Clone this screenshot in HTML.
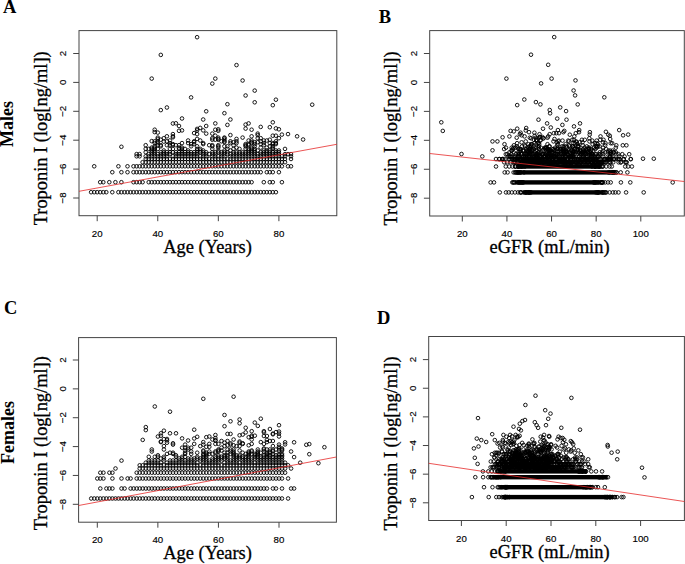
<!DOCTYPE html>
<html><head><meta charset="utf-8"><style>
html,body{margin:0;padding:0;background:#fff;}
svg{display:block;}
.t{font-family:"Liberation Sans",sans-serif;font-size:9.7px;text-anchor:middle;fill:#000;stroke:#000;stroke-width:0.15px;}
.lab{font-family:"Liberation Serif",serif;font-size:18.4px;text-anchor:middle;fill:#000;stroke:#000;stroke-width:0.3px;}
.let{font-family:"Liberation Serif",serif;font-size:18.5px;font-weight:bold;fill:#000;}
.grp{font-family:"Liberation Serif",serif;font-size:18px;font-weight:bold;text-anchor:middle;fill:#000;}
</style></head><body>
<svg width="685" height="564" viewBox="0 0 685 564">
<rect x="79" y="30.6" width="257.80" height="185.10" fill="none" stroke="#444" stroke-width="1"/><line x1="97.20" y1="215.7" x2="97.20" y2="221.20" stroke="#444" stroke-width="1"/><text class="t" x="97.20" y="236.9">20</text><line x1="157.77" y1="215.7" x2="157.77" y2="221.20" stroke="#444" stroke-width="1"/><text class="t" x="157.77" y="236.9">40</text><line x1="218.33" y1="215.7" x2="218.33" y2="221.20" stroke="#444" stroke-width="1"/><text class="t" x="218.33" y="236.9">60</text><line x1="278.90" y1="215.7" x2="278.90" y2="221.20" stroke="#444" stroke-width="1"/><text class="t" x="278.90" y="236.9">80</text><line x1="73.20" y1="198.00" x2="79" y2="198.00" stroke="#444" stroke-width="1"/><text class="t" transform="translate(66.4,198.00) rotate(-90)">−8</text><line x1="73.20" y1="169.10" x2="79" y2="169.10" stroke="#444" stroke-width="1"/><text class="t" transform="translate(66.4,169.10) rotate(-90)">−6</text><line x1="73.20" y1="140.20" x2="79" y2="140.20" stroke="#444" stroke-width="1"/><text class="t" transform="translate(66.4,140.20) rotate(-90)">−4</text><line x1="73.20" y1="111.30" x2="79" y2="111.30" stroke="#444" stroke-width="1"/><text class="t" transform="translate(66.4,111.30) rotate(-90)">−2</text><line x1="73.20" y1="82.40" x2="79" y2="82.40" stroke="#444" stroke-width="1"/><text class="t" transform="translate(66.4,82.40) rotate(-90)">0</text><line x1="73.20" y1="53.50" x2="79" y2="53.50" stroke="#444" stroke-width="1"/><text class="t" transform="translate(66.4,53.50) rotate(-90)">2</text><text class="lab" x="207.6" y="252.7">Age (Years)</text><text class="lab" transform="translate(47.0,138.3) rotate(-90)">Troponin I (log[ng/ml])</text><text class="let" x="3.0" y="12.6">A</text><rect x="429.7" y="30.6" width="254.60" height="185.40" fill="none" stroke="#444" stroke-width="1"/><line x1="462.30" y1="216.0" x2="462.30" y2="221.50" stroke="#444" stroke-width="1"/><text class="t" x="462.30" y="237.2">20</text><line x1="506.93" y1="216.0" x2="506.93" y2="221.50" stroke="#444" stroke-width="1"/><text class="t" x="506.93" y="237.2">40</text><line x1="551.55" y1="216.0" x2="551.55" y2="221.50" stroke="#444" stroke-width="1"/><text class="t" x="551.55" y="237.2">60</text><line x1="596.17" y1="216.0" x2="596.17" y2="221.50" stroke="#444" stroke-width="1"/><text class="t" x="596.17" y="237.2">80</text><line x1="640.80" y1="216.0" x2="640.80" y2="221.50" stroke="#444" stroke-width="1"/><text class="t" x="640.80" y="237.2">100</text><line x1="423.90" y1="198.20" x2="429.7" y2="198.20" stroke="#444" stroke-width="1"/><text class="t" transform="translate(416.6,198.20) rotate(-90)">−8</text><line x1="423.90" y1="169.26" x2="429.7" y2="169.26" stroke="#444" stroke-width="1"/><text class="t" transform="translate(416.6,169.26) rotate(-90)">−6</text><line x1="423.90" y1="140.32" x2="429.7" y2="140.32" stroke="#444" stroke-width="1"/><text class="t" transform="translate(416.6,140.32) rotate(-90)">−4</text><line x1="423.90" y1="111.38" x2="429.7" y2="111.38" stroke="#444" stroke-width="1"/><text class="t" transform="translate(416.6,111.38) rotate(-90)">−2</text><line x1="423.90" y1="82.44" x2="429.7" y2="82.44" stroke="#444" stroke-width="1"/><text class="t" transform="translate(416.6,82.44) rotate(-90)">0</text><line x1="423.90" y1="53.50" x2="429.7" y2="53.50" stroke="#444" stroke-width="1"/><text class="t" transform="translate(416.6,53.50) rotate(-90)">2</text><text class="lab" x="549.5" y="252.7">eGFR (mL/min)</text><text class="lab" transform="translate(397.0,138.5) rotate(-90)">Troponin I (log[ng/ml])</text><text class="let" x="378.8" y="22.8">B</text><rect x="78.6" y="337.6" width="257.80" height="184.60" fill="none" stroke="#444" stroke-width="1"/><line x1="97.30" y1="522.2" x2="97.30" y2="527.70" stroke="#444" stroke-width="1"/><text class="t" x="97.30" y="543.4">20</text><line x1="157.87" y1="522.2" x2="157.87" y2="527.70" stroke="#444" stroke-width="1"/><text class="t" x="157.87" y="543.4">40</text><line x1="218.43" y1="522.2" x2="218.43" y2="527.70" stroke="#444" stroke-width="1"/><text class="t" x="218.43" y="543.4">60</text><line x1="279.00" y1="522.2" x2="279.00" y2="527.70" stroke="#444" stroke-width="1"/><text class="t" x="279.00" y="543.4">80</text><line x1="72.80" y1="504.30" x2="78.6" y2="504.30" stroke="#444" stroke-width="1"/><text class="t" transform="translate(66.2,504.30) rotate(-90)">−8</text><line x1="72.80" y1="475.44" x2="78.6" y2="475.44" stroke="#444" stroke-width="1"/><text class="t" transform="translate(66.2,475.44) rotate(-90)">−6</text><line x1="72.80" y1="446.58" x2="78.6" y2="446.58" stroke="#444" stroke-width="1"/><text class="t" transform="translate(66.2,446.58) rotate(-90)">−4</text><line x1="72.80" y1="417.72" x2="78.6" y2="417.72" stroke="#444" stroke-width="1"/><text class="t" transform="translate(66.2,417.72) rotate(-90)">−2</text><line x1="72.80" y1="388.86" x2="78.6" y2="388.86" stroke="#444" stroke-width="1"/><text class="t" transform="translate(66.2,388.86) rotate(-90)">0</text><line x1="72.80" y1="360.00" x2="78.6" y2="360.00" stroke="#444" stroke-width="1"/><text class="t" transform="translate(66.2,360.00) rotate(-90)">2</text><text class="lab" x="207.6" y="559.2">Age (Years)</text><text class="lab" transform="translate(47.0,443.2) rotate(-90)">Troponin I (log[ng/ml])</text><text class="let" x="3.9" y="313.6">C</text><rect x="428.7" y="336.5" width="255.70" height="184.00" fill="none" stroke="#444" stroke-width="1"/><line x1="461.40" y1="520.5" x2="461.40" y2="526.00" stroke="#444" stroke-width="1"/><text class="t" x="461.40" y="541.9">20</text><line x1="506.20" y1="520.5" x2="506.20" y2="526.00" stroke="#444" stroke-width="1"/><text class="t" x="506.20" y="541.9">40</text><line x1="551.00" y1="520.5" x2="551.00" y2="526.00" stroke="#444" stroke-width="1"/><text class="t" x="551.00" y="541.9">60</text><line x1="595.80" y1="520.5" x2="595.80" y2="526.00" stroke="#444" stroke-width="1"/><text class="t" x="595.80" y="541.9">80</text><line x1="640.60" y1="520.5" x2="640.60" y2="526.00" stroke="#444" stroke-width="1"/><text class="t" x="640.60" y="541.9">100</text><line x1="422.90" y1="502.80" x2="428.7" y2="502.80" stroke="#444" stroke-width="1"/><text class="t" transform="translate(416.2,502.80) rotate(-90)">−8</text><line x1="422.90" y1="474.16" x2="428.7" y2="474.16" stroke="#444" stroke-width="1"/><text class="t" transform="translate(416.2,474.16) rotate(-90)">−6</text><line x1="422.90" y1="445.52" x2="428.7" y2="445.52" stroke="#444" stroke-width="1"/><text class="t" transform="translate(416.2,445.52) rotate(-90)">−4</text><line x1="422.90" y1="416.88" x2="428.7" y2="416.88" stroke="#444" stroke-width="1"/><text class="t" transform="translate(416.2,416.88) rotate(-90)">−2</text><line x1="422.90" y1="388.24" x2="428.7" y2="388.24" stroke="#444" stroke-width="1"/><text class="t" transform="translate(416.2,388.24) rotate(-90)">0</text><line x1="422.90" y1="359.60" x2="428.7" y2="359.60" stroke="#444" stroke-width="1"/><text class="t" transform="translate(416.2,359.60) rotate(-90)">2</text><text class="lab" x="549.5" y="557.7">eGFR (mL/min)</text><text class="lab" transform="translate(397.0,443.5) rotate(-90)">Troponin I (log[ng/ml])</text><text class="let" x="377.1" y="323.6">D</text><text class="grp" transform="translate(13.0,124.0) rotate(-90)">Males</text><text class="grp" transform="translate(13.8,432.5) rotate(-90)">Females</text>
<path d="M89.3 192.2a1.8 1.8 0 1 0 3.6 0a1.8 1.8 0 1 0-3.6 0M92.4 166.3a1.8 1.8 0 1 0 3.6 0a1.8 1.8 0 1 0-3.6 0M92.4 192.2a1.8 1.8 0 1 0 3.6 0a1.8 1.8 0 1 0-3.6 0M95.4 192.2a1.8 1.8 0 1 0 3.6 0a1.8 1.8 0 1 0-3.6 0M98.4 182.2a1.8 1.8 0 1 0 3.6 0a1.8 1.8 0 1 0-3.6 0M98.4 192.2a1.8 1.8 0 1 0 3.6 0a1.8 1.8 0 1 0-3.6 0M101.5 182.2a1.8 1.8 0 1 0 3.6 0a1.8 1.8 0 1 0-3.6 0M101.5 192.2a1.8 1.8 0 1 0 3.6 0a1.8 1.8 0 1 0-3.6 0M104.5 192.2a1.8 1.8 0 1 0 3.6 0a1.8 1.8 0 1 0-3.6 0M107.5 182.2a1.8 1.8 0 1 0 3.6 0a1.8 1.8 0 1 0-3.6 0M110.5 172.2a1.8 1.8 0 1 0 3.6 0a1.8 1.8 0 1 0-3.6 0M110.5 192.2a1.8 1.8 0 1 0 3.6 0a1.8 1.8 0 1 0-3.6 0M113.6 182.2a1.8 1.8 0 1 0 3.6 0a1.8 1.8 0 1 0-3.6 0M116.6 166.3a1.8 1.8 0 1 0 3.6 0a1.8 1.8 0 1 0-3.6 0M116.6 192.2a1.8 1.8 0 1 0 3.6 0a1.8 1.8 0 1 0-3.6 0M119.6 146.8a1.8 1.8 0 1 0 3.6 0a1.8 1.8 0 1 0-3.6 0M119.6 172.2a1.8 1.8 0 1 0 3.6 0a1.8 1.8 0 1 0-3.6 0M119.6 182.2a1.8 1.8 0 1 0 3.6 0a1.8 1.8 0 1 0-3.6 0M119.6 192.2a1.8 1.8 0 1 0 3.6 0a1.8 1.8 0 1 0-3.6 0M122.7 192.2a1.8 1.8 0 1 0 3.6 0a1.8 1.8 0 1 0-3.6 0M125.7 166.3a1.8 1.8 0 1 0 3.6 0a1.8 1.8 0 1 0-3.6 0M125.7 172.2a1.8 1.8 0 1 0 3.6 0a1.8 1.8 0 1 0-3.6 0M125.7 192.2a1.8 1.8 0 1 0 3.6 0a1.8 1.8 0 1 0-3.6 0M128.7 192.2a1.8 1.8 0 1 0 3.6 0a1.8 1.8 0 1 0-3.6 0M131.7 166.3a1.8 1.8 0 1 0 3.6 0a1.8 1.8 0 1 0-3.6 0M131.7 172.2a1.8 1.8 0 1 0 3.6 0a1.8 1.8 0 1 0-3.6 0M131.7 182.2a1.8 1.8 0 1 0 3.6 0a1.8 1.8 0 1 0-3.6 0M131.7 192.2a1.8 1.8 0 1 0 3.6 0a1.8 1.8 0 1 0-3.6 0M134.8 154.1a1.8 1.8 0 1 0 3.6 0a1.8 1.8 0 1 0-3.6 0M134.8 156.3a1.8 1.8 0 1 0 3.6 0a1.8 1.8 0 1 0-3.6 0M134.8 166.3a1.8 1.8 0 1 0 3.6 0a1.8 1.8 0 1 0-3.6 0M134.8 172.2a1.8 1.8 0 1 0 3.6 0a1.8 1.8 0 1 0-3.6 0M134.8 182.2a1.8 1.8 0 1 0 3.6 0a1.8 1.8 0 1 0-3.6 0M134.8 192.2a1.8 1.8 0 1 0 3.6 0a1.8 1.8 0 1 0-3.6 0M137.8 154.1a1.8 1.8 0 1 0 3.6 0a1.8 1.8 0 1 0-3.6 0M137.8 156.3a1.8 1.8 0 1 0 3.6 0a1.8 1.8 0 1 0-3.6 0M137.8 166.3a1.8 1.8 0 1 0 3.6 0a1.8 1.8 0 1 0-3.6 0M137.8 172.2a1.8 1.8 0 1 0 3.6 0a1.8 1.8 0 1 0-3.6 0M137.8 182.2a1.8 1.8 0 1 0 3.6 0a1.8 1.8 0 1 0-3.6 0M137.8 192.2a1.8 1.8 0 1 0 3.6 0a1.8 1.8 0 1 0-3.6 0M140.8 162.2a1.8 1.8 0 1 0 3.6 0a1.8 1.8 0 1 0-3.6 0M140.8 166.3a1.8 1.8 0 1 0 3.6 0a1.8 1.8 0 1 0-3.6 0M140.8 172.2a1.8 1.8 0 1 0 3.6 0a1.8 1.8 0 1 0-3.6 0M140.8 182.2a1.8 1.8 0 1 0 3.6 0a1.8 1.8 0 1 0-3.6 0M140.8 192.2a1.8 1.8 0 1 0 3.6 0a1.8 1.8 0 1 0-3.6 0M143.9 145.2a1.8 1.8 0 1 0 3.6 0a1.8 1.8 0 1 0-3.6 0M143.9 148.9a1.8 1.8 0 1 0 3.6 0a1.8 1.8 0 1 0-3.6 0M143.9 152.2a1.8 1.8 0 1 0 3.6 0a1.8 1.8 0 1 0-3.6 0M143.9 156.3a1.8 1.8 0 1 0 3.6 0a1.8 1.8 0 1 0-3.6 0M143.9 159.0a1.8 1.8 0 1 0 3.6 0a1.8 1.8 0 1 0-3.6 0M143.9 162.2a1.8 1.8 0 1 0 3.6 0a1.8 1.8 0 1 0-3.6 0M143.9 166.3a1.8 1.8 0 1 0 3.6 0a1.8 1.8 0 1 0-3.6 0M143.9 172.2a1.8 1.8 0 1 0 3.6 0a1.8 1.8 0 1 0-3.6 0M143.9 192.2a1.8 1.8 0 1 0 3.6 0a1.8 1.8 0 1 0-3.6 0M146.9 148.9a1.8 1.8 0 1 0 3.6 0a1.8 1.8 0 1 0-3.6 0M146.9 154.1a1.8 1.8 0 1 0 3.6 0a1.8 1.8 0 1 0-3.6 0M146.9 156.3a1.8 1.8 0 1 0 3.6 0a1.8 1.8 0 1 0-3.6 0M146.9 159.0a1.8 1.8 0 1 0 3.6 0a1.8 1.8 0 1 0-3.6 0M146.9 162.2a1.8 1.8 0 1 0 3.6 0a1.8 1.8 0 1 0-3.6 0M146.9 166.3a1.8 1.8 0 1 0 3.6 0a1.8 1.8 0 1 0-3.6 0M146.9 172.2a1.8 1.8 0 1 0 3.6 0a1.8 1.8 0 1 0-3.6 0M146.9 182.2a1.8 1.8 0 1 0 3.6 0a1.8 1.8 0 1 0-3.6 0M146.9 192.2a1.8 1.8 0 1 0 3.6 0a1.8 1.8 0 1 0-3.6 0M149.9 78.6a1.8 1.8 0 1 0 3.6 0a1.8 1.8 0 1 0-3.6 0M149.9 141.1a1.8 1.8 0 1 0 3.6 0a1.8 1.8 0 1 0-3.6 0M149.9 147.6a1.8 1.8 0 1 0 3.6 0a1.8 1.8 0 1 0-3.6 0M149.9 148.9a1.8 1.8 0 1 0 3.6 0a1.8 1.8 0 1 0-3.6 0M149.9 150.5a1.8 1.8 0 1 0 3.6 0a1.8 1.8 0 1 0-3.6 0M149.9 152.2a1.8 1.8 0 1 0 3.6 0a1.8 1.8 0 1 0-3.6 0M149.9 154.1a1.8 1.8 0 1 0 3.6 0a1.8 1.8 0 1 0-3.6 0M149.9 156.3a1.8 1.8 0 1 0 3.6 0a1.8 1.8 0 1 0-3.6 0M149.9 159.0a1.8 1.8 0 1 0 3.6 0a1.8 1.8 0 1 0-3.6 0M149.9 162.2a1.8 1.8 0 1 0 3.6 0a1.8 1.8 0 1 0-3.6 0M149.9 166.3a1.8 1.8 0 1 0 3.6 0a1.8 1.8 0 1 0-3.6 0M149.9 172.2a1.8 1.8 0 1 0 3.6 0a1.8 1.8 0 1 0-3.6 0M149.9 182.2a1.8 1.8 0 1 0 3.6 0a1.8 1.8 0 1 0-3.6 0M149.9 192.2a1.8 1.8 0 1 0 3.6 0a1.8 1.8 0 1 0-3.6 0M152.9 129.7a1.8 1.8 0 1 0 3.6 0a1.8 1.8 0 1 0-3.6 0M152.9 132.1a1.8 1.8 0 1 0 3.6 0a1.8 1.8 0 1 0-3.6 0M152.9 141.3a1.8 1.8 0 1 0 3.6 0a1.8 1.8 0 1 0-3.6 0M152.9 143.1a1.8 1.8 0 1 0 3.6 0a1.8 1.8 0 1 0-3.6 0M152.9 146.3a1.8 1.8 0 1 0 3.6 0a1.8 1.8 0 1 0-3.6 0M152.9 147.6a1.8 1.8 0 1 0 3.6 0a1.8 1.8 0 1 0-3.6 0M152.9 148.9a1.8 1.8 0 1 0 3.6 0a1.8 1.8 0 1 0-3.6 0M152.9 150.5a1.8 1.8 0 1 0 3.6 0a1.8 1.8 0 1 0-3.6 0M152.9 152.2a1.8 1.8 0 1 0 3.6 0a1.8 1.8 0 1 0-3.6 0M152.9 154.1a1.8 1.8 0 1 0 3.6 0a1.8 1.8 0 1 0-3.6 0M152.9 156.3a1.8 1.8 0 1 0 3.6 0a1.8 1.8 0 1 0-3.6 0M152.9 159.0a1.8 1.8 0 1 0 3.6 0a1.8 1.8 0 1 0-3.6 0M152.9 162.2a1.8 1.8 0 1 0 3.6 0a1.8 1.8 0 1 0-3.6 0M152.9 166.3a1.8 1.8 0 1 0 3.6 0a1.8 1.8 0 1 0-3.6 0M152.9 172.2a1.8 1.8 0 1 0 3.6 0a1.8 1.8 0 1 0-3.6 0M152.9 182.2a1.8 1.8 0 1 0 3.6 0a1.8 1.8 0 1 0-3.6 0M152.9 192.2a1.8 1.8 0 1 0 3.6 0a1.8 1.8 0 1 0-3.6 0M156.0 132.6a1.8 1.8 0 1 0 3.6 0a1.8 1.8 0 1 0-3.6 0M156.0 137.6a1.8 1.8 0 1 0 3.6 0a1.8 1.8 0 1 0-3.6 0M156.0 138.9a1.8 1.8 0 1 0 3.6 0a1.8 1.8 0 1 0-3.6 0M156.0 141.3a1.8 1.8 0 1 0 3.6 0a1.8 1.8 0 1 0-3.6 0M156.0 143.1a1.8 1.8 0 1 0 3.6 0a1.8 1.8 0 1 0-3.6 0M156.0 145.2a1.8 1.8 0 1 0 3.6 0a1.8 1.8 0 1 0-3.6 0M156.0 148.9a1.8 1.8 0 1 0 3.6 0a1.8 1.8 0 1 0-3.6 0M156.0 154.1a1.8 1.8 0 1 0 3.6 0a1.8 1.8 0 1 0-3.6 0M156.0 156.3a1.8 1.8 0 1 0 3.6 0a1.8 1.8 0 1 0-3.6 0M156.0 159.0a1.8 1.8 0 1 0 3.6 0a1.8 1.8 0 1 0-3.6 0M156.0 162.2a1.8 1.8 0 1 0 3.6 0a1.8 1.8 0 1 0-3.6 0M156.0 166.3a1.8 1.8 0 1 0 3.6 0a1.8 1.8 0 1 0-3.6 0M156.0 172.2a1.8 1.8 0 1 0 3.6 0a1.8 1.8 0 1 0-3.6 0M156.0 182.2a1.8 1.8 0 1 0 3.6 0a1.8 1.8 0 1 0-3.6 0M156.0 192.2a1.8 1.8 0 1 0 3.6 0a1.8 1.8 0 1 0-3.6 0M159.0 54.9a1.8 1.8 0 1 0 3.6 0a1.8 1.8 0 1 0-3.6 0M159.0 110.1a1.8 1.8 0 1 0 3.6 0a1.8 1.8 0 1 0-3.6 0M159.0 139.7a1.8 1.8 0 1 0 3.6 0a1.8 1.8 0 1 0-3.6 0M159.0 145.2a1.8 1.8 0 1 0 3.6 0a1.8 1.8 0 1 0-3.6 0M159.0 146.3a1.8 1.8 0 1 0 3.6 0a1.8 1.8 0 1 0-3.6 0M159.0 152.2a1.8 1.8 0 1 0 3.6 0a1.8 1.8 0 1 0-3.6 0M159.0 154.1a1.8 1.8 0 1 0 3.6 0a1.8 1.8 0 1 0-3.6 0M159.0 156.3a1.8 1.8 0 1 0 3.6 0a1.8 1.8 0 1 0-3.6 0M159.0 159.0a1.8 1.8 0 1 0 3.6 0a1.8 1.8 0 1 0-3.6 0M159.0 162.2a1.8 1.8 0 1 0 3.6 0a1.8 1.8 0 1 0-3.6 0M159.0 166.3a1.8 1.8 0 1 0 3.6 0a1.8 1.8 0 1 0-3.6 0M159.0 172.2a1.8 1.8 0 1 0 3.6 0a1.8 1.8 0 1 0-3.6 0M159.0 182.2a1.8 1.8 0 1 0 3.6 0a1.8 1.8 0 1 0-3.6 0M159.0 192.2a1.8 1.8 0 1 0 3.6 0a1.8 1.8 0 1 0-3.6 0M162.0 138.2a1.8 1.8 0 1 0 3.6 0a1.8 1.8 0 1 0-3.6 0M162.0 141.6a1.8 1.8 0 1 0 3.6 0a1.8 1.8 0 1 0-3.6 0M162.0 150.5a1.8 1.8 0 1 0 3.6 0a1.8 1.8 0 1 0-3.6 0M162.0 152.2a1.8 1.8 0 1 0 3.6 0a1.8 1.8 0 1 0-3.6 0M162.0 154.1a1.8 1.8 0 1 0 3.6 0a1.8 1.8 0 1 0-3.6 0M162.0 156.3a1.8 1.8 0 1 0 3.6 0a1.8 1.8 0 1 0-3.6 0M162.0 159.0a1.8 1.8 0 1 0 3.6 0a1.8 1.8 0 1 0-3.6 0M162.0 162.2a1.8 1.8 0 1 0 3.6 0a1.8 1.8 0 1 0-3.6 0M162.0 166.3a1.8 1.8 0 1 0 3.6 0a1.8 1.8 0 1 0-3.6 0M162.0 172.2a1.8 1.8 0 1 0 3.6 0a1.8 1.8 0 1 0-3.6 0M162.0 182.2a1.8 1.8 0 1 0 3.6 0a1.8 1.8 0 1 0-3.6 0M162.0 192.2a1.8 1.8 0 1 0 3.6 0a1.8 1.8 0 1 0-3.6 0M165.1 107.5a1.8 1.8 0 1 0 3.6 0a1.8 1.8 0 1 0-3.6 0M165.1 136.3a1.8 1.8 0 1 0 3.6 0a1.8 1.8 0 1 0-3.6 0M165.1 141.3a1.8 1.8 0 1 0 3.6 0a1.8 1.8 0 1 0-3.6 0M165.1 145.2a1.8 1.8 0 1 0 3.6 0a1.8 1.8 0 1 0-3.6 0M165.1 152.2a1.8 1.8 0 1 0 3.6 0a1.8 1.8 0 1 0-3.6 0M165.1 154.1a1.8 1.8 0 1 0 3.6 0a1.8 1.8 0 1 0-3.6 0M165.1 156.3a1.8 1.8 0 1 0 3.6 0a1.8 1.8 0 1 0-3.6 0M165.1 159.0a1.8 1.8 0 1 0 3.6 0a1.8 1.8 0 1 0-3.6 0M165.1 162.2a1.8 1.8 0 1 0 3.6 0a1.8 1.8 0 1 0-3.6 0M165.1 166.3a1.8 1.8 0 1 0 3.6 0a1.8 1.8 0 1 0-3.6 0M165.1 172.2a1.8 1.8 0 1 0 3.6 0a1.8 1.8 0 1 0-3.6 0M165.1 182.2a1.8 1.8 0 1 0 3.6 0a1.8 1.8 0 1 0-3.6 0M165.1 192.2a1.8 1.8 0 1 0 3.6 0a1.8 1.8 0 1 0-3.6 0M168.1 140.5a1.8 1.8 0 1 0 3.6 0a1.8 1.8 0 1 0-3.6 0M168.1 143.1a1.8 1.8 0 1 0 3.6 0a1.8 1.8 0 1 0-3.6 0M168.1 145.2a1.8 1.8 0 1 0 3.6 0a1.8 1.8 0 1 0-3.6 0M168.1 148.9a1.8 1.8 0 1 0 3.6 0a1.8 1.8 0 1 0-3.6 0M168.1 152.2a1.8 1.8 0 1 0 3.6 0a1.8 1.8 0 1 0-3.6 0M168.1 154.1a1.8 1.8 0 1 0 3.6 0a1.8 1.8 0 1 0-3.6 0M168.1 159.0a1.8 1.8 0 1 0 3.6 0a1.8 1.8 0 1 0-3.6 0M168.1 162.2a1.8 1.8 0 1 0 3.6 0a1.8 1.8 0 1 0-3.6 0M168.1 166.3a1.8 1.8 0 1 0 3.6 0a1.8 1.8 0 1 0-3.6 0M168.1 172.2a1.8 1.8 0 1 0 3.6 0a1.8 1.8 0 1 0-3.6 0M168.1 182.2a1.8 1.8 0 1 0 3.6 0a1.8 1.8 0 1 0-3.6 0M168.1 192.2a1.8 1.8 0 1 0 3.6 0a1.8 1.8 0 1 0-3.6 0M171.1 123.5a1.8 1.8 0 1 0 3.6 0a1.8 1.8 0 1 0-3.6 0M171.1 134.1a1.8 1.8 0 1 0 3.6 0a1.8 1.8 0 1 0-3.6 0M171.1 136.3a1.8 1.8 0 1 0 3.6 0a1.8 1.8 0 1 0-3.6 0M171.1 137.3a1.8 1.8 0 1 0 3.6 0a1.8 1.8 0 1 0-3.6 0M171.1 144.1a1.8 1.8 0 1 0 3.6 0a1.8 1.8 0 1 0-3.6 0M171.1 145.2a1.8 1.8 0 1 0 3.6 0a1.8 1.8 0 1 0-3.6 0M171.1 148.9a1.8 1.8 0 1 0 3.6 0a1.8 1.8 0 1 0-3.6 0M171.1 152.2a1.8 1.8 0 1 0 3.6 0a1.8 1.8 0 1 0-3.6 0M171.1 156.3a1.8 1.8 0 1 0 3.6 0a1.8 1.8 0 1 0-3.6 0M171.1 159.0a1.8 1.8 0 1 0 3.6 0a1.8 1.8 0 1 0-3.6 0M171.1 162.2a1.8 1.8 0 1 0 3.6 0a1.8 1.8 0 1 0-3.6 0M171.1 166.3a1.8 1.8 0 1 0 3.6 0a1.8 1.8 0 1 0-3.6 0M171.1 172.2a1.8 1.8 0 1 0 3.6 0a1.8 1.8 0 1 0-3.6 0M171.1 182.2a1.8 1.8 0 1 0 3.6 0a1.8 1.8 0 1 0-3.6 0M171.1 192.2a1.8 1.8 0 1 0 3.6 0a1.8 1.8 0 1 0-3.6 0M174.1 123.3a1.8 1.8 0 1 0 3.6 0a1.8 1.8 0 1 0-3.6 0M174.1 145.2a1.8 1.8 0 1 0 3.6 0a1.8 1.8 0 1 0-3.6 0M174.1 152.2a1.8 1.8 0 1 0 3.6 0a1.8 1.8 0 1 0-3.6 0M174.1 154.1a1.8 1.8 0 1 0 3.6 0a1.8 1.8 0 1 0-3.6 0M174.1 156.3a1.8 1.8 0 1 0 3.6 0a1.8 1.8 0 1 0-3.6 0M174.1 159.0a1.8 1.8 0 1 0 3.6 0a1.8 1.8 0 1 0-3.6 0M174.1 162.2a1.8 1.8 0 1 0 3.6 0a1.8 1.8 0 1 0-3.6 0M174.1 166.3a1.8 1.8 0 1 0 3.6 0a1.8 1.8 0 1 0-3.6 0M174.1 172.2a1.8 1.8 0 1 0 3.6 0a1.8 1.8 0 1 0-3.6 0M174.1 182.2a1.8 1.8 0 1 0 3.6 0a1.8 1.8 0 1 0-3.6 0M174.1 192.2a1.8 1.8 0 1 0 3.6 0a1.8 1.8 0 1 0-3.6 0M177.2 126.0a1.8 1.8 0 1 0 3.6 0a1.8 1.8 0 1 0-3.6 0M177.2 130.8a1.8 1.8 0 1 0 3.6 0a1.8 1.8 0 1 0-3.6 0M177.2 145.2a1.8 1.8 0 1 0 3.6 0a1.8 1.8 0 1 0-3.6 0M177.2 147.6a1.8 1.8 0 1 0 3.6 0a1.8 1.8 0 1 0-3.6 0M177.2 148.9a1.8 1.8 0 1 0 3.6 0a1.8 1.8 0 1 0-3.6 0M177.2 152.2a1.8 1.8 0 1 0 3.6 0a1.8 1.8 0 1 0-3.6 0M177.2 154.1a1.8 1.8 0 1 0 3.6 0a1.8 1.8 0 1 0-3.6 0M177.2 156.3a1.8 1.8 0 1 0 3.6 0a1.8 1.8 0 1 0-3.6 0M177.2 159.0a1.8 1.8 0 1 0 3.6 0a1.8 1.8 0 1 0-3.6 0M177.2 162.2a1.8 1.8 0 1 0 3.6 0a1.8 1.8 0 1 0-3.6 0M177.2 166.3a1.8 1.8 0 1 0 3.6 0a1.8 1.8 0 1 0-3.6 0M177.2 172.2a1.8 1.8 0 1 0 3.6 0a1.8 1.8 0 1 0-3.6 0M177.2 182.2a1.8 1.8 0 1 0 3.6 0a1.8 1.8 0 1 0-3.6 0M177.2 192.2a1.8 1.8 0 1 0 3.6 0a1.8 1.8 0 1 0-3.6 0M180.2 118.5a1.8 1.8 0 1 0 3.6 0a1.8 1.8 0 1 0-3.6 0M180.2 130.4a1.8 1.8 0 1 0 3.6 0a1.8 1.8 0 1 0-3.6 0M180.2 143.1a1.8 1.8 0 1 0 3.6 0a1.8 1.8 0 1 0-3.6 0M180.2 147.6a1.8 1.8 0 1 0 3.6 0a1.8 1.8 0 1 0-3.6 0M180.2 148.9a1.8 1.8 0 1 0 3.6 0a1.8 1.8 0 1 0-3.6 0M180.2 150.5a1.8 1.8 0 1 0 3.6 0a1.8 1.8 0 1 0-3.6 0M180.2 152.2a1.8 1.8 0 1 0 3.6 0a1.8 1.8 0 1 0-3.6 0M180.2 154.1a1.8 1.8 0 1 0 3.6 0a1.8 1.8 0 1 0-3.6 0M180.2 156.3a1.8 1.8 0 1 0 3.6 0a1.8 1.8 0 1 0-3.6 0M180.2 159.0a1.8 1.8 0 1 0 3.6 0a1.8 1.8 0 1 0-3.6 0M180.2 162.2a1.8 1.8 0 1 0 3.6 0a1.8 1.8 0 1 0-3.6 0M180.2 166.3a1.8 1.8 0 1 0 3.6 0a1.8 1.8 0 1 0-3.6 0M180.2 172.2a1.8 1.8 0 1 0 3.6 0a1.8 1.8 0 1 0-3.6 0M180.2 182.2a1.8 1.8 0 1 0 3.6 0a1.8 1.8 0 1 0-3.6 0M180.2 192.2a1.8 1.8 0 1 0 3.6 0a1.8 1.8 0 1 0-3.6 0M183.2 148.9a1.8 1.8 0 1 0 3.6 0a1.8 1.8 0 1 0-3.6 0M183.2 152.2a1.8 1.8 0 1 0 3.6 0a1.8 1.8 0 1 0-3.6 0M183.2 154.1a1.8 1.8 0 1 0 3.6 0a1.8 1.8 0 1 0-3.6 0M183.2 156.3a1.8 1.8 0 1 0 3.6 0a1.8 1.8 0 1 0-3.6 0M183.2 159.0a1.8 1.8 0 1 0 3.6 0a1.8 1.8 0 1 0-3.6 0M183.2 162.2a1.8 1.8 0 1 0 3.6 0a1.8 1.8 0 1 0-3.6 0M183.2 166.3a1.8 1.8 0 1 0 3.6 0a1.8 1.8 0 1 0-3.6 0M183.2 172.2a1.8 1.8 0 1 0 3.6 0a1.8 1.8 0 1 0-3.6 0M183.2 182.2a1.8 1.8 0 1 0 3.6 0a1.8 1.8 0 1 0-3.6 0M183.2 192.2a1.8 1.8 0 1 0 3.6 0a1.8 1.8 0 1 0-3.6 0M186.3 140.5a1.8 1.8 0 1 0 3.6 0a1.8 1.8 0 1 0-3.6 0M186.3 143.1a1.8 1.8 0 1 0 3.6 0a1.8 1.8 0 1 0-3.6 0M186.3 150.5a1.8 1.8 0 1 0 3.6 0a1.8 1.8 0 1 0-3.6 0M186.3 152.2a1.8 1.8 0 1 0 3.6 0a1.8 1.8 0 1 0-3.6 0M186.3 154.1a1.8 1.8 0 1 0 3.6 0a1.8 1.8 0 1 0-3.6 0M186.3 156.3a1.8 1.8 0 1 0 3.6 0a1.8 1.8 0 1 0-3.6 0M186.3 159.0a1.8 1.8 0 1 0 3.6 0a1.8 1.8 0 1 0-3.6 0M186.3 162.2a1.8 1.8 0 1 0 3.6 0a1.8 1.8 0 1 0-3.6 0M186.3 166.3a1.8 1.8 0 1 0 3.6 0a1.8 1.8 0 1 0-3.6 0M186.3 172.2a1.8 1.8 0 1 0 3.6 0a1.8 1.8 0 1 0-3.6 0M186.3 182.2a1.8 1.8 0 1 0 3.6 0a1.8 1.8 0 1 0-3.6 0M186.3 192.2a1.8 1.8 0 1 0 3.6 0a1.8 1.8 0 1 0-3.6 0M189.3 97.4a1.8 1.8 0 1 0 3.6 0a1.8 1.8 0 1 0-3.6 0M189.3 144.1a1.8 1.8 0 1 0 3.6 0a1.8 1.8 0 1 0-3.6 0M189.3 146.3a1.8 1.8 0 1 0 3.6 0a1.8 1.8 0 1 0-3.6 0M189.3 152.2a1.8 1.8 0 1 0 3.6 0a1.8 1.8 0 1 0-3.6 0M189.3 154.1a1.8 1.8 0 1 0 3.6 0a1.8 1.8 0 1 0-3.6 0M189.3 156.3a1.8 1.8 0 1 0 3.6 0a1.8 1.8 0 1 0-3.6 0M189.3 159.0a1.8 1.8 0 1 0 3.6 0a1.8 1.8 0 1 0-3.6 0M189.3 162.2a1.8 1.8 0 1 0 3.6 0a1.8 1.8 0 1 0-3.6 0M189.3 166.3a1.8 1.8 0 1 0 3.6 0a1.8 1.8 0 1 0-3.6 0M189.3 172.2a1.8 1.8 0 1 0 3.6 0a1.8 1.8 0 1 0-3.6 0M189.3 182.2a1.8 1.8 0 1 0 3.6 0a1.8 1.8 0 1 0-3.6 0M189.3 192.2a1.8 1.8 0 1 0 3.6 0a1.8 1.8 0 1 0-3.6 0M192.3 133.1a1.8 1.8 0 1 0 3.6 0a1.8 1.8 0 1 0-3.6 0M192.3 141.3a1.8 1.8 0 1 0 3.6 0a1.8 1.8 0 1 0-3.6 0M192.3 142.2a1.8 1.8 0 1 0 3.6 0a1.8 1.8 0 1 0-3.6 0M192.3 144.1a1.8 1.8 0 1 0 3.6 0a1.8 1.8 0 1 0-3.6 0M192.3 152.2a1.8 1.8 0 1 0 3.6 0a1.8 1.8 0 1 0-3.6 0M192.3 154.1a1.8 1.8 0 1 0 3.6 0a1.8 1.8 0 1 0-3.6 0M192.3 156.3a1.8 1.8 0 1 0 3.6 0a1.8 1.8 0 1 0-3.6 0M192.3 159.0a1.8 1.8 0 1 0 3.6 0a1.8 1.8 0 1 0-3.6 0M192.3 162.2a1.8 1.8 0 1 0 3.6 0a1.8 1.8 0 1 0-3.6 0M192.3 166.3a1.8 1.8 0 1 0 3.6 0a1.8 1.8 0 1 0-3.6 0M192.3 172.2a1.8 1.8 0 1 0 3.6 0a1.8 1.8 0 1 0-3.6 0M192.3 182.2a1.8 1.8 0 1 0 3.6 0a1.8 1.8 0 1 0-3.6 0M192.3 192.2a1.8 1.8 0 1 0 3.6 0a1.8 1.8 0 1 0-3.6 0M195.3 37.2a1.8 1.8 0 1 0 3.6 0a1.8 1.8 0 1 0-3.6 0M195.3 128.9a1.8 1.8 0 1 0 3.6 0a1.8 1.8 0 1 0-3.6 0M195.3 130.4a1.8 1.8 0 1 0 3.6 0a1.8 1.8 0 1 0-3.6 0M195.3 134.1a1.8 1.8 0 1 0 3.6 0a1.8 1.8 0 1 0-3.6 0M195.3 138.9a1.8 1.8 0 1 0 3.6 0a1.8 1.8 0 1 0-3.6 0M195.3 146.3a1.8 1.8 0 1 0 3.6 0a1.8 1.8 0 1 0-3.6 0M195.3 148.9a1.8 1.8 0 1 0 3.6 0a1.8 1.8 0 1 0-3.6 0M195.3 150.5a1.8 1.8 0 1 0 3.6 0a1.8 1.8 0 1 0-3.6 0M195.3 152.2a1.8 1.8 0 1 0 3.6 0a1.8 1.8 0 1 0-3.6 0M195.3 154.1a1.8 1.8 0 1 0 3.6 0a1.8 1.8 0 1 0-3.6 0M195.3 156.3a1.8 1.8 0 1 0 3.6 0a1.8 1.8 0 1 0-3.6 0M195.3 159.0a1.8 1.8 0 1 0 3.6 0a1.8 1.8 0 1 0-3.6 0M195.3 162.2a1.8 1.8 0 1 0 3.6 0a1.8 1.8 0 1 0-3.6 0M195.3 166.3a1.8 1.8 0 1 0 3.6 0a1.8 1.8 0 1 0-3.6 0M195.3 172.2a1.8 1.8 0 1 0 3.6 0a1.8 1.8 0 1 0-3.6 0M195.3 182.2a1.8 1.8 0 1 0 3.6 0a1.8 1.8 0 1 0-3.6 0M195.3 192.2a1.8 1.8 0 1 0 3.6 0a1.8 1.8 0 1 0-3.6 0M198.4 127.9a1.8 1.8 0 1 0 3.6 0a1.8 1.8 0 1 0-3.6 0M198.4 140.5a1.8 1.8 0 1 0 3.6 0a1.8 1.8 0 1 0-3.6 0M198.4 148.9a1.8 1.8 0 1 0 3.6 0a1.8 1.8 0 1 0-3.6 0M198.4 150.5a1.8 1.8 0 1 0 3.6 0a1.8 1.8 0 1 0-3.6 0M198.4 152.2a1.8 1.8 0 1 0 3.6 0a1.8 1.8 0 1 0-3.6 0M198.4 156.3a1.8 1.8 0 1 0 3.6 0a1.8 1.8 0 1 0-3.6 0M198.4 159.0a1.8 1.8 0 1 0 3.6 0a1.8 1.8 0 1 0-3.6 0M198.4 162.2a1.8 1.8 0 1 0 3.6 0a1.8 1.8 0 1 0-3.6 0M198.4 166.3a1.8 1.8 0 1 0 3.6 0a1.8 1.8 0 1 0-3.6 0M198.4 172.2a1.8 1.8 0 1 0 3.6 0a1.8 1.8 0 1 0-3.6 0M198.4 182.2a1.8 1.8 0 1 0 3.6 0a1.8 1.8 0 1 0-3.6 0M198.4 192.2a1.8 1.8 0 1 0 3.6 0a1.8 1.8 0 1 0-3.6 0M201.4 119.5a1.8 1.8 0 1 0 3.6 0a1.8 1.8 0 1 0-3.6 0M201.4 130.4a1.8 1.8 0 1 0 3.6 0a1.8 1.8 0 1 0-3.6 0M201.4 143.1a1.8 1.8 0 1 0 3.6 0a1.8 1.8 0 1 0-3.6 0M201.4 144.1a1.8 1.8 0 1 0 3.6 0a1.8 1.8 0 1 0-3.6 0M201.4 150.5a1.8 1.8 0 1 0 3.6 0a1.8 1.8 0 1 0-3.6 0M201.4 152.2a1.8 1.8 0 1 0 3.6 0a1.8 1.8 0 1 0-3.6 0M201.4 154.1a1.8 1.8 0 1 0 3.6 0a1.8 1.8 0 1 0-3.6 0M201.4 156.3a1.8 1.8 0 1 0 3.6 0a1.8 1.8 0 1 0-3.6 0M201.4 159.0a1.8 1.8 0 1 0 3.6 0a1.8 1.8 0 1 0-3.6 0M201.4 162.2a1.8 1.8 0 1 0 3.6 0a1.8 1.8 0 1 0-3.6 0M201.4 166.3a1.8 1.8 0 1 0 3.6 0a1.8 1.8 0 1 0-3.6 0M201.4 172.2a1.8 1.8 0 1 0 3.6 0a1.8 1.8 0 1 0-3.6 0M201.4 182.2a1.8 1.8 0 1 0 3.6 0a1.8 1.8 0 1 0-3.6 0M201.4 192.2a1.8 1.8 0 1 0 3.6 0a1.8 1.8 0 1 0-3.6 0M204.4 111.3a1.8 1.8 0 1 0 3.6 0a1.8 1.8 0 1 0-3.6 0M204.4 126.0a1.8 1.8 0 1 0 3.6 0a1.8 1.8 0 1 0-3.6 0M204.4 133.6a1.8 1.8 0 1 0 3.6 0a1.8 1.8 0 1 0-3.6 0M204.4 152.2a1.8 1.8 0 1 0 3.6 0a1.8 1.8 0 1 0-3.6 0M204.4 154.1a1.8 1.8 0 1 0 3.6 0a1.8 1.8 0 1 0-3.6 0M204.4 156.3a1.8 1.8 0 1 0 3.6 0a1.8 1.8 0 1 0-3.6 0M204.4 159.0a1.8 1.8 0 1 0 3.6 0a1.8 1.8 0 1 0-3.6 0M204.4 162.2a1.8 1.8 0 1 0 3.6 0a1.8 1.8 0 1 0-3.6 0M204.4 166.3a1.8 1.8 0 1 0 3.6 0a1.8 1.8 0 1 0-3.6 0M204.4 172.2a1.8 1.8 0 1 0 3.6 0a1.8 1.8 0 1 0-3.6 0M204.4 182.2a1.8 1.8 0 1 0 3.6 0a1.8 1.8 0 1 0-3.6 0M204.4 192.2a1.8 1.8 0 1 0 3.6 0a1.8 1.8 0 1 0-3.6 0M207.4 145.2a1.8 1.8 0 1 0 3.6 0a1.8 1.8 0 1 0-3.6 0M207.4 154.1a1.8 1.8 0 1 0 3.6 0a1.8 1.8 0 1 0-3.6 0M207.4 159.0a1.8 1.8 0 1 0 3.6 0a1.8 1.8 0 1 0-3.6 0M207.4 162.2a1.8 1.8 0 1 0 3.6 0a1.8 1.8 0 1 0-3.6 0M207.4 166.3a1.8 1.8 0 1 0 3.6 0a1.8 1.8 0 1 0-3.6 0M207.4 172.2a1.8 1.8 0 1 0 3.6 0a1.8 1.8 0 1 0-3.6 0M207.4 182.2a1.8 1.8 0 1 0 3.6 0a1.8 1.8 0 1 0-3.6 0M207.4 192.2a1.8 1.8 0 1 0 3.6 0a1.8 1.8 0 1 0-3.6 0M210.5 83.6a1.8 1.8 0 1 0 3.6 0a1.8 1.8 0 1 0-3.6 0M210.5 133.6a1.8 1.8 0 1 0 3.6 0a1.8 1.8 0 1 0-3.6 0M210.5 138.2a1.8 1.8 0 1 0 3.6 0a1.8 1.8 0 1 0-3.6 0M210.5 139.7a1.8 1.8 0 1 0 3.6 0a1.8 1.8 0 1 0-3.6 0M210.5 145.2a1.8 1.8 0 1 0 3.6 0a1.8 1.8 0 1 0-3.6 0M210.5 146.3a1.8 1.8 0 1 0 3.6 0a1.8 1.8 0 1 0-3.6 0M210.5 148.9a1.8 1.8 0 1 0 3.6 0a1.8 1.8 0 1 0-3.6 0M210.5 152.2a1.8 1.8 0 1 0 3.6 0a1.8 1.8 0 1 0-3.6 0M210.5 154.1a1.8 1.8 0 1 0 3.6 0a1.8 1.8 0 1 0-3.6 0M210.5 156.3a1.8 1.8 0 1 0 3.6 0a1.8 1.8 0 1 0-3.6 0M210.5 159.0a1.8 1.8 0 1 0 3.6 0a1.8 1.8 0 1 0-3.6 0M210.5 162.2a1.8 1.8 0 1 0 3.6 0a1.8 1.8 0 1 0-3.6 0M210.5 166.3a1.8 1.8 0 1 0 3.6 0a1.8 1.8 0 1 0-3.6 0M210.5 172.2a1.8 1.8 0 1 0 3.6 0a1.8 1.8 0 1 0-3.6 0M210.5 182.2a1.8 1.8 0 1 0 3.6 0a1.8 1.8 0 1 0-3.6 0M210.5 192.2a1.8 1.8 0 1 0 3.6 0a1.8 1.8 0 1 0-3.6 0M213.5 78.6a1.8 1.8 0 1 0 3.6 0a1.8 1.8 0 1 0-3.6 0M213.5 123.4a1.8 1.8 0 1 0 3.6 0a1.8 1.8 0 1 0-3.6 0M213.5 129.7a1.8 1.8 0 1 0 3.6 0a1.8 1.8 0 1 0-3.6 0M213.5 135.7a1.8 1.8 0 1 0 3.6 0a1.8 1.8 0 1 0-3.6 0M213.5 139.7a1.8 1.8 0 1 0 3.6 0a1.8 1.8 0 1 0-3.6 0M213.5 152.2a1.8 1.8 0 1 0 3.6 0a1.8 1.8 0 1 0-3.6 0M213.5 154.1a1.8 1.8 0 1 0 3.6 0a1.8 1.8 0 1 0-3.6 0M213.5 156.3a1.8 1.8 0 1 0 3.6 0a1.8 1.8 0 1 0-3.6 0M213.5 159.0a1.8 1.8 0 1 0 3.6 0a1.8 1.8 0 1 0-3.6 0M213.5 162.2a1.8 1.8 0 1 0 3.6 0a1.8 1.8 0 1 0-3.6 0M213.5 166.3a1.8 1.8 0 1 0 3.6 0a1.8 1.8 0 1 0-3.6 0M213.5 172.2a1.8 1.8 0 1 0 3.6 0a1.8 1.8 0 1 0-3.6 0M213.5 182.2a1.8 1.8 0 1 0 3.6 0a1.8 1.8 0 1 0-3.6 0M213.5 192.2a1.8 1.8 0 1 0 3.6 0a1.8 1.8 0 1 0-3.6 0M216.5 129.3a1.8 1.8 0 1 0 3.6 0a1.8 1.8 0 1 0-3.6 0M216.5 130.8a1.8 1.8 0 1 0 3.6 0a1.8 1.8 0 1 0-3.6 0M216.5 137.6a1.8 1.8 0 1 0 3.6 0a1.8 1.8 0 1 0-3.6 0M216.5 138.9a1.8 1.8 0 1 0 3.6 0a1.8 1.8 0 1 0-3.6 0M216.5 139.7a1.8 1.8 0 1 0 3.6 0a1.8 1.8 0 1 0-3.6 0M216.5 145.2a1.8 1.8 0 1 0 3.6 0a1.8 1.8 0 1 0-3.6 0M216.5 146.3a1.8 1.8 0 1 0 3.6 0a1.8 1.8 0 1 0-3.6 0M216.5 147.6a1.8 1.8 0 1 0 3.6 0a1.8 1.8 0 1 0-3.6 0M216.5 150.5a1.8 1.8 0 1 0 3.6 0a1.8 1.8 0 1 0-3.6 0M216.5 152.2a1.8 1.8 0 1 0 3.6 0a1.8 1.8 0 1 0-3.6 0M216.5 156.3a1.8 1.8 0 1 0 3.6 0a1.8 1.8 0 1 0-3.6 0M216.5 159.0a1.8 1.8 0 1 0 3.6 0a1.8 1.8 0 1 0-3.6 0M216.5 162.2a1.8 1.8 0 1 0 3.6 0a1.8 1.8 0 1 0-3.6 0M216.5 166.3a1.8 1.8 0 1 0 3.6 0a1.8 1.8 0 1 0-3.6 0M216.5 172.2a1.8 1.8 0 1 0 3.6 0a1.8 1.8 0 1 0-3.6 0M216.5 182.2a1.8 1.8 0 1 0 3.6 0a1.8 1.8 0 1 0-3.6 0M216.5 192.2a1.8 1.8 0 1 0 3.6 0a1.8 1.8 0 1 0-3.6 0M219.6 141.3a1.8 1.8 0 1 0 3.6 0a1.8 1.8 0 1 0-3.6 0M219.6 152.2a1.8 1.8 0 1 0 3.6 0a1.8 1.8 0 1 0-3.6 0M219.6 154.1a1.8 1.8 0 1 0 3.6 0a1.8 1.8 0 1 0-3.6 0M219.6 156.3a1.8 1.8 0 1 0 3.6 0a1.8 1.8 0 1 0-3.6 0M219.6 159.0a1.8 1.8 0 1 0 3.6 0a1.8 1.8 0 1 0-3.6 0M219.6 162.2a1.8 1.8 0 1 0 3.6 0a1.8 1.8 0 1 0-3.6 0M219.6 166.3a1.8 1.8 0 1 0 3.6 0a1.8 1.8 0 1 0-3.6 0M219.6 172.2a1.8 1.8 0 1 0 3.6 0a1.8 1.8 0 1 0-3.6 0M219.6 182.2a1.8 1.8 0 1 0 3.6 0a1.8 1.8 0 1 0-3.6 0M219.6 192.2a1.8 1.8 0 1 0 3.6 0a1.8 1.8 0 1 0-3.6 0M222.6 113.2a1.8 1.8 0 1 0 3.6 0a1.8 1.8 0 1 0-3.6 0M222.6 137.6a1.8 1.8 0 1 0 3.6 0a1.8 1.8 0 1 0-3.6 0M222.6 138.2a1.8 1.8 0 1 0 3.6 0a1.8 1.8 0 1 0-3.6 0M222.6 139.7a1.8 1.8 0 1 0 3.6 0a1.8 1.8 0 1 0-3.6 0M222.6 141.3a1.8 1.8 0 1 0 3.6 0a1.8 1.8 0 1 0-3.6 0M222.6 142.2a1.8 1.8 0 1 0 3.6 0a1.8 1.8 0 1 0-3.6 0M222.6 146.3a1.8 1.8 0 1 0 3.6 0a1.8 1.8 0 1 0-3.6 0M222.6 150.5a1.8 1.8 0 1 0 3.6 0a1.8 1.8 0 1 0-3.6 0M222.6 152.2a1.8 1.8 0 1 0 3.6 0a1.8 1.8 0 1 0-3.6 0M222.6 154.1a1.8 1.8 0 1 0 3.6 0a1.8 1.8 0 1 0-3.6 0M222.6 156.3a1.8 1.8 0 1 0 3.6 0a1.8 1.8 0 1 0-3.6 0M222.6 159.0a1.8 1.8 0 1 0 3.6 0a1.8 1.8 0 1 0-3.6 0M222.6 162.2a1.8 1.8 0 1 0 3.6 0a1.8 1.8 0 1 0-3.6 0M222.6 166.3a1.8 1.8 0 1 0 3.6 0a1.8 1.8 0 1 0-3.6 0M222.6 172.2a1.8 1.8 0 1 0 3.6 0a1.8 1.8 0 1 0-3.6 0M222.6 182.2a1.8 1.8 0 1 0 3.6 0a1.8 1.8 0 1 0-3.6 0M222.6 192.2a1.8 1.8 0 1 0 3.6 0a1.8 1.8 0 1 0-3.6 0M225.6 104.2a1.8 1.8 0 1 0 3.6 0a1.8 1.8 0 1 0-3.6 0M225.6 124.9a1.8 1.8 0 1 0 3.6 0a1.8 1.8 0 1 0-3.6 0M225.6 146.3a1.8 1.8 0 1 0 3.6 0a1.8 1.8 0 1 0-3.6 0M225.6 148.9a1.8 1.8 0 1 0 3.6 0a1.8 1.8 0 1 0-3.6 0M225.6 152.2a1.8 1.8 0 1 0 3.6 0a1.8 1.8 0 1 0-3.6 0M225.6 154.1a1.8 1.8 0 1 0 3.6 0a1.8 1.8 0 1 0-3.6 0M225.6 159.0a1.8 1.8 0 1 0 3.6 0a1.8 1.8 0 1 0-3.6 0M225.6 162.2a1.8 1.8 0 1 0 3.6 0a1.8 1.8 0 1 0-3.6 0M225.6 166.3a1.8 1.8 0 1 0 3.6 0a1.8 1.8 0 1 0-3.6 0M225.6 172.2a1.8 1.8 0 1 0 3.6 0a1.8 1.8 0 1 0-3.6 0M225.6 182.2a1.8 1.8 0 1 0 3.6 0a1.8 1.8 0 1 0-3.6 0M225.6 192.2a1.8 1.8 0 1 0 3.6 0a1.8 1.8 0 1 0-3.6 0M228.6 119.5a1.8 1.8 0 1 0 3.6 0a1.8 1.8 0 1 0-3.6 0M228.6 135.1a1.8 1.8 0 1 0 3.6 0a1.8 1.8 0 1 0-3.6 0M228.6 141.3a1.8 1.8 0 1 0 3.6 0a1.8 1.8 0 1 0-3.6 0M228.6 143.1a1.8 1.8 0 1 0 3.6 0a1.8 1.8 0 1 0-3.6 0M228.6 150.5a1.8 1.8 0 1 0 3.6 0a1.8 1.8 0 1 0-3.6 0M228.6 154.1a1.8 1.8 0 1 0 3.6 0a1.8 1.8 0 1 0-3.6 0M228.6 156.3a1.8 1.8 0 1 0 3.6 0a1.8 1.8 0 1 0-3.6 0M228.6 159.0a1.8 1.8 0 1 0 3.6 0a1.8 1.8 0 1 0-3.6 0M228.6 162.2a1.8 1.8 0 1 0 3.6 0a1.8 1.8 0 1 0-3.6 0M228.6 166.3a1.8 1.8 0 1 0 3.6 0a1.8 1.8 0 1 0-3.6 0M228.6 172.2a1.8 1.8 0 1 0 3.6 0a1.8 1.8 0 1 0-3.6 0M228.6 182.2a1.8 1.8 0 1 0 3.6 0a1.8 1.8 0 1 0-3.6 0M228.6 192.2a1.8 1.8 0 1 0 3.6 0a1.8 1.8 0 1 0-3.6 0M231.7 142.2a1.8 1.8 0 1 0 3.6 0a1.8 1.8 0 1 0-3.6 0M231.7 145.2a1.8 1.8 0 1 0 3.6 0a1.8 1.8 0 1 0-3.6 0M231.7 148.9a1.8 1.8 0 1 0 3.6 0a1.8 1.8 0 1 0-3.6 0M231.7 152.2a1.8 1.8 0 1 0 3.6 0a1.8 1.8 0 1 0-3.6 0M231.7 154.1a1.8 1.8 0 1 0 3.6 0a1.8 1.8 0 1 0-3.6 0M231.7 156.3a1.8 1.8 0 1 0 3.6 0a1.8 1.8 0 1 0-3.6 0M231.7 159.0a1.8 1.8 0 1 0 3.6 0a1.8 1.8 0 1 0-3.6 0M231.7 162.2a1.8 1.8 0 1 0 3.6 0a1.8 1.8 0 1 0-3.6 0M231.7 166.3a1.8 1.8 0 1 0 3.6 0a1.8 1.8 0 1 0-3.6 0M231.7 172.2a1.8 1.8 0 1 0 3.6 0a1.8 1.8 0 1 0-3.6 0M231.7 182.2a1.8 1.8 0 1 0 3.6 0a1.8 1.8 0 1 0-3.6 0M231.7 192.2a1.8 1.8 0 1 0 3.6 0a1.8 1.8 0 1 0-3.6 0M234.7 65.1a1.8 1.8 0 1 0 3.6 0a1.8 1.8 0 1 0-3.6 0M234.7 138.9a1.8 1.8 0 1 0 3.6 0a1.8 1.8 0 1 0-3.6 0M234.7 141.3a1.8 1.8 0 1 0 3.6 0a1.8 1.8 0 1 0-3.6 0M234.7 143.1a1.8 1.8 0 1 0 3.6 0a1.8 1.8 0 1 0-3.6 0M234.7 147.6a1.8 1.8 0 1 0 3.6 0a1.8 1.8 0 1 0-3.6 0M234.7 152.2a1.8 1.8 0 1 0 3.6 0a1.8 1.8 0 1 0-3.6 0M234.7 154.1a1.8 1.8 0 1 0 3.6 0a1.8 1.8 0 1 0-3.6 0M234.7 156.3a1.8 1.8 0 1 0 3.6 0a1.8 1.8 0 1 0-3.6 0M234.7 159.0a1.8 1.8 0 1 0 3.6 0a1.8 1.8 0 1 0-3.6 0M234.7 162.2a1.8 1.8 0 1 0 3.6 0a1.8 1.8 0 1 0-3.6 0M234.7 166.3a1.8 1.8 0 1 0 3.6 0a1.8 1.8 0 1 0-3.6 0M234.7 172.2a1.8 1.8 0 1 0 3.6 0a1.8 1.8 0 1 0-3.6 0M234.7 182.2a1.8 1.8 0 1 0 3.6 0a1.8 1.8 0 1 0-3.6 0M234.7 192.2a1.8 1.8 0 1 0 3.6 0a1.8 1.8 0 1 0-3.6 0M237.7 148.9a1.8 1.8 0 1 0 3.6 0a1.8 1.8 0 1 0-3.6 0M237.7 152.2a1.8 1.8 0 1 0 3.6 0a1.8 1.8 0 1 0-3.6 0M237.7 154.1a1.8 1.8 0 1 0 3.6 0a1.8 1.8 0 1 0-3.6 0M237.7 156.3a1.8 1.8 0 1 0 3.6 0a1.8 1.8 0 1 0-3.6 0M237.7 159.0a1.8 1.8 0 1 0 3.6 0a1.8 1.8 0 1 0-3.6 0M237.7 162.2a1.8 1.8 0 1 0 3.6 0a1.8 1.8 0 1 0-3.6 0M237.7 166.3a1.8 1.8 0 1 0 3.6 0a1.8 1.8 0 1 0-3.6 0M237.7 172.2a1.8 1.8 0 1 0 3.6 0a1.8 1.8 0 1 0-3.6 0M237.7 182.2a1.8 1.8 0 1 0 3.6 0a1.8 1.8 0 1 0-3.6 0M237.7 192.2a1.8 1.8 0 1 0 3.6 0a1.8 1.8 0 1 0-3.6 0M240.8 80.5a1.8 1.8 0 1 0 3.6 0a1.8 1.8 0 1 0-3.6 0M240.8 137.6a1.8 1.8 0 1 0 3.6 0a1.8 1.8 0 1 0-3.6 0M240.8 152.2a1.8 1.8 0 1 0 3.6 0a1.8 1.8 0 1 0-3.6 0M240.8 154.1a1.8 1.8 0 1 0 3.6 0a1.8 1.8 0 1 0-3.6 0M240.8 156.3a1.8 1.8 0 1 0 3.6 0a1.8 1.8 0 1 0-3.6 0M240.8 159.0a1.8 1.8 0 1 0 3.6 0a1.8 1.8 0 1 0-3.6 0M240.8 162.2a1.8 1.8 0 1 0 3.6 0a1.8 1.8 0 1 0-3.6 0M240.8 166.3a1.8 1.8 0 1 0 3.6 0a1.8 1.8 0 1 0-3.6 0M240.8 172.2a1.8 1.8 0 1 0 3.6 0a1.8 1.8 0 1 0-3.6 0M240.8 182.2a1.8 1.8 0 1 0 3.6 0a1.8 1.8 0 1 0-3.6 0M240.8 192.2a1.8 1.8 0 1 0 3.6 0a1.8 1.8 0 1 0-3.6 0M243.8 95.5a1.8 1.8 0 1 0 3.6 0a1.8 1.8 0 1 0-3.6 0M243.8 124.6a1.8 1.8 0 1 0 3.6 0a1.8 1.8 0 1 0-3.6 0M243.8 128.6a1.8 1.8 0 1 0 3.6 0a1.8 1.8 0 1 0-3.6 0M243.8 144.1a1.8 1.8 0 1 0 3.6 0a1.8 1.8 0 1 0-3.6 0M243.8 145.2a1.8 1.8 0 1 0 3.6 0a1.8 1.8 0 1 0-3.6 0M243.8 146.3a1.8 1.8 0 1 0 3.6 0a1.8 1.8 0 1 0-3.6 0M243.8 148.9a1.8 1.8 0 1 0 3.6 0a1.8 1.8 0 1 0-3.6 0M243.8 152.2a1.8 1.8 0 1 0 3.6 0a1.8 1.8 0 1 0-3.6 0M243.8 154.1a1.8 1.8 0 1 0 3.6 0a1.8 1.8 0 1 0-3.6 0M243.8 156.3a1.8 1.8 0 1 0 3.6 0a1.8 1.8 0 1 0-3.6 0M243.8 159.0a1.8 1.8 0 1 0 3.6 0a1.8 1.8 0 1 0-3.6 0M243.8 162.2a1.8 1.8 0 1 0 3.6 0a1.8 1.8 0 1 0-3.6 0M243.8 166.3a1.8 1.8 0 1 0 3.6 0a1.8 1.8 0 1 0-3.6 0M243.8 172.2a1.8 1.8 0 1 0 3.6 0a1.8 1.8 0 1 0-3.6 0M243.8 182.2a1.8 1.8 0 1 0 3.6 0a1.8 1.8 0 1 0-3.6 0M243.8 192.2a1.8 1.8 0 1 0 3.6 0a1.8 1.8 0 1 0-3.6 0M246.8 123.4a1.8 1.8 0 1 0 3.6 0a1.8 1.8 0 1 0-3.6 0M246.8 140.5a1.8 1.8 0 1 0 3.6 0a1.8 1.8 0 1 0-3.6 0M246.8 144.1a1.8 1.8 0 1 0 3.6 0a1.8 1.8 0 1 0-3.6 0M246.8 145.2a1.8 1.8 0 1 0 3.6 0a1.8 1.8 0 1 0-3.6 0M246.8 148.9a1.8 1.8 0 1 0 3.6 0a1.8 1.8 0 1 0-3.6 0M246.8 150.5a1.8 1.8 0 1 0 3.6 0a1.8 1.8 0 1 0-3.6 0M246.8 152.2a1.8 1.8 0 1 0 3.6 0a1.8 1.8 0 1 0-3.6 0M246.8 154.1a1.8 1.8 0 1 0 3.6 0a1.8 1.8 0 1 0-3.6 0M246.8 156.3a1.8 1.8 0 1 0 3.6 0a1.8 1.8 0 1 0-3.6 0M246.8 159.0a1.8 1.8 0 1 0 3.6 0a1.8 1.8 0 1 0-3.6 0M246.8 162.2a1.8 1.8 0 1 0 3.6 0a1.8 1.8 0 1 0-3.6 0M246.8 166.3a1.8 1.8 0 1 0 3.6 0a1.8 1.8 0 1 0-3.6 0M246.8 172.2a1.8 1.8 0 1 0 3.6 0a1.8 1.8 0 1 0-3.6 0M246.8 182.2a1.8 1.8 0 1 0 3.6 0a1.8 1.8 0 1 0-3.6 0M246.8 192.2a1.8 1.8 0 1 0 3.6 0a1.8 1.8 0 1 0-3.6 0M249.8 129.7a1.8 1.8 0 1 0 3.6 0a1.8 1.8 0 1 0-3.6 0M249.8 136.3a1.8 1.8 0 1 0 3.6 0a1.8 1.8 0 1 0-3.6 0M249.8 140.5a1.8 1.8 0 1 0 3.6 0a1.8 1.8 0 1 0-3.6 0M249.8 142.2a1.8 1.8 0 1 0 3.6 0a1.8 1.8 0 1 0-3.6 0M249.8 143.1a1.8 1.8 0 1 0 3.6 0a1.8 1.8 0 1 0-3.6 0M249.8 147.6a1.8 1.8 0 1 0 3.6 0a1.8 1.8 0 1 0-3.6 0M249.8 148.9a1.8 1.8 0 1 0 3.6 0a1.8 1.8 0 1 0-3.6 0M249.8 150.5a1.8 1.8 0 1 0 3.6 0a1.8 1.8 0 1 0-3.6 0M249.8 152.2a1.8 1.8 0 1 0 3.6 0a1.8 1.8 0 1 0-3.6 0M249.8 154.1a1.8 1.8 0 1 0 3.6 0a1.8 1.8 0 1 0-3.6 0M249.8 156.3a1.8 1.8 0 1 0 3.6 0a1.8 1.8 0 1 0-3.6 0M249.8 159.0a1.8 1.8 0 1 0 3.6 0a1.8 1.8 0 1 0-3.6 0M249.8 162.2a1.8 1.8 0 1 0 3.6 0a1.8 1.8 0 1 0-3.6 0M249.8 166.3a1.8 1.8 0 1 0 3.6 0a1.8 1.8 0 1 0-3.6 0M249.8 172.2a1.8 1.8 0 1 0 3.6 0a1.8 1.8 0 1 0-3.6 0M249.8 182.2a1.8 1.8 0 1 0 3.6 0a1.8 1.8 0 1 0-3.6 0M249.8 192.2a1.8 1.8 0 1 0 3.6 0a1.8 1.8 0 1 0-3.6 0M252.9 90.6a1.8 1.8 0 1 0 3.6 0a1.8 1.8 0 1 0-3.6 0M252.9 102.3a1.8 1.8 0 1 0 3.6 0a1.8 1.8 0 1 0-3.6 0M252.9 142.2a1.8 1.8 0 1 0 3.6 0a1.8 1.8 0 1 0-3.6 0M252.9 144.1a1.8 1.8 0 1 0 3.6 0a1.8 1.8 0 1 0-3.6 0M252.9 146.3a1.8 1.8 0 1 0 3.6 0a1.8 1.8 0 1 0-3.6 0M252.9 148.9a1.8 1.8 0 1 0 3.6 0a1.8 1.8 0 1 0-3.6 0M252.9 150.5a1.8 1.8 0 1 0 3.6 0a1.8 1.8 0 1 0-3.6 0M252.9 152.2a1.8 1.8 0 1 0 3.6 0a1.8 1.8 0 1 0-3.6 0M252.9 154.1a1.8 1.8 0 1 0 3.6 0a1.8 1.8 0 1 0-3.6 0M252.9 156.3a1.8 1.8 0 1 0 3.6 0a1.8 1.8 0 1 0-3.6 0M252.9 159.0a1.8 1.8 0 1 0 3.6 0a1.8 1.8 0 1 0-3.6 0M252.9 162.2a1.8 1.8 0 1 0 3.6 0a1.8 1.8 0 1 0-3.6 0M252.9 166.3a1.8 1.8 0 1 0 3.6 0a1.8 1.8 0 1 0-3.6 0M252.9 172.2a1.8 1.8 0 1 0 3.6 0a1.8 1.8 0 1 0-3.6 0M252.9 192.2a1.8 1.8 0 1 0 3.6 0a1.8 1.8 0 1 0-3.6 0M255.9 133.6a1.8 1.8 0 1 0 3.6 0a1.8 1.8 0 1 0-3.6 0M255.9 135.1a1.8 1.8 0 1 0 3.6 0a1.8 1.8 0 1 0-3.6 0M255.9 138.2a1.8 1.8 0 1 0 3.6 0a1.8 1.8 0 1 0-3.6 0M255.9 142.2a1.8 1.8 0 1 0 3.6 0a1.8 1.8 0 1 0-3.6 0M255.9 150.5a1.8 1.8 0 1 0 3.6 0a1.8 1.8 0 1 0-3.6 0M255.9 154.1a1.8 1.8 0 1 0 3.6 0a1.8 1.8 0 1 0-3.6 0M255.9 156.3a1.8 1.8 0 1 0 3.6 0a1.8 1.8 0 1 0-3.6 0M255.9 159.0a1.8 1.8 0 1 0 3.6 0a1.8 1.8 0 1 0-3.6 0M255.9 162.2a1.8 1.8 0 1 0 3.6 0a1.8 1.8 0 1 0-3.6 0M255.9 166.3a1.8 1.8 0 1 0 3.6 0a1.8 1.8 0 1 0-3.6 0M255.9 172.2a1.8 1.8 0 1 0 3.6 0a1.8 1.8 0 1 0-3.6 0M255.9 192.2a1.8 1.8 0 1 0 3.6 0a1.8 1.8 0 1 0-3.6 0M258.9 126.9a1.8 1.8 0 1 0 3.6 0a1.8 1.8 0 1 0-3.6 0M258.9 138.2a1.8 1.8 0 1 0 3.6 0a1.8 1.8 0 1 0-3.6 0M258.9 141.3a1.8 1.8 0 1 0 3.6 0a1.8 1.8 0 1 0-3.6 0M258.9 144.1a1.8 1.8 0 1 0 3.6 0a1.8 1.8 0 1 0-3.6 0M258.9 147.6a1.8 1.8 0 1 0 3.6 0a1.8 1.8 0 1 0-3.6 0M258.9 152.2a1.8 1.8 0 1 0 3.6 0a1.8 1.8 0 1 0-3.6 0M258.9 154.1a1.8 1.8 0 1 0 3.6 0a1.8 1.8 0 1 0-3.6 0M258.9 156.3a1.8 1.8 0 1 0 3.6 0a1.8 1.8 0 1 0-3.6 0M258.9 159.0a1.8 1.8 0 1 0 3.6 0a1.8 1.8 0 1 0-3.6 0M258.9 162.2a1.8 1.8 0 1 0 3.6 0a1.8 1.8 0 1 0-3.6 0M258.9 166.3a1.8 1.8 0 1 0 3.6 0a1.8 1.8 0 1 0-3.6 0M258.9 172.2a1.8 1.8 0 1 0 3.6 0a1.8 1.8 0 1 0-3.6 0M258.9 192.2a1.8 1.8 0 1 0 3.6 0a1.8 1.8 0 1 0-3.6 0M262.0 140.5a1.8 1.8 0 1 0 3.6 0a1.8 1.8 0 1 0-3.6 0M262.0 143.1a1.8 1.8 0 1 0 3.6 0a1.8 1.8 0 1 0-3.6 0M262.0 145.2a1.8 1.8 0 1 0 3.6 0a1.8 1.8 0 1 0-3.6 0M262.0 150.5a1.8 1.8 0 1 0 3.6 0a1.8 1.8 0 1 0-3.6 0M262.0 152.2a1.8 1.8 0 1 0 3.6 0a1.8 1.8 0 1 0-3.6 0M262.0 154.1a1.8 1.8 0 1 0 3.6 0a1.8 1.8 0 1 0-3.6 0M262.0 156.3a1.8 1.8 0 1 0 3.6 0a1.8 1.8 0 1 0-3.6 0M262.0 159.0a1.8 1.8 0 1 0 3.6 0a1.8 1.8 0 1 0-3.6 0M262.0 162.2a1.8 1.8 0 1 0 3.6 0a1.8 1.8 0 1 0-3.6 0M262.0 166.3a1.8 1.8 0 1 0 3.6 0a1.8 1.8 0 1 0-3.6 0M262.0 182.2a1.8 1.8 0 1 0 3.6 0a1.8 1.8 0 1 0-3.6 0M262.0 192.2a1.8 1.8 0 1 0 3.6 0a1.8 1.8 0 1 0-3.6 0M265.0 140.5a1.8 1.8 0 1 0 3.6 0a1.8 1.8 0 1 0-3.6 0M265.0 147.6a1.8 1.8 0 1 0 3.6 0a1.8 1.8 0 1 0-3.6 0M265.0 150.5a1.8 1.8 0 1 0 3.6 0a1.8 1.8 0 1 0-3.6 0M265.0 152.2a1.8 1.8 0 1 0 3.6 0a1.8 1.8 0 1 0-3.6 0M265.0 154.1a1.8 1.8 0 1 0 3.6 0a1.8 1.8 0 1 0-3.6 0M265.0 156.3a1.8 1.8 0 1 0 3.6 0a1.8 1.8 0 1 0-3.6 0M265.0 159.0a1.8 1.8 0 1 0 3.6 0a1.8 1.8 0 1 0-3.6 0M265.0 162.2a1.8 1.8 0 1 0 3.6 0a1.8 1.8 0 1 0-3.6 0M265.0 166.3a1.8 1.8 0 1 0 3.6 0a1.8 1.8 0 1 0-3.6 0M265.0 172.2a1.8 1.8 0 1 0 3.6 0a1.8 1.8 0 1 0-3.6 0M265.0 192.2a1.8 1.8 0 1 0 3.6 0a1.8 1.8 0 1 0-3.6 0M268.0 127.2a1.8 1.8 0 1 0 3.6 0a1.8 1.8 0 1 0-3.6 0M268.0 139.7a1.8 1.8 0 1 0 3.6 0a1.8 1.8 0 1 0-3.6 0M268.0 143.1a1.8 1.8 0 1 0 3.6 0a1.8 1.8 0 1 0-3.6 0M268.0 146.3a1.8 1.8 0 1 0 3.6 0a1.8 1.8 0 1 0-3.6 0M268.0 150.5a1.8 1.8 0 1 0 3.6 0a1.8 1.8 0 1 0-3.6 0M268.0 152.2a1.8 1.8 0 1 0 3.6 0a1.8 1.8 0 1 0-3.6 0M268.0 154.1a1.8 1.8 0 1 0 3.6 0a1.8 1.8 0 1 0-3.6 0M268.0 156.3a1.8 1.8 0 1 0 3.6 0a1.8 1.8 0 1 0-3.6 0M268.0 159.0a1.8 1.8 0 1 0 3.6 0a1.8 1.8 0 1 0-3.6 0M268.0 162.2a1.8 1.8 0 1 0 3.6 0a1.8 1.8 0 1 0-3.6 0M268.0 166.3a1.8 1.8 0 1 0 3.6 0a1.8 1.8 0 1 0-3.6 0M268.0 172.2a1.8 1.8 0 1 0 3.6 0a1.8 1.8 0 1 0-3.6 0M268.0 182.2a1.8 1.8 0 1 0 3.6 0a1.8 1.8 0 1 0-3.6 0M268.0 192.2a1.8 1.8 0 1 0 3.6 0a1.8 1.8 0 1 0-3.6 0M271.0 105.2a1.8 1.8 0 1 0 3.6 0a1.8 1.8 0 1 0-3.6 0M271.0 122.3a1.8 1.8 0 1 0 3.6 0a1.8 1.8 0 1 0-3.6 0M271.0 135.7a1.8 1.8 0 1 0 3.6 0a1.8 1.8 0 1 0-3.6 0M271.0 143.1a1.8 1.8 0 1 0 3.6 0a1.8 1.8 0 1 0-3.6 0M271.0 144.1a1.8 1.8 0 1 0 3.6 0a1.8 1.8 0 1 0-3.6 0M271.0 146.3a1.8 1.8 0 1 0 3.6 0a1.8 1.8 0 1 0-3.6 0M271.0 147.6a1.8 1.8 0 1 0 3.6 0a1.8 1.8 0 1 0-3.6 0M271.0 148.9a1.8 1.8 0 1 0 3.6 0a1.8 1.8 0 1 0-3.6 0M271.0 152.2a1.8 1.8 0 1 0 3.6 0a1.8 1.8 0 1 0-3.6 0M271.0 154.1a1.8 1.8 0 1 0 3.6 0a1.8 1.8 0 1 0-3.6 0M271.0 156.3a1.8 1.8 0 1 0 3.6 0a1.8 1.8 0 1 0-3.6 0M271.0 159.0a1.8 1.8 0 1 0 3.6 0a1.8 1.8 0 1 0-3.6 0M271.0 162.2a1.8 1.8 0 1 0 3.6 0a1.8 1.8 0 1 0-3.6 0M271.0 166.3a1.8 1.8 0 1 0 3.6 0a1.8 1.8 0 1 0-3.6 0M271.0 172.2a1.8 1.8 0 1 0 3.6 0a1.8 1.8 0 1 0-3.6 0M271.0 182.2a1.8 1.8 0 1 0 3.6 0a1.8 1.8 0 1 0-3.6 0M271.0 192.2a1.8 1.8 0 1 0 3.6 0a1.8 1.8 0 1 0-3.6 0M274.1 99.7a1.8 1.8 0 1 0 3.6 0a1.8 1.8 0 1 0-3.6 0M274.1 128.4a1.8 1.8 0 1 0 3.6 0a1.8 1.8 0 1 0-3.6 0M274.1 135.7a1.8 1.8 0 1 0 3.6 0a1.8 1.8 0 1 0-3.6 0M274.1 141.3a1.8 1.8 0 1 0 3.6 0a1.8 1.8 0 1 0-3.6 0M274.1 143.1a1.8 1.8 0 1 0 3.6 0a1.8 1.8 0 1 0-3.6 0M274.1 144.1a1.8 1.8 0 1 0 3.6 0a1.8 1.8 0 1 0-3.6 0M274.1 150.5a1.8 1.8 0 1 0 3.6 0a1.8 1.8 0 1 0-3.6 0M274.1 152.2a1.8 1.8 0 1 0 3.6 0a1.8 1.8 0 1 0-3.6 0M274.1 154.1a1.8 1.8 0 1 0 3.6 0a1.8 1.8 0 1 0-3.6 0M274.1 156.3a1.8 1.8 0 1 0 3.6 0a1.8 1.8 0 1 0-3.6 0M274.1 159.0a1.8 1.8 0 1 0 3.6 0a1.8 1.8 0 1 0-3.6 0M274.1 162.2a1.8 1.8 0 1 0 3.6 0a1.8 1.8 0 1 0-3.6 0M274.1 166.3a1.8 1.8 0 1 0 3.6 0a1.8 1.8 0 1 0-3.6 0M274.1 192.2a1.8 1.8 0 1 0 3.6 0a1.8 1.8 0 1 0-3.6 0M277.1 129.3a1.8 1.8 0 1 0 3.6 0a1.8 1.8 0 1 0-3.6 0M277.1 138.2a1.8 1.8 0 1 0 3.6 0a1.8 1.8 0 1 0-3.6 0M277.1 150.5a1.8 1.8 0 1 0 3.6 0a1.8 1.8 0 1 0-3.6 0M277.1 152.2a1.8 1.8 0 1 0 3.6 0a1.8 1.8 0 1 0-3.6 0M277.1 154.1a1.8 1.8 0 1 0 3.6 0a1.8 1.8 0 1 0-3.6 0M277.1 156.3a1.8 1.8 0 1 0 3.6 0a1.8 1.8 0 1 0-3.6 0M277.1 159.0a1.8 1.8 0 1 0 3.6 0a1.8 1.8 0 1 0-3.6 0M277.1 162.2a1.8 1.8 0 1 0 3.6 0a1.8 1.8 0 1 0-3.6 0M277.1 166.3a1.8 1.8 0 1 0 3.6 0a1.8 1.8 0 1 0-3.6 0M277.1 172.2a1.8 1.8 0 1 0 3.6 0a1.8 1.8 0 1 0-3.6 0M280.1 134.6a1.8 1.8 0 1 0 3.6 0a1.8 1.8 0 1 0-3.6 0M280.1 156.3a1.8 1.8 0 1 0 3.6 0a1.8 1.8 0 1 0-3.6 0M280.1 159.0a1.8 1.8 0 1 0 3.6 0a1.8 1.8 0 1 0-3.6 0M280.1 162.2a1.8 1.8 0 1 0 3.6 0a1.8 1.8 0 1 0-3.6 0M280.1 166.3a1.8 1.8 0 1 0 3.6 0a1.8 1.8 0 1 0-3.6 0M280.1 182.2a1.8 1.8 0 1 0 3.6 0a1.8 1.8 0 1 0-3.6 0M283.2 148.9a1.8 1.8 0 1 0 3.6 0a1.8 1.8 0 1 0-3.6 0M283.2 154.1a1.8 1.8 0 1 0 3.6 0a1.8 1.8 0 1 0-3.6 0M283.2 156.3a1.8 1.8 0 1 0 3.6 0a1.8 1.8 0 1 0-3.6 0M283.2 159.0a1.8 1.8 0 1 0 3.6 0a1.8 1.8 0 1 0-3.6 0M283.2 162.2a1.8 1.8 0 1 0 3.6 0a1.8 1.8 0 1 0-3.6 0M286.2 134.1a1.8 1.8 0 1 0 3.6 0a1.8 1.8 0 1 0-3.6 0M286.2 154.1a1.8 1.8 0 1 0 3.6 0a1.8 1.8 0 1 0-3.6 0M286.2 166.3a1.8 1.8 0 1 0 3.6 0a1.8 1.8 0 1 0-3.6 0M289.2 154.1a1.8 1.8 0 1 0 3.6 0a1.8 1.8 0 1 0-3.6 0M289.2 156.3a1.8 1.8 0 1 0 3.6 0a1.8 1.8 0 1 0-3.6 0M289.2 159.0a1.8 1.8 0 1 0 3.6 0a1.8 1.8 0 1 0-3.6 0M289.2 166.3a1.8 1.8 0 1 0 3.6 0a1.8 1.8 0 1 0-3.6 0M295.3 136.3a1.8 1.8 0 1 0 3.6 0a1.8 1.8 0 1 0-3.6 0M301.3 139.5a1.8 1.8 0 1 0 3.6 0a1.8 1.8 0 1 0-3.6 0M310.4 104.7a1.8 1.8 0 1 0 3.6 0a1.8 1.8 0 1 0-3.6 0" fill="none" stroke="#000" stroke-width="0.9"/><path d="M439.5 122.3a1.8 1.8 0 1 0 3.6 0a1.8 1.8 0 1 0-3.6 0M441.0 130.9a1.8 1.8 0 1 0 3.6 0a1.8 1.8 0 1 0-3.6 0M459.7 154.0a1.8 1.8 0 1 0 3.6 0a1.8 1.8 0 1 0-3.6 0M480.5 156.4a1.8 1.8 0 1 0 3.6 0a1.8 1.8 0 1 0-3.6 0M488.8 182.4a1.8 1.8 0 1 0 3.6 0a1.8 1.8 0 1 0-3.6 0M490.7 141.4a1.8 1.8 0 1 0 3.6 0a1.8 1.8 0 1 0-3.6 0M490.7 150.3a1.8 1.8 0 1 0 3.6 0a1.8 1.8 0 1 0-3.6 0M492.2 182.4a1.8 1.8 0 1 0 3.6 0a1.8 1.8 0 1 0-3.6 0M494.2 159.0a1.8 1.8 0 1 0 3.6 0a1.8 1.8 0 1 0-3.6 0M494.2 166.5a1.8 1.8 0 1 0 3.6 0a1.8 1.8 0 1 0-3.6 0M495.6 141.4a1.8 1.8 0 1 0 3.6 0a1.8 1.8 0 1 0-3.6 0M497.2 159.1a1.8 1.8 0 1 0 3.6 0a1.8 1.8 0 1 0-3.6 0M497.7 159.0a1.8 1.8 0 1 0 3.6 0a1.8 1.8 0 1 0-3.6 0M498.0 192.4a1.8 1.8 0 1 0 3.6 0a1.8 1.8 0 1 0-3.6 0M500.3 159.1a1.8 1.8 0 1 0 3.6 0a1.8 1.8 0 1 0-3.6 0M500.4 159.1a1.8 1.8 0 1 0 3.6 0a1.8 1.8 0 1 0-3.6 0M500.8 137.3a1.8 1.8 0 1 0 3.6 0a1.8 1.8 0 1 0-3.6 0M501.2 159.0a1.8 1.8 0 1 0 3.6 0a1.8 1.8 0 1 0-3.6 0M502.3 149.1a1.8 1.8 0 1 0 3.6 0a1.8 1.8 0 1 0-3.6 0M502.4 162.3a1.8 1.8 0 1 0 3.6 0a1.8 1.8 0 1 0-3.6 0M502.7 144.2a1.8 1.8 0 1 0 3.6 0a1.8 1.8 0 1 0-3.6 0M502.7 159.1a1.8 1.8 0 1 0 3.6 0a1.8 1.8 0 1 0-3.6 0M502.9 172.4a1.8 1.8 0 1 0 3.6 0a1.8 1.8 0 1 0-3.6 0M504.0 154.2a1.8 1.8 0 1 0 3.6 0a1.8 1.8 0 1 0-3.6 0M504.0 166.5a1.8 1.8 0 1 0 3.6 0a1.8 1.8 0 1 0-3.6 0M504.2 147.7a1.8 1.8 0 1 0 3.6 0a1.8 1.8 0 1 0-3.6 0M504.2 192.4a1.8 1.8 0 1 0 3.6 0a1.8 1.8 0 1 0-3.6 0M504.6 78.6a1.8 1.8 0 1 0 3.6 0a1.8 1.8 0 1 0-3.6 0M505.4 162.3a1.8 1.8 0 1 0 3.6 0a1.8 1.8 0 1 0-3.6 0M505.5 154.2a1.8 1.8 0 1 0 3.6 0a1.8 1.8 0 1 0-3.6 0M505.8 172.4a1.8 1.8 0 1 0 3.6 0a1.8 1.8 0 1 0-3.6 0M506.0 156.5a1.8 1.8 0 1 0 3.6 0a1.8 1.8 0 1 0-3.6 0M506.9 192.4a1.8 1.8 0 1 0 3.6 0a1.8 1.8 0 1 0-3.6 0M507.3 156.5a1.8 1.8 0 1 0 3.6 0a1.8 1.8 0 1 0-3.6 0M507.4 159.1a1.8 1.8 0 1 0 3.6 0a1.8 1.8 0 1 0-3.6 0M507.4 166.5a1.8 1.8 0 1 0 3.6 0a1.8 1.8 0 1 0-3.6 0M507.6 136.4a1.8 1.8 0 1 0 3.6 0a1.8 1.8 0 1 0-3.6 0M507.7 152.3a1.8 1.8 0 1 0 3.6 0a1.8 1.8 0 1 0-3.6 0M508.5 156.5a1.8 1.8 0 1 0 3.6 0a1.8 1.8 0 1 0-3.6 0M508.6 156.5a1.8 1.8 0 1 0 3.6 0a1.8 1.8 0 1 0-3.6 0M508.8 130.9a1.8 1.8 0 1 0 3.6 0a1.8 1.8 0 1 0-3.6 0M508.9 159.1a1.8 1.8 0 1 0 3.6 0a1.8 1.8 0 1 0-3.6 0M508.9 162.3a1.8 1.8 0 1 0 3.6 0a1.8 1.8 0 1 0-3.6 0M509.4 154.2a1.8 1.8 0 1 0 3.6 0a1.8 1.8 0 1 0-3.6 0M509.6 150.6a1.8 1.8 0 1 0 3.6 0a1.8 1.8 0 1 0-3.6 0M509.9 147.7a1.8 1.8 0 1 0 3.6 0a1.8 1.8 0 1 0-3.6 0M510.0 192.4a1.8 1.8 0 1 0 3.6 0a1.8 1.8 0 1 0-3.6 0M510.1 150.6a1.8 1.8 0 1 0 3.6 0a1.8 1.8 0 1 0-3.6 0M510.1 156.5a1.8 1.8 0 1 0 3.6 0a1.8 1.8 0 1 0-3.6 0M510.4 159.1a1.8 1.8 0 1 0 3.6 0a1.8 1.8 0 1 0-3.6 0M510.5 182.4a1.8 1.8 0 1 0 3.6 0a1.8 1.8 0 1 0-3.6 0M510.7 166.5a1.8 1.8 0 1 0 3.6 0a1.8 1.8 0 1 0-3.6 0M511.0 149.1a1.8 1.8 0 1 0 3.6 0a1.8 1.8 0 1 0-3.6 0M511.4 182.4a1.8 1.8 0 1 0 3.6 0a1.8 1.8 0 1 0-3.6 0M511.5 159.1a1.8 1.8 0 1 0 3.6 0a1.8 1.8 0 1 0-3.6 0M511.7 147.7a1.8 1.8 0 1 0 3.6 0a1.8 1.8 0 1 0-3.6 0M511.8 162.3a1.8 1.8 0 1 0 3.6 0a1.8 1.8 0 1 0-3.6 0M511.8 172.4a1.8 1.8 0 1 0 3.6 0a1.8 1.8 0 1 0-3.6 0M511.9 152.3a1.8 1.8 0 1 0 3.6 0a1.8 1.8 0 1 0-3.6 0M512.0 131.4a1.8 1.8 0 1 0 3.6 0a1.8 1.8 0 1 0-3.6 0M512.0 159.1a1.8 1.8 0 1 0 3.6 0a1.8 1.8 0 1 0-3.6 0M512.1 145.3a1.8 1.8 0 1 0 3.6 0a1.8 1.8 0 1 0-3.6 0M512.1 182.4a1.8 1.8 0 1 0 3.6 0a1.8 1.8 0 1 0-3.6 0M512.7 162.3a1.8 1.8 0 1 0 3.6 0a1.8 1.8 0 1 0-3.6 0M512.7 182.4a1.8 1.8 0 1 0 3.6 0a1.8 1.8 0 1 0-3.6 0M513.0 156.5a1.8 1.8 0 1 0 3.6 0a1.8 1.8 0 1 0-3.6 0M513.1 159.1a1.8 1.8 0 1 0 3.6 0a1.8 1.8 0 1 0-3.6 0M513.2 159.1a1.8 1.8 0 1 0 3.6 0a1.8 1.8 0 1 0-3.6 0M513.2 192.4a1.8 1.8 0 1 0 3.6 0a1.8 1.8 0 1 0-3.6 0M513.3 159.1a1.8 1.8 0 1 0 3.6 0a1.8 1.8 0 1 0-3.6 0M513.3 166.5a1.8 1.8 0 1 0 3.6 0a1.8 1.8 0 1 0-3.6 0M513.3 172.4a1.8 1.8 0 1 0 3.6 0a1.8 1.8 0 1 0-3.6 0M513.4 162.3a1.8 1.8 0 1 0 3.6 0a1.8 1.8 0 1 0-3.6 0M513.6 166.5a1.8 1.8 0 1 0 3.6 0a1.8 1.8 0 1 0-3.6 0M513.7 147.7a1.8 1.8 0 1 0 3.6 0a1.8 1.8 0 1 0-3.6 0M513.7 162.3a1.8 1.8 0 1 0 3.6 0a1.8 1.8 0 1 0-3.6 0M513.8 159.1a1.8 1.8 0 1 0 3.6 0a1.8 1.8 0 1 0-3.6 0M513.9 154.2a1.8 1.8 0 1 0 3.6 0a1.8 1.8 0 1 0-3.6 0M514.0 156.5a1.8 1.8 0 1 0 3.6 0a1.8 1.8 0 1 0-3.6 0M514.0 166.5a1.8 1.8 0 1 0 3.6 0a1.8 1.8 0 1 0-3.6 0M514.1 172.4a1.8 1.8 0 1 0 3.6 0a1.8 1.8 0 1 0-3.6 0M514.8 172.4a1.8 1.8 0 1 0 3.6 0a1.8 1.8 0 1 0-3.6 0M514.9 137.7a1.8 1.8 0 1 0 3.6 0a1.8 1.8 0 1 0-3.6 0M514.9 159.1a1.8 1.8 0 1 0 3.6 0a1.8 1.8 0 1 0-3.6 0M515.0 146.4a1.8 1.8 0 1 0 3.6 0a1.8 1.8 0 1 0-3.6 0M515.0 159.1a1.8 1.8 0 1 0 3.6 0a1.8 1.8 0 1 0-3.6 0M515.3 143.2a1.8 1.8 0 1 0 3.6 0a1.8 1.8 0 1 0-3.6 0M515.4 105.1a1.8 1.8 0 1 0 3.6 0a1.8 1.8 0 1 0-3.6 0M515.4 128.7a1.8 1.8 0 1 0 3.6 0a1.8 1.8 0 1 0-3.6 0M515.4 162.3a1.8 1.8 0 1 0 3.6 0a1.8 1.8 0 1 0-3.6 0M515.7 156.5a1.8 1.8 0 1 0 3.6 0a1.8 1.8 0 1 0-3.6 0M515.7 172.4a1.8 1.8 0 1 0 3.6 0a1.8 1.8 0 1 0-3.6 0M515.9 162.3a1.8 1.8 0 1 0 3.6 0a1.8 1.8 0 1 0-3.6 0M516.1 147.7a1.8 1.8 0 1 0 3.6 0a1.8 1.8 0 1 0-3.6 0M516.2 166.5a1.8 1.8 0 1 0 3.6 0a1.8 1.8 0 1 0-3.6 0M516.3 192.4a1.8 1.8 0 1 0 3.6 0a1.8 1.8 0 1 0-3.6 0M516.4 159.1a1.8 1.8 0 1 0 3.6 0a1.8 1.8 0 1 0-3.6 0M516.4 182.4a1.8 1.8 0 1 0 3.6 0a1.8 1.8 0 1 0-3.6 0M516.5 152.3a1.8 1.8 0 1 0 3.6 0a1.8 1.8 0 1 0-3.6 0M516.6 156.5a1.8 1.8 0 1 0 3.6 0a1.8 1.8 0 1 0-3.6 0M516.6 172.4a1.8 1.8 0 1 0 3.6 0a1.8 1.8 0 1 0-3.6 0M516.7 149.1a1.8 1.8 0 1 0 3.6 0a1.8 1.8 0 1 0-3.6 0M516.8 154.2a1.8 1.8 0 1 0 3.6 0a1.8 1.8 0 1 0-3.6 0M516.8 166.5a1.8 1.8 0 1 0 3.6 0a1.8 1.8 0 1 0-3.6 0M516.8 172.4a1.8 1.8 0 1 0 3.6 0a1.8 1.8 0 1 0-3.6 0M516.9 162.3a1.8 1.8 0 1 0 3.6 0a1.8 1.8 0 1 0-3.6 0M517.0 156.5a1.8 1.8 0 1 0 3.6 0a1.8 1.8 0 1 0-3.6 0M517.0 166.5a1.8 1.8 0 1 0 3.6 0a1.8 1.8 0 1 0-3.6 0M517.1 182.4a1.8 1.8 0 1 0 3.6 0a1.8 1.8 0 1 0-3.6 0M517.2 154.2a1.8 1.8 0 1 0 3.6 0a1.8 1.8 0 1 0-3.6 0M517.2 159.1a1.8 1.8 0 1 0 3.6 0a1.8 1.8 0 1 0-3.6 0M517.7 152.3a1.8 1.8 0 1 0 3.6 0a1.8 1.8 0 1 0-3.6 0M517.8 159.1a1.8 1.8 0 1 0 3.6 0a1.8 1.8 0 1 0-3.6 0M517.9 149.1a1.8 1.8 0 1 0 3.6 0a1.8 1.8 0 1 0-3.6 0M518.0 156.5a1.8 1.8 0 1 0 3.6 0a1.8 1.8 0 1 0-3.6 0M518.1 134.2a1.8 1.8 0 1 0 3.6 0a1.8 1.8 0 1 0-3.6 0M518.2 159.1a1.8 1.8 0 1 0 3.6 0a1.8 1.8 0 1 0-3.6 0M518.2 182.4a1.8 1.8 0 1 0 3.6 0a1.8 1.8 0 1 0-3.6 0M518.3 159.1a1.8 1.8 0 1 0 3.6 0a1.8 1.8 0 1 0-3.6 0M518.5 172.4a1.8 1.8 0 1 0 3.6 0a1.8 1.8 0 1 0-3.6 0M518.5 192.4a1.8 1.8 0 1 0 3.6 0a1.8 1.8 0 1 0-3.6 0M518.6 162.3a1.8 1.8 0 1 0 3.6 0a1.8 1.8 0 1 0-3.6 0M518.8 132.7a1.8 1.8 0 1 0 3.6 0a1.8 1.8 0 1 0-3.6 0M518.8 150.6a1.8 1.8 0 1 0 3.6 0a1.8 1.8 0 1 0-3.6 0M518.8 172.4a1.8 1.8 0 1 0 3.6 0a1.8 1.8 0 1 0-3.6 0M518.9 149.1a1.8 1.8 0 1 0 3.6 0a1.8 1.8 0 1 0-3.6 0M518.9 182.4a1.8 1.8 0 1 0 3.6 0a1.8 1.8 0 1 0-3.6 0M519.0 159.1a1.8 1.8 0 1 0 3.6 0a1.8 1.8 0 1 0-3.6 0M519.0 192.4a1.8 1.8 0 1 0 3.6 0a1.8 1.8 0 1 0-3.6 0M519.1 162.3a1.8 1.8 0 1 0 3.6 0a1.8 1.8 0 1 0-3.6 0M519.3 154.2a1.8 1.8 0 1 0 3.6 0a1.8 1.8 0 1 0-3.6 0M519.4 159.1a1.8 1.8 0 1 0 3.6 0a1.8 1.8 0 1 0-3.6 0M519.4 162.3a1.8 1.8 0 1 0 3.6 0a1.8 1.8 0 1 0-3.6 0M519.4 166.5a1.8 1.8 0 1 0 3.6 0a1.8 1.8 0 1 0-3.6 0M519.4 192.4a1.8 1.8 0 1 0 3.6 0a1.8 1.8 0 1 0-3.6 0M519.5 159.1a1.8 1.8 0 1 0 3.6 0a1.8 1.8 0 1 0-3.6 0M519.5 166.5a1.8 1.8 0 1 0 3.6 0a1.8 1.8 0 1 0-3.6 0M519.8 135.3a1.8 1.8 0 1 0 3.6 0a1.8 1.8 0 1 0-3.6 0M519.8 142.3a1.8 1.8 0 1 0 3.6 0a1.8 1.8 0 1 0-3.6 0M519.8 162.3a1.8 1.8 0 1 0 3.6 0a1.8 1.8 0 1 0-3.6 0M519.9 154.2a1.8 1.8 0 1 0 3.6 0a1.8 1.8 0 1 0-3.6 0M519.9 159.1a1.8 1.8 0 1 0 3.6 0a1.8 1.8 0 1 0-3.6 0M519.9 162.3a1.8 1.8 0 1 0 3.6 0a1.8 1.8 0 1 0-3.6 0M520.1 156.5a1.8 1.8 0 1 0 3.6 0a1.8 1.8 0 1 0-3.6 0M520.1 182.4a1.8 1.8 0 1 0 3.6 0a1.8 1.8 0 1 0-3.6 0M520.2 146.4a1.8 1.8 0 1 0 3.6 0a1.8 1.8 0 1 0-3.6 0M520.3 162.3a1.8 1.8 0 1 0 3.6 0a1.8 1.8 0 1 0-3.6 0M520.8 182.4a1.8 1.8 0 1 0 3.6 0a1.8 1.8 0 1 0-3.6 0M520.9 150.6a1.8 1.8 0 1 0 3.6 0a1.8 1.8 0 1 0-3.6 0M520.9 162.3a1.8 1.8 0 1 0 3.6 0a1.8 1.8 0 1 0-3.6 0M521.2 162.3a1.8 1.8 0 1 0 3.6 0a1.8 1.8 0 1 0-3.6 0M521.2 166.5a1.8 1.8 0 1 0 3.6 0a1.8 1.8 0 1 0-3.6 0M521.4 162.3a1.8 1.8 0 1 0 3.6 0a1.8 1.8 0 1 0-3.6 0M521.5 150.6a1.8 1.8 0 1 0 3.6 0a1.8 1.8 0 1 0-3.6 0M521.7 159.1a1.8 1.8 0 1 0 3.6 0a1.8 1.8 0 1 0-3.6 0M521.7 182.4a1.8 1.8 0 1 0 3.6 0a1.8 1.8 0 1 0-3.6 0M522.0 150.6a1.8 1.8 0 1 0 3.6 0a1.8 1.8 0 1 0-3.6 0M522.0 156.5a1.8 1.8 0 1 0 3.6 0a1.8 1.8 0 1 0-3.6 0M522.1 156.5a1.8 1.8 0 1 0 3.6 0a1.8 1.8 0 1 0-3.6 0M522.2 162.3a1.8 1.8 0 1 0 3.6 0a1.8 1.8 0 1 0-3.6 0M522.3 162.3a1.8 1.8 0 1 0 3.6 0a1.8 1.8 0 1 0-3.6 0M522.3 172.4a1.8 1.8 0 1 0 3.6 0a1.8 1.8 0 1 0-3.6 0M522.5 99.5a1.8 1.8 0 1 0 3.6 0a1.8 1.8 0 1 0-3.6 0M522.6 154.2a1.8 1.8 0 1 0 3.6 0a1.8 1.8 0 1 0-3.6 0M522.6 162.3a1.8 1.8 0 1 0 3.6 0a1.8 1.8 0 1 0-3.6 0M522.7 162.3a1.8 1.8 0 1 0 3.6 0a1.8 1.8 0 1 0-3.6 0M522.8 136.4a1.8 1.8 0 1 0 3.6 0a1.8 1.8 0 1 0-3.6 0M522.8 159.1a1.8 1.8 0 1 0 3.6 0a1.8 1.8 0 1 0-3.6 0M522.9 145.3a1.8 1.8 0 1 0 3.6 0a1.8 1.8 0 1 0-3.6 0M523.0 162.3a1.8 1.8 0 1 0 3.6 0a1.8 1.8 0 1 0-3.6 0M523.2 159.1a1.8 1.8 0 1 0 3.6 0a1.8 1.8 0 1 0-3.6 0M523.2 166.5a1.8 1.8 0 1 0 3.6 0a1.8 1.8 0 1 0-3.6 0M523.2 192.4a1.8 1.8 0 1 0 3.6 0a1.8 1.8 0 1 0-3.6 0M523.4 146.4a1.8 1.8 0 1 0 3.6 0a1.8 1.8 0 1 0-3.6 0M523.5 156.5a1.8 1.8 0 1 0 3.6 0a1.8 1.8 0 1 0-3.6 0M523.6 154.2a1.8 1.8 0 1 0 3.6 0a1.8 1.8 0 1 0-3.6 0M523.6 159.1a1.8 1.8 0 1 0 3.6 0a1.8 1.8 0 1 0-3.6 0M523.7 162.3a1.8 1.8 0 1 0 3.6 0a1.8 1.8 0 1 0-3.6 0M523.8 156.5a1.8 1.8 0 1 0 3.6 0a1.8 1.8 0 1 0-3.6 0M523.9 141.4a1.8 1.8 0 1 0 3.6 0a1.8 1.8 0 1 0-3.6 0M523.9 159.1a1.8 1.8 0 1 0 3.6 0a1.8 1.8 0 1 0-3.6 0M524.0 130.5a1.8 1.8 0 1 0 3.6 0a1.8 1.8 0 1 0-3.6 0M524.1 159.1a1.8 1.8 0 1 0 3.6 0a1.8 1.8 0 1 0-3.6 0M524.2 154.2a1.8 1.8 0 1 0 3.6 0a1.8 1.8 0 1 0-3.6 0M524.2 159.1a1.8 1.8 0 1 0 3.6 0a1.8 1.8 0 1 0-3.6 0M524.3 192.4a1.8 1.8 0 1 0 3.6 0a1.8 1.8 0 1 0-3.6 0M524.4 128.0a1.8 1.8 0 1 0 3.6 0a1.8 1.8 0 1 0-3.6 0M524.4 149.1a1.8 1.8 0 1 0 3.6 0a1.8 1.8 0 1 0-3.6 0M524.4 162.3a1.8 1.8 0 1 0 3.6 0a1.8 1.8 0 1 0-3.6 0M524.5 192.4a1.8 1.8 0 1 0 3.6 0a1.8 1.8 0 1 0-3.6 0M524.6 156.5a1.8 1.8 0 1 0 3.6 0a1.8 1.8 0 1 0-3.6 0M524.8 162.3a1.8 1.8 0 1 0 3.6 0a1.8 1.8 0 1 0-3.6 0M524.9 159.1a1.8 1.8 0 1 0 3.6 0a1.8 1.8 0 1 0-3.6 0M525.0 159.1a1.8 1.8 0 1 0 3.6 0a1.8 1.8 0 1 0-3.6 0M525.0 162.3a1.8 1.8 0 1 0 3.6 0a1.8 1.8 0 1 0-3.6 0M525.1 150.6a1.8 1.8 0 1 0 3.6 0a1.8 1.8 0 1 0-3.6 0M525.1 162.3a1.8 1.8 0 1 0 3.6 0a1.8 1.8 0 1 0-3.6 0M525.2 154.2a1.8 1.8 0 1 0 3.6 0a1.8 1.8 0 1 0-3.6 0M525.2 162.3a1.8 1.8 0 1 0 3.6 0a1.8 1.8 0 1 0-3.6 0M525.4 162.3a1.8 1.8 0 1 0 3.6 0a1.8 1.8 0 1 0-3.6 0M525.5 159.1a1.8 1.8 0 1 0 3.6 0a1.8 1.8 0 1 0-3.6 0M525.6 156.5a1.8 1.8 0 1 0 3.6 0a1.8 1.8 0 1 0-3.6 0M525.6 162.3a1.8 1.8 0 1 0 3.6 0a1.8 1.8 0 1 0-3.6 0M525.7 162.3a1.8 1.8 0 1 0 3.6 0a1.8 1.8 0 1 0-3.6 0M526.0 152.3a1.8 1.8 0 1 0 3.6 0a1.8 1.8 0 1 0-3.6 0M526.0 192.4a1.8 1.8 0 1 0 3.6 0a1.8 1.8 0 1 0-3.6 0M526.1 150.6a1.8 1.8 0 1 0 3.6 0a1.8 1.8 0 1 0-3.6 0M526.1 159.1a1.8 1.8 0 1 0 3.6 0a1.8 1.8 0 1 0-3.6 0M526.2 159.1a1.8 1.8 0 1 0 3.6 0a1.8 1.8 0 1 0-3.6 0M526.5 147.7a1.8 1.8 0 1 0 3.6 0a1.8 1.8 0 1 0-3.6 0M526.5 159.1a1.8 1.8 0 1 0 3.6 0a1.8 1.8 0 1 0-3.6 0M526.6 150.6a1.8 1.8 0 1 0 3.6 0a1.8 1.8 0 1 0-3.6 0M526.7 144.2a1.8 1.8 0 1 0 3.6 0a1.8 1.8 0 1 0-3.6 0M526.7 152.3a1.8 1.8 0 1 0 3.6 0a1.8 1.8 0 1 0-3.6 0M527.0 156.5a1.8 1.8 0 1 0 3.6 0a1.8 1.8 0 1 0-3.6 0M527.0 192.4a1.8 1.8 0 1 0 3.6 0a1.8 1.8 0 1 0-3.6 0M527.2 132.2a1.8 1.8 0 1 0 3.6 0a1.8 1.8 0 1 0-3.6 0M527.2 156.5a1.8 1.8 0 1 0 3.6 0a1.8 1.8 0 1 0-3.6 0M527.2 159.1a1.8 1.8 0 1 0 3.6 0a1.8 1.8 0 1 0-3.6 0M527.2 192.4a1.8 1.8 0 1 0 3.6 0a1.8 1.8 0 1 0-3.6 0M527.3 149.1a1.8 1.8 0 1 0 3.6 0a1.8 1.8 0 1 0-3.6 0M527.5 162.3a1.8 1.8 0 1 0 3.6 0a1.8 1.8 0 1 0-3.6 0M527.6 162.3a1.8 1.8 0 1 0 3.6 0a1.8 1.8 0 1 0-3.6 0M527.7 146.4a1.8 1.8 0 1 0 3.6 0a1.8 1.8 0 1 0-3.6 0M527.7 152.3a1.8 1.8 0 1 0 3.6 0a1.8 1.8 0 1 0-3.6 0M527.7 156.5a1.8 1.8 0 1 0 3.6 0a1.8 1.8 0 1 0-3.6 0M527.8 159.1a1.8 1.8 0 1 0 3.6 0a1.8 1.8 0 1 0-3.6 0M527.9 162.3a1.8 1.8 0 1 0 3.6 0a1.8 1.8 0 1 0-3.6 0M528.0 137.7a1.8 1.8 0 1 0 3.6 0a1.8 1.8 0 1 0-3.6 0M528.0 159.1a1.8 1.8 0 1 0 3.6 0a1.8 1.8 0 1 0-3.6 0M528.1 154.2a1.8 1.8 0 1 0 3.6 0a1.8 1.8 0 1 0-3.6 0M528.1 192.4a1.8 1.8 0 1 0 3.6 0a1.8 1.8 0 1 0-3.6 0M528.2 154.2a1.8 1.8 0 1 0 3.6 0a1.8 1.8 0 1 0-3.6 0M528.3 149.1a1.8 1.8 0 1 0 3.6 0a1.8 1.8 0 1 0-3.6 0M528.3 152.3a1.8 1.8 0 1 0 3.6 0a1.8 1.8 0 1 0-3.6 0M528.3 159.1a1.8 1.8 0 1 0 3.6 0a1.8 1.8 0 1 0-3.6 0M528.4 159.1a1.8 1.8 0 1 0 3.6 0a1.8 1.8 0 1 0-3.6 0M528.5 147.7a1.8 1.8 0 1 0 3.6 0a1.8 1.8 0 1 0-3.6 0M528.6 156.5a1.8 1.8 0 1 0 3.6 0a1.8 1.8 0 1 0-3.6 0M529.0 145.3a1.8 1.8 0 1 0 3.6 0a1.8 1.8 0 1 0-3.6 0M529.0 162.3a1.8 1.8 0 1 0 3.6 0a1.8 1.8 0 1 0-3.6 0M529.1 159.1a1.8 1.8 0 1 0 3.6 0a1.8 1.8 0 1 0-3.6 0M529.2 54.7a1.8 1.8 0 1 0 3.6 0a1.8 1.8 0 1 0-3.6 0M529.2 146.4a1.8 1.8 0 1 0 3.6 0a1.8 1.8 0 1 0-3.6 0M529.2 152.3a1.8 1.8 0 1 0 3.6 0a1.8 1.8 0 1 0-3.6 0M529.2 159.1a1.8 1.8 0 1 0 3.6 0a1.8 1.8 0 1 0-3.6 0M529.3 138.3a1.8 1.8 0 1 0 3.6 0a1.8 1.8 0 1 0-3.6 0M529.3 192.4a1.8 1.8 0 1 0 3.6 0a1.8 1.8 0 1 0-3.6 0M529.4 162.3a1.8 1.8 0 1 0 3.6 0a1.8 1.8 0 1 0-3.6 0M529.5 144.2a1.8 1.8 0 1 0 3.6 0a1.8 1.8 0 1 0-3.6 0M529.8 162.3a1.8 1.8 0 1 0 3.6 0a1.8 1.8 0 1 0-3.6 0M529.9 159.1a1.8 1.8 0 1 0 3.6 0a1.8 1.8 0 1 0-3.6 0M530.0 159.1a1.8 1.8 0 1 0 3.6 0a1.8 1.8 0 1 0-3.6 0M530.1 144.2a1.8 1.8 0 1 0 3.6 0a1.8 1.8 0 1 0-3.6 0M530.1 150.6a1.8 1.8 0 1 0 3.6 0a1.8 1.8 0 1 0-3.6 0M530.1 162.3a1.8 1.8 0 1 0 3.6 0a1.8 1.8 0 1 0-3.6 0M530.2 162.3a1.8 1.8 0 1 0 3.6 0a1.8 1.8 0 1 0-3.6 0M530.3 162.3a1.8 1.8 0 1 0 3.6 0a1.8 1.8 0 1 0-3.6 0M530.4 149.1a1.8 1.8 0 1 0 3.6 0a1.8 1.8 0 1 0-3.6 0M530.6 154.2a1.8 1.8 0 1 0 3.6 0a1.8 1.8 0 1 0-3.6 0M530.6 159.1a1.8 1.8 0 1 0 3.6 0a1.8 1.8 0 1 0-3.6 0M530.7 150.6a1.8 1.8 0 1 0 3.6 0a1.8 1.8 0 1 0-3.6 0M530.7 162.3a1.8 1.8 0 1 0 3.6 0a1.8 1.8 0 1 0-3.6 0M530.8 156.5a1.8 1.8 0 1 0 3.6 0a1.8 1.8 0 1 0-3.6 0M530.9 159.1a1.8 1.8 0 1 0 3.6 0a1.8 1.8 0 1 0-3.6 0M530.9 162.3a1.8 1.8 0 1 0 3.6 0a1.8 1.8 0 1 0-3.6 0M531.0 159.1a1.8 1.8 0 1 0 3.6 0a1.8 1.8 0 1 0-3.6 0M531.0 162.3a1.8 1.8 0 1 0 3.6 0a1.8 1.8 0 1 0-3.6 0M531.6 162.3a1.8 1.8 0 1 0 3.6 0a1.8 1.8 0 1 0-3.6 0M531.9 156.5a1.8 1.8 0 1 0 3.6 0a1.8 1.8 0 1 0-3.6 0M531.9 162.3a1.8 1.8 0 1 0 3.6 0a1.8 1.8 0 1 0-3.6 0M532.1 139.8a1.8 1.8 0 1 0 3.6 0a1.8 1.8 0 1 0-3.6 0M532.1 149.1a1.8 1.8 0 1 0 3.6 0a1.8 1.8 0 1 0-3.6 0M532.4 154.2a1.8 1.8 0 1 0 3.6 0a1.8 1.8 0 1 0-3.6 0M532.4 156.5a1.8 1.8 0 1 0 3.6 0a1.8 1.8 0 1 0-3.6 0M532.4 159.1a1.8 1.8 0 1 0 3.6 0a1.8 1.8 0 1 0-3.6 0M532.6 132.7a1.8 1.8 0 1 0 3.6 0a1.8 1.8 0 1 0-3.6 0M532.6 143.2a1.8 1.8 0 1 0 3.6 0a1.8 1.8 0 1 0-3.6 0M532.6 147.7a1.8 1.8 0 1 0 3.6 0a1.8 1.8 0 1 0-3.6 0M532.9 135.8a1.8 1.8 0 1 0 3.6 0a1.8 1.8 0 1 0-3.6 0M532.9 159.1a1.8 1.8 0 1 0 3.6 0a1.8 1.8 0 1 0-3.6 0M532.9 162.3a1.8 1.8 0 1 0 3.6 0a1.8 1.8 0 1 0-3.6 0M533.0 162.3a1.8 1.8 0 1 0 3.6 0a1.8 1.8 0 1 0-3.6 0M533.1 162.3a1.8 1.8 0 1 0 3.6 0a1.8 1.8 0 1 0-3.6 0M533.2 152.3a1.8 1.8 0 1 0 3.6 0a1.8 1.8 0 1 0-3.6 0M533.2 156.5a1.8 1.8 0 1 0 3.6 0a1.8 1.8 0 1 0-3.6 0M533.2 162.3a1.8 1.8 0 1 0 3.6 0a1.8 1.8 0 1 0-3.6 0M533.3 162.3a1.8 1.8 0 1 0 3.6 0a1.8 1.8 0 1 0-3.6 0M533.4 156.5a1.8 1.8 0 1 0 3.6 0a1.8 1.8 0 1 0-3.6 0M533.6 159.1a1.8 1.8 0 1 0 3.6 0a1.8 1.8 0 1 0-3.6 0M533.8 154.2a1.8 1.8 0 1 0 3.6 0a1.8 1.8 0 1 0-3.6 0M533.8 162.3a1.8 1.8 0 1 0 3.6 0a1.8 1.8 0 1 0-3.6 0M533.9 137.7a1.8 1.8 0 1 0 3.6 0a1.8 1.8 0 1 0-3.6 0M533.9 162.3a1.8 1.8 0 1 0 3.6 0a1.8 1.8 0 1 0-3.6 0M534.0 159.1a1.8 1.8 0 1 0 3.6 0a1.8 1.8 0 1 0-3.6 0M534.1 102.1a1.8 1.8 0 1 0 3.6 0a1.8 1.8 0 1 0-3.6 0M534.1 156.5a1.8 1.8 0 1 0 3.6 0a1.8 1.8 0 1 0-3.6 0M534.1 162.3a1.8 1.8 0 1 0 3.6 0a1.8 1.8 0 1 0-3.6 0M534.3 139.8a1.8 1.8 0 1 0 3.6 0a1.8 1.8 0 1 0-3.6 0M534.3 147.7a1.8 1.8 0 1 0 3.6 0a1.8 1.8 0 1 0-3.6 0M534.5 144.2a1.8 1.8 0 1 0 3.6 0a1.8 1.8 0 1 0-3.6 0M534.5 154.2a1.8 1.8 0 1 0 3.6 0a1.8 1.8 0 1 0-3.6 0M534.5 156.5a1.8 1.8 0 1 0 3.6 0a1.8 1.8 0 1 0-3.6 0M534.6 162.3a1.8 1.8 0 1 0 3.6 0a1.8 1.8 0 1 0-3.6 0M534.7 162.3a1.8 1.8 0 1 0 3.6 0a1.8 1.8 0 1 0-3.6 0M534.8 139.8a1.8 1.8 0 1 0 3.6 0a1.8 1.8 0 1 0-3.6 0M534.8 150.6a1.8 1.8 0 1 0 3.6 0a1.8 1.8 0 1 0-3.6 0M534.9 162.3a1.8 1.8 0 1 0 3.6 0a1.8 1.8 0 1 0-3.6 0M535.0 156.5a1.8 1.8 0 1 0 3.6 0a1.8 1.8 0 1 0-3.6 0M535.0 159.1a1.8 1.8 0 1 0 3.6 0a1.8 1.8 0 1 0-3.6 0M535.0 162.3a1.8 1.8 0 1 0 3.6 0a1.8 1.8 0 1 0-3.6 0M535.2 159.1a1.8 1.8 0 1 0 3.6 0a1.8 1.8 0 1 0-3.6 0M535.4 162.3a1.8 1.8 0 1 0 3.6 0a1.8 1.8 0 1 0-3.6 0M535.5 154.2a1.8 1.8 0 1 0 3.6 0a1.8 1.8 0 1 0-3.6 0M535.5 156.5a1.8 1.8 0 1 0 3.6 0a1.8 1.8 0 1 0-3.6 0M535.5 159.1a1.8 1.8 0 1 0 3.6 0a1.8 1.8 0 1 0-3.6 0M535.6 159.1a1.8 1.8 0 1 0 3.6 0a1.8 1.8 0 1 0-3.6 0M535.6 162.3a1.8 1.8 0 1 0 3.6 0a1.8 1.8 0 1 0-3.6 0M535.7 154.2a1.8 1.8 0 1 0 3.6 0a1.8 1.8 0 1 0-3.6 0M535.9 143.2a1.8 1.8 0 1 0 3.6 0a1.8 1.8 0 1 0-3.6 0M535.9 156.5a1.8 1.8 0 1 0 3.6 0a1.8 1.8 0 1 0-3.6 0M536.0 162.3a1.8 1.8 0 1 0 3.6 0a1.8 1.8 0 1 0-3.6 0M536.2 159.1a1.8 1.8 0 1 0 3.6 0a1.8 1.8 0 1 0-3.6 0M536.3 152.3a1.8 1.8 0 1 0 3.6 0a1.8 1.8 0 1 0-3.6 0M536.4 162.3a1.8 1.8 0 1 0 3.6 0a1.8 1.8 0 1 0-3.6 0M536.7 119.7a1.8 1.8 0 1 0 3.6 0a1.8 1.8 0 1 0-3.6 0M536.7 138.3a1.8 1.8 0 1 0 3.6 0a1.8 1.8 0 1 0-3.6 0M536.7 147.7a1.8 1.8 0 1 0 3.6 0a1.8 1.8 0 1 0-3.6 0M536.8 159.1a1.8 1.8 0 1 0 3.6 0a1.8 1.8 0 1 0-3.6 0M536.8 162.3a1.8 1.8 0 1 0 3.6 0a1.8 1.8 0 1 0-3.6 0M536.9 143.2a1.8 1.8 0 1 0 3.6 0a1.8 1.8 0 1 0-3.6 0M537.0 159.1a1.8 1.8 0 1 0 3.6 0a1.8 1.8 0 1 0-3.6 0M537.0 162.3a1.8 1.8 0 1 0 3.6 0a1.8 1.8 0 1 0-3.6 0M537.1 146.4a1.8 1.8 0 1 0 3.6 0a1.8 1.8 0 1 0-3.6 0M537.1 162.3a1.8 1.8 0 1 0 3.6 0a1.8 1.8 0 1 0-3.6 0M537.2 156.5a1.8 1.8 0 1 0 3.6 0a1.8 1.8 0 1 0-3.6 0M537.2 162.3a1.8 1.8 0 1 0 3.6 0a1.8 1.8 0 1 0-3.6 0M537.3 152.3a1.8 1.8 0 1 0 3.6 0a1.8 1.8 0 1 0-3.6 0M537.3 159.1a1.8 1.8 0 1 0 3.6 0a1.8 1.8 0 1 0-3.6 0M537.4 144.2a1.8 1.8 0 1 0 3.6 0a1.8 1.8 0 1 0-3.6 0M537.4 149.1a1.8 1.8 0 1 0 3.6 0a1.8 1.8 0 1 0-3.6 0M537.6 154.2a1.8 1.8 0 1 0 3.6 0a1.8 1.8 0 1 0-3.6 0M537.7 134.2a1.8 1.8 0 1 0 3.6 0a1.8 1.8 0 1 0-3.6 0M537.7 162.3a1.8 1.8 0 1 0 3.6 0a1.8 1.8 0 1 0-3.6 0M538.0 137.0a1.8 1.8 0 1 0 3.6 0a1.8 1.8 0 1 0-3.6 0M538.0 159.1a1.8 1.8 0 1 0 3.6 0a1.8 1.8 0 1 0-3.6 0M538.1 137.0a1.8 1.8 0 1 0 3.6 0a1.8 1.8 0 1 0-3.6 0M538.1 156.5a1.8 1.8 0 1 0 3.6 0a1.8 1.8 0 1 0-3.6 0M538.2 156.5a1.8 1.8 0 1 0 3.6 0a1.8 1.8 0 1 0-3.6 0M538.2 159.1a1.8 1.8 0 1 0 3.6 0a1.8 1.8 0 1 0-3.6 0M538.5 162.3a1.8 1.8 0 1 0 3.6 0a1.8 1.8 0 1 0-3.6 0M538.6 104.4a1.8 1.8 0 1 0 3.6 0a1.8 1.8 0 1 0-3.6 0M538.6 140.6a1.8 1.8 0 1 0 3.6 0a1.8 1.8 0 1 0-3.6 0M538.6 162.3a1.8 1.8 0 1 0 3.6 0a1.8 1.8 0 1 0-3.6 0M538.9 139.8a1.8 1.8 0 1 0 3.6 0a1.8 1.8 0 1 0-3.6 0M538.9 162.3a1.8 1.8 0 1 0 3.6 0a1.8 1.8 0 1 0-3.6 0M539.0 159.1a1.8 1.8 0 1 0 3.6 0a1.8 1.8 0 1 0-3.6 0M539.2 147.7a1.8 1.8 0 1 0 3.6 0a1.8 1.8 0 1 0-3.6 0M539.3 83.4a1.8 1.8 0 1 0 3.6 0a1.8 1.8 0 1 0-3.6 0M539.3 152.3a1.8 1.8 0 1 0 3.6 0a1.8 1.8 0 1 0-3.6 0M539.3 162.3a1.8 1.8 0 1 0 3.6 0a1.8 1.8 0 1 0-3.6 0M539.7 159.1a1.8 1.8 0 1 0 3.6 0a1.8 1.8 0 1 0-3.6 0M539.9 156.5a1.8 1.8 0 1 0 3.6 0a1.8 1.8 0 1 0-3.6 0M540.2 162.3a1.8 1.8 0 1 0 3.6 0a1.8 1.8 0 1 0-3.6 0M540.4 154.2a1.8 1.8 0 1 0 3.6 0a1.8 1.8 0 1 0-3.6 0M540.5 137.0a1.8 1.8 0 1 0 3.6 0a1.8 1.8 0 1 0-3.6 0M540.6 162.3a1.8 1.8 0 1 0 3.6 0a1.8 1.8 0 1 0-3.6 0M540.8 162.3a1.8 1.8 0 1 0 3.6 0a1.8 1.8 0 1 0-3.6 0M540.9 150.6a1.8 1.8 0 1 0 3.6 0a1.8 1.8 0 1 0-3.6 0M541.0 159.1a1.8 1.8 0 1 0 3.6 0a1.8 1.8 0 1 0-3.6 0M541.1 154.2a1.8 1.8 0 1 0 3.6 0a1.8 1.8 0 1 0-3.6 0M541.1 162.3a1.8 1.8 0 1 0 3.6 0a1.8 1.8 0 1 0-3.6 0M541.2 128.7a1.8 1.8 0 1 0 3.6 0a1.8 1.8 0 1 0-3.6 0M541.4 162.3a1.8 1.8 0 1 0 3.6 0a1.8 1.8 0 1 0-3.6 0M541.5 138.3a1.8 1.8 0 1 0 3.6 0a1.8 1.8 0 1 0-3.6 0M541.5 162.3a1.8 1.8 0 1 0 3.6 0a1.8 1.8 0 1 0-3.6 0M541.6 154.2a1.8 1.8 0 1 0 3.6 0a1.8 1.8 0 1 0-3.6 0M541.7 138.3a1.8 1.8 0 1 0 3.6 0a1.8 1.8 0 1 0-3.6 0M541.8 162.3a1.8 1.8 0 1 0 3.6 0a1.8 1.8 0 1 0-3.6 0M541.9 162.3a1.8 1.8 0 1 0 3.6 0a1.8 1.8 0 1 0-3.6 0M542.0 149.1a1.8 1.8 0 1 0 3.6 0a1.8 1.8 0 1 0-3.6 0M542.0 156.5a1.8 1.8 0 1 0 3.6 0a1.8 1.8 0 1 0-3.6 0M542.1 156.5a1.8 1.8 0 1 0 3.6 0a1.8 1.8 0 1 0-3.6 0M542.3 156.5a1.8 1.8 0 1 0 3.6 0a1.8 1.8 0 1 0-3.6 0M542.3 162.3a1.8 1.8 0 1 0 3.6 0a1.8 1.8 0 1 0-3.6 0M542.6 162.3a1.8 1.8 0 1 0 3.6 0a1.8 1.8 0 1 0-3.6 0M542.7 159.1a1.8 1.8 0 1 0 3.6 0a1.8 1.8 0 1 0-3.6 0M543.1 147.7a1.8 1.8 0 1 0 3.6 0a1.8 1.8 0 1 0-3.6 0M543.1 159.1a1.8 1.8 0 1 0 3.6 0a1.8 1.8 0 1 0-3.6 0M543.2 159.1a1.8 1.8 0 1 0 3.6 0a1.8 1.8 0 1 0-3.6 0M543.3 156.5a1.8 1.8 0 1 0 3.6 0a1.8 1.8 0 1 0-3.6 0M543.4 162.3a1.8 1.8 0 1 0 3.6 0a1.8 1.8 0 1 0-3.6 0M543.5 147.7a1.8 1.8 0 1 0 3.6 0a1.8 1.8 0 1 0-3.6 0M543.5 154.2a1.8 1.8 0 1 0 3.6 0a1.8 1.8 0 1 0-3.6 0M543.6 156.5a1.8 1.8 0 1 0 3.6 0a1.8 1.8 0 1 0-3.6 0M543.6 159.1a1.8 1.8 0 1 0 3.6 0a1.8 1.8 0 1 0-3.6 0M543.7 149.1a1.8 1.8 0 1 0 3.6 0a1.8 1.8 0 1 0-3.6 0M543.9 162.3a1.8 1.8 0 1 0 3.6 0a1.8 1.8 0 1 0-3.6 0M544.1 162.3a1.8 1.8 0 1 0 3.6 0a1.8 1.8 0 1 0-3.6 0M544.2 147.7a1.8 1.8 0 1 0 3.6 0a1.8 1.8 0 1 0-3.6 0M544.3 159.1a1.8 1.8 0 1 0 3.6 0a1.8 1.8 0 1 0-3.6 0M544.5 162.3a1.8 1.8 0 1 0 3.6 0a1.8 1.8 0 1 0-3.6 0M544.7 154.2a1.8 1.8 0 1 0 3.6 0a1.8 1.8 0 1 0-3.6 0M544.8 152.3a1.8 1.8 0 1 0 3.6 0a1.8 1.8 0 1 0-3.6 0M544.9 147.7a1.8 1.8 0 1 0 3.6 0a1.8 1.8 0 1 0-3.6 0M545.2 162.3a1.8 1.8 0 1 0 3.6 0a1.8 1.8 0 1 0-3.6 0M545.3 123.4a1.8 1.8 0 1 0 3.6 0a1.8 1.8 0 1 0-3.6 0M545.3 159.1a1.8 1.8 0 1 0 3.6 0a1.8 1.8 0 1 0-3.6 0M545.4 156.5a1.8 1.8 0 1 0 3.6 0a1.8 1.8 0 1 0-3.6 0M545.5 152.3a1.8 1.8 0 1 0 3.6 0a1.8 1.8 0 1 0-3.6 0M545.5 159.1a1.8 1.8 0 1 0 3.6 0a1.8 1.8 0 1 0-3.6 0M545.6 149.1a1.8 1.8 0 1 0 3.6 0a1.8 1.8 0 1 0-3.6 0M545.7 137.7a1.8 1.8 0 1 0 3.6 0a1.8 1.8 0 1 0-3.6 0M545.7 144.2a1.8 1.8 0 1 0 3.6 0a1.8 1.8 0 1 0-3.6 0M545.7 162.3a1.8 1.8 0 1 0 3.6 0a1.8 1.8 0 1 0-3.6 0M545.8 162.3a1.8 1.8 0 1 0 3.6 0a1.8 1.8 0 1 0-3.6 0M546.0 156.5a1.8 1.8 0 1 0 3.6 0a1.8 1.8 0 1 0-3.6 0M546.0 162.3a1.8 1.8 0 1 0 3.6 0a1.8 1.8 0 1 0-3.6 0M546.3 154.2a1.8 1.8 0 1 0 3.6 0a1.8 1.8 0 1 0-3.6 0M546.4 64.8a1.8 1.8 0 1 0 3.6 0a1.8 1.8 0 1 0-3.6 0M546.4 136.4a1.8 1.8 0 1 0 3.6 0a1.8 1.8 0 1 0-3.6 0M546.5 150.6a1.8 1.8 0 1 0 3.6 0a1.8 1.8 0 1 0-3.6 0M546.5 162.3a1.8 1.8 0 1 0 3.6 0a1.8 1.8 0 1 0-3.6 0M546.6 150.6a1.8 1.8 0 1 0 3.6 0a1.8 1.8 0 1 0-3.6 0M546.6 156.5a1.8 1.8 0 1 0 3.6 0a1.8 1.8 0 1 0-3.6 0M546.8 149.1a1.8 1.8 0 1 0 3.6 0a1.8 1.8 0 1 0-3.6 0M546.8 159.1a1.8 1.8 0 1 0 3.6 0a1.8 1.8 0 1 0-3.6 0M547.0 156.5a1.8 1.8 0 1 0 3.6 0a1.8 1.8 0 1 0-3.6 0M547.0 159.1a1.8 1.8 0 1 0 3.6 0a1.8 1.8 0 1 0-3.6 0M547.2 162.3a1.8 1.8 0 1 0 3.6 0a1.8 1.8 0 1 0-3.6 0M547.3 146.4a1.8 1.8 0 1 0 3.6 0a1.8 1.8 0 1 0-3.6 0M547.3 162.3a1.8 1.8 0 1 0 3.6 0a1.8 1.8 0 1 0-3.6 0M547.4 156.5a1.8 1.8 0 1 0 3.6 0a1.8 1.8 0 1 0-3.6 0M547.4 159.1a1.8 1.8 0 1 0 3.6 0a1.8 1.8 0 1 0-3.6 0M547.5 156.5a1.8 1.8 0 1 0 3.6 0a1.8 1.8 0 1 0-3.6 0M547.5 159.1a1.8 1.8 0 1 0 3.6 0a1.8 1.8 0 1 0-3.6 0M547.7 154.2a1.8 1.8 0 1 0 3.6 0a1.8 1.8 0 1 0-3.6 0M547.7 162.3a1.8 1.8 0 1 0 3.6 0a1.8 1.8 0 1 0-3.6 0M547.8 150.6a1.8 1.8 0 1 0 3.6 0a1.8 1.8 0 1 0-3.6 0M547.9 110.0a1.8 1.8 0 1 0 3.6 0a1.8 1.8 0 1 0-3.6 0M547.9 134.2a1.8 1.8 0 1 0 3.6 0a1.8 1.8 0 1 0-3.6 0M547.9 146.4a1.8 1.8 0 1 0 3.6 0a1.8 1.8 0 1 0-3.6 0M548.0 152.3a1.8 1.8 0 1 0 3.6 0a1.8 1.8 0 1 0-3.6 0M548.0 156.5a1.8 1.8 0 1 0 3.6 0a1.8 1.8 0 1 0-3.6 0M548.1 150.6a1.8 1.8 0 1 0 3.6 0a1.8 1.8 0 1 0-3.6 0M548.2 162.3a1.8 1.8 0 1 0 3.6 0a1.8 1.8 0 1 0-3.6 0M548.3 113.3a1.8 1.8 0 1 0 3.6 0a1.8 1.8 0 1 0-3.6 0M548.3 162.3a1.8 1.8 0 1 0 3.6 0a1.8 1.8 0 1 0-3.6 0M548.4 150.6a1.8 1.8 0 1 0 3.6 0a1.8 1.8 0 1 0-3.6 0M548.4 162.3a1.8 1.8 0 1 0 3.6 0a1.8 1.8 0 1 0-3.6 0M548.5 159.1a1.8 1.8 0 1 0 3.6 0a1.8 1.8 0 1 0-3.6 0M548.5 162.3a1.8 1.8 0 1 0 3.6 0a1.8 1.8 0 1 0-3.6 0M548.7 159.1a1.8 1.8 0 1 0 3.6 0a1.8 1.8 0 1 0-3.6 0M548.7 162.3a1.8 1.8 0 1 0 3.6 0a1.8 1.8 0 1 0-3.6 0M548.9 156.5a1.8 1.8 0 1 0 3.6 0a1.8 1.8 0 1 0-3.6 0M548.9 162.3a1.8 1.8 0 1 0 3.6 0a1.8 1.8 0 1 0-3.6 0M549.0 127.5a1.8 1.8 0 1 0 3.6 0a1.8 1.8 0 1 0-3.6 0M549.1 156.5a1.8 1.8 0 1 0 3.6 0a1.8 1.8 0 1 0-3.6 0M549.1 162.3a1.8 1.8 0 1 0 3.6 0a1.8 1.8 0 1 0-3.6 0M549.4 152.3a1.8 1.8 0 1 0 3.6 0a1.8 1.8 0 1 0-3.6 0M549.4 162.3a1.8 1.8 0 1 0 3.6 0a1.8 1.8 0 1 0-3.6 0M549.6 154.2a1.8 1.8 0 1 0 3.6 0a1.8 1.8 0 1 0-3.6 0M549.6 156.5a1.8 1.8 0 1 0 3.6 0a1.8 1.8 0 1 0-3.6 0M549.7 159.1a1.8 1.8 0 1 0 3.6 0a1.8 1.8 0 1 0-3.6 0M549.7 162.3a1.8 1.8 0 1 0 3.6 0a1.8 1.8 0 1 0-3.6 0M549.8 78.6a1.8 1.8 0 1 0 3.6 0a1.8 1.8 0 1 0-3.6 0M549.8 156.5a1.8 1.8 0 1 0 3.6 0a1.8 1.8 0 1 0-3.6 0M549.9 159.1a1.8 1.8 0 1 0 3.6 0a1.8 1.8 0 1 0-3.6 0M549.9 162.3a1.8 1.8 0 1 0 3.6 0a1.8 1.8 0 1 0-3.6 0M550.0 162.3a1.8 1.8 0 1 0 3.6 0a1.8 1.8 0 1 0-3.6 0M550.2 152.3a1.8 1.8 0 1 0 3.6 0a1.8 1.8 0 1 0-3.6 0M550.3 159.1a1.8 1.8 0 1 0 3.6 0a1.8 1.8 0 1 0-3.6 0M550.3 162.3a1.8 1.8 0 1 0 3.6 0a1.8 1.8 0 1 0-3.6 0M550.4 159.1a1.8 1.8 0 1 0 3.6 0a1.8 1.8 0 1 0-3.6 0M550.4 162.3a1.8 1.8 0 1 0 3.6 0a1.8 1.8 0 1 0-3.6 0M550.6 159.1a1.8 1.8 0 1 0 3.6 0a1.8 1.8 0 1 0-3.6 0M550.6 162.3a1.8 1.8 0 1 0 3.6 0a1.8 1.8 0 1 0-3.6 0M550.7 159.1a1.8 1.8 0 1 0 3.6 0a1.8 1.8 0 1 0-3.6 0M550.9 159.1a1.8 1.8 0 1 0 3.6 0a1.8 1.8 0 1 0-3.6 0M551.0 152.3a1.8 1.8 0 1 0 3.6 0a1.8 1.8 0 1 0-3.6 0M551.0 156.5a1.8 1.8 0 1 0 3.6 0a1.8 1.8 0 1 0-3.6 0M551.0 162.3a1.8 1.8 0 1 0 3.6 0a1.8 1.8 0 1 0-3.6 0M551.1 149.1a1.8 1.8 0 1 0 3.6 0a1.8 1.8 0 1 0-3.6 0M551.1 156.5a1.8 1.8 0 1 0 3.6 0a1.8 1.8 0 1 0-3.6 0M551.1 159.1a1.8 1.8 0 1 0 3.6 0a1.8 1.8 0 1 0-3.6 0M551.2 162.3a1.8 1.8 0 1 0 3.6 0a1.8 1.8 0 1 0-3.6 0M551.5 162.3a1.8 1.8 0 1 0 3.6 0a1.8 1.8 0 1 0-3.6 0M551.6 156.5a1.8 1.8 0 1 0 3.6 0a1.8 1.8 0 1 0-3.6 0M551.7 141.4a1.8 1.8 0 1 0 3.6 0a1.8 1.8 0 1 0-3.6 0M551.7 149.1a1.8 1.8 0 1 0 3.6 0a1.8 1.8 0 1 0-3.6 0M551.7 156.5a1.8 1.8 0 1 0 3.6 0a1.8 1.8 0 1 0-3.6 0M551.8 162.3a1.8 1.8 0 1 0 3.6 0a1.8 1.8 0 1 0-3.6 0M551.9 156.5a1.8 1.8 0 1 0 3.6 0a1.8 1.8 0 1 0-3.6 0M552.0 133.2a1.8 1.8 0 1 0 3.6 0a1.8 1.8 0 1 0-3.6 0M552.0 162.3a1.8 1.8 0 1 0 3.6 0a1.8 1.8 0 1 0-3.6 0M552.1 150.6a1.8 1.8 0 1 0 3.6 0a1.8 1.8 0 1 0-3.6 0M552.3 150.6a1.8 1.8 0 1 0 3.6 0a1.8 1.8 0 1 0-3.6 0M552.4 37.1a1.8 1.8 0 1 0 3.6 0a1.8 1.8 0 1 0-3.6 0M552.4 162.3a1.8 1.8 0 1 0 3.6 0a1.8 1.8 0 1 0-3.6 0M552.5 162.3a1.8 1.8 0 1 0 3.6 0a1.8 1.8 0 1 0-3.6 0M552.7 139.0a1.8 1.8 0 1 0 3.6 0a1.8 1.8 0 1 0-3.6 0M552.7 156.5a1.8 1.8 0 1 0 3.6 0a1.8 1.8 0 1 0-3.6 0M553.0 162.3a1.8 1.8 0 1 0 3.6 0a1.8 1.8 0 1 0-3.6 0M553.1 156.5a1.8 1.8 0 1 0 3.6 0a1.8 1.8 0 1 0-3.6 0M553.2 156.5a1.8 1.8 0 1 0 3.6 0a1.8 1.8 0 1 0-3.6 0M553.4 147.7a1.8 1.8 0 1 0 3.6 0a1.8 1.8 0 1 0-3.6 0M553.4 162.3a1.8 1.8 0 1 0 3.6 0a1.8 1.8 0 1 0-3.6 0M553.5 154.2a1.8 1.8 0 1 0 3.6 0a1.8 1.8 0 1 0-3.6 0M553.6 150.6a1.8 1.8 0 1 0 3.6 0a1.8 1.8 0 1 0-3.6 0M553.6 159.1a1.8 1.8 0 1 0 3.6 0a1.8 1.8 0 1 0-3.6 0M553.6 162.3a1.8 1.8 0 1 0 3.6 0a1.8 1.8 0 1 0-3.6 0M553.8 156.5a1.8 1.8 0 1 0 3.6 0a1.8 1.8 0 1 0-3.6 0M554.0 154.2a1.8 1.8 0 1 0 3.6 0a1.8 1.8 0 1 0-3.6 0M554.3 162.3a1.8 1.8 0 1 0 3.6 0a1.8 1.8 0 1 0-3.6 0M554.5 133.2a1.8 1.8 0 1 0 3.6 0a1.8 1.8 0 1 0-3.6 0M554.8 162.3a1.8 1.8 0 1 0 3.6 0a1.8 1.8 0 1 0-3.6 0M554.9 162.3a1.8 1.8 0 1 0 3.6 0a1.8 1.8 0 1 0-3.6 0M555.0 149.1a1.8 1.8 0 1 0 3.6 0a1.8 1.8 0 1 0-3.6 0M555.0 159.1a1.8 1.8 0 1 0 3.6 0a1.8 1.8 0 1 0-3.6 0M555.1 142.3a1.8 1.8 0 1 0 3.6 0a1.8 1.8 0 1 0-3.6 0M555.1 154.2a1.8 1.8 0 1 0 3.6 0a1.8 1.8 0 1 0-3.6 0M555.2 162.3a1.8 1.8 0 1 0 3.6 0a1.8 1.8 0 1 0-3.6 0M555.3 162.3a1.8 1.8 0 1 0 3.6 0a1.8 1.8 0 1 0-3.6 0M555.4 118.6a1.8 1.8 0 1 0 3.6 0a1.8 1.8 0 1 0-3.6 0M555.4 154.2a1.8 1.8 0 1 0 3.6 0a1.8 1.8 0 1 0-3.6 0M555.4 156.5a1.8 1.8 0 1 0 3.6 0a1.8 1.8 0 1 0-3.6 0M555.5 145.3a1.8 1.8 0 1 0 3.6 0a1.8 1.8 0 1 0-3.6 0M555.7 159.1a1.8 1.8 0 1 0 3.6 0a1.8 1.8 0 1 0-3.6 0M555.8 149.1a1.8 1.8 0 1 0 3.6 0a1.8 1.8 0 1 0-3.6 0M555.9 147.7a1.8 1.8 0 1 0 3.6 0a1.8 1.8 0 1 0-3.6 0M556.1 130.1a1.8 1.8 0 1 0 3.6 0a1.8 1.8 0 1 0-3.6 0M556.1 154.2a1.8 1.8 0 1 0 3.6 0a1.8 1.8 0 1 0-3.6 0M556.1 159.1a1.8 1.8 0 1 0 3.6 0a1.8 1.8 0 1 0-3.6 0M556.1 162.3a1.8 1.8 0 1 0 3.6 0a1.8 1.8 0 1 0-3.6 0M556.2 144.2a1.8 1.8 0 1 0 3.6 0a1.8 1.8 0 1 0-3.6 0M556.3 162.3a1.8 1.8 0 1 0 3.6 0a1.8 1.8 0 1 0-3.6 0M556.4 162.3a1.8 1.8 0 1 0 3.6 0a1.8 1.8 0 1 0-3.6 0M556.6 141.4a1.8 1.8 0 1 0 3.6 0a1.8 1.8 0 1 0-3.6 0M556.7 162.3a1.8 1.8 0 1 0 3.6 0a1.8 1.8 0 1 0-3.6 0M557.0 140.6a1.8 1.8 0 1 0 3.6 0a1.8 1.8 0 1 0-3.6 0M557.2 133.2a1.8 1.8 0 1 0 3.6 0a1.8 1.8 0 1 0-3.6 0M557.4 154.2a1.8 1.8 0 1 0 3.6 0a1.8 1.8 0 1 0-3.6 0M557.4 159.1a1.8 1.8 0 1 0 3.6 0a1.8 1.8 0 1 0-3.6 0M557.5 156.5a1.8 1.8 0 1 0 3.6 0a1.8 1.8 0 1 0-3.6 0M557.6 159.1a1.8 1.8 0 1 0 3.6 0a1.8 1.8 0 1 0-3.6 0M557.7 159.1a1.8 1.8 0 1 0 3.6 0a1.8 1.8 0 1 0-3.6 0M557.7 162.3a1.8 1.8 0 1 0 3.6 0a1.8 1.8 0 1 0-3.6 0M557.8 150.6a1.8 1.8 0 1 0 3.6 0a1.8 1.8 0 1 0-3.6 0M557.8 162.3a1.8 1.8 0 1 0 3.6 0a1.8 1.8 0 1 0-3.6 0M557.9 149.1a1.8 1.8 0 1 0 3.6 0a1.8 1.8 0 1 0-3.6 0M557.9 159.1a1.8 1.8 0 1 0 3.6 0a1.8 1.8 0 1 0-3.6 0M558.4 107.4a1.8 1.8 0 1 0 3.6 0a1.8 1.8 0 1 0-3.6 0M558.4 156.5a1.8 1.8 0 1 0 3.6 0a1.8 1.8 0 1 0-3.6 0M558.6 159.1a1.8 1.8 0 1 0 3.6 0a1.8 1.8 0 1 0-3.6 0M558.9 162.3a1.8 1.8 0 1 0 3.6 0a1.8 1.8 0 1 0-3.6 0M559.0 149.1a1.8 1.8 0 1 0 3.6 0a1.8 1.8 0 1 0-3.6 0M559.2 152.3a1.8 1.8 0 1 0 3.6 0a1.8 1.8 0 1 0-3.6 0M559.3 150.6a1.8 1.8 0 1 0 3.6 0a1.8 1.8 0 1 0-3.6 0M559.4 154.2a1.8 1.8 0 1 0 3.6 0a1.8 1.8 0 1 0-3.6 0M559.5 159.1a1.8 1.8 0 1 0 3.6 0a1.8 1.8 0 1 0-3.6 0M559.8 159.1a1.8 1.8 0 1 0 3.6 0a1.8 1.8 0 1 0-3.6 0M559.9 156.5a1.8 1.8 0 1 0 3.6 0a1.8 1.8 0 1 0-3.6 0M559.9 162.3a1.8 1.8 0 1 0 3.6 0a1.8 1.8 0 1 0-3.6 0M560.3 146.4a1.8 1.8 0 1 0 3.6 0a1.8 1.8 0 1 0-3.6 0M560.4 159.1a1.8 1.8 0 1 0 3.6 0a1.8 1.8 0 1 0-3.6 0M560.4 162.3a1.8 1.8 0 1 0 3.6 0a1.8 1.8 0 1 0-3.6 0M560.5 159.1a1.8 1.8 0 1 0 3.6 0a1.8 1.8 0 1 0-3.6 0M560.6 124.9a1.8 1.8 0 1 0 3.6 0a1.8 1.8 0 1 0-3.6 0M560.6 162.3a1.8 1.8 0 1 0 3.6 0a1.8 1.8 0 1 0-3.6 0M560.7 140.6a1.8 1.8 0 1 0 3.6 0a1.8 1.8 0 1 0-3.6 0M560.7 156.5a1.8 1.8 0 1 0 3.6 0a1.8 1.8 0 1 0-3.6 0M560.9 159.1a1.8 1.8 0 1 0 3.6 0a1.8 1.8 0 1 0-3.6 0M560.9 162.3a1.8 1.8 0 1 0 3.6 0a1.8 1.8 0 1 0-3.6 0M561.1 149.1a1.8 1.8 0 1 0 3.6 0a1.8 1.8 0 1 0-3.6 0M561.2 150.6a1.8 1.8 0 1 0 3.6 0a1.8 1.8 0 1 0-3.6 0M561.2 159.1a1.8 1.8 0 1 0 3.6 0a1.8 1.8 0 1 0-3.6 0M561.6 132.2a1.8 1.8 0 1 0 3.6 0a1.8 1.8 0 1 0-3.6 0M561.6 147.7a1.8 1.8 0 1 0 3.6 0a1.8 1.8 0 1 0-3.6 0M561.6 154.2a1.8 1.8 0 1 0 3.6 0a1.8 1.8 0 1 0-3.6 0M561.6 156.5a1.8 1.8 0 1 0 3.6 0a1.8 1.8 0 1 0-3.6 0M561.7 152.3a1.8 1.8 0 1 0 3.6 0a1.8 1.8 0 1 0-3.6 0M561.7 159.1a1.8 1.8 0 1 0 3.6 0a1.8 1.8 0 1 0-3.6 0M561.8 146.4a1.8 1.8 0 1 0 3.6 0a1.8 1.8 0 1 0-3.6 0M561.8 162.3a1.8 1.8 0 1 0 3.6 0a1.8 1.8 0 1 0-3.6 0M561.9 162.3a1.8 1.8 0 1 0 3.6 0a1.8 1.8 0 1 0-3.6 0M562.1 152.3a1.8 1.8 0 1 0 3.6 0a1.8 1.8 0 1 0-3.6 0M562.1 162.3a1.8 1.8 0 1 0 3.6 0a1.8 1.8 0 1 0-3.6 0M562.3 162.3a1.8 1.8 0 1 0 3.6 0a1.8 1.8 0 1 0-3.6 0M562.4 150.6a1.8 1.8 0 1 0 3.6 0a1.8 1.8 0 1 0-3.6 0M562.5 130.9a1.8 1.8 0 1 0 3.6 0a1.8 1.8 0 1 0-3.6 0M562.5 159.1a1.8 1.8 0 1 0 3.6 0a1.8 1.8 0 1 0-3.6 0M562.5 162.3a1.8 1.8 0 1 0 3.6 0a1.8 1.8 0 1 0-3.6 0M562.6 162.3a1.8 1.8 0 1 0 3.6 0a1.8 1.8 0 1 0-3.6 0M562.8 150.6a1.8 1.8 0 1 0 3.6 0a1.8 1.8 0 1 0-3.6 0M563.0 159.1a1.8 1.8 0 1 0 3.6 0a1.8 1.8 0 1 0-3.6 0M563.2 154.2a1.8 1.8 0 1 0 3.6 0a1.8 1.8 0 1 0-3.6 0M563.2 156.5a1.8 1.8 0 1 0 3.6 0a1.8 1.8 0 1 0-3.6 0M563.2 162.3a1.8 1.8 0 1 0 3.6 0a1.8 1.8 0 1 0-3.6 0M563.4 152.3a1.8 1.8 0 1 0 3.6 0a1.8 1.8 0 1 0-3.6 0M563.5 156.5a1.8 1.8 0 1 0 3.6 0a1.8 1.8 0 1 0-3.6 0M563.5 159.1a1.8 1.8 0 1 0 3.6 0a1.8 1.8 0 1 0-3.6 0M563.8 144.2a1.8 1.8 0 1 0 3.6 0a1.8 1.8 0 1 0-3.6 0M563.8 156.5a1.8 1.8 0 1 0 3.6 0a1.8 1.8 0 1 0-3.6 0M564.0 146.4a1.8 1.8 0 1 0 3.6 0a1.8 1.8 0 1 0-3.6 0M564.1 162.3a1.8 1.8 0 1 0 3.6 0a1.8 1.8 0 1 0-3.6 0M564.2 152.3a1.8 1.8 0 1 0 3.6 0a1.8 1.8 0 1 0-3.6 0M564.2 162.3a1.8 1.8 0 1 0 3.6 0a1.8 1.8 0 1 0-3.6 0M564.3 111.1a1.8 1.8 0 1 0 3.6 0a1.8 1.8 0 1 0-3.6 0M564.3 156.5a1.8 1.8 0 1 0 3.6 0a1.8 1.8 0 1 0-3.6 0M564.3 162.3a1.8 1.8 0 1 0 3.6 0a1.8 1.8 0 1 0-3.6 0M564.4 162.3a1.8 1.8 0 1 0 3.6 0a1.8 1.8 0 1 0-3.6 0M564.6 150.6a1.8 1.8 0 1 0 3.6 0a1.8 1.8 0 1 0-3.6 0M564.6 159.1a1.8 1.8 0 1 0 3.6 0a1.8 1.8 0 1 0-3.6 0M564.7 119.7a1.8 1.8 0 1 0 3.6 0a1.8 1.8 0 1 0-3.6 0M564.7 152.3a1.8 1.8 0 1 0 3.6 0a1.8 1.8 0 1 0-3.6 0M564.7 162.3a1.8 1.8 0 1 0 3.6 0a1.8 1.8 0 1 0-3.6 0M565.0 147.7a1.8 1.8 0 1 0 3.6 0a1.8 1.8 0 1 0-3.6 0M565.0 162.3a1.8 1.8 0 1 0 3.6 0a1.8 1.8 0 1 0-3.6 0M565.1 159.1a1.8 1.8 0 1 0 3.6 0a1.8 1.8 0 1 0-3.6 0M565.2 162.3a1.8 1.8 0 1 0 3.6 0a1.8 1.8 0 1 0-3.6 0M565.3 152.3a1.8 1.8 0 1 0 3.6 0a1.8 1.8 0 1 0-3.6 0M565.3 154.2a1.8 1.8 0 1 0 3.6 0a1.8 1.8 0 1 0-3.6 0M565.5 162.3a1.8 1.8 0 1 0 3.6 0a1.8 1.8 0 1 0-3.6 0M565.8 154.2a1.8 1.8 0 1 0 3.6 0a1.8 1.8 0 1 0-3.6 0M565.8 159.1a1.8 1.8 0 1 0 3.6 0a1.8 1.8 0 1 0-3.6 0M565.9 159.1a1.8 1.8 0 1 0 3.6 0a1.8 1.8 0 1 0-3.6 0M566.1 154.2a1.8 1.8 0 1 0 3.6 0a1.8 1.8 0 1 0-3.6 0M566.1 162.3a1.8 1.8 0 1 0 3.6 0a1.8 1.8 0 1 0-3.6 0M566.2 156.5a1.8 1.8 0 1 0 3.6 0a1.8 1.8 0 1 0-3.6 0M566.2 159.1a1.8 1.8 0 1 0 3.6 0a1.8 1.8 0 1 0-3.6 0M566.3 159.1a1.8 1.8 0 1 0 3.6 0a1.8 1.8 0 1 0-3.6 0M566.4 140.6a1.8 1.8 0 1 0 3.6 0a1.8 1.8 0 1 0-3.6 0M566.7 149.1a1.8 1.8 0 1 0 3.6 0a1.8 1.8 0 1 0-3.6 0M567.1 141.4a1.8 1.8 0 1 0 3.6 0a1.8 1.8 0 1 0-3.6 0M567.1 150.6a1.8 1.8 0 1 0 3.6 0a1.8 1.8 0 1 0-3.6 0M567.1 162.3a1.8 1.8 0 1 0 3.6 0a1.8 1.8 0 1 0-3.6 0M567.2 162.3a1.8 1.8 0 1 0 3.6 0a1.8 1.8 0 1 0-3.6 0M567.3 162.3a1.8 1.8 0 1 0 3.6 0a1.8 1.8 0 1 0-3.6 0M567.4 145.3a1.8 1.8 0 1 0 3.6 0a1.8 1.8 0 1 0-3.6 0M567.8 152.3a1.8 1.8 0 1 0 3.6 0a1.8 1.8 0 1 0-3.6 0M567.9 156.5a1.8 1.8 0 1 0 3.6 0a1.8 1.8 0 1 0-3.6 0M567.9 162.3a1.8 1.8 0 1 0 3.6 0a1.8 1.8 0 1 0-3.6 0M568.0 134.7a1.8 1.8 0 1 0 3.6 0a1.8 1.8 0 1 0-3.6 0M568.0 146.4a1.8 1.8 0 1 0 3.6 0a1.8 1.8 0 1 0-3.6 0M568.0 162.3a1.8 1.8 0 1 0 3.6 0a1.8 1.8 0 1 0-3.6 0M568.1 162.3a1.8 1.8 0 1 0 3.6 0a1.8 1.8 0 1 0-3.6 0M568.2 156.5a1.8 1.8 0 1 0 3.6 0a1.8 1.8 0 1 0-3.6 0M568.4 162.3a1.8 1.8 0 1 0 3.6 0a1.8 1.8 0 1 0-3.6 0M568.5 159.1a1.8 1.8 0 1 0 3.6 0a1.8 1.8 0 1 0-3.6 0M568.6 162.3a1.8 1.8 0 1 0 3.6 0a1.8 1.8 0 1 0-3.6 0M568.7 162.3a1.8 1.8 0 1 0 3.6 0a1.8 1.8 0 1 0-3.6 0M568.8 156.5a1.8 1.8 0 1 0 3.6 0a1.8 1.8 0 1 0-3.6 0M568.8 159.1a1.8 1.8 0 1 0 3.6 0a1.8 1.8 0 1 0-3.6 0M569.0 156.5a1.8 1.8 0 1 0 3.6 0a1.8 1.8 0 1 0-3.6 0M569.1 159.1a1.8 1.8 0 1 0 3.6 0a1.8 1.8 0 1 0-3.6 0M569.2 156.5a1.8 1.8 0 1 0 3.6 0a1.8 1.8 0 1 0-3.6 0M569.3 150.6a1.8 1.8 0 1 0 3.6 0a1.8 1.8 0 1 0-3.6 0M569.3 156.5a1.8 1.8 0 1 0 3.6 0a1.8 1.8 0 1 0-3.6 0M569.4 162.3a1.8 1.8 0 1 0 3.6 0a1.8 1.8 0 1 0-3.6 0M569.6 159.1a1.8 1.8 0 1 0 3.6 0a1.8 1.8 0 1 0-3.6 0M569.9 150.6a1.8 1.8 0 1 0 3.6 0a1.8 1.8 0 1 0-3.6 0M569.9 162.3a1.8 1.8 0 1 0 3.6 0a1.8 1.8 0 1 0-3.6 0M570.0 162.3a1.8 1.8 0 1 0 3.6 0a1.8 1.8 0 1 0-3.6 0M570.1 156.5a1.8 1.8 0 1 0 3.6 0a1.8 1.8 0 1 0-3.6 0M570.3 156.5a1.8 1.8 0 1 0 3.6 0a1.8 1.8 0 1 0-3.6 0M570.4 139.8a1.8 1.8 0 1 0 3.6 0a1.8 1.8 0 1 0-3.6 0M570.4 162.3a1.8 1.8 0 1 0 3.6 0a1.8 1.8 0 1 0-3.6 0M570.5 146.4a1.8 1.8 0 1 0 3.6 0a1.8 1.8 0 1 0-3.6 0M570.5 159.1a1.8 1.8 0 1 0 3.6 0a1.8 1.8 0 1 0-3.6 0M570.5 162.3a1.8 1.8 0 1 0 3.6 0a1.8 1.8 0 1 0-3.6 0M570.7 152.3a1.8 1.8 0 1 0 3.6 0a1.8 1.8 0 1 0-3.6 0M570.7 156.5a1.8 1.8 0 1 0 3.6 0a1.8 1.8 0 1 0-3.6 0M570.8 162.3a1.8 1.8 0 1 0 3.6 0a1.8 1.8 0 1 0-3.6 0M570.9 146.4a1.8 1.8 0 1 0 3.6 0a1.8 1.8 0 1 0-3.6 0M570.9 152.3a1.8 1.8 0 1 0 3.6 0a1.8 1.8 0 1 0-3.6 0M570.9 162.3a1.8 1.8 0 1 0 3.6 0a1.8 1.8 0 1 0-3.6 0M571.0 156.5a1.8 1.8 0 1 0 3.6 0a1.8 1.8 0 1 0-3.6 0M571.1 146.4a1.8 1.8 0 1 0 3.6 0a1.8 1.8 0 1 0-3.6 0M571.1 154.2a1.8 1.8 0 1 0 3.6 0a1.8 1.8 0 1 0-3.6 0M571.3 150.6a1.8 1.8 0 1 0 3.6 0a1.8 1.8 0 1 0-3.6 0M571.5 152.3a1.8 1.8 0 1 0 3.6 0a1.8 1.8 0 1 0-3.6 0M571.6 143.2a1.8 1.8 0 1 0 3.6 0a1.8 1.8 0 1 0-3.6 0M571.8 90.5a1.8 1.8 0 1 0 3.6 0a1.8 1.8 0 1 0-3.6 0M571.8 156.5a1.8 1.8 0 1 0 3.6 0a1.8 1.8 0 1 0-3.6 0M571.8 159.1a1.8 1.8 0 1 0 3.6 0a1.8 1.8 0 1 0-3.6 0M571.9 147.7a1.8 1.8 0 1 0 3.6 0a1.8 1.8 0 1 0-3.6 0M572.0 152.3a1.8 1.8 0 1 0 3.6 0a1.8 1.8 0 1 0-3.6 0M572.1 139.8a1.8 1.8 0 1 0 3.6 0a1.8 1.8 0 1 0-3.6 0M572.2 126.4a1.8 1.8 0 1 0 3.6 0a1.8 1.8 0 1 0-3.6 0M572.5 136.4a1.8 1.8 0 1 0 3.6 0a1.8 1.8 0 1 0-3.6 0M572.5 154.2a1.8 1.8 0 1 0 3.6 0a1.8 1.8 0 1 0-3.6 0M572.7 162.3a1.8 1.8 0 1 0 3.6 0a1.8 1.8 0 1 0-3.6 0M572.8 149.1a1.8 1.8 0 1 0 3.6 0a1.8 1.8 0 1 0-3.6 0M573.1 159.1a1.8 1.8 0 1 0 3.6 0a1.8 1.8 0 1 0-3.6 0M573.2 143.2a1.8 1.8 0 1 0 3.6 0a1.8 1.8 0 1 0-3.6 0M573.3 95.4a1.8 1.8 0 1 0 3.6 0a1.8 1.8 0 1 0-3.6 0M573.3 154.2a1.8 1.8 0 1 0 3.6 0a1.8 1.8 0 1 0-3.6 0M573.4 162.3a1.8 1.8 0 1 0 3.6 0a1.8 1.8 0 1 0-3.6 0M573.5 149.1a1.8 1.8 0 1 0 3.6 0a1.8 1.8 0 1 0-3.6 0M573.7 80.4a1.8 1.8 0 1 0 3.6 0a1.8 1.8 0 1 0-3.6 0M573.7 152.3a1.8 1.8 0 1 0 3.6 0a1.8 1.8 0 1 0-3.6 0M573.8 162.3a1.8 1.8 0 1 0 3.6 0a1.8 1.8 0 1 0-3.6 0M574.0 133.2a1.8 1.8 0 1 0 3.6 0a1.8 1.8 0 1 0-3.6 0M574.1 162.3a1.8 1.8 0 1 0 3.6 0a1.8 1.8 0 1 0-3.6 0M574.3 162.3a1.8 1.8 0 1 0 3.6 0a1.8 1.8 0 1 0-3.6 0M574.4 141.4a1.8 1.8 0 1 0 3.6 0a1.8 1.8 0 1 0-3.6 0M574.4 159.1a1.8 1.8 0 1 0 3.6 0a1.8 1.8 0 1 0-3.6 0M574.7 159.1a1.8 1.8 0 1 0 3.6 0a1.8 1.8 0 1 0-3.6 0M574.7 162.3a1.8 1.8 0 1 0 3.6 0a1.8 1.8 0 1 0-3.6 0M574.8 142.3a1.8 1.8 0 1 0 3.6 0a1.8 1.8 0 1 0-3.6 0M574.9 162.3a1.8 1.8 0 1 0 3.6 0a1.8 1.8 0 1 0-3.6 0M575.1 159.1a1.8 1.8 0 1 0 3.6 0a1.8 1.8 0 1 0-3.6 0M575.3 162.3a1.8 1.8 0 1 0 3.6 0a1.8 1.8 0 1 0-3.6 0M575.6 150.6a1.8 1.8 0 1 0 3.6 0a1.8 1.8 0 1 0-3.6 0M575.7 149.1a1.8 1.8 0 1 0 3.6 0a1.8 1.8 0 1 0-3.6 0M575.7 162.3a1.8 1.8 0 1 0 3.6 0a1.8 1.8 0 1 0-3.6 0M575.8 144.2a1.8 1.8 0 1 0 3.6 0a1.8 1.8 0 1 0-3.6 0M575.8 146.4a1.8 1.8 0 1 0 3.6 0a1.8 1.8 0 1 0-3.6 0M575.8 150.6a1.8 1.8 0 1 0 3.6 0a1.8 1.8 0 1 0-3.6 0M575.9 104.4a1.8 1.8 0 1 0 3.6 0a1.8 1.8 0 1 0-3.6 0M576.0 146.4a1.8 1.8 0 1 0 3.6 0a1.8 1.8 0 1 0-3.6 0M576.1 162.3a1.8 1.8 0 1 0 3.6 0a1.8 1.8 0 1 0-3.6 0M576.2 159.1a1.8 1.8 0 1 0 3.6 0a1.8 1.8 0 1 0-3.6 0M576.2 162.3a1.8 1.8 0 1 0 3.6 0a1.8 1.8 0 1 0-3.6 0M576.3 159.1a1.8 1.8 0 1 0 3.6 0a1.8 1.8 0 1 0-3.6 0M576.5 146.4a1.8 1.8 0 1 0 3.6 0a1.8 1.8 0 1 0-3.6 0M576.9 146.4a1.8 1.8 0 1 0 3.6 0a1.8 1.8 0 1 0-3.6 0M576.9 159.1a1.8 1.8 0 1 0 3.6 0a1.8 1.8 0 1 0-3.6 0M577.0 152.3a1.8 1.8 0 1 0 3.6 0a1.8 1.8 0 1 0-3.6 0M577.0 162.3a1.8 1.8 0 1 0 3.6 0a1.8 1.8 0 1 0-3.6 0M577.2 132.2a1.8 1.8 0 1 0 3.6 0a1.8 1.8 0 1 0-3.6 0M577.2 152.3a1.8 1.8 0 1 0 3.6 0a1.8 1.8 0 1 0-3.6 0M577.2 156.5a1.8 1.8 0 1 0 3.6 0a1.8 1.8 0 1 0-3.6 0M577.3 162.3a1.8 1.8 0 1 0 3.6 0a1.8 1.8 0 1 0-3.6 0M577.4 130.1a1.8 1.8 0 1 0 3.6 0a1.8 1.8 0 1 0-3.6 0M577.5 156.5a1.8 1.8 0 1 0 3.6 0a1.8 1.8 0 1 0-3.6 0M577.8 150.6a1.8 1.8 0 1 0 3.6 0a1.8 1.8 0 1 0-3.6 0M577.8 162.3a1.8 1.8 0 1 0 3.6 0a1.8 1.8 0 1 0-3.6 0M577.9 142.3a1.8 1.8 0 1 0 3.6 0a1.8 1.8 0 1 0-3.6 0M577.9 159.1a1.8 1.8 0 1 0 3.6 0a1.8 1.8 0 1 0-3.6 0M578.1 154.2a1.8 1.8 0 1 0 3.6 0a1.8 1.8 0 1 0-3.6 0M578.2 123.4a1.8 1.8 0 1 0 3.6 0a1.8 1.8 0 1 0-3.6 0M578.5 150.6a1.8 1.8 0 1 0 3.6 0a1.8 1.8 0 1 0-3.6 0M578.5 162.3a1.8 1.8 0 1 0 3.6 0a1.8 1.8 0 1 0-3.6 0M578.6 150.6a1.8 1.8 0 1 0 3.6 0a1.8 1.8 0 1 0-3.6 0M579.0 162.3a1.8 1.8 0 1 0 3.6 0a1.8 1.8 0 1 0-3.6 0M579.1 162.3a1.8 1.8 0 1 0 3.6 0a1.8 1.8 0 1 0-3.6 0M579.2 162.3a1.8 1.8 0 1 0 3.6 0a1.8 1.8 0 1 0-3.6 0M579.3 154.2a1.8 1.8 0 1 0 3.6 0a1.8 1.8 0 1 0-3.6 0M579.5 162.3a1.8 1.8 0 1 0 3.6 0a1.8 1.8 0 1 0-3.6 0M579.6 156.5a1.8 1.8 0 1 0 3.6 0a1.8 1.8 0 1 0-3.6 0M579.7 159.1a1.8 1.8 0 1 0 3.6 0a1.8 1.8 0 1 0-3.6 0M579.7 162.3a1.8 1.8 0 1 0 3.6 0a1.8 1.8 0 1 0-3.6 0M580.0 152.3a1.8 1.8 0 1 0 3.6 0a1.8 1.8 0 1 0-3.6 0M580.0 159.1a1.8 1.8 0 1 0 3.6 0a1.8 1.8 0 1 0-3.6 0M580.1 139.8a1.8 1.8 0 1 0 3.6 0a1.8 1.8 0 1 0-3.6 0M580.2 154.2a1.8 1.8 0 1 0 3.6 0a1.8 1.8 0 1 0-3.6 0M580.3 159.1a1.8 1.8 0 1 0 3.6 0a1.8 1.8 0 1 0-3.6 0M580.7 142.3a1.8 1.8 0 1 0 3.6 0a1.8 1.8 0 1 0-3.6 0M580.8 159.1a1.8 1.8 0 1 0 3.6 0a1.8 1.8 0 1 0-3.6 0M581.0 145.3a1.8 1.8 0 1 0 3.6 0a1.8 1.8 0 1 0-3.6 0M581.1 159.1a1.8 1.8 0 1 0 3.6 0a1.8 1.8 0 1 0-3.6 0M581.3 149.1a1.8 1.8 0 1 0 3.6 0a1.8 1.8 0 1 0-3.6 0M581.3 150.6a1.8 1.8 0 1 0 3.6 0a1.8 1.8 0 1 0-3.6 0M581.4 162.3a1.8 1.8 0 1 0 3.6 0a1.8 1.8 0 1 0-3.6 0M581.5 152.3a1.8 1.8 0 1 0 3.6 0a1.8 1.8 0 1 0-3.6 0M581.6 154.2a1.8 1.8 0 1 0 3.6 0a1.8 1.8 0 1 0-3.6 0M581.6 156.5a1.8 1.8 0 1 0 3.6 0a1.8 1.8 0 1 0-3.6 0M581.7 154.2a1.8 1.8 0 1 0 3.6 0a1.8 1.8 0 1 0-3.6 0M581.7 156.5a1.8 1.8 0 1 0 3.6 0a1.8 1.8 0 1 0-3.6 0M581.7 162.3a1.8 1.8 0 1 0 3.6 0a1.8 1.8 0 1 0-3.6 0M581.8 152.3a1.8 1.8 0 1 0 3.6 0a1.8 1.8 0 1 0-3.6 0M581.9 159.1a1.8 1.8 0 1 0 3.6 0a1.8 1.8 0 1 0-3.6 0M582.1 159.1a1.8 1.8 0 1 0 3.6 0a1.8 1.8 0 1 0-3.6 0M582.3 162.3a1.8 1.8 0 1 0 3.6 0a1.8 1.8 0 1 0-3.6 0M582.4 150.6a1.8 1.8 0 1 0 3.6 0a1.8 1.8 0 1 0-3.6 0M582.6 147.7a1.8 1.8 0 1 0 3.6 0a1.8 1.8 0 1 0-3.6 0M582.8 159.1a1.8 1.8 0 1 0 3.6 0a1.8 1.8 0 1 0-3.6 0M583.0 139.8a1.8 1.8 0 1 0 3.6 0a1.8 1.8 0 1 0-3.6 0M583.0 162.3a1.8 1.8 0 1 0 3.6 0a1.8 1.8 0 1 0-3.6 0M583.2 159.1a1.8 1.8 0 1 0 3.6 0a1.8 1.8 0 1 0-3.6 0M583.4 152.3a1.8 1.8 0 1 0 3.6 0a1.8 1.8 0 1 0-3.6 0M583.5 154.2a1.8 1.8 0 1 0 3.6 0a1.8 1.8 0 1 0-3.6 0M583.5 159.1a1.8 1.8 0 1 0 3.6 0a1.8 1.8 0 1 0-3.6 0M583.6 152.3a1.8 1.8 0 1 0 3.6 0a1.8 1.8 0 1 0-3.6 0M583.8 162.3a1.8 1.8 0 1 0 3.6 0a1.8 1.8 0 1 0-3.6 0M584.0 154.2a1.8 1.8 0 1 0 3.6 0a1.8 1.8 0 1 0-3.6 0M584.0 159.1a1.8 1.8 0 1 0 3.6 0a1.8 1.8 0 1 0-3.6 0M584.1 162.3a1.8 1.8 0 1 0 3.6 0a1.8 1.8 0 1 0-3.6 0M584.3 156.5a1.8 1.8 0 1 0 3.6 0a1.8 1.8 0 1 0-3.6 0M584.3 159.1a1.8 1.8 0 1 0 3.6 0a1.8 1.8 0 1 0-3.6 0M584.4 159.1a1.8 1.8 0 1 0 3.6 0a1.8 1.8 0 1 0-3.6 0M584.6 156.5a1.8 1.8 0 1 0 3.6 0a1.8 1.8 0 1 0-3.6 0M584.7 149.1a1.8 1.8 0 1 0 3.6 0a1.8 1.8 0 1 0-3.6 0M584.7 162.3a1.8 1.8 0 1 0 3.6 0a1.8 1.8 0 1 0-3.6 0M584.9 150.6a1.8 1.8 0 1 0 3.6 0a1.8 1.8 0 1 0-3.6 0M585.0 146.4a1.8 1.8 0 1 0 3.6 0a1.8 1.8 0 1 0-3.6 0M585.3 159.1a1.8 1.8 0 1 0 3.6 0a1.8 1.8 0 1 0-3.6 0M585.4 159.1a1.8 1.8 0 1 0 3.6 0a1.8 1.8 0 1 0-3.6 0M585.6 162.3a1.8 1.8 0 1 0 3.6 0a1.8 1.8 0 1 0-3.6 0M585.9 152.3a1.8 1.8 0 1 0 3.6 0a1.8 1.8 0 1 0-3.6 0M585.9 156.5a1.8 1.8 0 1 0 3.6 0a1.8 1.8 0 1 0-3.6 0M585.9 159.1a1.8 1.8 0 1 0 3.6 0a1.8 1.8 0 1 0-3.6 0M586.0 152.3a1.8 1.8 0 1 0 3.6 0a1.8 1.8 0 1 0-3.6 0M586.0 162.3a1.8 1.8 0 1 0 3.6 0a1.8 1.8 0 1 0-3.6 0M586.2 162.3a1.8 1.8 0 1 0 3.6 0a1.8 1.8 0 1 0-3.6 0M586.4 147.7a1.8 1.8 0 1 0 3.6 0a1.8 1.8 0 1 0-3.6 0M586.5 159.1a1.8 1.8 0 1 0 3.6 0a1.8 1.8 0 1 0-3.6 0M586.5 162.3a1.8 1.8 0 1 0 3.6 0a1.8 1.8 0 1 0-3.6 0M586.6 159.1a1.8 1.8 0 1 0 3.6 0a1.8 1.8 0 1 0-3.6 0M586.7 149.1a1.8 1.8 0 1 0 3.6 0a1.8 1.8 0 1 0-3.6 0M586.7 159.1a1.8 1.8 0 1 0 3.6 0a1.8 1.8 0 1 0-3.6 0M587.1 162.3a1.8 1.8 0 1 0 3.6 0a1.8 1.8 0 1 0-3.6 0M587.2 149.1a1.8 1.8 0 1 0 3.6 0a1.8 1.8 0 1 0-3.6 0M587.4 149.1a1.8 1.8 0 1 0 3.6 0a1.8 1.8 0 1 0-3.6 0M587.5 138.3a1.8 1.8 0 1 0 3.6 0a1.8 1.8 0 1 0-3.6 0M587.5 147.7a1.8 1.8 0 1 0 3.6 0a1.8 1.8 0 1 0-3.6 0M587.7 141.4a1.8 1.8 0 1 0 3.6 0a1.8 1.8 0 1 0-3.6 0M587.8 152.3a1.8 1.8 0 1 0 3.6 0a1.8 1.8 0 1 0-3.6 0M587.9 134.6a1.8 1.8 0 1 0 3.6 0a1.8 1.8 0 1 0-3.6 0M588.0 152.3a1.8 1.8 0 1 0 3.6 0a1.8 1.8 0 1 0-3.6 0M588.0 154.2a1.8 1.8 0 1 0 3.6 0a1.8 1.8 0 1 0-3.6 0M588.1 132.2a1.8 1.8 0 1 0 3.6 0a1.8 1.8 0 1 0-3.6 0M588.1 152.3a1.8 1.8 0 1 0 3.6 0a1.8 1.8 0 1 0-3.6 0M588.6 159.1a1.8 1.8 0 1 0 3.6 0a1.8 1.8 0 1 0-3.6 0M588.8 159.1a1.8 1.8 0 1 0 3.6 0a1.8 1.8 0 1 0-3.6 0M588.8 162.3a1.8 1.8 0 1 0 3.6 0a1.8 1.8 0 1 0-3.6 0M588.9 154.2a1.8 1.8 0 1 0 3.6 0a1.8 1.8 0 1 0-3.6 0M589.0 162.3a1.8 1.8 0 1 0 3.6 0a1.8 1.8 0 1 0-3.6 0M589.1 162.3a1.8 1.8 0 1 0 3.6 0a1.8 1.8 0 1 0-3.6 0M589.2 156.5a1.8 1.8 0 1 0 3.6 0a1.8 1.8 0 1 0-3.6 0M589.3 150.6a1.8 1.8 0 1 0 3.6 0a1.8 1.8 0 1 0-3.6 0M589.5 154.2a1.8 1.8 0 1 0 3.6 0a1.8 1.8 0 1 0-3.6 0M589.5 162.3a1.8 1.8 0 1 0 3.6 0a1.8 1.8 0 1 0-3.6 0M589.6 149.1a1.8 1.8 0 1 0 3.6 0a1.8 1.8 0 1 0-3.6 0M589.6 156.5a1.8 1.8 0 1 0 3.6 0a1.8 1.8 0 1 0-3.6 0M589.9 159.1a1.8 1.8 0 1 0 3.6 0a1.8 1.8 0 1 0-3.6 0M589.9 162.3a1.8 1.8 0 1 0 3.6 0a1.8 1.8 0 1 0-3.6 0M590.0 156.5a1.8 1.8 0 1 0 3.6 0a1.8 1.8 0 1 0-3.6 0M590.0 162.3a1.8 1.8 0 1 0 3.6 0a1.8 1.8 0 1 0-3.6 0M590.1 154.2a1.8 1.8 0 1 0 3.6 0a1.8 1.8 0 1 0-3.6 0M590.1 166.5a1.8 1.8 0 1 0 3.6 0a1.8 1.8 0 1 0-3.6 0M590.3 154.2a1.8 1.8 0 1 0 3.6 0a1.8 1.8 0 1 0-3.6 0M590.3 156.5a1.8 1.8 0 1 0 3.6 0a1.8 1.8 0 1 0-3.6 0M590.4 140.6a1.8 1.8 0 1 0 3.6 0a1.8 1.8 0 1 0-3.6 0M590.4 162.3a1.8 1.8 0 1 0 3.6 0a1.8 1.8 0 1 0-3.6 0M590.6 162.3a1.8 1.8 0 1 0 3.6 0a1.8 1.8 0 1 0-3.6 0M590.7 162.3a1.8 1.8 0 1 0 3.6 0a1.8 1.8 0 1 0-3.6 0M590.8 144.2a1.8 1.8 0 1 0 3.6 0a1.8 1.8 0 1 0-3.6 0M590.9 162.3a1.8 1.8 0 1 0 3.6 0a1.8 1.8 0 1 0-3.6 0M591.0 154.2a1.8 1.8 0 1 0 3.6 0a1.8 1.8 0 1 0-3.6 0M591.0 159.1a1.8 1.8 0 1 0 3.6 0a1.8 1.8 0 1 0-3.6 0M591.0 162.3a1.8 1.8 0 1 0 3.6 0a1.8 1.8 0 1 0-3.6 0M591.5 156.5a1.8 1.8 0 1 0 3.6 0a1.8 1.8 0 1 0-3.6 0M591.5 159.1a1.8 1.8 0 1 0 3.6 0a1.8 1.8 0 1 0-3.6 0M591.6 150.6a1.8 1.8 0 1 0 3.6 0a1.8 1.8 0 1 0-3.6 0M591.7 159.1a1.8 1.8 0 1 0 3.6 0a1.8 1.8 0 1 0-3.6 0M591.7 182.4a1.8 1.8 0 1 0 3.6 0a1.8 1.8 0 1 0-3.6 0M591.8 159.1a1.8 1.8 0 1 0 3.6 0a1.8 1.8 0 1 0-3.6 0M592.2 147.7a1.8 1.8 0 1 0 3.6 0a1.8 1.8 0 1 0-3.6 0M592.2 162.3a1.8 1.8 0 1 0 3.6 0a1.8 1.8 0 1 0-3.6 0M592.4 182.4a1.8 1.8 0 1 0 3.6 0a1.8 1.8 0 1 0-3.6 0M592.5 159.1a1.8 1.8 0 1 0 3.6 0a1.8 1.8 0 1 0-3.6 0M592.7 162.3a1.8 1.8 0 1 0 3.6 0a1.8 1.8 0 1 0-3.6 0M592.8 162.3a1.8 1.8 0 1 0 3.6 0a1.8 1.8 0 1 0-3.6 0M592.8 166.5a1.8 1.8 0 1 0 3.6 0a1.8 1.8 0 1 0-3.6 0M593.0 159.1a1.8 1.8 0 1 0 3.6 0a1.8 1.8 0 1 0-3.6 0M593.0 162.3a1.8 1.8 0 1 0 3.6 0a1.8 1.8 0 1 0-3.6 0M593.1 143.2a1.8 1.8 0 1 0 3.6 0a1.8 1.8 0 1 0-3.6 0M593.1 156.5a1.8 1.8 0 1 0 3.6 0a1.8 1.8 0 1 0-3.6 0M593.1 162.3a1.8 1.8 0 1 0 3.6 0a1.8 1.8 0 1 0-3.6 0M593.2 166.5a1.8 1.8 0 1 0 3.6 0a1.8 1.8 0 1 0-3.6 0M593.3 166.5a1.8 1.8 0 1 0 3.6 0a1.8 1.8 0 1 0-3.6 0M593.4 162.3a1.8 1.8 0 1 0 3.6 0a1.8 1.8 0 1 0-3.6 0M593.5 149.1a1.8 1.8 0 1 0 3.6 0a1.8 1.8 0 1 0-3.6 0M593.5 159.1a1.8 1.8 0 1 0 3.6 0a1.8 1.8 0 1 0-3.6 0M593.5 162.3a1.8 1.8 0 1 0 3.6 0a1.8 1.8 0 1 0-3.6 0M593.5 182.4a1.8 1.8 0 1 0 3.6 0a1.8 1.8 0 1 0-3.6 0M593.6 154.2a1.8 1.8 0 1 0 3.6 0a1.8 1.8 0 1 0-3.6 0M593.8 159.1a1.8 1.8 0 1 0 3.6 0a1.8 1.8 0 1 0-3.6 0M593.8 162.3a1.8 1.8 0 1 0 3.6 0a1.8 1.8 0 1 0-3.6 0M593.9 192.4a1.8 1.8 0 1 0 3.6 0a1.8 1.8 0 1 0-3.6 0M594.0 159.1a1.8 1.8 0 1 0 3.6 0a1.8 1.8 0 1 0-3.6 0M594.2 146.4a1.8 1.8 0 1 0 3.6 0a1.8 1.8 0 1 0-3.6 0M594.2 182.4a1.8 1.8 0 1 0 3.6 0a1.8 1.8 0 1 0-3.6 0M594.4 162.3a1.8 1.8 0 1 0 3.6 0a1.8 1.8 0 1 0-3.6 0M594.6 154.2a1.8 1.8 0 1 0 3.6 0a1.8 1.8 0 1 0-3.6 0M594.7 143.2a1.8 1.8 0 1 0 3.6 0a1.8 1.8 0 1 0-3.6 0M594.7 156.5a1.8 1.8 0 1 0 3.6 0a1.8 1.8 0 1 0-3.6 0M594.7 162.3a1.8 1.8 0 1 0 3.6 0a1.8 1.8 0 1 0-3.6 0M594.9 140.6a1.8 1.8 0 1 0 3.6 0a1.8 1.8 0 1 0-3.6 0M594.9 147.7a1.8 1.8 0 1 0 3.6 0a1.8 1.8 0 1 0-3.6 0M595.0 166.5a1.8 1.8 0 1 0 3.6 0a1.8 1.8 0 1 0-3.6 0M595.3 146.4a1.8 1.8 0 1 0 3.6 0a1.8 1.8 0 1 0-3.6 0M595.3 162.3a1.8 1.8 0 1 0 3.6 0a1.8 1.8 0 1 0-3.6 0M595.5 192.4a1.8 1.8 0 1 0 3.6 0a1.8 1.8 0 1 0-3.6 0M595.9 144.2a1.8 1.8 0 1 0 3.6 0a1.8 1.8 0 1 0-3.6 0M595.9 192.4a1.8 1.8 0 1 0 3.6 0a1.8 1.8 0 1 0-3.6 0M596.1 146.4a1.8 1.8 0 1 0 3.6 0a1.8 1.8 0 1 0-3.6 0M596.1 156.5a1.8 1.8 0 1 0 3.6 0a1.8 1.8 0 1 0-3.6 0M596.1 162.3a1.8 1.8 0 1 0 3.6 0a1.8 1.8 0 1 0-3.6 0M596.2 182.4a1.8 1.8 0 1 0 3.6 0a1.8 1.8 0 1 0-3.6 0M596.2 192.4a1.8 1.8 0 1 0 3.6 0a1.8 1.8 0 1 0-3.6 0M596.5 159.1a1.8 1.8 0 1 0 3.6 0a1.8 1.8 0 1 0-3.6 0M596.5 162.3a1.8 1.8 0 1 0 3.6 0a1.8 1.8 0 1 0-3.6 0M596.6 156.5a1.8 1.8 0 1 0 3.6 0a1.8 1.8 0 1 0-3.6 0M596.8 166.5a1.8 1.8 0 1 0 3.6 0a1.8 1.8 0 1 0-3.6 0M596.9 156.5a1.8 1.8 0 1 0 3.6 0a1.8 1.8 0 1 0-3.6 0M597.0 154.2a1.8 1.8 0 1 0 3.6 0a1.8 1.8 0 1 0-3.6 0M597.0 192.4a1.8 1.8 0 1 0 3.6 0a1.8 1.8 0 1 0-3.6 0M597.4 166.5a1.8 1.8 0 1 0 3.6 0a1.8 1.8 0 1 0-3.6 0M597.5 159.1a1.8 1.8 0 1 0 3.6 0a1.8 1.8 0 1 0-3.6 0M597.5 162.3a1.8 1.8 0 1 0 3.6 0a1.8 1.8 0 1 0-3.6 0M597.6 162.3a1.8 1.8 0 1 0 3.6 0a1.8 1.8 0 1 0-3.6 0M597.7 162.3a1.8 1.8 0 1 0 3.6 0a1.8 1.8 0 1 0-3.6 0M597.8 146.4a1.8 1.8 0 1 0 3.6 0a1.8 1.8 0 1 0-3.6 0M598.0 152.3a1.8 1.8 0 1 0 3.6 0a1.8 1.8 0 1 0-3.6 0M598.1 166.5a1.8 1.8 0 1 0 3.6 0a1.8 1.8 0 1 0-3.6 0M598.4 139.8a1.8 1.8 0 1 0 3.6 0a1.8 1.8 0 1 0-3.6 0M598.4 159.1a1.8 1.8 0 1 0 3.6 0a1.8 1.8 0 1 0-3.6 0M598.5 154.2a1.8 1.8 0 1 0 3.6 0a1.8 1.8 0 1 0-3.6 0M598.7 136.4a1.8 1.8 0 1 0 3.6 0a1.8 1.8 0 1 0-3.6 0M598.7 162.3a1.8 1.8 0 1 0 3.6 0a1.8 1.8 0 1 0-3.6 0M598.8 159.1a1.8 1.8 0 1 0 3.6 0a1.8 1.8 0 1 0-3.6 0M599.0 182.4a1.8 1.8 0 1 0 3.6 0a1.8 1.8 0 1 0-3.6 0M599.1 162.3a1.8 1.8 0 1 0 3.6 0a1.8 1.8 0 1 0-3.6 0M599.2 162.3a1.8 1.8 0 1 0 3.6 0a1.8 1.8 0 1 0-3.6 0M599.8 166.5a1.8 1.8 0 1 0 3.6 0a1.8 1.8 0 1 0-3.6 0M599.8 182.4a1.8 1.8 0 1 0 3.6 0a1.8 1.8 0 1 0-3.6 0M600.2 162.3a1.8 1.8 0 1 0 3.6 0a1.8 1.8 0 1 0-3.6 0M600.2 182.4a1.8 1.8 0 1 0 3.6 0a1.8 1.8 0 1 0-3.6 0M600.3 162.3a1.8 1.8 0 1 0 3.6 0a1.8 1.8 0 1 0-3.6 0M600.4 182.4a1.8 1.8 0 1 0 3.6 0a1.8 1.8 0 1 0-3.6 0M600.5 152.3a1.8 1.8 0 1 0 3.6 0a1.8 1.8 0 1 0-3.6 0M600.5 192.4a1.8 1.8 0 1 0 3.6 0a1.8 1.8 0 1 0-3.6 0M600.6 182.4a1.8 1.8 0 1 0 3.6 0a1.8 1.8 0 1 0-3.6 0M600.7 166.5a1.8 1.8 0 1 0 3.6 0a1.8 1.8 0 1 0-3.6 0M601.0 182.4a1.8 1.8 0 1 0 3.6 0a1.8 1.8 0 1 0-3.6 0M601.1 166.5a1.8 1.8 0 1 0 3.6 0a1.8 1.8 0 1 0-3.6 0M601.2 142.3a1.8 1.8 0 1 0 3.6 0a1.8 1.8 0 1 0-3.6 0M601.2 154.2a1.8 1.8 0 1 0 3.6 0a1.8 1.8 0 1 0-3.6 0M601.3 147.7a1.8 1.8 0 1 0 3.6 0a1.8 1.8 0 1 0-3.6 0M601.4 150.6a1.8 1.8 0 1 0 3.6 0a1.8 1.8 0 1 0-3.6 0M601.4 156.5a1.8 1.8 0 1 0 3.6 0a1.8 1.8 0 1 0-3.6 0M601.5 162.3a1.8 1.8 0 1 0 3.6 0a1.8 1.8 0 1 0-3.6 0M601.6 192.4a1.8 1.8 0 1 0 3.6 0a1.8 1.8 0 1 0-3.6 0M601.7 139.8a1.8 1.8 0 1 0 3.6 0a1.8 1.8 0 1 0-3.6 0M601.7 192.4a1.8 1.8 0 1 0 3.6 0a1.8 1.8 0 1 0-3.6 0M602.2 162.3a1.8 1.8 0 1 0 3.6 0a1.8 1.8 0 1 0-3.6 0M602.4 159.1a1.8 1.8 0 1 0 3.6 0a1.8 1.8 0 1 0-3.6 0M602.5 97.3a1.8 1.8 0 1 0 3.6 0a1.8 1.8 0 1 0-3.6 0M602.5 159.1a1.8 1.8 0 1 0 3.6 0a1.8 1.8 0 1 0-3.6 0M603.1 192.4a1.8 1.8 0 1 0 3.6 0a1.8 1.8 0 1 0-3.6 0M603.2 159.1a1.8 1.8 0 1 0 3.6 0a1.8 1.8 0 1 0-3.6 0M603.3 182.4a1.8 1.8 0 1 0 3.6 0a1.8 1.8 0 1 0-3.6 0M603.4 145.3a1.8 1.8 0 1 0 3.6 0a1.8 1.8 0 1 0-3.6 0M603.5 162.3a1.8 1.8 0 1 0 3.6 0a1.8 1.8 0 1 0-3.6 0M603.7 143.2a1.8 1.8 0 1 0 3.6 0a1.8 1.8 0 1 0-3.6 0M603.7 192.4a1.8 1.8 0 1 0 3.6 0a1.8 1.8 0 1 0-3.6 0M603.8 159.1a1.8 1.8 0 1 0 3.6 0a1.8 1.8 0 1 0-3.6 0M604.0 162.3a1.8 1.8 0 1 0 3.6 0a1.8 1.8 0 1 0-3.6 0M604.1 131.8a1.8 1.8 0 1 0 3.6 0a1.8 1.8 0 1 0-3.6 0M604.4 149.1a1.8 1.8 0 1 0 3.6 0a1.8 1.8 0 1 0-3.6 0M604.4 166.5a1.8 1.8 0 1 0 3.6 0a1.8 1.8 0 1 0-3.6 0M604.6 192.4a1.8 1.8 0 1 0 3.6 0a1.8 1.8 0 1 0-3.6 0M604.7 159.1a1.8 1.8 0 1 0 3.6 0a1.8 1.8 0 1 0-3.6 0M605.7 154.2a1.8 1.8 0 1 0 3.6 0a1.8 1.8 0 1 0-3.6 0M605.7 159.1a1.8 1.8 0 1 0 3.6 0a1.8 1.8 0 1 0-3.6 0M606.2 152.3a1.8 1.8 0 1 0 3.6 0a1.8 1.8 0 1 0-3.6 0M606.2 182.4a1.8 1.8 0 1 0 3.6 0a1.8 1.8 0 1 0-3.6 0M606.5 134.7a1.8 1.8 0 1 0 3.6 0a1.8 1.8 0 1 0-3.6 0M606.6 150.6a1.8 1.8 0 1 0 3.6 0a1.8 1.8 0 1 0-3.6 0M606.7 159.1a1.8 1.8 0 1 0 3.6 0a1.8 1.8 0 1 0-3.6 0M606.7 172.4a1.8 1.8 0 1 0 3.6 0a1.8 1.8 0 1 0-3.6 0M606.8 162.3a1.8 1.8 0 1 0 3.6 0a1.8 1.8 0 1 0-3.6 0M607.0 159.1a1.8 1.8 0 1 0 3.6 0a1.8 1.8 0 1 0-3.6 0M607.3 159.1a1.8 1.8 0 1 0 3.6 0a1.8 1.8 0 1 0-3.6 0M607.8 159.1a1.8 1.8 0 1 0 3.6 0a1.8 1.8 0 1 0-3.6 0M607.8 166.5a1.8 1.8 0 1 0 3.6 0a1.8 1.8 0 1 0-3.6 0M607.8 192.4a1.8 1.8 0 1 0 3.6 0a1.8 1.8 0 1 0-3.6 0M608.0 135.8a1.8 1.8 0 1 0 3.6 0a1.8 1.8 0 1 0-3.6 0M608.0 154.2a1.8 1.8 0 1 0 3.6 0a1.8 1.8 0 1 0-3.6 0M608.0 156.5a1.8 1.8 0 1 0 3.6 0a1.8 1.8 0 1 0-3.6 0M608.1 159.1a1.8 1.8 0 1 0 3.6 0a1.8 1.8 0 1 0-3.6 0M608.1 172.4a1.8 1.8 0 1 0 3.6 0a1.8 1.8 0 1 0-3.6 0M608.2 162.3a1.8 1.8 0 1 0 3.6 0a1.8 1.8 0 1 0-3.6 0M608.3 150.6a1.8 1.8 0 1 0 3.6 0a1.8 1.8 0 1 0-3.6 0M608.3 156.5a1.8 1.8 0 1 0 3.6 0a1.8 1.8 0 1 0-3.6 0M608.4 139.0a1.8 1.8 0 1 0 3.6 0a1.8 1.8 0 1 0-3.6 0M608.5 156.5a1.8 1.8 0 1 0 3.6 0a1.8 1.8 0 1 0-3.6 0M608.6 159.1a1.8 1.8 0 1 0 3.6 0a1.8 1.8 0 1 0-3.6 0M608.7 162.3a1.8 1.8 0 1 0 3.6 0a1.8 1.8 0 1 0-3.6 0M608.8 152.3a1.8 1.8 0 1 0 3.6 0a1.8 1.8 0 1 0-3.6 0M608.9 143.2a1.8 1.8 0 1 0 3.6 0a1.8 1.8 0 1 0-3.6 0M608.9 182.4a1.8 1.8 0 1 0 3.6 0a1.8 1.8 0 1 0-3.6 0M609.2 152.3a1.8 1.8 0 1 0 3.6 0a1.8 1.8 0 1 0-3.6 0M609.3 159.1a1.8 1.8 0 1 0 3.6 0a1.8 1.8 0 1 0-3.6 0M609.5 154.2a1.8 1.8 0 1 0 3.6 0a1.8 1.8 0 1 0-3.6 0M610.0 166.5a1.8 1.8 0 1 0 3.6 0a1.8 1.8 0 1 0-3.6 0M610.2 172.4a1.8 1.8 0 1 0 3.6 0a1.8 1.8 0 1 0-3.6 0M610.4 143.2a1.8 1.8 0 1 0 3.6 0a1.8 1.8 0 1 0-3.6 0M610.7 150.6a1.8 1.8 0 1 0 3.6 0a1.8 1.8 0 1 0-3.6 0M610.8 156.5a1.8 1.8 0 1 0 3.6 0a1.8 1.8 0 1 0-3.6 0M610.8 172.4a1.8 1.8 0 1 0 3.6 0a1.8 1.8 0 1 0-3.6 0M611.1 192.4a1.8 1.8 0 1 0 3.6 0a1.8 1.8 0 1 0-3.6 0M611.4 162.3a1.8 1.8 0 1 0 3.6 0a1.8 1.8 0 1 0-3.6 0M611.4 172.4a1.8 1.8 0 1 0 3.6 0a1.8 1.8 0 1 0-3.6 0M611.5 152.3a1.8 1.8 0 1 0 3.6 0a1.8 1.8 0 1 0-3.6 0M611.8 159.1a1.8 1.8 0 1 0 3.6 0a1.8 1.8 0 1 0-3.6 0M612.1 152.3a1.8 1.8 0 1 0 3.6 0a1.8 1.8 0 1 0-3.6 0M612.1 159.1a1.8 1.8 0 1 0 3.6 0a1.8 1.8 0 1 0-3.6 0M612.2 159.1a1.8 1.8 0 1 0 3.6 0a1.8 1.8 0 1 0-3.6 0M612.4 172.4a1.8 1.8 0 1 0 3.6 0a1.8 1.8 0 1 0-3.6 0M612.6 172.4a1.8 1.8 0 1 0 3.6 0a1.8 1.8 0 1 0-3.6 0M612.8 172.4a1.8 1.8 0 1 0 3.6 0a1.8 1.8 0 1 0-3.6 0M613.6 192.4a1.8 1.8 0 1 0 3.6 0a1.8 1.8 0 1 0-3.6 0M613.8 159.1a1.8 1.8 0 1 0 3.6 0a1.8 1.8 0 1 0-3.6 0M614.0 147.7a1.8 1.8 0 1 0 3.6 0a1.8 1.8 0 1 0-3.6 0M614.0 152.3a1.8 1.8 0 1 0 3.6 0a1.8 1.8 0 1 0-3.6 0M614.4 154.2a1.8 1.8 0 1 0 3.6 0a1.8 1.8 0 1 0-3.6 0M614.5 145.3a1.8 1.8 0 1 0 3.6 0a1.8 1.8 0 1 0-3.6 0M614.6 172.4a1.8 1.8 0 1 0 3.6 0a1.8 1.8 0 1 0-3.6 0M614.7 172.4a1.8 1.8 0 1 0 3.6 0a1.8 1.8 0 1 0-3.6 0M616.2 159.1a1.8 1.8 0 1 0 3.6 0a1.8 1.8 0 1 0-3.6 0M616.6 154.2a1.8 1.8 0 1 0 3.6 0a1.8 1.8 0 1 0-3.6 0M616.7 192.4a1.8 1.8 0 1 0 3.6 0a1.8 1.8 0 1 0-3.6 0M616.8 162.3a1.8 1.8 0 1 0 3.6 0a1.8 1.8 0 1 0-3.6 0M617.3 159.1a1.8 1.8 0 1 0 3.6 0a1.8 1.8 0 1 0-3.6 0M617.4 130.1a1.8 1.8 0 1 0 3.6 0a1.8 1.8 0 1 0-3.6 0M617.4 156.5a1.8 1.8 0 1 0 3.6 0a1.8 1.8 0 1 0-3.6 0M617.9 159.1a1.8 1.8 0 1 0 3.6 0a1.8 1.8 0 1 0-3.6 0M618.9 162.3a1.8 1.8 0 1 0 3.6 0a1.8 1.8 0 1 0-3.6 0M618.9 172.4a1.8 1.8 0 1 0 3.6 0a1.8 1.8 0 1 0-3.6 0M619.1 162.3a1.8 1.8 0 1 0 3.6 0a1.8 1.8 0 1 0-3.6 0M619.1 182.4a1.8 1.8 0 1 0 3.6 0a1.8 1.8 0 1 0-3.6 0M620.5 154.2a1.8 1.8 0 1 0 3.6 0a1.8 1.8 0 1 0-3.6 0M621.0 145.3a1.8 1.8 0 1 0 3.6 0a1.8 1.8 0 1 0-3.6 0M621.3 135.3a1.8 1.8 0 1 0 3.6 0a1.8 1.8 0 1 0-3.6 0M621.7 159.1a1.8 1.8 0 1 0 3.6 0a1.8 1.8 0 1 0-3.6 0M622.0 159.1a1.8 1.8 0 1 0 3.6 0a1.8 1.8 0 1 0-3.6 0M622.8 156.5a1.8 1.8 0 1 0 3.6 0a1.8 1.8 0 1 0-3.6 0M623.4 166.5a1.8 1.8 0 1 0 3.6 0a1.8 1.8 0 1 0-3.6 0M623.5 162.3a1.8 1.8 0 1 0 3.6 0a1.8 1.8 0 1 0-3.6 0M624.3 162.3a1.8 1.8 0 1 0 3.6 0a1.8 1.8 0 1 0-3.6 0M624.3 192.4a1.8 1.8 0 1 0 3.6 0a1.8 1.8 0 1 0-3.6 0M624.6 145.3a1.8 1.8 0 1 0 3.6 0a1.8 1.8 0 1 0-3.6 0M624.9 162.3a1.8 1.8 0 1 0 3.6 0a1.8 1.8 0 1 0-3.6 0M625.6 172.4a1.8 1.8 0 1 0 3.6 0a1.8 1.8 0 1 0-3.6 0M626.3 166.5a1.8 1.8 0 1 0 3.6 0a1.8 1.8 0 1 0-3.6 0M626.4 134.6a1.8 1.8 0 1 0 3.6 0a1.8 1.8 0 1 0-3.6 0M627.4 154.2a1.8 1.8 0 1 0 3.6 0a1.8 1.8 0 1 0-3.6 0M628.5 182.4a1.8 1.8 0 1 0 3.6 0a1.8 1.8 0 1 0-3.6 0M628.8 159.1a1.8 1.8 0 1 0 3.6 0a1.8 1.8 0 1 0-3.6 0M629.1 159.1a1.8 1.8 0 1 0 3.6 0a1.8 1.8 0 1 0-3.6 0M630.1 166.5a1.8 1.8 0 1 0 3.6 0a1.8 1.8 0 1 0-3.6 0M641.2 158.7a1.8 1.8 0 1 0 3.6 0a1.8 1.8 0 1 0-3.6 0M641.9 192.4a1.8 1.8 0 1 0 3.6 0a1.8 1.8 0 1 0-3.6 0M652.0 158.7a1.8 1.8 0 1 0 3.6 0a1.8 1.8 0 1 0-3.6 0M670.9 182.4a1.8 1.8 0 1 0 3.6 0a1.8 1.8 0 1 0-3.6 0" fill="none" stroke="#000" stroke-width="0.9"/><path d="M89.4 498.5a1.8 1.8 0 1 0 3.6 0a1.8 1.8 0 1 0-3.6 0M92.5 498.5a1.8 1.8 0 1 0 3.6 0a1.8 1.8 0 1 0-3.6 0M95.5 478.5a1.8 1.8 0 1 0 3.6 0a1.8 1.8 0 1 0-3.6 0M95.5 498.5a1.8 1.8 0 1 0 3.6 0a1.8 1.8 0 1 0-3.6 0M98.5 472.7a1.8 1.8 0 1 0 3.6 0a1.8 1.8 0 1 0-3.6 0M98.5 478.5a1.8 1.8 0 1 0 3.6 0a1.8 1.8 0 1 0-3.6 0M98.5 488.5a1.8 1.8 0 1 0 3.6 0a1.8 1.8 0 1 0-3.6 0M98.5 498.5a1.8 1.8 0 1 0 3.6 0a1.8 1.8 0 1 0-3.6 0M101.6 472.7a1.8 1.8 0 1 0 3.6 0a1.8 1.8 0 1 0-3.6 0M101.6 478.5a1.8 1.8 0 1 0 3.6 0a1.8 1.8 0 1 0-3.6 0M101.6 498.5a1.8 1.8 0 1 0 3.6 0a1.8 1.8 0 1 0-3.6 0M104.6 488.5a1.8 1.8 0 1 0 3.6 0a1.8 1.8 0 1 0-3.6 0M104.6 498.5a1.8 1.8 0 1 0 3.6 0a1.8 1.8 0 1 0-3.6 0M107.6 472.7a1.8 1.8 0 1 0 3.6 0a1.8 1.8 0 1 0-3.6 0M107.6 488.5a1.8 1.8 0 1 0 3.6 0a1.8 1.8 0 1 0-3.6 0M107.6 498.5a1.8 1.8 0 1 0 3.6 0a1.8 1.8 0 1 0-3.6 0M110.6 472.7a1.8 1.8 0 1 0 3.6 0a1.8 1.8 0 1 0-3.6 0M110.6 478.5a1.8 1.8 0 1 0 3.6 0a1.8 1.8 0 1 0-3.6 0M110.6 488.5a1.8 1.8 0 1 0 3.6 0a1.8 1.8 0 1 0-3.6 0M110.6 498.5a1.8 1.8 0 1 0 3.6 0a1.8 1.8 0 1 0-3.6 0M113.7 468.5a1.8 1.8 0 1 0 3.6 0a1.8 1.8 0 1 0-3.6 0M113.7 498.5a1.8 1.8 0 1 0 3.6 0a1.8 1.8 0 1 0-3.6 0M116.7 498.5a1.8 1.8 0 1 0 3.6 0a1.8 1.8 0 1 0-3.6 0M119.7 460.6a1.8 1.8 0 1 0 3.6 0a1.8 1.8 0 1 0-3.6 0M119.7 478.5a1.8 1.8 0 1 0 3.6 0a1.8 1.8 0 1 0-3.6 0M119.7 488.5a1.8 1.8 0 1 0 3.6 0a1.8 1.8 0 1 0-3.6 0M119.7 498.5a1.8 1.8 0 1 0 3.6 0a1.8 1.8 0 1 0-3.6 0M122.8 488.5a1.8 1.8 0 1 0 3.6 0a1.8 1.8 0 1 0-3.6 0M122.8 498.5a1.8 1.8 0 1 0 3.6 0a1.8 1.8 0 1 0-3.6 0M125.8 478.5a1.8 1.8 0 1 0 3.6 0a1.8 1.8 0 1 0-3.6 0M125.8 498.5a1.8 1.8 0 1 0 3.6 0a1.8 1.8 0 1 0-3.6 0M128.8 478.5a1.8 1.8 0 1 0 3.6 0a1.8 1.8 0 1 0-3.6 0M128.8 488.5a1.8 1.8 0 1 0 3.6 0a1.8 1.8 0 1 0-3.6 0M128.8 498.5a1.8 1.8 0 1 0 3.6 0a1.8 1.8 0 1 0-3.6 0M131.8 488.5a1.8 1.8 0 1 0 3.6 0a1.8 1.8 0 1 0-3.6 0M131.8 498.5a1.8 1.8 0 1 0 3.6 0a1.8 1.8 0 1 0-3.6 0M134.9 472.7a1.8 1.8 0 1 0 3.6 0a1.8 1.8 0 1 0-3.6 0M134.9 478.5a1.8 1.8 0 1 0 3.6 0a1.8 1.8 0 1 0-3.6 0M134.9 488.5a1.8 1.8 0 1 0 3.6 0a1.8 1.8 0 1 0-3.6 0M134.9 498.5a1.8 1.8 0 1 0 3.6 0a1.8 1.8 0 1 0-3.6 0M137.9 465.3a1.8 1.8 0 1 0 3.6 0a1.8 1.8 0 1 0-3.6 0M137.9 468.5a1.8 1.8 0 1 0 3.6 0a1.8 1.8 0 1 0-3.6 0M137.9 472.7a1.8 1.8 0 1 0 3.6 0a1.8 1.8 0 1 0-3.6 0M137.9 478.5a1.8 1.8 0 1 0 3.6 0a1.8 1.8 0 1 0-3.6 0M137.9 488.5a1.8 1.8 0 1 0 3.6 0a1.8 1.8 0 1 0-3.6 0M137.9 498.5a1.8 1.8 0 1 0 3.6 0a1.8 1.8 0 1 0-3.6 0M140.9 439.9a1.8 1.8 0 1 0 3.6 0a1.8 1.8 0 1 0-3.6 0M140.9 465.3a1.8 1.8 0 1 0 3.6 0a1.8 1.8 0 1 0-3.6 0M140.9 468.5a1.8 1.8 0 1 0 3.6 0a1.8 1.8 0 1 0-3.6 0M140.9 472.7a1.8 1.8 0 1 0 3.6 0a1.8 1.8 0 1 0-3.6 0M140.9 478.5a1.8 1.8 0 1 0 3.6 0a1.8 1.8 0 1 0-3.6 0M140.9 488.5a1.8 1.8 0 1 0 3.6 0a1.8 1.8 0 1 0-3.6 0M140.9 498.5a1.8 1.8 0 1 0 3.6 0a1.8 1.8 0 1 0-3.6 0M144.0 427.1a1.8 1.8 0 1 0 3.6 0a1.8 1.8 0 1 0-3.6 0M144.0 430.1a1.8 1.8 0 1 0 3.6 0a1.8 1.8 0 1 0-3.6 0M144.0 462.7a1.8 1.8 0 1 0 3.6 0a1.8 1.8 0 1 0-3.6 0M144.0 465.3a1.8 1.8 0 1 0 3.6 0a1.8 1.8 0 1 0-3.6 0M144.0 468.5a1.8 1.8 0 1 0 3.6 0a1.8 1.8 0 1 0-3.6 0M144.0 472.7a1.8 1.8 0 1 0 3.6 0a1.8 1.8 0 1 0-3.6 0M144.0 478.5a1.8 1.8 0 1 0 3.6 0a1.8 1.8 0 1 0-3.6 0M144.0 488.5a1.8 1.8 0 1 0 3.6 0a1.8 1.8 0 1 0-3.6 0M144.0 498.5a1.8 1.8 0 1 0 3.6 0a1.8 1.8 0 1 0-3.6 0M147.0 456.8a1.8 1.8 0 1 0 3.6 0a1.8 1.8 0 1 0-3.6 0M147.0 460.5a1.8 1.8 0 1 0 3.6 0a1.8 1.8 0 1 0-3.6 0M147.0 462.7a1.8 1.8 0 1 0 3.6 0a1.8 1.8 0 1 0-3.6 0M147.0 465.3a1.8 1.8 0 1 0 3.6 0a1.8 1.8 0 1 0-3.6 0M147.0 468.5a1.8 1.8 0 1 0 3.6 0a1.8 1.8 0 1 0-3.6 0M147.0 472.7a1.8 1.8 0 1 0 3.6 0a1.8 1.8 0 1 0-3.6 0M147.0 478.5a1.8 1.8 0 1 0 3.6 0a1.8 1.8 0 1 0-3.6 0M147.0 488.5a1.8 1.8 0 1 0 3.6 0a1.8 1.8 0 1 0-3.6 0M147.0 498.5a1.8 1.8 0 1 0 3.6 0a1.8 1.8 0 1 0-3.6 0M150.0 449.5a1.8 1.8 0 1 0 3.6 0a1.8 1.8 0 1 0-3.6 0M150.0 451.5a1.8 1.8 0 1 0 3.6 0a1.8 1.8 0 1 0-3.6 0M150.0 460.5a1.8 1.8 0 1 0 3.6 0a1.8 1.8 0 1 0-3.6 0M150.0 462.7a1.8 1.8 0 1 0 3.6 0a1.8 1.8 0 1 0-3.6 0M150.0 465.3a1.8 1.8 0 1 0 3.6 0a1.8 1.8 0 1 0-3.6 0M150.0 468.5a1.8 1.8 0 1 0 3.6 0a1.8 1.8 0 1 0-3.6 0M150.0 472.7a1.8 1.8 0 1 0 3.6 0a1.8 1.8 0 1 0-3.6 0M150.0 478.5a1.8 1.8 0 1 0 3.6 0a1.8 1.8 0 1 0-3.6 0M150.0 488.5a1.8 1.8 0 1 0 3.6 0a1.8 1.8 0 1 0-3.6 0M150.0 498.5a1.8 1.8 0 1 0 3.6 0a1.8 1.8 0 1 0-3.6 0M153.0 406.5a1.8 1.8 0 1 0 3.6 0a1.8 1.8 0 1 0-3.6 0M153.0 456.8a1.8 1.8 0 1 0 3.6 0a1.8 1.8 0 1 0-3.6 0M153.0 460.5a1.8 1.8 0 1 0 3.6 0a1.8 1.8 0 1 0-3.6 0M153.0 462.7a1.8 1.8 0 1 0 3.6 0a1.8 1.8 0 1 0-3.6 0M153.0 465.3a1.8 1.8 0 1 0 3.6 0a1.8 1.8 0 1 0-3.6 0M153.0 468.5a1.8 1.8 0 1 0 3.6 0a1.8 1.8 0 1 0-3.6 0M153.0 472.7a1.8 1.8 0 1 0 3.6 0a1.8 1.8 0 1 0-3.6 0M153.0 478.5a1.8 1.8 0 1 0 3.6 0a1.8 1.8 0 1 0-3.6 0M153.0 488.5a1.8 1.8 0 1 0 3.6 0a1.8 1.8 0 1 0-3.6 0M153.0 498.5a1.8 1.8 0 1 0 3.6 0a1.8 1.8 0 1 0-3.6 0M156.1 436.5a1.8 1.8 0 1 0 3.6 0a1.8 1.8 0 1 0-3.6 0M156.1 455.3a1.8 1.8 0 1 0 3.6 0a1.8 1.8 0 1 0-3.6 0M156.1 456.8a1.8 1.8 0 1 0 3.6 0a1.8 1.8 0 1 0-3.6 0M156.1 460.5a1.8 1.8 0 1 0 3.6 0a1.8 1.8 0 1 0-3.6 0M156.1 462.7a1.8 1.8 0 1 0 3.6 0a1.8 1.8 0 1 0-3.6 0M156.1 465.3a1.8 1.8 0 1 0 3.6 0a1.8 1.8 0 1 0-3.6 0M156.1 468.5a1.8 1.8 0 1 0 3.6 0a1.8 1.8 0 1 0-3.6 0M156.1 472.7a1.8 1.8 0 1 0 3.6 0a1.8 1.8 0 1 0-3.6 0M156.1 478.5a1.8 1.8 0 1 0 3.6 0a1.8 1.8 0 1 0-3.6 0M156.1 488.5a1.8 1.8 0 1 0 3.6 0a1.8 1.8 0 1 0-3.6 0M156.1 498.5a1.8 1.8 0 1 0 3.6 0a1.8 1.8 0 1 0-3.6 0M159.1 433.3a1.8 1.8 0 1 0 3.6 0a1.8 1.8 0 1 0-3.6 0M159.1 435.7a1.8 1.8 0 1 0 3.6 0a1.8 1.8 0 1 0-3.6 0M159.1 441.5a1.8 1.8 0 1 0 3.6 0a1.8 1.8 0 1 0-3.6 0M159.1 442.1a1.8 1.8 0 1 0 3.6 0a1.8 1.8 0 1 0-3.6 0M159.1 458.5a1.8 1.8 0 1 0 3.6 0a1.8 1.8 0 1 0-3.6 0M159.1 462.7a1.8 1.8 0 1 0 3.6 0a1.8 1.8 0 1 0-3.6 0M159.1 465.3a1.8 1.8 0 1 0 3.6 0a1.8 1.8 0 1 0-3.6 0M159.1 468.5a1.8 1.8 0 1 0 3.6 0a1.8 1.8 0 1 0-3.6 0M159.1 472.7a1.8 1.8 0 1 0 3.6 0a1.8 1.8 0 1 0-3.6 0M159.1 478.5a1.8 1.8 0 1 0 3.6 0a1.8 1.8 0 1 0-3.6 0M159.1 488.5a1.8 1.8 0 1 0 3.6 0a1.8 1.8 0 1 0-3.6 0M159.1 498.5a1.8 1.8 0 1 0 3.6 0a1.8 1.8 0 1 0-3.6 0M162.1 430.7a1.8 1.8 0 1 0 3.6 0a1.8 1.8 0 1 0-3.6 0M162.1 439.1a1.8 1.8 0 1 0 3.6 0a1.8 1.8 0 1 0-3.6 0M162.1 446.1a1.8 1.8 0 1 0 3.6 0a1.8 1.8 0 1 0-3.6 0M162.1 449.5a1.8 1.8 0 1 0 3.6 0a1.8 1.8 0 1 0-3.6 0M162.1 456.8a1.8 1.8 0 1 0 3.6 0a1.8 1.8 0 1 0-3.6 0M162.1 458.5a1.8 1.8 0 1 0 3.6 0a1.8 1.8 0 1 0-3.6 0M162.1 460.5a1.8 1.8 0 1 0 3.6 0a1.8 1.8 0 1 0-3.6 0M162.1 465.3a1.8 1.8 0 1 0 3.6 0a1.8 1.8 0 1 0-3.6 0M162.1 468.5a1.8 1.8 0 1 0 3.6 0a1.8 1.8 0 1 0-3.6 0M162.1 472.7a1.8 1.8 0 1 0 3.6 0a1.8 1.8 0 1 0-3.6 0M162.1 478.5a1.8 1.8 0 1 0 3.6 0a1.8 1.8 0 1 0-3.6 0M162.1 488.5a1.8 1.8 0 1 0 3.6 0a1.8 1.8 0 1 0-3.6 0M162.1 498.5a1.8 1.8 0 1 0 3.6 0a1.8 1.8 0 1 0-3.6 0M165.2 439.0a1.8 1.8 0 1 0 3.6 0a1.8 1.8 0 1 0-3.6 0M165.2 440.4a1.8 1.8 0 1 0 3.6 0a1.8 1.8 0 1 0-3.6 0M165.2 442.7a1.8 1.8 0 1 0 3.6 0a1.8 1.8 0 1 0-3.6 0M165.2 453.9a1.8 1.8 0 1 0 3.6 0a1.8 1.8 0 1 0-3.6 0M165.2 462.7a1.8 1.8 0 1 0 3.6 0a1.8 1.8 0 1 0-3.6 0M165.2 465.3a1.8 1.8 0 1 0 3.6 0a1.8 1.8 0 1 0-3.6 0M165.2 468.5a1.8 1.8 0 1 0 3.6 0a1.8 1.8 0 1 0-3.6 0M165.2 472.7a1.8 1.8 0 1 0 3.6 0a1.8 1.8 0 1 0-3.6 0M165.2 478.5a1.8 1.8 0 1 0 3.6 0a1.8 1.8 0 1 0-3.6 0M165.2 488.5a1.8 1.8 0 1 0 3.6 0a1.8 1.8 0 1 0-3.6 0M165.2 498.5a1.8 1.8 0 1 0 3.6 0a1.8 1.8 0 1 0-3.6 0M168.2 411.7a1.8 1.8 0 1 0 3.6 0a1.8 1.8 0 1 0-3.6 0M168.2 433.3a1.8 1.8 0 1 0 3.6 0a1.8 1.8 0 1 0-3.6 0M168.2 452.7a1.8 1.8 0 1 0 3.6 0a1.8 1.8 0 1 0-3.6 0M168.2 460.5a1.8 1.8 0 1 0 3.6 0a1.8 1.8 0 1 0-3.6 0M168.2 462.7a1.8 1.8 0 1 0 3.6 0a1.8 1.8 0 1 0-3.6 0M168.2 465.3a1.8 1.8 0 1 0 3.6 0a1.8 1.8 0 1 0-3.6 0M168.2 468.5a1.8 1.8 0 1 0 3.6 0a1.8 1.8 0 1 0-3.6 0M168.2 472.7a1.8 1.8 0 1 0 3.6 0a1.8 1.8 0 1 0-3.6 0M168.2 478.5a1.8 1.8 0 1 0 3.6 0a1.8 1.8 0 1 0-3.6 0M168.2 488.5a1.8 1.8 0 1 0 3.6 0a1.8 1.8 0 1 0-3.6 0M168.2 498.5a1.8 1.8 0 1 0 3.6 0a1.8 1.8 0 1 0-3.6 0M171.2 443.3a1.8 1.8 0 1 0 3.6 0a1.8 1.8 0 1 0-3.6 0M171.2 444.6a1.8 1.8 0 1 0 3.6 0a1.8 1.8 0 1 0-3.6 0M171.2 452.7a1.8 1.8 0 1 0 3.6 0a1.8 1.8 0 1 0-3.6 0M171.2 453.9a1.8 1.8 0 1 0 3.6 0a1.8 1.8 0 1 0-3.6 0M171.2 460.5a1.8 1.8 0 1 0 3.6 0a1.8 1.8 0 1 0-3.6 0M171.2 462.7a1.8 1.8 0 1 0 3.6 0a1.8 1.8 0 1 0-3.6 0M171.2 465.3a1.8 1.8 0 1 0 3.6 0a1.8 1.8 0 1 0-3.6 0M171.2 468.5a1.8 1.8 0 1 0 3.6 0a1.8 1.8 0 1 0-3.6 0M171.2 472.7a1.8 1.8 0 1 0 3.6 0a1.8 1.8 0 1 0-3.6 0M171.2 478.5a1.8 1.8 0 1 0 3.6 0a1.8 1.8 0 1 0-3.6 0M171.2 488.5a1.8 1.8 0 1 0 3.6 0a1.8 1.8 0 1 0-3.6 0M171.2 498.5a1.8 1.8 0 1 0 3.6 0a1.8 1.8 0 1 0-3.6 0M174.2 433.3a1.8 1.8 0 1 0 3.6 0a1.8 1.8 0 1 0-3.6 0M174.2 455.3a1.8 1.8 0 1 0 3.6 0a1.8 1.8 0 1 0-3.6 0M174.2 456.8a1.8 1.8 0 1 0 3.6 0a1.8 1.8 0 1 0-3.6 0M174.2 460.5a1.8 1.8 0 1 0 3.6 0a1.8 1.8 0 1 0-3.6 0M174.2 462.7a1.8 1.8 0 1 0 3.6 0a1.8 1.8 0 1 0-3.6 0M174.2 465.3a1.8 1.8 0 1 0 3.6 0a1.8 1.8 0 1 0-3.6 0M174.2 468.5a1.8 1.8 0 1 0 3.6 0a1.8 1.8 0 1 0-3.6 0M174.2 472.7a1.8 1.8 0 1 0 3.6 0a1.8 1.8 0 1 0-3.6 0M174.2 478.5a1.8 1.8 0 1 0 3.6 0a1.8 1.8 0 1 0-3.6 0M174.2 488.5a1.8 1.8 0 1 0 3.6 0a1.8 1.8 0 1 0-3.6 0M174.2 498.5a1.8 1.8 0 1 0 3.6 0a1.8 1.8 0 1 0-3.6 0M177.3 458.5a1.8 1.8 0 1 0 3.6 0a1.8 1.8 0 1 0-3.6 0M177.3 460.5a1.8 1.8 0 1 0 3.6 0a1.8 1.8 0 1 0-3.6 0M177.3 462.7a1.8 1.8 0 1 0 3.6 0a1.8 1.8 0 1 0-3.6 0M177.3 465.3a1.8 1.8 0 1 0 3.6 0a1.8 1.8 0 1 0-3.6 0M177.3 468.5a1.8 1.8 0 1 0 3.6 0a1.8 1.8 0 1 0-3.6 0M177.3 472.7a1.8 1.8 0 1 0 3.6 0a1.8 1.8 0 1 0-3.6 0M177.3 478.5a1.8 1.8 0 1 0 3.6 0a1.8 1.8 0 1 0-3.6 0M177.3 488.5a1.8 1.8 0 1 0 3.6 0a1.8 1.8 0 1 0-3.6 0M177.3 498.5a1.8 1.8 0 1 0 3.6 0a1.8 1.8 0 1 0-3.6 0M180.3 438.4a1.8 1.8 0 1 0 3.6 0a1.8 1.8 0 1 0-3.6 0M180.3 447.7a1.8 1.8 0 1 0 3.6 0a1.8 1.8 0 1 0-3.6 0M180.3 456.8a1.8 1.8 0 1 0 3.6 0a1.8 1.8 0 1 0-3.6 0M180.3 458.5a1.8 1.8 0 1 0 3.6 0a1.8 1.8 0 1 0-3.6 0M180.3 460.5a1.8 1.8 0 1 0 3.6 0a1.8 1.8 0 1 0-3.6 0M180.3 462.7a1.8 1.8 0 1 0 3.6 0a1.8 1.8 0 1 0-3.6 0M180.3 465.3a1.8 1.8 0 1 0 3.6 0a1.8 1.8 0 1 0-3.6 0M180.3 468.5a1.8 1.8 0 1 0 3.6 0a1.8 1.8 0 1 0-3.6 0M180.3 472.7a1.8 1.8 0 1 0 3.6 0a1.8 1.8 0 1 0-3.6 0M180.3 478.5a1.8 1.8 0 1 0 3.6 0a1.8 1.8 0 1 0-3.6 0M180.3 488.5a1.8 1.8 0 1 0 3.6 0a1.8 1.8 0 1 0-3.6 0M180.3 498.5a1.8 1.8 0 1 0 3.6 0a1.8 1.8 0 1 0-3.6 0M183.3 444.6a1.8 1.8 0 1 0 3.6 0a1.8 1.8 0 1 0-3.6 0M183.3 447.7a1.8 1.8 0 1 0 3.6 0a1.8 1.8 0 1 0-3.6 0M183.3 450.5a1.8 1.8 0 1 0 3.6 0a1.8 1.8 0 1 0-3.6 0M183.3 452.7a1.8 1.8 0 1 0 3.6 0a1.8 1.8 0 1 0-3.6 0M183.3 453.9a1.8 1.8 0 1 0 3.6 0a1.8 1.8 0 1 0-3.6 0M183.3 456.8a1.8 1.8 0 1 0 3.6 0a1.8 1.8 0 1 0-3.6 0M183.3 460.5a1.8 1.8 0 1 0 3.6 0a1.8 1.8 0 1 0-3.6 0M183.3 462.7a1.8 1.8 0 1 0 3.6 0a1.8 1.8 0 1 0-3.6 0M183.3 465.3a1.8 1.8 0 1 0 3.6 0a1.8 1.8 0 1 0-3.6 0M183.3 468.5a1.8 1.8 0 1 0 3.6 0a1.8 1.8 0 1 0-3.6 0M183.3 472.7a1.8 1.8 0 1 0 3.6 0a1.8 1.8 0 1 0-3.6 0M183.3 478.5a1.8 1.8 0 1 0 3.6 0a1.8 1.8 0 1 0-3.6 0M183.3 488.5a1.8 1.8 0 1 0 3.6 0a1.8 1.8 0 1 0-3.6 0M183.3 498.5a1.8 1.8 0 1 0 3.6 0a1.8 1.8 0 1 0-3.6 0M186.3 440.5a1.8 1.8 0 1 0 3.6 0a1.8 1.8 0 1 0-3.6 0M186.3 447.7a1.8 1.8 0 1 0 3.6 0a1.8 1.8 0 1 0-3.6 0M186.3 449.5a1.8 1.8 0 1 0 3.6 0a1.8 1.8 0 1 0-3.6 0M186.3 458.5a1.8 1.8 0 1 0 3.6 0a1.8 1.8 0 1 0-3.6 0M186.3 460.5a1.8 1.8 0 1 0 3.6 0a1.8 1.8 0 1 0-3.6 0M186.3 462.7a1.8 1.8 0 1 0 3.6 0a1.8 1.8 0 1 0-3.6 0M186.3 465.3a1.8 1.8 0 1 0 3.6 0a1.8 1.8 0 1 0-3.6 0M186.3 468.5a1.8 1.8 0 1 0 3.6 0a1.8 1.8 0 1 0-3.6 0M186.3 472.7a1.8 1.8 0 1 0 3.6 0a1.8 1.8 0 1 0-3.6 0M186.3 478.5a1.8 1.8 0 1 0 3.6 0a1.8 1.8 0 1 0-3.6 0M186.3 488.5a1.8 1.8 0 1 0 3.6 0a1.8 1.8 0 1 0-3.6 0M186.3 498.5a1.8 1.8 0 1 0 3.6 0a1.8 1.8 0 1 0-3.6 0M189.4 447.7a1.8 1.8 0 1 0 3.6 0a1.8 1.8 0 1 0-3.6 0M189.4 451.5a1.8 1.8 0 1 0 3.6 0a1.8 1.8 0 1 0-3.6 0M189.4 453.9a1.8 1.8 0 1 0 3.6 0a1.8 1.8 0 1 0-3.6 0M189.4 458.5a1.8 1.8 0 1 0 3.6 0a1.8 1.8 0 1 0-3.6 0M189.4 460.5a1.8 1.8 0 1 0 3.6 0a1.8 1.8 0 1 0-3.6 0M189.4 462.7a1.8 1.8 0 1 0 3.6 0a1.8 1.8 0 1 0-3.6 0M189.4 465.3a1.8 1.8 0 1 0 3.6 0a1.8 1.8 0 1 0-3.6 0M189.4 468.5a1.8 1.8 0 1 0 3.6 0a1.8 1.8 0 1 0-3.6 0M189.4 472.7a1.8 1.8 0 1 0 3.6 0a1.8 1.8 0 1 0-3.6 0M189.4 478.5a1.8 1.8 0 1 0 3.6 0a1.8 1.8 0 1 0-3.6 0M189.4 488.5a1.8 1.8 0 1 0 3.6 0a1.8 1.8 0 1 0-3.6 0M189.4 498.5a1.8 1.8 0 1 0 3.6 0a1.8 1.8 0 1 0-3.6 0M192.4 429.7a1.8 1.8 0 1 0 3.6 0a1.8 1.8 0 1 0-3.6 0M192.4 438.5a1.8 1.8 0 1 0 3.6 0a1.8 1.8 0 1 0-3.6 0M192.4 443.9a1.8 1.8 0 1 0 3.6 0a1.8 1.8 0 1 0-3.6 0M192.4 458.5a1.8 1.8 0 1 0 3.6 0a1.8 1.8 0 1 0-3.6 0M192.4 460.5a1.8 1.8 0 1 0 3.6 0a1.8 1.8 0 1 0-3.6 0M192.4 462.7a1.8 1.8 0 1 0 3.6 0a1.8 1.8 0 1 0-3.6 0M192.4 465.3a1.8 1.8 0 1 0 3.6 0a1.8 1.8 0 1 0-3.6 0M192.4 468.5a1.8 1.8 0 1 0 3.6 0a1.8 1.8 0 1 0-3.6 0M192.4 472.7a1.8 1.8 0 1 0 3.6 0a1.8 1.8 0 1 0-3.6 0M192.4 478.5a1.8 1.8 0 1 0 3.6 0a1.8 1.8 0 1 0-3.6 0M192.4 488.5a1.8 1.8 0 1 0 3.6 0a1.8 1.8 0 1 0-3.6 0M192.4 498.5a1.8 1.8 0 1 0 3.6 0a1.8 1.8 0 1 0-3.6 0M195.4 436.8a1.8 1.8 0 1 0 3.6 0a1.8 1.8 0 1 0-3.6 0M195.4 452.7a1.8 1.8 0 1 0 3.6 0a1.8 1.8 0 1 0-3.6 0M195.4 456.8a1.8 1.8 0 1 0 3.6 0a1.8 1.8 0 1 0-3.6 0M195.4 458.5a1.8 1.8 0 1 0 3.6 0a1.8 1.8 0 1 0-3.6 0M195.4 462.7a1.8 1.8 0 1 0 3.6 0a1.8 1.8 0 1 0-3.6 0M195.4 465.3a1.8 1.8 0 1 0 3.6 0a1.8 1.8 0 1 0-3.6 0M195.4 468.5a1.8 1.8 0 1 0 3.6 0a1.8 1.8 0 1 0-3.6 0M195.4 472.7a1.8 1.8 0 1 0 3.6 0a1.8 1.8 0 1 0-3.6 0M195.4 478.5a1.8 1.8 0 1 0 3.6 0a1.8 1.8 0 1 0-3.6 0M195.4 488.5a1.8 1.8 0 1 0 3.6 0a1.8 1.8 0 1 0-3.6 0M195.4 498.5a1.8 1.8 0 1 0 3.6 0a1.8 1.8 0 1 0-3.6 0M198.5 446.1a1.8 1.8 0 1 0 3.6 0a1.8 1.8 0 1 0-3.6 0M198.5 458.5a1.8 1.8 0 1 0 3.6 0a1.8 1.8 0 1 0-3.6 0M198.5 460.5a1.8 1.8 0 1 0 3.6 0a1.8 1.8 0 1 0-3.6 0M198.5 465.3a1.8 1.8 0 1 0 3.6 0a1.8 1.8 0 1 0-3.6 0M198.5 468.5a1.8 1.8 0 1 0 3.6 0a1.8 1.8 0 1 0-3.6 0M198.5 472.7a1.8 1.8 0 1 0 3.6 0a1.8 1.8 0 1 0-3.6 0M198.5 478.5a1.8 1.8 0 1 0 3.6 0a1.8 1.8 0 1 0-3.6 0M198.5 488.5a1.8 1.8 0 1 0 3.6 0a1.8 1.8 0 1 0-3.6 0M198.5 498.5a1.8 1.8 0 1 0 3.6 0a1.8 1.8 0 1 0-3.6 0M201.5 398.8a1.8 1.8 0 1 0 3.6 0a1.8 1.8 0 1 0-3.6 0M201.5 442.1a1.8 1.8 0 1 0 3.6 0a1.8 1.8 0 1 0-3.6 0M201.5 444.6a1.8 1.8 0 1 0 3.6 0a1.8 1.8 0 1 0-3.6 0M201.5 450.5a1.8 1.8 0 1 0 3.6 0a1.8 1.8 0 1 0-3.6 0M201.5 451.5a1.8 1.8 0 1 0 3.6 0a1.8 1.8 0 1 0-3.6 0M201.5 453.9a1.8 1.8 0 1 0 3.6 0a1.8 1.8 0 1 0-3.6 0M201.5 455.3a1.8 1.8 0 1 0 3.6 0a1.8 1.8 0 1 0-3.6 0M201.5 456.8a1.8 1.8 0 1 0 3.6 0a1.8 1.8 0 1 0-3.6 0M201.5 458.5a1.8 1.8 0 1 0 3.6 0a1.8 1.8 0 1 0-3.6 0M201.5 460.5a1.8 1.8 0 1 0 3.6 0a1.8 1.8 0 1 0-3.6 0M201.5 462.7a1.8 1.8 0 1 0 3.6 0a1.8 1.8 0 1 0-3.6 0M201.5 465.3a1.8 1.8 0 1 0 3.6 0a1.8 1.8 0 1 0-3.6 0M201.5 468.5a1.8 1.8 0 1 0 3.6 0a1.8 1.8 0 1 0-3.6 0M201.5 472.7a1.8 1.8 0 1 0 3.6 0a1.8 1.8 0 1 0-3.6 0M201.5 478.5a1.8 1.8 0 1 0 3.6 0a1.8 1.8 0 1 0-3.6 0M201.5 488.5a1.8 1.8 0 1 0 3.6 0a1.8 1.8 0 1 0-3.6 0M201.5 498.5a1.8 1.8 0 1 0 3.6 0a1.8 1.8 0 1 0-3.6 0M204.5 437.2a1.8 1.8 0 1 0 3.6 0a1.8 1.8 0 1 0-3.6 0M204.5 446.8a1.8 1.8 0 1 0 3.6 0a1.8 1.8 0 1 0-3.6 0M204.5 452.7a1.8 1.8 0 1 0 3.6 0a1.8 1.8 0 1 0-3.6 0M204.5 453.9a1.8 1.8 0 1 0 3.6 0a1.8 1.8 0 1 0-3.6 0M204.5 455.3a1.8 1.8 0 1 0 3.6 0a1.8 1.8 0 1 0-3.6 0M204.5 456.8a1.8 1.8 0 1 0 3.6 0a1.8 1.8 0 1 0-3.6 0M204.5 458.5a1.8 1.8 0 1 0 3.6 0a1.8 1.8 0 1 0-3.6 0M204.5 460.5a1.8 1.8 0 1 0 3.6 0a1.8 1.8 0 1 0-3.6 0M204.5 462.7a1.8 1.8 0 1 0 3.6 0a1.8 1.8 0 1 0-3.6 0M204.5 465.3a1.8 1.8 0 1 0 3.6 0a1.8 1.8 0 1 0-3.6 0M204.5 468.5a1.8 1.8 0 1 0 3.6 0a1.8 1.8 0 1 0-3.6 0M204.5 472.7a1.8 1.8 0 1 0 3.6 0a1.8 1.8 0 1 0-3.6 0M204.5 478.5a1.8 1.8 0 1 0 3.6 0a1.8 1.8 0 1 0-3.6 0M204.5 488.5a1.8 1.8 0 1 0 3.6 0a1.8 1.8 0 1 0-3.6 0M204.5 498.5a1.8 1.8 0 1 0 3.6 0a1.8 1.8 0 1 0-3.6 0M207.5 436.5a1.8 1.8 0 1 0 3.6 0a1.8 1.8 0 1 0-3.6 0M207.5 443.9a1.8 1.8 0 1 0 3.6 0a1.8 1.8 0 1 0-3.6 0M207.5 446.8a1.8 1.8 0 1 0 3.6 0a1.8 1.8 0 1 0-3.6 0M207.5 451.5a1.8 1.8 0 1 0 3.6 0a1.8 1.8 0 1 0-3.6 0M207.5 453.9a1.8 1.8 0 1 0 3.6 0a1.8 1.8 0 1 0-3.6 0M207.5 460.5a1.8 1.8 0 1 0 3.6 0a1.8 1.8 0 1 0-3.6 0M207.5 462.7a1.8 1.8 0 1 0 3.6 0a1.8 1.8 0 1 0-3.6 0M207.5 465.3a1.8 1.8 0 1 0 3.6 0a1.8 1.8 0 1 0-3.6 0M207.5 468.5a1.8 1.8 0 1 0 3.6 0a1.8 1.8 0 1 0-3.6 0M207.5 472.7a1.8 1.8 0 1 0 3.6 0a1.8 1.8 0 1 0-3.6 0M207.5 478.5a1.8 1.8 0 1 0 3.6 0a1.8 1.8 0 1 0-3.6 0M207.5 488.5a1.8 1.8 0 1 0 3.6 0a1.8 1.8 0 1 0-3.6 0M207.5 498.5a1.8 1.8 0 1 0 3.6 0a1.8 1.8 0 1 0-3.6 0M210.6 439.5a1.8 1.8 0 1 0 3.6 0a1.8 1.8 0 1 0-3.6 0M210.6 453.9a1.8 1.8 0 1 0 3.6 0a1.8 1.8 0 1 0-3.6 0M210.6 458.5a1.8 1.8 0 1 0 3.6 0a1.8 1.8 0 1 0-3.6 0M210.6 460.5a1.8 1.8 0 1 0 3.6 0a1.8 1.8 0 1 0-3.6 0M210.6 462.7a1.8 1.8 0 1 0 3.6 0a1.8 1.8 0 1 0-3.6 0M210.6 465.3a1.8 1.8 0 1 0 3.6 0a1.8 1.8 0 1 0-3.6 0M210.6 468.5a1.8 1.8 0 1 0 3.6 0a1.8 1.8 0 1 0-3.6 0M210.6 472.7a1.8 1.8 0 1 0 3.6 0a1.8 1.8 0 1 0-3.6 0M210.6 478.5a1.8 1.8 0 1 0 3.6 0a1.8 1.8 0 1 0-3.6 0M210.6 488.5a1.8 1.8 0 1 0 3.6 0a1.8 1.8 0 1 0-3.6 0M210.6 498.5a1.8 1.8 0 1 0 3.6 0a1.8 1.8 0 1 0-3.6 0M213.6 435.0a1.8 1.8 0 1 0 3.6 0a1.8 1.8 0 1 0-3.6 0M213.6 438.1a1.8 1.8 0 1 0 3.6 0a1.8 1.8 0 1 0-3.6 0M213.6 440.4a1.8 1.8 0 1 0 3.6 0a1.8 1.8 0 1 0-3.6 0M213.6 440.5a1.8 1.8 0 1 0 3.6 0a1.8 1.8 0 1 0-3.6 0M213.6 443.9a1.8 1.8 0 1 0 3.6 0a1.8 1.8 0 1 0-3.6 0M213.6 451.5a1.8 1.8 0 1 0 3.6 0a1.8 1.8 0 1 0-3.6 0M213.6 452.7a1.8 1.8 0 1 0 3.6 0a1.8 1.8 0 1 0-3.6 0M213.6 456.8a1.8 1.8 0 1 0 3.6 0a1.8 1.8 0 1 0-3.6 0M213.6 458.5a1.8 1.8 0 1 0 3.6 0a1.8 1.8 0 1 0-3.6 0M213.6 460.5a1.8 1.8 0 1 0 3.6 0a1.8 1.8 0 1 0-3.6 0M213.6 462.7a1.8 1.8 0 1 0 3.6 0a1.8 1.8 0 1 0-3.6 0M213.6 465.3a1.8 1.8 0 1 0 3.6 0a1.8 1.8 0 1 0-3.6 0M213.6 468.5a1.8 1.8 0 1 0 3.6 0a1.8 1.8 0 1 0-3.6 0M213.6 472.7a1.8 1.8 0 1 0 3.6 0a1.8 1.8 0 1 0-3.6 0M213.6 478.5a1.8 1.8 0 1 0 3.6 0a1.8 1.8 0 1 0-3.6 0M213.6 488.5a1.8 1.8 0 1 0 3.6 0a1.8 1.8 0 1 0-3.6 0M213.6 498.5a1.8 1.8 0 1 0 3.6 0a1.8 1.8 0 1 0-3.6 0M216.6 443.9a1.8 1.8 0 1 0 3.6 0a1.8 1.8 0 1 0-3.6 0M216.6 449.5a1.8 1.8 0 1 0 3.6 0a1.8 1.8 0 1 0-3.6 0M216.6 450.5a1.8 1.8 0 1 0 3.6 0a1.8 1.8 0 1 0-3.6 0M216.6 451.5a1.8 1.8 0 1 0 3.6 0a1.8 1.8 0 1 0-3.6 0M216.6 455.3a1.8 1.8 0 1 0 3.6 0a1.8 1.8 0 1 0-3.6 0M216.6 456.8a1.8 1.8 0 1 0 3.6 0a1.8 1.8 0 1 0-3.6 0M216.6 458.5a1.8 1.8 0 1 0 3.6 0a1.8 1.8 0 1 0-3.6 0M216.6 460.5a1.8 1.8 0 1 0 3.6 0a1.8 1.8 0 1 0-3.6 0M216.6 462.7a1.8 1.8 0 1 0 3.6 0a1.8 1.8 0 1 0-3.6 0M216.6 465.3a1.8 1.8 0 1 0 3.6 0a1.8 1.8 0 1 0-3.6 0M216.6 468.5a1.8 1.8 0 1 0 3.6 0a1.8 1.8 0 1 0-3.6 0M216.6 472.7a1.8 1.8 0 1 0 3.6 0a1.8 1.8 0 1 0-3.6 0M216.6 478.5a1.8 1.8 0 1 0 3.6 0a1.8 1.8 0 1 0-3.6 0M216.6 488.5a1.8 1.8 0 1 0 3.6 0a1.8 1.8 0 1 0-3.6 0M216.6 498.5a1.8 1.8 0 1 0 3.6 0a1.8 1.8 0 1 0-3.6 0M219.7 441.0a1.8 1.8 0 1 0 3.6 0a1.8 1.8 0 1 0-3.6 0M219.7 447.7a1.8 1.8 0 1 0 3.6 0a1.8 1.8 0 1 0-3.6 0M219.7 450.5a1.8 1.8 0 1 0 3.6 0a1.8 1.8 0 1 0-3.6 0M219.7 456.8a1.8 1.8 0 1 0 3.6 0a1.8 1.8 0 1 0-3.6 0M219.7 458.5a1.8 1.8 0 1 0 3.6 0a1.8 1.8 0 1 0-3.6 0M219.7 460.5a1.8 1.8 0 1 0 3.6 0a1.8 1.8 0 1 0-3.6 0M219.7 465.3a1.8 1.8 0 1 0 3.6 0a1.8 1.8 0 1 0-3.6 0M219.7 468.5a1.8 1.8 0 1 0 3.6 0a1.8 1.8 0 1 0-3.6 0M219.7 472.7a1.8 1.8 0 1 0 3.6 0a1.8 1.8 0 1 0-3.6 0M219.7 478.5a1.8 1.8 0 1 0 3.6 0a1.8 1.8 0 1 0-3.6 0M219.7 488.5a1.8 1.8 0 1 0 3.6 0a1.8 1.8 0 1 0-3.6 0M219.7 498.5a1.8 1.8 0 1 0 3.6 0a1.8 1.8 0 1 0-3.6 0M222.7 415.0a1.8 1.8 0 1 0 3.6 0a1.8 1.8 0 1 0-3.6 0M222.7 426.2a1.8 1.8 0 1 0 3.6 0a1.8 1.8 0 1 0-3.6 0M222.7 442.7a1.8 1.8 0 1 0 3.6 0a1.8 1.8 0 1 0-3.6 0M222.7 446.1a1.8 1.8 0 1 0 3.6 0a1.8 1.8 0 1 0-3.6 0M222.7 452.7a1.8 1.8 0 1 0 3.6 0a1.8 1.8 0 1 0-3.6 0M222.7 455.3a1.8 1.8 0 1 0 3.6 0a1.8 1.8 0 1 0-3.6 0M222.7 456.8a1.8 1.8 0 1 0 3.6 0a1.8 1.8 0 1 0-3.6 0M222.7 458.5a1.8 1.8 0 1 0 3.6 0a1.8 1.8 0 1 0-3.6 0M222.7 462.7a1.8 1.8 0 1 0 3.6 0a1.8 1.8 0 1 0-3.6 0M222.7 465.3a1.8 1.8 0 1 0 3.6 0a1.8 1.8 0 1 0-3.6 0M222.7 468.5a1.8 1.8 0 1 0 3.6 0a1.8 1.8 0 1 0-3.6 0M222.7 472.7a1.8 1.8 0 1 0 3.6 0a1.8 1.8 0 1 0-3.6 0M222.7 478.5a1.8 1.8 0 1 0 3.6 0a1.8 1.8 0 1 0-3.6 0M222.7 488.5a1.8 1.8 0 1 0 3.6 0a1.8 1.8 0 1 0-3.6 0M222.7 498.5a1.8 1.8 0 1 0 3.6 0a1.8 1.8 0 1 0-3.6 0M225.7 433.9a1.8 1.8 0 1 0 3.6 0a1.8 1.8 0 1 0-3.6 0M225.7 441.0a1.8 1.8 0 1 0 3.6 0a1.8 1.8 0 1 0-3.6 0M225.7 445.3a1.8 1.8 0 1 0 3.6 0a1.8 1.8 0 1 0-3.6 0M225.7 449.5a1.8 1.8 0 1 0 3.6 0a1.8 1.8 0 1 0-3.6 0M225.7 452.7a1.8 1.8 0 1 0 3.6 0a1.8 1.8 0 1 0-3.6 0M225.7 455.3a1.8 1.8 0 1 0 3.6 0a1.8 1.8 0 1 0-3.6 0M225.7 456.8a1.8 1.8 0 1 0 3.6 0a1.8 1.8 0 1 0-3.6 0M225.7 458.5a1.8 1.8 0 1 0 3.6 0a1.8 1.8 0 1 0-3.6 0M225.7 460.5a1.8 1.8 0 1 0 3.6 0a1.8 1.8 0 1 0-3.6 0M225.7 462.7a1.8 1.8 0 1 0 3.6 0a1.8 1.8 0 1 0-3.6 0M225.7 465.3a1.8 1.8 0 1 0 3.6 0a1.8 1.8 0 1 0-3.6 0M225.7 468.5a1.8 1.8 0 1 0 3.6 0a1.8 1.8 0 1 0-3.6 0M225.7 472.7a1.8 1.8 0 1 0 3.6 0a1.8 1.8 0 1 0-3.6 0M225.7 478.5a1.8 1.8 0 1 0 3.6 0a1.8 1.8 0 1 0-3.6 0M225.7 488.5a1.8 1.8 0 1 0 3.6 0a1.8 1.8 0 1 0-3.6 0M225.7 498.5a1.8 1.8 0 1 0 3.6 0a1.8 1.8 0 1 0-3.6 0M228.7 421.3a1.8 1.8 0 1 0 3.6 0a1.8 1.8 0 1 0-3.6 0M228.7 433.9a1.8 1.8 0 1 0 3.6 0a1.8 1.8 0 1 0-3.6 0M228.7 443.3a1.8 1.8 0 1 0 3.6 0a1.8 1.8 0 1 0-3.6 0M228.7 444.6a1.8 1.8 0 1 0 3.6 0a1.8 1.8 0 1 0-3.6 0M228.7 449.5a1.8 1.8 0 1 0 3.6 0a1.8 1.8 0 1 0-3.6 0M228.7 451.5a1.8 1.8 0 1 0 3.6 0a1.8 1.8 0 1 0-3.6 0M228.7 453.9a1.8 1.8 0 1 0 3.6 0a1.8 1.8 0 1 0-3.6 0M228.7 460.5a1.8 1.8 0 1 0 3.6 0a1.8 1.8 0 1 0-3.6 0M228.7 462.7a1.8 1.8 0 1 0 3.6 0a1.8 1.8 0 1 0-3.6 0M228.7 465.3a1.8 1.8 0 1 0 3.6 0a1.8 1.8 0 1 0-3.6 0M228.7 468.5a1.8 1.8 0 1 0 3.6 0a1.8 1.8 0 1 0-3.6 0M228.7 472.7a1.8 1.8 0 1 0 3.6 0a1.8 1.8 0 1 0-3.6 0M228.7 478.5a1.8 1.8 0 1 0 3.6 0a1.8 1.8 0 1 0-3.6 0M228.7 488.5a1.8 1.8 0 1 0 3.6 0a1.8 1.8 0 1 0-3.6 0M228.7 498.5a1.8 1.8 0 1 0 3.6 0a1.8 1.8 0 1 0-3.6 0M231.8 396.7a1.8 1.8 0 1 0 3.6 0a1.8 1.8 0 1 0-3.6 0M231.8 439.5a1.8 1.8 0 1 0 3.6 0a1.8 1.8 0 1 0-3.6 0M231.8 445.3a1.8 1.8 0 1 0 3.6 0a1.8 1.8 0 1 0-3.6 0M231.8 449.5a1.8 1.8 0 1 0 3.6 0a1.8 1.8 0 1 0-3.6 0M231.8 451.5a1.8 1.8 0 1 0 3.6 0a1.8 1.8 0 1 0-3.6 0M231.8 452.7a1.8 1.8 0 1 0 3.6 0a1.8 1.8 0 1 0-3.6 0M231.8 453.9a1.8 1.8 0 1 0 3.6 0a1.8 1.8 0 1 0-3.6 0M231.8 455.3a1.8 1.8 0 1 0 3.6 0a1.8 1.8 0 1 0-3.6 0M231.8 456.8a1.8 1.8 0 1 0 3.6 0a1.8 1.8 0 1 0-3.6 0M231.8 458.5a1.8 1.8 0 1 0 3.6 0a1.8 1.8 0 1 0-3.6 0M231.8 460.5a1.8 1.8 0 1 0 3.6 0a1.8 1.8 0 1 0-3.6 0M231.8 462.7a1.8 1.8 0 1 0 3.6 0a1.8 1.8 0 1 0-3.6 0M231.8 465.3a1.8 1.8 0 1 0 3.6 0a1.8 1.8 0 1 0-3.6 0M231.8 468.5a1.8 1.8 0 1 0 3.6 0a1.8 1.8 0 1 0-3.6 0M231.8 472.7a1.8 1.8 0 1 0 3.6 0a1.8 1.8 0 1 0-3.6 0M231.8 478.5a1.8 1.8 0 1 0 3.6 0a1.8 1.8 0 1 0-3.6 0M231.8 488.5a1.8 1.8 0 1 0 3.6 0a1.8 1.8 0 1 0-3.6 0M231.8 498.5a1.8 1.8 0 1 0 3.6 0a1.8 1.8 0 1 0-3.6 0M234.8 446.1a1.8 1.8 0 1 0 3.6 0a1.8 1.8 0 1 0-3.6 0M234.8 455.3a1.8 1.8 0 1 0 3.6 0a1.8 1.8 0 1 0-3.6 0M234.8 456.8a1.8 1.8 0 1 0 3.6 0a1.8 1.8 0 1 0-3.6 0M234.8 458.5a1.8 1.8 0 1 0 3.6 0a1.8 1.8 0 1 0-3.6 0M234.8 460.5a1.8 1.8 0 1 0 3.6 0a1.8 1.8 0 1 0-3.6 0M234.8 462.7a1.8 1.8 0 1 0 3.6 0a1.8 1.8 0 1 0-3.6 0M234.8 465.3a1.8 1.8 0 1 0 3.6 0a1.8 1.8 0 1 0-3.6 0M234.8 468.5a1.8 1.8 0 1 0 3.6 0a1.8 1.8 0 1 0-3.6 0M234.8 472.7a1.8 1.8 0 1 0 3.6 0a1.8 1.8 0 1 0-3.6 0M234.8 478.5a1.8 1.8 0 1 0 3.6 0a1.8 1.8 0 1 0-3.6 0M234.8 488.5a1.8 1.8 0 1 0 3.6 0a1.8 1.8 0 1 0-3.6 0M234.8 498.5a1.8 1.8 0 1 0 3.6 0a1.8 1.8 0 1 0-3.6 0M237.8 419.5a1.8 1.8 0 1 0 3.6 0a1.8 1.8 0 1 0-3.6 0M237.8 423.3a1.8 1.8 0 1 0 3.6 0a1.8 1.8 0 1 0-3.6 0M237.8 435.3a1.8 1.8 0 1 0 3.6 0a1.8 1.8 0 1 0-3.6 0M237.8 441.5a1.8 1.8 0 1 0 3.6 0a1.8 1.8 0 1 0-3.6 0M237.8 442.7a1.8 1.8 0 1 0 3.6 0a1.8 1.8 0 1 0-3.6 0M237.8 446.1a1.8 1.8 0 1 0 3.6 0a1.8 1.8 0 1 0-3.6 0M237.8 450.5a1.8 1.8 0 1 0 3.6 0a1.8 1.8 0 1 0-3.6 0M237.8 455.3a1.8 1.8 0 1 0 3.6 0a1.8 1.8 0 1 0-3.6 0M237.8 456.8a1.8 1.8 0 1 0 3.6 0a1.8 1.8 0 1 0-3.6 0M237.8 458.5a1.8 1.8 0 1 0 3.6 0a1.8 1.8 0 1 0-3.6 0M237.8 462.7a1.8 1.8 0 1 0 3.6 0a1.8 1.8 0 1 0-3.6 0M237.8 465.3a1.8 1.8 0 1 0 3.6 0a1.8 1.8 0 1 0-3.6 0M237.8 468.5a1.8 1.8 0 1 0 3.6 0a1.8 1.8 0 1 0-3.6 0M237.8 472.7a1.8 1.8 0 1 0 3.6 0a1.8 1.8 0 1 0-3.6 0M237.8 478.5a1.8 1.8 0 1 0 3.6 0a1.8 1.8 0 1 0-3.6 0M237.8 488.5a1.8 1.8 0 1 0 3.6 0a1.8 1.8 0 1 0-3.6 0M237.8 498.5a1.8 1.8 0 1 0 3.6 0a1.8 1.8 0 1 0-3.6 0M240.9 434.6a1.8 1.8 0 1 0 3.6 0a1.8 1.8 0 1 0-3.6 0M240.9 443.3a1.8 1.8 0 1 0 3.6 0a1.8 1.8 0 1 0-3.6 0M240.9 443.9a1.8 1.8 0 1 0 3.6 0a1.8 1.8 0 1 0-3.6 0M240.9 452.7a1.8 1.8 0 1 0 3.6 0a1.8 1.8 0 1 0-3.6 0M240.9 456.8a1.8 1.8 0 1 0 3.6 0a1.8 1.8 0 1 0-3.6 0M240.9 458.5a1.8 1.8 0 1 0 3.6 0a1.8 1.8 0 1 0-3.6 0M240.9 460.5a1.8 1.8 0 1 0 3.6 0a1.8 1.8 0 1 0-3.6 0M240.9 462.7a1.8 1.8 0 1 0 3.6 0a1.8 1.8 0 1 0-3.6 0M240.9 465.3a1.8 1.8 0 1 0 3.6 0a1.8 1.8 0 1 0-3.6 0M240.9 468.5a1.8 1.8 0 1 0 3.6 0a1.8 1.8 0 1 0-3.6 0M240.9 472.7a1.8 1.8 0 1 0 3.6 0a1.8 1.8 0 1 0-3.6 0M240.9 478.5a1.8 1.8 0 1 0 3.6 0a1.8 1.8 0 1 0-3.6 0M240.9 488.5a1.8 1.8 0 1 0 3.6 0a1.8 1.8 0 1 0-3.6 0M240.9 498.5a1.8 1.8 0 1 0 3.6 0a1.8 1.8 0 1 0-3.6 0M243.9 427.8a1.8 1.8 0 1 0 3.6 0a1.8 1.8 0 1 0-3.6 0M243.9 432.4a1.8 1.8 0 1 0 3.6 0a1.8 1.8 0 1 0-3.6 0M243.9 453.9a1.8 1.8 0 1 0 3.6 0a1.8 1.8 0 1 0-3.6 0M243.9 456.8a1.8 1.8 0 1 0 3.6 0a1.8 1.8 0 1 0-3.6 0M243.9 458.5a1.8 1.8 0 1 0 3.6 0a1.8 1.8 0 1 0-3.6 0M243.9 460.5a1.8 1.8 0 1 0 3.6 0a1.8 1.8 0 1 0-3.6 0M243.9 462.7a1.8 1.8 0 1 0 3.6 0a1.8 1.8 0 1 0-3.6 0M243.9 465.3a1.8 1.8 0 1 0 3.6 0a1.8 1.8 0 1 0-3.6 0M243.9 468.5a1.8 1.8 0 1 0 3.6 0a1.8 1.8 0 1 0-3.6 0M243.9 472.7a1.8 1.8 0 1 0 3.6 0a1.8 1.8 0 1 0-3.6 0M243.9 478.5a1.8 1.8 0 1 0 3.6 0a1.8 1.8 0 1 0-3.6 0M243.9 488.5a1.8 1.8 0 1 0 3.6 0a1.8 1.8 0 1 0-3.6 0M243.9 498.5a1.8 1.8 0 1 0 3.6 0a1.8 1.8 0 1 0-3.6 0M246.9 437.2a1.8 1.8 0 1 0 3.6 0a1.8 1.8 0 1 0-3.6 0M246.9 445.3a1.8 1.8 0 1 0 3.6 0a1.8 1.8 0 1 0-3.6 0M246.9 451.5a1.8 1.8 0 1 0 3.6 0a1.8 1.8 0 1 0-3.6 0M246.9 452.7a1.8 1.8 0 1 0 3.6 0a1.8 1.8 0 1 0-3.6 0M246.9 453.9a1.8 1.8 0 1 0 3.6 0a1.8 1.8 0 1 0-3.6 0M246.9 455.3a1.8 1.8 0 1 0 3.6 0a1.8 1.8 0 1 0-3.6 0M246.9 456.8a1.8 1.8 0 1 0 3.6 0a1.8 1.8 0 1 0-3.6 0M246.9 458.5a1.8 1.8 0 1 0 3.6 0a1.8 1.8 0 1 0-3.6 0M246.9 460.5a1.8 1.8 0 1 0 3.6 0a1.8 1.8 0 1 0-3.6 0M246.9 462.7a1.8 1.8 0 1 0 3.6 0a1.8 1.8 0 1 0-3.6 0M246.9 465.3a1.8 1.8 0 1 0 3.6 0a1.8 1.8 0 1 0-3.6 0M246.9 468.5a1.8 1.8 0 1 0 3.6 0a1.8 1.8 0 1 0-3.6 0M246.9 472.7a1.8 1.8 0 1 0 3.6 0a1.8 1.8 0 1 0-3.6 0M246.9 478.5a1.8 1.8 0 1 0 3.6 0a1.8 1.8 0 1 0-3.6 0M246.9 488.5a1.8 1.8 0 1 0 3.6 0a1.8 1.8 0 1 0-3.6 0M246.9 498.5a1.8 1.8 0 1 0 3.6 0a1.8 1.8 0 1 0-3.6 0M249.9 431.2a1.8 1.8 0 1 0 3.6 0a1.8 1.8 0 1 0-3.6 0M249.9 435.7a1.8 1.8 0 1 0 3.6 0a1.8 1.8 0 1 0-3.6 0M249.9 436.8a1.8 1.8 0 1 0 3.6 0a1.8 1.8 0 1 0-3.6 0M249.9 439.5a1.8 1.8 0 1 0 3.6 0a1.8 1.8 0 1 0-3.6 0M249.9 443.9a1.8 1.8 0 1 0 3.6 0a1.8 1.8 0 1 0-3.6 0M249.9 450.5a1.8 1.8 0 1 0 3.6 0a1.8 1.8 0 1 0-3.6 0M249.9 451.5a1.8 1.8 0 1 0 3.6 0a1.8 1.8 0 1 0-3.6 0M249.9 453.9a1.8 1.8 0 1 0 3.6 0a1.8 1.8 0 1 0-3.6 0M249.9 458.5a1.8 1.8 0 1 0 3.6 0a1.8 1.8 0 1 0-3.6 0M249.9 460.5a1.8 1.8 0 1 0 3.6 0a1.8 1.8 0 1 0-3.6 0M249.9 462.7a1.8 1.8 0 1 0 3.6 0a1.8 1.8 0 1 0-3.6 0M249.9 465.3a1.8 1.8 0 1 0 3.6 0a1.8 1.8 0 1 0-3.6 0M249.9 468.5a1.8 1.8 0 1 0 3.6 0a1.8 1.8 0 1 0-3.6 0M249.9 472.7a1.8 1.8 0 1 0 3.6 0a1.8 1.8 0 1 0-3.6 0M249.9 478.5a1.8 1.8 0 1 0 3.6 0a1.8 1.8 0 1 0-3.6 0M249.9 488.5a1.8 1.8 0 1 0 3.6 0a1.8 1.8 0 1 0-3.6 0M249.9 498.5a1.8 1.8 0 1 0 3.6 0a1.8 1.8 0 1 0-3.6 0M253.0 422.6a1.8 1.8 0 1 0 3.6 0a1.8 1.8 0 1 0-3.6 0M253.0 435.7a1.8 1.8 0 1 0 3.6 0a1.8 1.8 0 1 0-3.6 0M253.0 453.9a1.8 1.8 0 1 0 3.6 0a1.8 1.8 0 1 0-3.6 0M253.0 455.3a1.8 1.8 0 1 0 3.6 0a1.8 1.8 0 1 0-3.6 0M253.0 456.8a1.8 1.8 0 1 0 3.6 0a1.8 1.8 0 1 0-3.6 0M253.0 458.5a1.8 1.8 0 1 0 3.6 0a1.8 1.8 0 1 0-3.6 0M253.0 462.7a1.8 1.8 0 1 0 3.6 0a1.8 1.8 0 1 0-3.6 0M253.0 465.3a1.8 1.8 0 1 0 3.6 0a1.8 1.8 0 1 0-3.6 0M253.0 468.5a1.8 1.8 0 1 0 3.6 0a1.8 1.8 0 1 0-3.6 0M253.0 472.7a1.8 1.8 0 1 0 3.6 0a1.8 1.8 0 1 0-3.6 0M253.0 478.5a1.8 1.8 0 1 0 3.6 0a1.8 1.8 0 1 0-3.6 0M253.0 488.5a1.8 1.8 0 1 0 3.6 0a1.8 1.8 0 1 0-3.6 0M253.0 498.5a1.8 1.8 0 1 0 3.6 0a1.8 1.8 0 1 0-3.6 0M256.0 425.9a1.8 1.8 0 1 0 3.6 0a1.8 1.8 0 1 0-3.6 0M256.0 449.5a1.8 1.8 0 1 0 3.6 0a1.8 1.8 0 1 0-3.6 0M256.0 451.5a1.8 1.8 0 1 0 3.6 0a1.8 1.8 0 1 0-3.6 0M256.0 452.7a1.8 1.8 0 1 0 3.6 0a1.8 1.8 0 1 0-3.6 0M256.0 453.9a1.8 1.8 0 1 0 3.6 0a1.8 1.8 0 1 0-3.6 0M256.0 455.3a1.8 1.8 0 1 0 3.6 0a1.8 1.8 0 1 0-3.6 0M256.0 456.8a1.8 1.8 0 1 0 3.6 0a1.8 1.8 0 1 0-3.6 0M256.0 458.5a1.8 1.8 0 1 0 3.6 0a1.8 1.8 0 1 0-3.6 0M256.0 460.5a1.8 1.8 0 1 0 3.6 0a1.8 1.8 0 1 0-3.6 0M256.0 462.7a1.8 1.8 0 1 0 3.6 0a1.8 1.8 0 1 0-3.6 0M256.0 465.3a1.8 1.8 0 1 0 3.6 0a1.8 1.8 0 1 0-3.6 0M256.0 468.5a1.8 1.8 0 1 0 3.6 0a1.8 1.8 0 1 0-3.6 0M256.0 472.7a1.8 1.8 0 1 0 3.6 0a1.8 1.8 0 1 0-3.6 0M256.0 478.5a1.8 1.8 0 1 0 3.6 0a1.8 1.8 0 1 0-3.6 0M256.0 488.5a1.8 1.8 0 1 0 3.6 0a1.8 1.8 0 1 0-3.6 0M256.0 498.5a1.8 1.8 0 1 0 3.6 0a1.8 1.8 0 1 0-3.6 0M259.0 418.7a1.8 1.8 0 1 0 3.6 0a1.8 1.8 0 1 0-3.6 0M259.0 442.1a1.8 1.8 0 1 0 3.6 0a1.8 1.8 0 1 0-3.6 0M259.0 452.7a1.8 1.8 0 1 0 3.6 0a1.8 1.8 0 1 0-3.6 0M259.0 456.8a1.8 1.8 0 1 0 3.6 0a1.8 1.8 0 1 0-3.6 0M259.0 458.5a1.8 1.8 0 1 0 3.6 0a1.8 1.8 0 1 0-3.6 0M259.0 460.5a1.8 1.8 0 1 0 3.6 0a1.8 1.8 0 1 0-3.6 0M259.0 462.7a1.8 1.8 0 1 0 3.6 0a1.8 1.8 0 1 0-3.6 0M259.0 465.3a1.8 1.8 0 1 0 3.6 0a1.8 1.8 0 1 0-3.6 0M259.0 468.5a1.8 1.8 0 1 0 3.6 0a1.8 1.8 0 1 0-3.6 0M259.0 472.7a1.8 1.8 0 1 0 3.6 0a1.8 1.8 0 1 0-3.6 0M259.0 478.5a1.8 1.8 0 1 0 3.6 0a1.8 1.8 0 1 0-3.6 0M259.0 488.5a1.8 1.8 0 1 0 3.6 0a1.8 1.8 0 1 0-3.6 0M259.0 498.5a1.8 1.8 0 1 0 3.6 0a1.8 1.8 0 1 0-3.6 0M262.1 431.2a1.8 1.8 0 1 0 3.6 0a1.8 1.8 0 1 0-3.6 0M262.1 432.4a1.8 1.8 0 1 0 3.6 0a1.8 1.8 0 1 0-3.6 0M262.1 436.0a1.8 1.8 0 1 0 3.6 0a1.8 1.8 0 1 0-3.6 0M262.1 443.9a1.8 1.8 0 1 0 3.6 0a1.8 1.8 0 1 0-3.6 0M262.1 448.5a1.8 1.8 0 1 0 3.6 0a1.8 1.8 0 1 0-3.6 0M262.1 449.5a1.8 1.8 0 1 0 3.6 0a1.8 1.8 0 1 0-3.6 0M262.1 451.5a1.8 1.8 0 1 0 3.6 0a1.8 1.8 0 1 0-3.6 0M262.1 455.3a1.8 1.8 0 1 0 3.6 0a1.8 1.8 0 1 0-3.6 0M262.1 456.8a1.8 1.8 0 1 0 3.6 0a1.8 1.8 0 1 0-3.6 0M262.1 458.5a1.8 1.8 0 1 0 3.6 0a1.8 1.8 0 1 0-3.6 0M262.1 460.5a1.8 1.8 0 1 0 3.6 0a1.8 1.8 0 1 0-3.6 0M262.1 462.7a1.8 1.8 0 1 0 3.6 0a1.8 1.8 0 1 0-3.6 0M262.1 465.3a1.8 1.8 0 1 0 3.6 0a1.8 1.8 0 1 0-3.6 0M262.1 468.5a1.8 1.8 0 1 0 3.6 0a1.8 1.8 0 1 0-3.6 0M262.1 472.7a1.8 1.8 0 1 0 3.6 0a1.8 1.8 0 1 0-3.6 0M262.1 478.5a1.8 1.8 0 1 0 3.6 0a1.8 1.8 0 1 0-3.6 0M262.1 488.5a1.8 1.8 0 1 0 3.6 0a1.8 1.8 0 1 0-3.6 0M262.1 498.5a1.8 1.8 0 1 0 3.6 0a1.8 1.8 0 1 0-3.6 0M265.1 436.0a1.8 1.8 0 1 0 3.6 0a1.8 1.8 0 1 0-3.6 0M265.1 439.9a1.8 1.8 0 1 0 3.6 0a1.8 1.8 0 1 0-3.6 0M265.1 442.1a1.8 1.8 0 1 0 3.6 0a1.8 1.8 0 1 0-3.6 0M265.1 449.5a1.8 1.8 0 1 0 3.6 0a1.8 1.8 0 1 0-3.6 0M265.1 452.7a1.8 1.8 0 1 0 3.6 0a1.8 1.8 0 1 0-3.6 0M265.1 453.9a1.8 1.8 0 1 0 3.6 0a1.8 1.8 0 1 0-3.6 0M265.1 455.3a1.8 1.8 0 1 0 3.6 0a1.8 1.8 0 1 0-3.6 0M265.1 456.8a1.8 1.8 0 1 0 3.6 0a1.8 1.8 0 1 0-3.6 0M265.1 458.5a1.8 1.8 0 1 0 3.6 0a1.8 1.8 0 1 0-3.6 0M265.1 460.5a1.8 1.8 0 1 0 3.6 0a1.8 1.8 0 1 0-3.6 0M265.1 462.7a1.8 1.8 0 1 0 3.6 0a1.8 1.8 0 1 0-3.6 0M265.1 465.3a1.8 1.8 0 1 0 3.6 0a1.8 1.8 0 1 0-3.6 0M265.1 468.5a1.8 1.8 0 1 0 3.6 0a1.8 1.8 0 1 0-3.6 0M265.1 472.7a1.8 1.8 0 1 0 3.6 0a1.8 1.8 0 1 0-3.6 0M265.1 478.5a1.8 1.8 0 1 0 3.6 0a1.8 1.8 0 1 0-3.6 0M265.1 488.5a1.8 1.8 0 1 0 3.6 0a1.8 1.8 0 1 0-3.6 0M265.1 498.5a1.8 1.8 0 1 0 3.6 0a1.8 1.8 0 1 0-3.6 0M268.1 429.0a1.8 1.8 0 1 0 3.6 0a1.8 1.8 0 1 0-3.6 0M268.1 441.0a1.8 1.8 0 1 0 3.6 0a1.8 1.8 0 1 0-3.6 0M268.1 449.5a1.8 1.8 0 1 0 3.6 0a1.8 1.8 0 1 0-3.6 0M268.1 451.5a1.8 1.8 0 1 0 3.6 0a1.8 1.8 0 1 0-3.6 0M268.1 452.7a1.8 1.8 0 1 0 3.6 0a1.8 1.8 0 1 0-3.6 0M268.1 455.3a1.8 1.8 0 1 0 3.6 0a1.8 1.8 0 1 0-3.6 0M268.1 456.8a1.8 1.8 0 1 0 3.6 0a1.8 1.8 0 1 0-3.6 0M268.1 458.5a1.8 1.8 0 1 0 3.6 0a1.8 1.8 0 1 0-3.6 0M268.1 460.5a1.8 1.8 0 1 0 3.6 0a1.8 1.8 0 1 0-3.6 0M268.1 462.7a1.8 1.8 0 1 0 3.6 0a1.8 1.8 0 1 0-3.6 0M268.1 465.3a1.8 1.8 0 1 0 3.6 0a1.8 1.8 0 1 0-3.6 0M268.1 468.5a1.8 1.8 0 1 0 3.6 0a1.8 1.8 0 1 0-3.6 0M268.1 472.7a1.8 1.8 0 1 0 3.6 0a1.8 1.8 0 1 0-3.6 0M268.1 478.5a1.8 1.8 0 1 0 3.6 0a1.8 1.8 0 1 0-3.6 0M268.1 498.5a1.8 1.8 0 1 0 3.6 0a1.8 1.8 0 1 0-3.6 0M271.1 433.6a1.8 1.8 0 1 0 3.6 0a1.8 1.8 0 1 0-3.6 0M271.1 434.3a1.8 1.8 0 1 0 3.6 0a1.8 1.8 0 1 0-3.6 0M271.1 441.0a1.8 1.8 0 1 0 3.6 0a1.8 1.8 0 1 0-3.6 0M271.1 446.1a1.8 1.8 0 1 0 3.6 0a1.8 1.8 0 1 0-3.6 0M271.1 450.5a1.8 1.8 0 1 0 3.6 0a1.8 1.8 0 1 0-3.6 0M271.1 451.5a1.8 1.8 0 1 0 3.6 0a1.8 1.8 0 1 0-3.6 0M271.1 453.9a1.8 1.8 0 1 0 3.6 0a1.8 1.8 0 1 0-3.6 0M271.1 456.8a1.8 1.8 0 1 0 3.6 0a1.8 1.8 0 1 0-3.6 0M271.1 458.5a1.8 1.8 0 1 0 3.6 0a1.8 1.8 0 1 0-3.6 0M271.1 460.5a1.8 1.8 0 1 0 3.6 0a1.8 1.8 0 1 0-3.6 0M271.1 462.7a1.8 1.8 0 1 0 3.6 0a1.8 1.8 0 1 0-3.6 0M271.1 465.3a1.8 1.8 0 1 0 3.6 0a1.8 1.8 0 1 0-3.6 0M271.1 468.5a1.8 1.8 0 1 0 3.6 0a1.8 1.8 0 1 0-3.6 0M271.1 472.7a1.8 1.8 0 1 0 3.6 0a1.8 1.8 0 1 0-3.6 0M271.1 478.5a1.8 1.8 0 1 0 3.6 0a1.8 1.8 0 1 0-3.6 0M271.1 488.5a1.8 1.8 0 1 0 3.6 0a1.8 1.8 0 1 0-3.6 0M271.1 498.5a1.8 1.8 0 1 0 3.6 0a1.8 1.8 0 1 0-3.6 0M274.2 432.1a1.8 1.8 0 1 0 3.6 0a1.8 1.8 0 1 0-3.6 0M274.2 449.5a1.8 1.8 0 1 0 3.6 0a1.8 1.8 0 1 0-3.6 0M274.2 455.3a1.8 1.8 0 1 0 3.6 0a1.8 1.8 0 1 0-3.6 0M274.2 456.8a1.8 1.8 0 1 0 3.6 0a1.8 1.8 0 1 0-3.6 0M274.2 458.5a1.8 1.8 0 1 0 3.6 0a1.8 1.8 0 1 0-3.6 0M274.2 460.5a1.8 1.8 0 1 0 3.6 0a1.8 1.8 0 1 0-3.6 0M274.2 462.7a1.8 1.8 0 1 0 3.6 0a1.8 1.8 0 1 0-3.6 0M274.2 465.3a1.8 1.8 0 1 0 3.6 0a1.8 1.8 0 1 0-3.6 0M274.2 468.5a1.8 1.8 0 1 0 3.6 0a1.8 1.8 0 1 0-3.6 0M274.2 472.7a1.8 1.8 0 1 0 3.6 0a1.8 1.8 0 1 0-3.6 0M274.2 478.5a1.8 1.8 0 1 0 3.6 0a1.8 1.8 0 1 0-3.6 0M274.2 488.5a1.8 1.8 0 1 0 3.6 0a1.8 1.8 0 1 0-3.6 0M274.2 498.5a1.8 1.8 0 1 0 3.6 0a1.8 1.8 0 1 0-3.6 0M277.2 425.2a1.8 1.8 0 1 0 3.6 0a1.8 1.8 0 1 0-3.6 0M277.2 431.6a1.8 1.8 0 1 0 3.6 0a1.8 1.8 0 1 0-3.6 0M277.2 433.6a1.8 1.8 0 1 0 3.6 0a1.8 1.8 0 1 0-3.6 0M277.2 436.5a1.8 1.8 0 1 0 3.6 0a1.8 1.8 0 1 0-3.6 0M277.2 444.6a1.8 1.8 0 1 0 3.6 0a1.8 1.8 0 1 0-3.6 0M277.2 446.8a1.8 1.8 0 1 0 3.6 0a1.8 1.8 0 1 0-3.6 0M277.2 448.5a1.8 1.8 0 1 0 3.6 0a1.8 1.8 0 1 0-3.6 0M277.2 450.5a1.8 1.8 0 1 0 3.6 0a1.8 1.8 0 1 0-3.6 0M277.2 453.9a1.8 1.8 0 1 0 3.6 0a1.8 1.8 0 1 0-3.6 0M277.2 455.3a1.8 1.8 0 1 0 3.6 0a1.8 1.8 0 1 0-3.6 0M277.2 456.8a1.8 1.8 0 1 0 3.6 0a1.8 1.8 0 1 0-3.6 0M277.2 458.5a1.8 1.8 0 1 0 3.6 0a1.8 1.8 0 1 0-3.6 0M277.2 460.5a1.8 1.8 0 1 0 3.6 0a1.8 1.8 0 1 0-3.6 0M277.2 462.7a1.8 1.8 0 1 0 3.6 0a1.8 1.8 0 1 0-3.6 0M277.2 465.3a1.8 1.8 0 1 0 3.6 0a1.8 1.8 0 1 0-3.6 0M277.2 468.5a1.8 1.8 0 1 0 3.6 0a1.8 1.8 0 1 0-3.6 0M277.2 472.7a1.8 1.8 0 1 0 3.6 0a1.8 1.8 0 1 0-3.6 0M277.2 478.5a1.8 1.8 0 1 0 3.6 0a1.8 1.8 0 1 0-3.6 0M277.2 498.5a1.8 1.8 0 1 0 3.6 0a1.8 1.8 0 1 0-3.6 0M280.2 448.5a1.8 1.8 0 1 0 3.6 0a1.8 1.8 0 1 0-3.6 0M280.2 449.5a1.8 1.8 0 1 0 3.6 0a1.8 1.8 0 1 0-3.6 0M280.2 450.5a1.8 1.8 0 1 0 3.6 0a1.8 1.8 0 1 0-3.6 0M280.2 453.9a1.8 1.8 0 1 0 3.6 0a1.8 1.8 0 1 0-3.6 0M280.2 455.3a1.8 1.8 0 1 0 3.6 0a1.8 1.8 0 1 0-3.6 0M280.2 456.8a1.8 1.8 0 1 0 3.6 0a1.8 1.8 0 1 0-3.6 0M280.2 458.5a1.8 1.8 0 1 0 3.6 0a1.8 1.8 0 1 0-3.6 0M280.2 460.5a1.8 1.8 0 1 0 3.6 0a1.8 1.8 0 1 0-3.6 0M280.2 462.7a1.8 1.8 0 1 0 3.6 0a1.8 1.8 0 1 0-3.6 0M280.2 465.3a1.8 1.8 0 1 0 3.6 0a1.8 1.8 0 1 0-3.6 0M280.2 468.5a1.8 1.8 0 1 0 3.6 0a1.8 1.8 0 1 0-3.6 0M280.2 472.7a1.8 1.8 0 1 0 3.6 0a1.8 1.8 0 1 0-3.6 0M280.2 478.5a1.8 1.8 0 1 0 3.6 0a1.8 1.8 0 1 0-3.6 0M280.2 488.5a1.8 1.8 0 1 0 3.6 0a1.8 1.8 0 1 0-3.6 0M280.2 498.5a1.8 1.8 0 1 0 3.6 0a1.8 1.8 0 1 0-3.6 0M283.3 442.3a1.8 1.8 0 1 0 3.6 0a1.8 1.8 0 1 0-3.6 0M283.3 444.4a1.8 1.8 0 1 0 3.6 0a1.8 1.8 0 1 0-3.6 0M283.3 462.7a1.8 1.8 0 1 0 3.6 0a1.8 1.8 0 1 0-3.6 0M283.3 465.3a1.8 1.8 0 1 0 3.6 0a1.8 1.8 0 1 0-3.6 0M283.3 468.5a1.8 1.8 0 1 0 3.6 0a1.8 1.8 0 1 0-3.6 0M283.3 472.7a1.8 1.8 0 1 0 3.6 0a1.8 1.8 0 1 0-3.6 0M286.3 465.3a1.8 1.8 0 1 0 3.6 0a1.8 1.8 0 1 0-3.6 0M286.3 478.5a1.8 1.8 0 1 0 3.6 0a1.8 1.8 0 1 0-3.6 0M286.3 498.5a1.8 1.8 0 1 0 3.6 0a1.8 1.8 0 1 0-3.6 0M289.3 451.5a1.8 1.8 0 1 0 3.6 0a1.8 1.8 0 1 0-3.6 0M289.3 468.5a1.8 1.8 0 1 0 3.6 0a1.8 1.8 0 1 0-3.6 0M289.3 488.5a1.8 1.8 0 1 0 3.6 0a1.8 1.8 0 1 0-3.6 0M292.3 442.3a1.8 1.8 0 1 0 3.6 0a1.8 1.8 0 1 0-3.6 0M292.3 457.1a1.8 1.8 0 1 0 3.6 0a1.8 1.8 0 1 0-3.6 0M292.3 488.5a1.8 1.8 0 1 0 3.6 0a1.8 1.8 0 1 0-3.6 0M298.4 462.7a1.8 1.8 0 1 0 3.6 0a1.8 1.8 0 1 0-3.6 0M304.5 444.8a1.8 1.8 0 1 0 3.6 0a1.8 1.8 0 1 0-3.6 0M307.5 444.1a1.8 1.8 0 1 0 3.6 0a1.8 1.8 0 1 0-3.6 0M307.5 454.2a1.8 1.8 0 1 0 3.6 0a1.8 1.8 0 1 0-3.6 0M316.6 463.2a1.8 1.8 0 1 0 3.6 0a1.8 1.8 0 1 0-3.6 0M322.6 447.2a1.8 1.8 0 1 0 3.6 0a1.8 1.8 0 1 0-3.6 0" fill="none" stroke="#000" stroke-width="0.9"/><path d="M470.1 497.1a1.8 1.8 0 1 0 3.6 0a1.8 1.8 0 1 0-3.6 0M472.1 448.4a1.8 1.8 0 1 0 3.6 0a1.8 1.8 0 1 0-3.6 0M473.0 457.8a1.8 1.8 0 1 0 3.6 0a1.8 1.8 0 1 0-3.6 0M473.5 477.2a1.8 1.8 0 1 0 3.6 0a1.8 1.8 0 1 0-3.6 0M475.0 438.6a1.8 1.8 0 1 0 3.6 0a1.8 1.8 0 1 0-3.6 0M475.8 463.9a1.8 1.8 0 1 0 3.6 0a1.8 1.8 0 1 0-3.6 0M476.2 418.1a1.8 1.8 0 1 0 3.6 0a1.8 1.8 0 1 0-3.6 0M476.7 446.5a1.8 1.8 0 1 0 3.6 0a1.8 1.8 0 1 0-3.6 0M479.5 440.1a1.8 1.8 0 1 0 3.6 0a1.8 1.8 0 1 0-3.6 0M481.1 471.4a1.8 1.8 0 1 0 3.6 0a1.8 1.8 0 1 0-3.6 0M481.3 477.2a1.8 1.8 0 1 0 3.6 0a1.8 1.8 0 1 0-3.6 0M482.2 487.2a1.8 1.8 0 1 0 3.6 0a1.8 1.8 0 1 0-3.6 0M484.4 442.0a1.8 1.8 0 1 0 3.6 0a1.8 1.8 0 1 0-3.6 0M486.5 471.4a1.8 1.8 0 1 0 3.6 0a1.8 1.8 0 1 0-3.6 0M486.5 477.2a1.8 1.8 0 1 0 3.6 0a1.8 1.8 0 1 0-3.6 0M486.9 497.1a1.8 1.8 0 1 0 3.6 0a1.8 1.8 0 1 0-3.6 0M488.7 477.2a1.8 1.8 0 1 0 3.6 0a1.8 1.8 0 1 0-3.6 0M488.8 467.3a1.8 1.8 0 1 0 3.6 0a1.8 1.8 0 1 0-3.6 0M489.0 461.5a1.8 1.8 0 1 0 3.6 0a1.8 1.8 0 1 0-3.6 0M489.2 477.2a1.8 1.8 0 1 0 3.6 0a1.8 1.8 0 1 0-3.6 0M489.8 471.4a1.8 1.8 0 1 0 3.6 0a1.8 1.8 0 1 0-3.6 0M490.1 454.2a1.8 1.8 0 1 0 3.6 0a1.8 1.8 0 1 0-3.6 0M490.2 477.2a1.8 1.8 0 1 0 3.6 0a1.8 1.8 0 1 0-3.6 0M490.3 477.2a1.8 1.8 0 1 0 3.6 0a1.8 1.8 0 1 0-3.6 0M490.4 434.2a1.8 1.8 0 1 0 3.6 0a1.8 1.8 0 1 0-3.6 0M490.5 467.3a1.8 1.8 0 1 0 3.6 0a1.8 1.8 0 1 0-3.6 0M490.7 487.2a1.8 1.8 0 1 0 3.6 0a1.8 1.8 0 1 0-3.6 0M491.4 467.3a1.8 1.8 0 1 0 3.6 0a1.8 1.8 0 1 0-3.6 0M491.9 461.5a1.8 1.8 0 1 0 3.6 0a1.8 1.8 0 1 0-3.6 0M491.9 477.2a1.8 1.8 0 1 0 3.6 0a1.8 1.8 0 1 0-3.6 0M492.2 467.3a1.8 1.8 0 1 0 3.6 0a1.8 1.8 0 1 0-3.6 0M492.6 457.4a1.8 1.8 0 1 0 3.6 0a1.8 1.8 0 1 0-3.6 0M492.7 457.4a1.8 1.8 0 1 0 3.6 0a1.8 1.8 0 1 0-3.6 0M492.9 452.8a1.8 1.8 0 1 0 3.6 0a1.8 1.8 0 1 0-3.6 0M493.0 440.1a1.8 1.8 0 1 0 3.6 0a1.8 1.8 0 1 0-3.6 0M493.1 464.1a1.8 1.8 0 1 0 3.6 0a1.8 1.8 0 1 0-3.6 0M493.2 471.4a1.8 1.8 0 1 0 3.6 0a1.8 1.8 0 1 0-3.6 0M494.0 477.2a1.8 1.8 0 1 0 3.6 0a1.8 1.8 0 1 0-3.6 0M494.4 452.8a1.8 1.8 0 1 0 3.6 0a1.8 1.8 0 1 0-3.6 0M494.5 455.7a1.8 1.8 0 1 0 3.6 0a1.8 1.8 0 1 0-3.6 0M494.5 477.2a1.8 1.8 0 1 0 3.6 0a1.8 1.8 0 1 0-3.6 0M494.5 497.1a1.8 1.8 0 1 0 3.6 0a1.8 1.8 0 1 0-3.6 0M494.7 464.1a1.8 1.8 0 1 0 3.6 0a1.8 1.8 0 1 0-3.6 0M494.9 467.3a1.8 1.8 0 1 0 3.6 0a1.8 1.8 0 1 0-3.6 0M495.0 464.1a1.8 1.8 0 1 0 3.6 0a1.8 1.8 0 1 0-3.6 0M495.3 467.3a1.8 1.8 0 1 0 3.6 0a1.8 1.8 0 1 0-3.6 0M495.4 471.4a1.8 1.8 0 1 0 3.6 0a1.8 1.8 0 1 0-3.6 0M495.5 452.8a1.8 1.8 0 1 0 3.6 0a1.8 1.8 0 1 0-3.6 0M495.8 443.6a1.8 1.8 0 1 0 3.6 0a1.8 1.8 0 1 0-3.6 0M495.8 464.1a1.8 1.8 0 1 0 3.6 0a1.8 1.8 0 1 0-3.6 0M495.8 477.2a1.8 1.8 0 1 0 3.6 0a1.8 1.8 0 1 0-3.6 0M495.9 471.4a1.8 1.8 0 1 0 3.6 0a1.8 1.8 0 1 0-3.6 0M495.9 487.2a1.8 1.8 0 1 0 3.6 0a1.8 1.8 0 1 0-3.6 0M496.0 461.5a1.8 1.8 0 1 0 3.6 0a1.8 1.8 0 1 0-3.6 0M496.2 471.4a1.8 1.8 0 1 0 3.6 0a1.8 1.8 0 1 0-3.6 0M496.3 461.5a1.8 1.8 0 1 0 3.6 0a1.8 1.8 0 1 0-3.6 0M496.5 461.5a1.8 1.8 0 1 0 3.6 0a1.8 1.8 0 1 0-3.6 0M496.6 464.1a1.8 1.8 0 1 0 3.6 0a1.8 1.8 0 1 0-3.6 0M496.6 467.3a1.8 1.8 0 1 0 3.6 0a1.8 1.8 0 1 0-3.6 0M496.7 454.2a1.8 1.8 0 1 0 3.6 0a1.8 1.8 0 1 0-3.6 0M496.7 477.2a1.8 1.8 0 1 0 3.6 0a1.8 1.8 0 1 0-3.6 0M496.8 471.4a1.8 1.8 0 1 0 3.6 0a1.8 1.8 0 1 0-3.6 0M496.8 487.2a1.8 1.8 0 1 0 3.6 0a1.8 1.8 0 1 0-3.6 0M496.9 467.3a1.8 1.8 0 1 0 3.6 0a1.8 1.8 0 1 0-3.6 0M497.0 464.1a1.8 1.8 0 1 0 3.6 0a1.8 1.8 0 1 0-3.6 0M497.1 452.8a1.8 1.8 0 1 0 3.6 0a1.8 1.8 0 1 0-3.6 0M497.1 459.3a1.8 1.8 0 1 0 3.6 0a1.8 1.8 0 1 0-3.6 0M497.1 464.1a1.8 1.8 0 1 0 3.6 0a1.8 1.8 0 1 0-3.6 0M497.1 467.3a1.8 1.8 0 1 0 3.6 0a1.8 1.8 0 1 0-3.6 0M497.2 497.1a1.8 1.8 0 1 0 3.6 0a1.8 1.8 0 1 0-3.6 0M497.3 467.3a1.8 1.8 0 1 0 3.6 0a1.8 1.8 0 1 0-3.6 0M497.4 464.1a1.8 1.8 0 1 0 3.6 0a1.8 1.8 0 1 0-3.6 0M497.5 442.9a1.8 1.8 0 1 0 3.6 0a1.8 1.8 0 1 0-3.6 0M497.6 471.4a1.8 1.8 0 1 0 3.6 0a1.8 1.8 0 1 0-3.6 0M498.1 464.1a1.8 1.8 0 1 0 3.6 0a1.8 1.8 0 1 0-3.6 0M498.2 487.2a1.8 1.8 0 1 0 3.6 0a1.8 1.8 0 1 0-3.6 0M498.3 447.5a1.8 1.8 0 1 0 3.6 0a1.8 1.8 0 1 0-3.6 0M498.5 464.1a1.8 1.8 0 1 0 3.6 0a1.8 1.8 0 1 0-3.6 0M498.6 464.1a1.8 1.8 0 1 0 3.6 0a1.8 1.8 0 1 0-3.6 0M498.7 471.4a1.8 1.8 0 1 0 3.6 0a1.8 1.8 0 1 0-3.6 0M498.8 471.4a1.8 1.8 0 1 0 3.6 0a1.8 1.8 0 1 0-3.6 0M498.8 477.2a1.8 1.8 0 1 0 3.6 0a1.8 1.8 0 1 0-3.6 0M499.0 459.3a1.8 1.8 0 1 0 3.6 0a1.8 1.8 0 1 0-3.6 0M499.0 471.4a1.8 1.8 0 1 0 3.6 0a1.8 1.8 0 1 0-3.6 0M499.3 461.5a1.8 1.8 0 1 0 3.6 0a1.8 1.8 0 1 0-3.6 0M499.8 467.3a1.8 1.8 0 1 0 3.6 0a1.8 1.8 0 1 0-3.6 0M499.9 461.5a1.8 1.8 0 1 0 3.6 0a1.8 1.8 0 1 0-3.6 0M499.9 497.1a1.8 1.8 0 1 0 3.6 0a1.8 1.8 0 1 0-3.6 0M500.0 451.6a1.8 1.8 0 1 0 3.6 0a1.8 1.8 0 1 0-3.6 0M500.0 461.5a1.8 1.8 0 1 0 3.6 0a1.8 1.8 0 1 0-3.6 0M500.0 487.2a1.8 1.8 0 1 0 3.6 0a1.8 1.8 0 1 0-3.6 0M500.2 459.3a1.8 1.8 0 1 0 3.6 0a1.8 1.8 0 1 0-3.6 0M500.3 451.6a1.8 1.8 0 1 0 3.6 0a1.8 1.8 0 1 0-3.6 0M500.3 461.5a1.8 1.8 0 1 0 3.6 0a1.8 1.8 0 1 0-3.6 0M500.5 446.6a1.8 1.8 0 1 0 3.6 0a1.8 1.8 0 1 0-3.6 0M500.5 457.4a1.8 1.8 0 1 0 3.6 0a1.8 1.8 0 1 0-3.6 0M500.6 461.5a1.8 1.8 0 1 0 3.6 0a1.8 1.8 0 1 0-3.6 0M500.7 461.5a1.8 1.8 0 1 0 3.6 0a1.8 1.8 0 1 0-3.6 0M500.8 461.5a1.8 1.8 0 1 0 3.6 0a1.8 1.8 0 1 0-3.6 0M500.9 461.5a1.8 1.8 0 1 0 3.6 0a1.8 1.8 0 1 0-3.6 0M501.0 440.0a1.8 1.8 0 1 0 3.6 0a1.8 1.8 0 1 0-3.6 0M501.1 441.6a1.8 1.8 0 1 0 3.6 0a1.8 1.8 0 1 0-3.6 0M501.1 467.3a1.8 1.8 0 1 0 3.6 0a1.8 1.8 0 1 0-3.6 0M501.2 447.5a1.8 1.8 0 1 0 3.6 0a1.8 1.8 0 1 0-3.6 0M501.2 464.1a1.8 1.8 0 1 0 3.6 0a1.8 1.8 0 1 0-3.6 0M501.2 471.4a1.8 1.8 0 1 0 3.6 0a1.8 1.8 0 1 0-3.6 0M501.3 497.1a1.8 1.8 0 1 0 3.6 0a1.8 1.8 0 1 0-3.6 0M501.4 457.4a1.8 1.8 0 1 0 3.6 0a1.8 1.8 0 1 0-3.6 0M501.6 434.9a1.8 1.8 0 1 0 3.6 0a1.8 1.8 0 1 0-3.6 0M501.6 464.1a1.8 1.8 0 1 0 3.6 0a1.8 1.8 0 1 0-3.6 0M501.8 459.3a1.8 1.8 0 1 0 3.6 0a1.8 1.8 0 1 0-3.6 0M501.8 464.1a1.8 1.8 0 1 0 3.6 0a1.8 1.8 0 1 0-3.6 0M501.8 467.3a1.8 1.8 0 1 0 3.6 0a1.8 1.8 0 1 0-3.6 0M501.9 454.2a1.8 1.8 0 1 0 3.6 0a1.8 1.8 0 1 0-3.6 0M502.0 461.5a1.8 1.8 0 1 0 3.6 0a1.8 1.8 0 1 0-3.6 0M502.0 467.3a1.8 1.8 0 1 0 3.6 0a1.8 1.8 0 1 0-3.6 0M502.1 464.1a1.8 1.8 0 1 0 3.6 0a1.8 1.8 0 1 0-3.6 0M502.2 461.5a1.8 1.8 0 1 0 3.6 0a1.8 1.8 0 1 0-3.6 0M502.2 467.3a1.8 1.8 0 1 0 3.6 0a1.8 1.8 0 1 0-3.6 0M502.3 467.3a1.8 1.8 0 1 0 3.6 0a1.8 1.8 0 1 0-3.6 0M502.4 459.3a1.8 1.8 0 1 0 3.6 0a1.8 1.8 0 1 0-3.6 0M502.4 464.1a1.8 1.8 0 1 0 3.6 0a1.8 1.8 0 1 0-3.6 0M502.4 497.1a1.8 1.8 0 1 0 3.6 0a1.8 1.8 0 1 0-3.6 0M502.6 461.5a1.8 1.8 0 1 0 3.6 0a1.8 1.8 0 1 0-3.6 0M502.7 467.3a1.8 1.8 0 1 0 3.6 0a1.8 1.8 0 1 0-3.6 0M502.8 467.3a1.8 1.8 0 1 0 3.6 0a1.8 1.8 0 1 0-3.6 0M502.9 454.2a1.8 1.8 0 1 0 3.6 0a1.8 1.8 0 1 0-3.6 0M502.9 464.1a1.8 1.8 0 1 0 3.6 0a1.8 1.8 0 1 0-3.6 0M502.9 487.2a1.8 1.8 0 1 0 3.6 0a1.8 1.8 0 1 0-3.6 0M503.0 442.9a1.8 1.8 0 1 0 3.6 0a1.8 1.8 0 1 0-3.6 0M503.0 467.3a1.8 1.8 0 1 0 3.6 0a1.8 1.8 0 1 0-3.6 0M503.0 497.1a1.8 1.8 0 1 0 3.6 0a1.8 1.8 0 1 0-3.6 0M503.2 471.4a1.8 1.8 0 1 0 3.6 0a1.8 1.8 0 1 0-3.6 0M503.3 467.3a1.8 1.8 0 1 0 3.6 0a1.8 1.8 0 1 0-3.6 0M503.3 497.1a1.8 1.8 0 1 0 3.6 0a1.8 1.8 0 1 0-3.6 0M503.4 464.1a1.8 1.8 0 1 0 3.6 0a1.8 1.8 0 1 0-3.6 0M503.6 497.1a1.8 1.8 0 1 0 3.6 0a1.8 1.8 0 1 0-3.6 0M503.7 467.3a1.8 1.8 0 1 0 3.6 0a1.8 1.8 0 1 0-3.6 0M503.7 487.2a1.8 1.8 0 1 0 3.6 0a1.8 1.8 0 1 0-3.6 0M503.8 471.4a1.8 1.8 0 1 0 3.6 0a1.8 1.8 0 1 0-3.6 0M503.8 497.1a1.8 1.8 0 1 0 3.6 0a1.8 1.8 0 1 0-3.6 0M503.9 443.6a1.8 1.8 0 1 0 3.6 0a1.8 1.8 0 1 0-3.6 0M504.0 454.2a1.8 1.8 0 1 0 3.6 0a1.8 1.8 0 1 0-3.6 0M504.0 487.2a1.8 1.8 0 1 0 3.6 0a1.8 1.8 0 1 0-3.6 0M504.1 464.1a1.8 1.8 0 1 0 3.6 0a1.8 1.8 0 1 0-3.6 0M504.2 467.3a1.8 1.8 0 1 0 3.6 0a1.8 1.8 0 1 0-3.6 0M504.3 454.2a1.8 1.8 0 1 0 3.6 0a1.8 1.8 0 1 0-3.6 0M504.3 455.7a1.8 1.8 0 1 0 3.6 0a1.8 1.8 0 1 0-3.6 0M504.4 467.3a1.8 1.8 0 1 0 3.6 0a1.8 1.8 0 1 0-3.6 0M504.4 487.2a1.8 1.8 0 1 0 3.6 0a1.8 1.8 0 1 0-3.6 0M504.5 464.1a1.8 1.8 0 1 0 3.6 0a1.8 1.8 0 1 0-3.6 0M504.5 487.2a1.8 1.8 0 1 0 3.6 0a1.8 1.8 0 1 0-3.6 0M504.5 497.1a1.8 1.8 0 1 0 3.6 0a1.8 1.8 0 1 0-3.6 0M504.6 436.7a1.8 1.8 0 1 0 3.6 0a1.8 1.8 0 1 0-3.6 0M504.7 467.3a1.8 1.8 0 1 0 3.6 0a1.8 1.8 0 1 0-3.6 0M504.8 467.3a1.8 1.8 0 1 0 3.6 0a1.8 1.8 0 1 0-3.6 0M505.2 459.3a1.8 1.8 0 1 0 3.6 0a1.8 1.8 0 1 0-3.6 0M505.4 461.5a1.8 1.8 0 1 0 3.6 0a1.8 1.8 0 1 0-3.6 0M505.5 459.3a1.8 1.8 0 1 0 3.6 0a1.8 1.8 0 1 0-3.6 0M505.5 464.1a1.8 1.8 0 1 0 3.6 0a1.8 1.8 0 1 0-3.6 0M505.5 467.3a1.8 1.8 0 1 0 3.6 0a1.8 1.8 0 1 0-3.6 0M505.7 449.4a1.8 1.8 0 1 0 3.6 0a1.8 1.8 0 1 0-3.6 0M505.7 487.2a1.8 1.8 0 1 0 3.6 0a1.8 1.8 0 1 0-3.6 0M505.9 450.4a1.8 1.8 0 1 0 3.6 0a1.8 1.8 0 1 0-3.6 0M505.9 497.1a1.8 1.8 0 1 0 3.6 0a1.8 1.8 0 1 0-3.6 0M506.0 464.1a1.8 1.8 0 1 0 3.6 0a1.8 1.8 0 1 0-3.6 0M506.2 461.5a1.8 1.8 0 1 0 3.6 0a1.8 1.8 0 1 0-3.6 0M506.4 467.3a1.8 1.8 0 1 0 3.6 0a1.8 1.8 0 1 0-3.6 0M506.5 457.4a1.8 1.8 0 1 0 3.6 0a1.8 1.8 0 1 0-3.6 0M506.5 461.5a1.8 1.8 0 1 0 3.6 0a1.8 1.8 0 1 0-3.6 0M506.5 467.3a1.8 1.8 0 1 0 3.6 0a1.8 1.8 0 1 0-3.6 0M506.6 461.5a1.8 1.8 0 1 0 3.6 0a1.8 1.8 0 1 0-3.6 0M506.7 441.6a1.8 1.8 0 1 0 3.6 0a1.8 1.8 0 1 0-3.6 0M506.8 451.6a1.8 1.8 0 1 0 3.6 0a1.8 1.8 0 1 0-3.6 0M506.8 461.5a1.8 1.8 0 1 0 3.6 0a1.8 1.8 0 1 0-3.6 0M506.8 467.3a1.8 1.8 0 1 0 3.6 0a1.8 1.8 0 1 0-3.6 0M506.9 447.5a1.8 1.8 0 1 0 3.6 0a1.8 1.8 0 1 0-3.6 0M507.0 467.3a1.8 1.8 0 1 0 3.6 0a1.8 1.8 0 1 0-3.6 0M507.2 457.4a1.8 1.8 0 1 0 3.6 0a1.8 1.8 0 1 0-3.6 0M507.2 464.1a1.8 1.8 0 1 0 3.6 0a1.8 1.8 0 1 0-3.6 0M507.4 438.0a1.8 1.8 0 1 0 3.6 0a1.8 1.8 0 1 0-3.6 0M507.4 464.1a1.8 1.8 0 1 0 3.6 0a1.8 1.8 0 1 0-3.6 0M507.5 455.7a1.8 1.8 0 1 0 3.6 0a1.8 1.8 0 1 0-3.6 0M507.5 464.1a1.8 1.8 0 1 0 3.6 0a1.8 1.8 0 1 0-3.6 0M507.6 497.1a1.8 1.8 0 1 0 3.6 0a1.8 1.8 0 1 0-3.6 0M507.7 467.3a1.8 1.8 0 1 0 3.6 0a1.8 1.8 0 1 0-3.6 0M507.8 442.9a1.8 1.8 0 1 0 3.6 0a1.8 1.8 0 1 0-3.6 0M507.8 454.2a1.8 1.8 0 1 0 3.6 0a1.8 1.8 0 1 0-3.6 0M507.8 464.1a1.8 1.8 0 1 0 3.6 0a1.8 1.8 0 1 0-3.6 0M507.8 467.3a1.8 1.8 0 1 0 3.6 0a1.8 1.8 0 1 0-3.6 0M507.9 461.5a1.8 1.8 0 1 0 3.6 0a1.8 1.8 0 1 0-3.6 0M508.0 467.3a1.8 1.8 0 1 0 3.6 0a1.8 1.8 0 1 0-3.6 0M508.3 434.9a1.8 1.8 0 1 0 3.6 0a1.8 1.8 0 1 0-3.6 0M508.3 451.6a1.8 1.8 0 1 0 3.6 0a1.8 1.8 0 1 0-3.6 0M508.3 467.3a1.8 1.8 0 1 0 3.6 0a1.8 1.8 0 1 0-3.6 0M508.4 451.6a1.8 1.8 0 1 0 3.6 0a1.8 1.8 0 1 0-3.6 0M508.4 459.3a1.8 1.8 0 1 0 3.6 0a1.8 1.8 0 1 0-3.6 0M508.4 467.3a1.8 1.8 0 1 0 3.6 0a1.8 1.8 0 1 0-3.6 0M508.5 459.3a1.8 1.8 0 1 0 3.6 0a1.8 1.8 0 1 0-3.6 0M508.5 467.3a1.8 1.8 0 1 0 3.6 0a1.8 1.8 0 1 0-3.6 0M508.7 441.1a1.8 1.8 0 1 0 3.6 0a1.8 1.8 0 1 0-3.6 0M508.9 464.1a1.8 1.8 0 1 0 3.6 0a1.8 1.8 0 1 0-3.6 0M509.0 459.3a1.8 1.8 0 1 0 3.6 0a1.8 1.8 0 1 0-3.6 0M509.1 457.4a1.8 1.8 0 1 0 3.6 0a1.8 1.8 0 1 0-3.6 0M509.1 461.5a1.8 1.8 0 1 0 3.6 0a1.8 1.8 0 1 0-3.6 0M509.2 464.1a1.8 1.8 0 1 0 3.6 0a1.8 1.8 0 1 0-3.6 0M509.3 464.1a1.8 1.8 0 1 0 3.6 0a1.8 1.8 0 1 0-3.6 0M509.3 467.3a1.8 1.8 0 1 0 3.6 0a1.8 1.8 0 1 0-3.6 0M509.4 445.0a1.8 1.8 0 1 0 3.6 0a1.8 1.8 0 1 0-3.6 0M509.5 461.5a1.8 1.8 0 1 0 3.6 0a1.8 1.8 0 1 0-3.6 0M509.6 467.3a1.8 1.8 0 1 0 3.6 0a1.8 1.8 0 1 0-3.6 0M509.8 455.7a1.8 1.8 0 1 0 3.6 0a1.8 1.8 0 1 0-3.6 0M509.9 459.3a1.8 1.8 0 1 0 3.6 0a1.8 1.8 0 1 0-3.6 0M510.1 459.3a1.8 1.8 0 1 0 3.6 0a1.8 1.8 0 1 0-3.6 0M510.1 461.5a1.8 1.8 0 1 0 3.6 0a1.8 1.8 0 1 0-3.6 0M510.2 436.4a1.8 1.8 0 1 0 3.6 0a1.8 1.8 0 1 0-3.6 0M510.2 442.3a1.8 1.8 0 1 0 3.6 0a1.8 1.8 0 1 0-3.6 0M510.3 452.8a1.8 1.8 0 1 0 3.6 0a1.8 1.8 0 1 0-3.6 0M510.3 457.4a1.8 1.8 0 1 0 3.6 0a1.8 1.8 0 1 0-3.6 0M510.3 461.5a1.8 1.8 0 1 0 3.6 0a1.8 1.8 0 1 0-3.6 0M510.3 464.1a1.8 1.8 0 1 0 3.6 0a1.8 1.8 0 1 0-3.6 0M510.3 467.3a1.8 1.8 0 1 0 3.6 0a1.8 1.8 0 1 0-3.6 0M510.4 461.5a1.8 1.8 0 1 0 3.6 0a1.8 1.8 0 1 0-3.6 0M510.5 459.3a1.8 1.8 0 1 0 3.6 0a1.8 1.8 0 1 0-3.6 0M510.5 467.3a1.8 1.8 0 1 0 3.6 0a1.8 1.8 0 1 0-3.6 0M510.6 464.1a1.8 1.8 0 1 0 3.6 0a1.8 1.8 0 1 0-3.6 0M510.7 464.1a1.8 1.8 0 1 0 3.6 0a1.8 1.8 0 1 0-3.6 0M510.8 464.1a1.8 1.8 0 1 0 3.6 0a1.8 1.8 0 1 0-3.6 0M510.9 452.8a1.8 1.8 0 1 0 3.6 0a1.8 1.8 0 1 0-3.6 0M511.0 467.3a1.8 1.8 0 1 0 3.6 0a1.8 1.8 0 1 0-3.6 0M511.1 464.1a1.8 1.8 0 1 0 3.6 0a1.8 1.8 0 1 0-3.6 0M511.3 444.3a1.8 1.8 0 1 0 3.6 0a1.8 1.8 0 1 0-3.6 0M511.3 459.3a1.8 1.8 0 1 0 3.6 0a1.8 1.8 0 1 0-3.6 0M511.3 461.5a1.8 1.8 0 1 0 3.6 0a1.8 1.8 0 1 0-3.6 0M511.4 450.4a1.8 1.8 0 1 0 3.6 0a1.8 1.8 0 1 0-3.6 0M511.5 464.1a1.8 1.8 0 1 0 3.6 0a1.8 1.8 0 1 0-3.6 0M511.7 426.7a1.8 1.8 0 1 0 3.6 0a1.8 1.8 0 1 0-3.6 0M511.7 455.7a1.8 1.8 0 1 0 3.6 0a1.8 1.8 0 1 0-3.6 0M511.7 457.4a1.8 1.8 0 1 0 3.6 0a1.8 1.8 0 1 0-3.6 0M511.8 441.6a1.8 1.8 0 1 0 3.6 0a1.8 1.8 0 1 0-3.6 0M511.8 454.2a1.8 1.8 0 1 0 3.6 0a1.8 1.8 0 1 0-3.6 0M511.8 461.5a1.8 1.8 0 1 0 3.6 0a1.8 1.8 0 1 0-3.6 0M512.0 455.7a1.8 1.8 0 1 0 3.6 0a1.8 1.8 0 1 0-3.6 0M512.1 443.6a1.8 1.8 0 1 0 3.6 0a1.8 1.8 0 1 0-3.6 0M512.1 464.1a1.8 1.8 0 1 0 3.6 0a1.8 1.8 0 1 0-3.6 0M512.1 467.3a1.8 1.8 0 1 0 3.6 0a1.8 1.8 0 1 0-3.6 0M512.2 464.1a1.8 1.8 0 1 0 3.6 0a1.8 1.8 0 1 0-3.6 0M512.3 461.5a1.8 1.8 0 1 0 3.6 0a1.8 1.8 0 1 0-3.6 0M512.3 467.3a1.8 1.8 0 1 0 3.6 0a1.8 1.8 0 1 0-3.6 0M512.4 461.5a1.8 1.8 0 1 0 3.6 0a1.8 1.8 0 1 0-3.6 0M512.4 467.3a1.8 1.8 0 1 0 3.6 0a1.8 1.8 0 1 0-3.6 0M512.5 464.1a1.8 1.8 0 1 0 3.6 0a1.8 1.8 0 1 0-3.6 0M512.6 440.0a1.8 1.8 0 1 0 3.6 0a1.8 1.8 0 1 0-3.6 0M512.7 450.4a1.8 1.8 0 1 0 3.6 0a1.8 1.8 0 1 0-3.6 0M512.7 454.2a1.8 1.8 0 1 0 3.6 0a1.8 1.8 0 1 0-3.6 0M512.7 457.4a1.8 1.8 0 1 0 3.6 0a1.8 1.8 0 1 0-3.6 0M512.8 464.1a1.8 1.8 0 1 0 3.6 0a1.8 1.8 0 1 0-3.6 0M512.9 452.8a1.8 1.8 0 1 0 3.6 0a1.8 1.8 0 1 0-3.6 0M513.1 459.3a1.8 1.8 0 1 0 3.6 0a1.8 1.8 0 1 0-3.6 0M513.1 467.3a1.8 1.8 0 1 0 3.6 0a1.8 1.8 0 1 0-3.6 0M513.2 467.3a1.8 1.8 0 1 0 3.6 0a1.8 1.8 0 1 0-3.6 0M513.3 454.2a1.8 1.8 0 1 0 3.6 0a1.8 1.8 0 1 0-3.6 0M513.5 459.3a1.8 1.8 0 1 0 3.6 0a1.8 1.8 0 1 0-3.6 0M513.5 467.3a1.8 1.8 0 1 0 3.6 0a1.8 1.8 0 1 0-3.6 0M513.6 451.6a1.8 1.8 0 1 0 3.6 0a1.8 1.8 0 1 0-3.6 0M513.6 455.7a1.8 1.8 0 1 0 3.6 0a1.8 1.8 0 1 0-3.6 0M513.6 464.1a1.8 1.8 0 1 0 3.6 0a1.8 1.8 0 1 0-3.6 0M513.7 457.4a1.8 1.8 0 1 0 3.6 0a1.8 1.8 0 1 0-3.6 0M513.7 467.3a1.8 1.8 0 1 0 3.6 0a1.8 1.8 0 1 0-3.6 0M513.8 464.1a1.8 1.8 0 1 0 3.6 0a1.8 1.8 0 1 0-3.6 0M513.9 434.9a1.8 1.8 0 1 0 3.6 0a1.8 1.8 0 1 0-3.6 0M513.9 464.1a1.8 1.8 0 1 0 3.6 0a1.8 1.8 0 1 0-3.6 0M514.1 459.3a1.8 1.8 0 1 0 3.6 0a1.8 1.8 0 1 0-3.6 0M514.3 449.4a1.8 1.8 0 1 0 3.6 0a1.8 1.8 0 1 0-3.6 0M514.3 452.8a1.8 1.8 0 1 0 3.6 0a1.8 1.8 0 1 0-3.6 0M514.4 459.3a1.8 1.8 0 1 0 3.6 0a1.8 1.8 0 1 0-3.6 0M514.5 445.8a1.8 1.8 0 1 0 3.6 0a1.8 1.8 0 1 0-3.6 0M514.5 452.8a1.8 1.8 0 1 0 3.6 0a1.8 1.8 0 1 0-3.6 0M514.6 457.4a1.8 1.8 0 1 0 3.6 0a1.8 1.8 0 1 0-3.6 0M514.6 464.1a1.8 1.8 0 1 0 3.6 0a1.8 1.8 0 1 0-3.6 0M514.6 467.3a1.8 1.8 0 1 0 3.6 0a1.8 1.8 0 1 0-3.6 0M514.7 454.2a1.8 1.8 0 1 0 3.6 0a1.8 1.8 0 1 0-3.6 0M514.7 459.3a1.8 1.8 0 1 0 3.6 0a1.8 1.8 0 1 0-3.6 0M514.8 461.5a1.8 1.8 0 1 0 3.6 0a1.8 1.8 0 1 0-3.6 0M514.8 464.1a1.8 1.8 0 1 0 3.6 0a1.8 1.8 0 1 0-3.6 0M514.9 457.4a1.8 1.8 0 1 0 3.6 0a1.8 1.8 0 1 0-3.6 0M514.9 459.3a1.8 1.8 0 1 0 3.6 0a1.8 1.8 0 1 0-3.6 0M514.9 461.5a1.8 1.8 0 1 0 3.6 0a1.8 1.8 0 1 0-3.6 0M514.9 464.1a1.8 1.8 0 1 0 3.6 0a1.8 1.8 0 1 0-3.6 0M515.1 436.7a1.8 1.8 0 1 0 3.6 0a1.8 1.8 0 1 0-3.6 0M515.2 464.1a1.8 1.8 0 1 0 3.6 0a1.8 1.8 0 1 0-3.6 0M515.2 467.3a1.8 1.8 0 1 0 3.6 0a1.8 1.8 0 1 0-3.6 0M515.3 464.1a1.8 1.8 0 1 0 3.6 0a1.8 1.8 0 1 0-3.6 0M515.5 467.3a1.8 1.8 0 1 0 3.6 0a1.8 1.8 0 1 0-3.6 0M515.6 437.5a1.8 1.8 0 1 0 3.6 0a1.8 1.8 0 1 0-3.6 0M515.6 454.2a1.8 1.8 0 1 0 3.6 0a1.8 1.8 0 1 0-3.6 0M515.7 450.4a1.8 1.8 0 1 0 3.6 0a1.8 1.8 0 1 0-3.6 0M515.7 467.3a1.8 1.8 0 1 0 3.6 0a1.8 1.8 0 1 0-3.6 0M515.8 449.4a1.8 1.8 0 1 0 3.6 0a1.8 1.8 0 1 0-3.6 0M515.8 455.7a1.8 1.8 0 1 0 3.6 0a1.8 1.8 0 1 0-3.6 0M516.1 455.7a1.8 1.8 0 1 0 3.6 0a1.8 1.8 0 1 0-3.6 0M516.2 467.3a1.8 1.8 0 1 0 3.6 0a1.8 1.8 0 1 0-3.6 0M516.3 459.3a1.8 1.8 0 1 0 3.6 0a1.8 1.8 0 1 0-3.6 0M516.4 436.7a1.8 1.8 0 1 0 3.6 0a1.8 1.8 0 1 0-3.6 0M516.4 464.1a1.8 1.8 0 1 0 3.6 0a1.8 1.8 0 1 0-3.6 0M516.4 467.3a1.8 1.8 0 1 0 3.6 0a1.8 1.8 0 1 0-3.6 0M516.6 459.3a1.8 1.8 0 1 0 3.6 0a1.8 1.8 0 1 0-3.6 0M516.6 461.5a1.8 1.8 0 1 0 3.6 0a1.8 1.8 0 1 0-3.6 0M516.8 449.4a1.8 1.8 0 1 0 3.6 0a1.8 1.8 0 1 0-3.6 0M516.8 461.5a1.8 1.8 0 1 0 3.6 0a1.8 1.8 0 1 0-3.6 0M516.9 451.6a1.8 1.8 0 1 0 3.6 0a1.8 1.8 0 1 0-3.6 0M516.9 457.4a1.8 1.8 0 1 0 3.6 0a1.8 1.8 0 1 0-3.6 0M516.9 467.3a1.8 1.8 0 1 0 3.6 0a1.8 1.8 0 1 0-3.6 0M517.0 464.1a1.8 1.8 0 1 0 3.6 0a1.8 1.8 0 1 0-3.6 0M517.1 449.4a1.8 1.8 0 1 0 3.6 0a1.8 1.8 0 1 0-3.6 0M517.1 464.1a1.8 1.8 0 1 0 3.6 0a1.8 1.8 0 1 0-3.6 0M517.1 467.3a1.8 1.8 0 1 0 3.6 0a1.8 1.8 0 1 0-3.6 0M517.2 428.9a1.8 1.8 0 1 0 3.6 0a1.8 1.8 0 1 0-3.6 0M517.2 455.7a1.8 1.8 0 1 0 3.6 0a1.8 1.8 0 1 0-3.6 0M517.3 461.5a1.8 1.8 0 1 0 3.6 0a1.8 1.8 0 1 0-3.6 0M517.4 452.8a1.8 1.8 0 1 0 3.6 0a1.8 1.8 0 1 0-3.6 0M517.5 448.4a1.8 1.8 0 1 0 3.6 0a1.8 1.8 0 1 0-3.6 0M517.5 467.3a1.8 1.8 0 1 0 3.6 0a1.8 1.8 0 1 0-3.6 0M517.6 461.5a1.8 1.8 0 1 0 3.6 0a1.8 1.8 0 1 0-3.6 0M517.8 435.8a1.8 1.8 0 1 0 3.6 0a1.8 1.8 0 1 0-3.6 0M517.8 445.0a1.8 1.8 0 1 0 3.6 0a1.8 1.8 0 1 0-3.6 0M517.9 454.2a1.8 1.8 0 1 0 3.6 0a1.8 1.8 0 1 0-3.6 0M517.9 464.1a1.8 1.8 0 1 0 3.6 0a1.8 1.8 0 1 0-3.6 0M517.9 467.3a1.8 1.8 0 1 0 3.6 0a1.8 1.8 0 1 0-3.6 0M518.0 423.7a1.8 1.8 0 1 0 3.6 0a1.8 1.8 0 1 0-3.6 0M518.2 467.3a1.8 1.8 0 1 0 3.6 0a1.8 1.8 0 1 0-3.6 0M518.3 454.2a1.8 1.8 0 1 0 3.6 0a1.8 1.8 0 1 0-3.6 0M518.3 467.3a1.8 1.8 0 1 0 3.6 0a1.8 1.8 0 1 0-3.6 0M518.4 454.2a1.8 1.8 0 1 0 3.6 0a1.8 1.8 0 1 0-3.6 0M518.4 467.3a1.8 1.8 0 1 0 3.6 0a1.8 1.8 0 1 0-3.6 0M518.5 457.4a1.8 1.8 0 1 0 3.6 0a1.8 1.8 0 1 0-3.6 0M518.5 461.5a1.8 1.8 0 1 0 3.6 0a1.8 1.8 0 1 0-3.6 0M518.7 454.2a1.8 1.8 0 1 0 3.6 0a1.8 1.8 0 1 0-3.6 0M518.7 457.4a1.8 1.8 0 1 0 3.6 0a1.8 1.8 0 1 0-3.6 0M518.8 457.4a1.8 1.8 0 1 0 3.6 0a1.8 1.8 0 1 0-3.6 0M518.8 459.3a1.8 1.8 0 1 0 3.6 0a1.8 1.8 0 1 0-3.6 0M518.9 459.3a1.8 1.8 0 1 0 3.6 0a1.8 1.8 0 1 0-3.6 0M518.9 467.3a1.8 1.8 0 1 0 3.6 0a1.8 1.8 0 1 0-3.6 0M519.1 430.4a1.8 1.8 0 1 0 3.6 0a1.8 1.8 0 1 0-3.6 0M519.1 461.5a1.8 1.8 0 1 0 3.6 0a1.8 1.8 0 1 0-3.6 0M519.2 464.1a1.8 1.8 0 1 0 3.6 0a1.8 1.8 0 1 0-3.6 0M519.3 452.8a1.8 1.8 0 1 0 3.6 0a1.8 1.8 0 1 0-3.6 0M519.3 467.3a1.8 1.8 0 1 0 3.6 0a1.8 1.8 0 1 0-3.6 0M519.4 455.7a1.8 1.8 0 1 0 3.6 0a1.8 1.8 0 1 0-3.6 0M519.4 464.1a1.8 1.8 0 1 0 3.6 0a1.8 1.8 0 1 0-3.6 0M519.5 467.3a1.8 1.8 0 1 0 3.6 0a1.8 1.8 0 1 0-3.6 0M519.6 461.5a1.8 1.8 0 1 0 3.6 0a1.8 1.8 0 1 0-3.6 0M519.7 455.7a1.8 1.8 0 1 0 3.6 0a1.8 1.8 0 1 0-3.6 0M519.8 461.5a1.8 1.8 0 1 0 3.6 0a1.8 1.8 0 1 0-3.6 0M519.9 457.4a1.8 1.8 0 1 0 3.6 0a1.8 1.8 0 1 0-3.6 0M519.9 464.1a1.8 1.8 0 1 0 3.6 0a1.8 1.8 0 1 0-3.6 0M520.2 461.5a1.8 1.8 0 1 0 3.6 0a1.8 1.8 0 1 0-3.6 0M520.3 452.8a1.8 1.8 0 1 0 3.6 0a1.8 1.8 0 1 0-3.6 0M520.3 464.1a1.8 1.8 0 1 0 3.6 0a1.8 1.8 0 1 0-3.6 0M520.4 442.9a1.8 1.8 0 1 0 3.6 0a1.8 1.8 0 1 0-3.6 0M520.4 467.3a1.8 1.8 0 1 0 3.6 0a1.8 1.8 0 1 0-3.6 0M520.6 421.1a1.8 1.8 0 1 0 3.6 0a1.8 1.8 0 1 0-3.6 0M520.6 459.3a1.8 1.8 0 1 0 3.6 0a1.8 1.8 0 1 0-3.6 0M520.6 461.5a1.8 1.8 0 1 0 3.6 0a1.8 1.8 0 1 0-3.6 0M520.7 455.7a1.8 1.8 0 1 0 3.6 0a1.8 1.8 0 1 0-3.6 0M520.7 461.5a1.8 1.8 0 1 0 3.6 0a1.8 1.8 0 1 0-3.6 0M520.8 461.5a1.8 1.8 0 1 0 3.6 0a1.8 1.8 0 1 0-3.6 0M520.9 459.3a1.8 1.8 0 1 0 3.6 0a1.8 1.8 0 1 0-3.6 0M521.1 464.1a1.8 1.8 0 1 0 3.6 0a1.8 1.8 0 1 0-3.6 0M521.2 464.1a1.8 1.8 0 1 0 3.6 0a1.8 1.8 0 1 0-3.6 0M521.3 459.3a1.8 1.8 0 1 0 3.6 0a1.8 1.8 0 1 0-3.6 0M521.3 464.1a1.8 1.8 0 1 0 3.6 0a1.8 1.8 0 1 0-3.6 0M521.4 454.2a1.8 1.8 0 1 0 3.6 0a1.8 1.8 0 1 0-3.6 0M521.4 459.3a1.8 1.8 0 1 0 3.6 0a1.8 1.8 0 1 0-3.6 0M521.4 464.1a1.8 1.8 0 1 0 3.6 0a1.8 1.8 0 1 0-3.6 0M521.5 461.5a1.8 1.8 0 1 0 3.6 0a1.8 1.8 0 1 0-3.6 0M521.5 464.1a1.8 1.8 0 1 0 3.6 0a1.8 1.8 0 1 0-3.6 0M521.5 467.3a1.8 1.8 0 1 0 3.6 0a1.8 1.8 0 1 0-3.6 0M521.6 461.5a1.8 1.8 0 1 0 3.6 0a1.8 1.8 0 1 0-3.6 0M521.7 464.1a1.8 1.8 0 1 0 3.6 0a1.8 1.8 0 1 0-3.6 0M521.8 445.0a1.8 1.8 0 1 0 3.6 0a1.8 1.8 0 1 0-3.6 0M521.8 449.4a1.8 1.8 0 1 0 3.6 0a1.8 1.8 0 1 0-3.6 0M521.8 464.1a1.8 1.8 0 1 0 3.6 0a1.8 1.8 0 1 0-3.6 0M521.8 467.3a1.8 1.8 0 1 0 3.6 0a1.8 1.8 0 1 0-3.6 0M521.9 467.3a1.8 1.8 0 1 0 3.6 0a1.8 1.8 0 1 0-3.6 0M522.1 461.5a1.8 1.8 0 1 0 3.6 0a1.8 1.8 0 1 0-3.6 0M522.1 467.3a1.8 1.8 0 1 0 3.6 0a1.8 1.8 0 1 0-3.6 0M522.2 464.1a1.8 1.8 0 1 0 3.6 0a1.8 1.8 0 1 0-3.6 0M522.3 461.5a1.8 1.8 0 1 0 3.6 0a1.8 1.8 0 1 0-3.6 0M522.3 467.3a1.8 1.8 0 1 0 3.6 0a1.8 1.8 0 1 0-3.6 0M522.4 461.5a1.8 1.8 0 1 0 3.6 0a1.8 1.8 0 1 0-3.6 0M522.5 464.1a1.8 1.8 0 1 0 3.6 0a1.8 1.8 0 1 0-3.6 0M522.6 467.3a1.8 1.8 0 1 0 3.6 0a1.8 1.8 0 1 0-3.6 0M522.7 464.1a1.8 1.8 0 1 0 3.6 0a1.8 1.8 0 1 0-3.6 0M522.7 467.3a1.8 1.8 0 1 0 3.6 0a1.8 1.8 0 1 0-3.6 0M522.9 461.5a1.8 1.8 0 1 0 3.6 0a1.8 1.8 0 1 0-3.6 0M523.0 459.3a1.8 1.8 0 1 0 3.6 0a1.8 1.8 0 1 0-3.6 0M523.1 455.7a1.8 1.8 0 1 0 3.6 0a1.8 1.8 0 1 0-3.6 0M523.2 420.0a1.8 1.8 0 1 0 3.6 0a1.8 1.8 0 1 0-3.6 0M523.2 451.6a1.8 1.8 0 1 0 3.6 0a1.8 1.8 0 1 0-3.6 0M523.3 464.1a1.8 1.8 0 1 0 3.6 0a1.8 1.8 0 1 0-3.6 0M523.4 461.5a1.8 1.8 0 1 0 3.6 0a1.8 1.8 0 1 0-3.6 0M523.5 467.3a1.8 1.8 0 1 0 3.6 0a1.8 1.8 0 1 0-3.6 0M523.6 405.0a1.8 1.8 0 1 0 3.6 0a1.8 1.8 0 1 0-3.6 0M523.6 452.8a1.8 1.8 0 1 0 3.6 0a1.8 1.8 0 1 0-3.6 0M523.6 467.3a1.8 1.8 0 1 0 3.6 0a1.8 1.8 0 1 0-3.6 0M523.8 464.1a1.8 1.8 0 1 0 3.6 0a1.8 1.8 0 1 0-3.6 0M524.0 459.3a1.8 1.8 0 1 0 3.6 0a1.8 1.8 0 1 0-3.6 0M524.0 461.5a1.8 1.8 0 1 0 3.6 0a1.8 1.8 0 1 0-3.6 0M524.0 467.3a1.8 1.8 0 1 0 3.6 0a1.8 1.8 0 1 0-3.6 0M524.1 467.3a1.8 1.8 0 1 0 3.6 0a1.8 1.8 0 1 0-3.6 0M524.2 464.1a1.8 1.8 0 1 0 3.6 0a1.8 1.8 0 1 0-3.6 0M524.2 467.3a1.8 1.8 0 1 0 3.6 0a1.8 1.8 0 1 0-3.6 0M524.5 452.8a1.8 1.8 0 1 0 3.6 0a1.8 1.8 0 1 0-3.6 0M524.5 459.3a1.8 1.8 0 1 0 3.6 0a1.8 1.8 0 1 0-3.6 0M524.5 464.1a1.8 1.8 0 1 0 3.6 0a1.8 1.8 0 1 0-3.6 0M524.6 451.6a1.8 1.8 0 1 0 3.6 0a1.8 1.8 0 1 0-3.6 0M524.7 467.3a1.8 1.8 0 1 0 3.6 0a1.8 1.8 0 1 0-3.6 0M524.8 467.3a1.8 1.8 0 1 0 3.6 0a1.8 1.8 0 1 0-3.6 0M524.9 461.5a1.8 1.8 0 1 0 3.6 0a1.8 1.8 0 1 0-3.6 0M524.9 464.1a1.8 1.8 0 1 0 3.6 0a1.8 1.8 0 1 0-3.6 0M525.0 451.6a1.8 1.8 0 1 0 3.6 0a1.8 1.8 0 1 0-3.6 0M525.0 455.7a1.8 1.8 0 1 0 3.6 0a1.8 1.8 0 1 0-3.6 0M525.0 467.3a1.8 1.8 0 1 0 3.6 0a1.8 1.8 0 1 0-3.6 0M525.1 450.4a1.8 1.8 0 1 0 3.6 0a1.8 1.8 0 1 0-3.6 0M525.1 461.5a1.8 1.8 0 1 0 3.6 0a1.8 1.8 0 1 0-3.6 0M525.2 455.7a1.8 1.8 0 1 0 3.6 0a1.8 1.8 0 1 0-3.6 0M525.4 467.3a1.8 1.8 0 1 0 3.6 0a1.8 1.8 0 1 0-3.6 0M525.5 445.8a1.8 1.8 0 1 0 3.6 0a1.8 1.8 0 1 0-3.6 0M525.5 467.3a1.8 1.8 0 1 0 3.6 0a1.8 1.8 0 1 0-3.6 0M525.9 464.1a1.8 1.8 0 1 0 3.6 0a1.8 1.8 0 1 0-3.6 0M526.0 451.6a1.8 1.8 0 1 0 3.6 0a1.8 1.8 0 1 0-3.6 0M526.2 467.3a1.8 1.8 0 1 0 3.6 0a1.8 1.8 0 1 0-3.6 0M526.3 451.6a1.8 1.8 0 1 0 3.6 0a1.8 1.8 0 1 0-3.6 0M526.5 457.4a1.8 1.8 0 1 0 3.6 0a1.8 1.8 0 1 0-3.6 0M526.5 467.3a1.8 1.8 0 1 0 3.6 0a1.8 1.8 0 1 0-3.6 0M526.6 457.4a1.8 1.8 0 1 0 3.6 0a1.8 1.8 0 1 0-3.6 0M526.9 444.3a1.8 1.8 0 1 0 3.6 0a1.8 1.8 0 1 0-3.6 0M526.9 461.5a1.8 1.8 0 1 0 3.6 0a1.8 1.8 0 1 0-3.6 0M527.0 443.6a1.8 1.8 0 1 0 3.6 0a1.8 1.8 0 1 0-3.6 0M527.0 445.8a1.8 1.8 0 1 0 3.6 0a1.8 1.8 0 1 0-3.6 0M527.0 464.1a1.8 1.8 0 1 0 3.6 0a1.8 1.8 0 1 0-3.6 0M527.0 467.3a1.8 1.8 0 1 0 3.6 0a1.8 1.8 0 1 0-3.6 0M527.1 461.5a1.8 1.8 0 1 0 3.6 0a1.8 1.8 0 1 0-3.6 0M527.2 464.1a1.8 1.8 0 1 0 3.6 0a1.8 1.8 0 1 0-3.6 0M527.2 467.3a1.8 1.8 0 1 0 3.6 0a1.8 1.8 0 1 0-3.6 0M527.3 464.1a1.8 1.8 0 1 0 3.6 0a1.8 1.8 0 1 0-3.6 0M527.4 461.5a1.8 1.8 0 1 0 3.6 0a1.8 1.8 0 1 0-3.6 0M527.5 461.5a1.8 1.8 0 1 0 3.6 0a1.8 1.8 0 1 0-3.6 0M527.5 464.1a1.8 1.8 0 1 0 3.6 0a1.8 1.8 0 1 0-3.6 0M527.7 447.5a1.8 1.8 0 1 0 3.6 0a1.8 1.8 0 1 0-3.6 0M527.7 467.3a1.8 1.8 0 1 0 3.6 0a1.8 1.8 0 1 0-3.6 0M527.8 467.3a1.8 1.8 0 1 0 3.6 0a1.8 1.8 0 1 0-3.6 0M527.9 454.2a1.8 1.8 0 1 0 3.6 0a1.8 1.8 0 1 0-3.6 0M528.0 461.5a1.8 1.8 0 1 0 3.6 0a1.8 1.8 0 1 0-3.6 0M528.0 467.3a1.8 1.8 0 1 0 3.6 0a1.8 1.8 0 1 0-3.6 0M528.1 452.8a1.8 1.8 0 1 0 3.6 0a1.8 1.8 0 1 0-3.6 0M528.1 455.7a1.8 1.8 0 1 0 3.6 0a1.8 1.8 0 1 0-3.6 0M528.1 467.3a1.8 1.8 0 1 0 3.6 0a1.8 1.8 0 1 0-3.6 0M528.2 457.4a1.8 1.8 0 1 0 3.6 0a1.8 1.8 0 1 0-3.6 0M528.2 464.1a1.8 1.8 0 1 0 3.6 0a1.8 1.8 0 1 0-3.6 0M528.5 461.5a1.8 1.8 0 1 0 3.6 0a1.8 1.8 0 1 0-3.6 0M528.5 467.3a1.8 1.8 0 1 0 3.6 0a1.8 1.8 0 1 0-3.6 0M528.6 455.7a1.8 1.8 0 1 0 3.6 0a1.8 1.8 0 1 0-3.6 0M528.6 461.5a1.8 1.8 0 1 0 3.6 0a1.8 1.8 0 1 0-3.6 0M528.7 461.5a1.8 1.8 0 1 0 3.6 0a1.8 1.8 0 1 0-3.6 0M528.7 464.1a1.8 1.8 0 1 0 3.6 0a1.8 1.8 0 1 0-3.6 0M528.8 459.3a1.8 1.8 0 1 0 3.6 0a1.8 1.8 0 1 0-3.6 0M528.8 464.1a1.8 1.8 0 1 0 3.6 0a1.8 1.8 0 1 0-3.6 0M528.8 467.3a1.8 1.8 0 1 0 3.6 0a1.8 1.8 0 1 0-3.6 0M528.9 459.3a1.8 1.8 0 1 0 3.6 0a1.8 1.8 0 1 0-3.6 0M528.9 467.3a1.8 1.8 0 1 0 3.6 0a1.8 1.8 0 1 0-3.6 0M529.0 454.2a1.8 1.8 0 1 0 3.6 0a1.8 1.8 0 1 0-3.6 0M529.1 450.4a1.8 1.8 0 1 0 3.6 0a1.8 1.8 0 1 0-3.6 0M529.1 457.4a1.8 1.8 0 1 0 3.6 0a1.8 1.8 0 1 0-3.6 0M529.4 452.8a1.8 1.8 0 1 0 3.6 0a1.8 1.8 0 1 0-3.6 0M529.4 461.5a1.8 1.8 0 1 0 3.6 0a1.8 1.8 0 1 0-3.6 0M529.4 467.3a1.8 1.8 0 1 0 3.6 0a1.8 1.8 0 1 0-3.6 0M529.6 464.1a1.8 1.8 0 1 0 3.6 0a1.8 1.8 0 1 0-3.6 0M529.7 449.4a1.8 1.8 0 1 0 3.6 0a1.8 1.8 0 1 0-3.6 0M529.8 457.4a1.8 1.8 0 1 0 3.6 0a1.8 1.8 0 1 0-3.6 0M529.9 451.6a1.8 1.8 0 1 0 3.6 0a1.8 1.8 0 1 0-3.6 0M530.0 464.1a1.8 1.8 0 1 0 3.6 0a1.8 1.8 0 1 0-3.6 0M530.0 467.3a1.8 1.8 0 1 0 3.6 0a1.8 1.8 0 1 0-3.6 0M530.1 464.1a1.8 1.8 0 1 0 3.6 0a1.8 1.8 0 1 0-3.6 0M530.2 461.5a1.8 1.8 0 1 0 3.6 0a1.8 1.8 0 1 0-3.6 0M530.2 464.1a1.8 1.8 0 1 0 3.6 0a1.8 1.8 0 1 0-3.6 0M530.3 452.8a1.8 1.8 0 1 0 3.6 0a1.8 1.8 0 1 0-3.6 0M530.3 455.7a1.8 1.8 0 1 0 3.6 0a1.8 1.8 0 1 0-3.6 0M530.4 459.3a1.8 1.8 0 1 0 3.6 0a1.8 1.8 0 1 0-3.6 0M530.5 459.3a1.8 1.8 0 1 0 3.6 0a1.8 1.8 0 1 0-3.6 0M530.5 461.5a1.8 1.8 0 1 0 3.6 0a1.8 1.8 0 1 0-3.6 0M530.6 439.4a1.8 1.8 0 1 0 3.6 0a1.8 1.8 0 1 0-3.6 0M530.6 464.1a1.8 1.8 0 1 0 3.6 0a1.8 1.8 0 1 0-3.6 0M530.6 467.3a1.8 1.8 0 1 0 3.6 0a1.8 1.8 0 1 0-3.6 0M530.8 455.7a1.8 1.8 0 1 0 3.6 0a1.8 1.8 0 1 0-3.6 0M530.9 455.7a1.8 1.8 0 1 0 3.6 0a1.8 1.8 0 1 0-3.6 0M531.2 467.3a1.8 1.8 0 1 0 3.6 0a1.8 1.8 0 1 0-3.6 0M531.3 443.6a1.8 1.8 0 1 0 3.6 0a1.8 1.8 0 1 0-3.6 0M531.3 461.5a1.8 1.8 0 1 0 3.6 0a1.8 1.8 0 1 0-3.6 0M531.5 459.3a1.8 1.8 0 1 0 3.6 0a1.8 1.8 0 1 0-3.6 0M531.5 464.1a1.8 1.8 0 1 0 3.6 0a1.8 1.8 0 1 0-3.6 0M531.6 459.3a1.8 1.8 0 1 0 3.6 0a1.8 1.8 0 1 0-3.6 0M531.6 467.3a1.8 1.8 0 1 0 3.6 0a1.8 1.8 0 1 0-3.6 0M531.7 455.7a1.8 1.8 0 1 0 3.6 0a1.8 1.8 0 1 0-3.6 0M531.7 457.4a1.8 1.8 0 1 0 3.6 0a1.8 1.8 0 1 0-3.6 0M531.7 459.3a1.8 1.8 0 1 0 3.6 0a1.8 1.8 0 1 0-3.6 0M531.7 461.5a1.8 1.8 0 1 0 3.6 0a1.8 1.8 0 1 0-3.6 0M531.8 464.1a1.8 1.8 0 1 0 3.6 0a1.8 1.8 0 1 0-3.6 0M531.8 467.3a1.8 1.8 0 1 0 3.6 0a1.8 1.8 0 1 0-3.6 0M532.1 467.3a1.8 1.8 0 1 0 3.6 0a1.8 1.8 0 1 0-3.6 0M532.2 443.6a1.8 1.8 0 1 0 3.6 0a1.8 1.8 0 1 0-3.6 0M532.2 467.3a1.8 1.8 0 1 0 3.6 0a1.8 1.8 0 1 0-3.6 0M532.3 464.1a1.8 1.8 0 1 0 3.6 0a1.8 1.8 0 1 0-3.6 0M532.4 457.4a1.8 1.8 0 1 0 3.6 0a1.8 1.8 0 1 0-3.6 0M532.4 467.3a1.8 1.8 0 1 0 3.6 0a1.8 1.8 0 1 0-3.6 0M532.5 457.4a1.8 1.8 0 1 0 3.6 0a1.8 1.8 0 1 0-3.6 0M532.5 459.3a1.8 1.8 0 1 0 3.6 0a1.8 1.8 0 1 0-3.6 0M532.5 467.3a1.8 1.8 0 1 0 3.6 0a1.8 1.8 0 1 0-3.6 0M532.6 442.9a1.8 1.8 0 1 0 3.6 0a1.8 1.8 0 1 0-3.6 0M532.6 454.2a1.8 1.8 0 1 0 3.6 0a1.8 1.8 0 1 0-3.6 0M532.6 457.4a1.8 1.8 0 1 0 3.6 0a1.8 1.8 0 1 0-3.6 0M532.6 461.5a1.8 1.8 0 1 0 3.6 0a1.8 1.8 0 1 0-3.6 0M532.7 457.4a1.8 1.8 0 1 0 3.6 0a1.8 1.8 0 1 0-3.6 0M532.8 467.3a1.8 1.8 0 1 0 3.6 0a1.8 1.8 0 1 0-3.6 0M532.9 446.6a1.8 1.8 0 1 0 3.6 0a1.8 1.8 0 1 0-3.6 0M532.9 447.5a1.8 1.8 0 1 0 3.6 0a1.8 1.8 0 1 0-3.6 0M532.9 459.3a1.8 1.8 0 1 0 3.6 0a1.8 1.8 0 1 0-3.6 0M533.0 422.2a1.8 1.8 0 1 0 3.6 0a1.8 1.8 0 1 0-3.6 0M533.0 452.8a1.8 1.8 0 1 0 3.6 0a1.8 1.8 0 1 0-3.6 0M533.0 467.3a1.8 1.8 0 1 0 3.6 0a1.8 1.8 0 1 0-3.6 0M533.1 457.4a1.8 1.8 0 1 0 3.6 0a1.8 1.8 0 1 0-3.6 0M533.1 467.3a1.8 1.8 0 1 0 3.6 0a1.8 1.8 0 1 0-3.6 0M533.2 459.3a1.8 1.8 0 1 0 3.6 0a1.8 1.8 0 1 0-3.6 0M533.2 461.5a1.8 1.8 0 1 0 3.6 0a1.8 1.8 0 1 0-3.6 0M533.2 464.1a1.8 1.8 0 1 0 3.6 0a1.8 1.8 0 1 0-3.6 0M533.4 451.6a1.8 1.8 0 1 0 3.6 0a1.8 1.8 0 1 0-3.6 0M533.4 467.3a1.8 1.8 0 1 0 3.6 0a1.8 1.8 0 1 0-3.6 0M533.5 461.5a1.8 1.8 0 1 0 3.6 0a1.8 1.8 0 1 0-3.6 0M533.6 464.1a1.8 1.8 0 1 0 3.6 0a1.8 1.8 0 1 0-3.6 0M533.6 467.3a1.8 1.8 0 1 0 3.6 0a1.8 1.8 0 1 0-3.6 0M533.7 395.7a1.8 1.8 0 1 0 3.6 0a1.8 1.8 0 1 0-3.6 0M533.7 464.1a1.8 1.8 0 1 0 3.6 0a1.8 1.8 0 1 0-3.6 0M533.9 464.1a1.8 1.8 0 1 0 3.6 0a1.8 1.8 0 1 0-3.6 0M534.0 461.5a1.8 1.8 0 1 0 3.6 0a1.8 1.8 0 1 0-3.6 0M534.0 467.3a1.8 1.8 0 1 0 3.6 0a1.8 1.8 0 1 0-3.6 0M534.1 464.1a1.8 1.8 0 1 0 3.6 0a1.8 1.8 0 1 0-3.6 0M534.2 467.3a1.8 1.8 0 1 0 3.6 0a1.8 1.8 0 1 0-3.6 0M534.3 449.4a1.8 1.8 0 1 0 3.6 0a1.8 1.8 0 1 0-3.6 0M534.3 467.3a1.8 1.8 0 1 0 3.6 0a1.8 1.8 0 1 0-3.6 0M534.4 459.3a1.8 1.8 0 1 0 3.6 0a1.8 1.8 0 1 0-3.6 0M534.4 467.3a1.8 1.8 0 1 0 3.6 0a1.8 1.8 0 1 0-3.6 0M534.5 467.3a1.8 1.8 0 1 0 3.6 0a1.8 1.8 0 1 0-3.6 0M534.7 454.2a1.8 1.8 0 1 0 3.6 0a1.8 1.8 0 1 0-3.6 0M534.7 464.1a1.8 1.8 0 1 0 3.6 0a1.8 1.8 0 1 0-3.6 0M534.8 425.2a1.8 1.8 0 1 0 3.6 0a1.8 1.8 0 1 0-3.6 0M534.8 457.4a1.8 1.8 0 1 0 3.6 0a1.8 1.8 0 1 0-3.6 0M534.8 467.3a1.8 1.8 0 1 0 3.6 0a1.8 1.8 0 1 0-3.6 0M535.0 450.4a1.8 1.8 0 1 0 3.6 0a1.8 1.8 0 1 0-3.6 0M535.0 464.1a1.8 1.8 0 1 0 3.6 0a1.8 1.8 0 1 0-3.6 0M535.1 467.3a1.8 1.8 0 1 0 3.6 0a1.8 1.8 0 1 0-3.6 0M535.2 464.1a1.8 1.8 0 1 0 3.6 0a1.8 1.8 0 1 0-3.6 0M535.3 464.1a1.8 1.8 0 1 0 3.6 0a1.8 1.8 0 1 0-3.6 0M535.4 467.3a1.8 1.8 0 1 0 3.6 0a1.8 1.8 0 1 0-3.6 0M535.6 464.1a1.8 1.8 0 1 0 3.6 0a1.8 1.8 0 1 0-3.6 0M535.6 467.3a1.8 1.8 0 1 0 3.6 0a1.8 1.8 0 1 0-3.6 0M535.9 459.3a1.8 1.8 0 1 0 3.6 0a1.8 1.8 0 1 0-3.6 0M535.9 464.1a1.8 1.8 0 1 0 3.6 0a1.8 1.8 0 1 0-3.6 0M535.9 467.3a1.8 1.8 0 1 0 3.6 0a1.8 1.8 0 1 0-3.6 0M536.0 467.3a1.8 1.8 0 1 0 3.6 0a1.8 1.8 0 1 0-3.6 0M536.1 467.3a1.8 1.8 0 1 0 3.6 0a1.8 1.8 0 1 0-3.6 0M536.2 459.3a1.8 1.8 0 1 0 3.6 0a1.8 1.8 0 1 0-3.6 0M536.3 427.8a1.8 1.8 0 1 0 3.6 0a1.8 1.8 0 1 0-3.6 0M536.4 459.3a1.8 1.8 0 1 0 3.6 0a1.8 1.8 0 1 0-3.6 0M536.4 464.1a1.8 1.8 0 1 0 3.6 0a1.8 1.8 0 1 0-3.6 0M536.5 464.1a1.8 1.8 0 1 0 3.6 0a1.8 1.8 0 1 0-3.6 0M536.7 450.4a1.8 1.8 0 1 0 3.6 0a1.8 1.8 0 1 0-3.6 0M536.7 454.2a1.8 1.8 0 1 0 3.6 0a1.8 1.8 0 1 0-3.6 0M536.8 446.6a1.8 1.8 0 1 0 3.6 0a1.8 1.8 0 1 0-3.6 0M536.8 457.4a1.8 1.8 0 1 0 3.6 0a1.8 1.8 0 1 0-3.6 0M536.8 467.3a1.8 1.8 0 1 0 3.6 0a1.8 1.8 0 1 0-3.6 0M536.9 467.3a1.8 1.8 0 1 0 3.6 0a1.8 1.8 0 1 0-3.6 0M537.0 467.3a1.8 1.8 0 1 0 3.6 0a1.8 1.8 0 1 0-3.6 0M537.1 461.5a1.8 1.8 0 1 0 3.6 0a1.8 1.8 0 1 0-3.6 0M537.1 464.1a1.8 1.8 0 1 0 3.6 0a1.8 1.8 0 1 0-3.6 0M537.2 461.5a1.8 1.8 0 1 0 3.6 0a1.8 1.8 0 1 0-3.6 0M537.2 467.3a1.8 1.8 0 1 0 3.6 0a1.8 1.8 0 1 0-3.6 0M537.3 461.5a1.8 1.8 0 1 0 3.6 0a1.8 1.8 0 1 0-3.6 0M537.3 467.3a1.8 1.8 0 1 0 3.6 0a1.8 1.8 0 1 0-3.6 0M537.4 461.5a1.8 1.8 0 1 0 3.6 0a1.8 1.8 0 1 0-3.6 0M537.4 467.3a1.8 1.8 0 1 0 3.6 0a1.8 1.8 0 1 0-3.6 0M537.5 459.3a1.8 1.8 0 1 0 3.6 0a1.8 1.8 0 1 0-3.6 0M537.6 446.6a1.8 1.8 0 1 0 3.6 0a1.8 1.8 0 1 0-3.6 0M537.6 461.5a1.8 1.8 0 1 0 3.6 0a1.8 1.8 0 1 0-3.6 0M537.6 467.3a1.8 1.8 0 1 0 3.6 0a1.8 1.8 0 1 0-3.6 0M537.7 450.4a1.8 1.8 0 1 0 3.6 0a1.8 1.8 0 1 0-3.6 0M537.7 461.5a1.8 1.8 0 1 0 3.6 0a1.8 1.8 0 1 0-3.6 0M537.7 464.1a1.8 1.8 0 1 0 3.6 0a1.8 1.8 0 1 0-3.6 0M537.8 451.6a1.8 1.8 0 1 0 3.6 0a1.8 1.8 0 1 0-3.6 0M537.8 457.4a1.8 1.8 0 1 0 3.6 0a1.8 1.8 0 1 0-3.6 0M537.9 459.3a1.8 1.8 0 1 0 3.6 0a1.8 1.8 0 1 0-3.6 0M538.0 467.3a1.8 1.8 0 1 0 3.6 0a1.8 1.8 0 1 0-3.6 0M538.1 449.4a1.8 1.8 0 1 0 3.6 0a1.8 1.8 0 1 0-3.6 0M538.1 467.3a1.8 1.8 0 1 0 3.6 0a1.8 1.8 0 1 0-3.6 0M538.2 461.5a1.8 1.8 0 1 0 3.6 0a1.8 1.8 0 1 0-3.6 0M538.3 467.3a1.8 1.8 0 1 0 3.6 0a1.8 1.8 0 1 0-3.6 0M538.4 461.5a1.8 1.8 0 1 0 3.6 0a1.8 1.8 0 1 0-3.6 0M538.4 464.1a1.8 1.8 0 1 0 3.6 0a1.8 1.8 0 1 0-3.6 0M538.5 441.6a1.8 1.8 0 1 0 3.6 0a1.8 1.8 0 1 0-3.6 0M538.5 467.3a1.8 1.8 0 1 0 3.6 0a1.8 1.8 0 1 0-3.6 0M538.6 451.6a1.8 1.8 0 1 0 3.6 0a1.8 1.8 0 1 0-3.6 0M538.6 467.3a1.8 1.8 0 1 0 3.6 0a1.8 1.8 0 1 0-3.6 0M538.7 467.3a1.8 1.8 0 1 0 3.6 0a1.8 1.8 0 1 0-3.6 0M538.8 461.5a1.8 1.8 0 1 0 3.6 0a1.8 1.8 0 1 0-3.6 0M538.9 436.7a1.8 1.8 0 1 0 3.6 0a1.8 1.8 0 1 0-3.6 0M538.9 459.3a1.8 1.8 0 1 0 3.6 0a1.8 1.8 0 1 0-3.6 0M538.9 464.1a1.8 1.8 0 1 0 3.6 0a1.8 1.8 0 1 0-3.6 0M538.9 467.3a1.8 1.8 0 1 0 3.6 0a1.8 1.8 0 1 0-3.6 0M539.1 450.4a1.8 1.8 0 1 0 3.6 0a1.8 1.8 0 1 0-3.6 0M539.1 452.8a1.8 1.8 0 1 0 3.6 0a1.8 1.8 0 1 0-3.6 0M539.1 461.5a1.8 1.8 0 1 0 3.6 0a1.8 1.8 0 1 0-3.6 0M539.1 467.3a1.8 1.8 0 1 0 3.6 0a1.8 1.8 0 1 0-3.6 0M539.2 451.6a1.8 1.8 0 1 0 3.6 0a1.8 1.8 0 1 0-3.6 0M539.2 455.7a1.8 1.8 0 1 0 3.6 0a1.8 1.8 0 1 0-3.6 0M539.3 467.3a1.8 1.8 0 1 0 3.6 0a1.8 1.8 0 1 0-3.6 0M539.4 457.4a1.8 1.8 0 1 0 3.6 0a1.8 1.8 0 1 0-3.6 0M539.4 461.5a1.8 1.8 0 1 0 3.6 0a1.8 1.8 0 1 0-3.6 0M539.5 464.1a1.8 1.8 0 1 0 3.6 0a1.8 1.8 0 1 0-3.6 0M539.5 467.3a1.8 1.8 0 1 0 3.6 0a1.8 1.8 0 1 0-3.6 0M539.7 459.3a1.8 1.8 0 1 0 3.6 0a1.8 1.8 0 1 0-3.6 0M539.7 467.3a1.8 1.8 0 1 0 3.6 0a1.8 1.8 0 1 0-3.6 0M539.9 445.0a1.8 1.8 0 1 0 3.6 0a1.8 1.8 0 1 0-3.6 0M540.2 459.3a1.8 1.8 0 1 0 3.6 0a1.8 1.8 0 1 0-3.6 0M540.2 461.5a1.8 1.8 0 1 0 3.6 0a1.8 1.8 0 1 0-3.6 0M540.2 464.1a1.8 1.8 0 1 0 3.6 0a1.8 1.8 0 1 0-3.6 0M540.3 467.3a1.8 1.8 0 1 0 3.6 0a1.8 1.8 0 1 0-3.6 0M540.5 464.1a1.8 1.8 0 1 0 3.6 0a1.8 1.8 0 1 0-3.6 0M540.5 467.3a1.8 1.8 0 1 0 3.6 0a1.8 1.8 0 1 0-3.6 0M540.6 464.1a1.8 1.8 0 1 0 3.6 0a1.8 1.8 0 1 0-3.6 0M540.6 467.3a1.8 1.8 0 1 0 3.6 0a1.8 1.8 0 1 0-3.6 0M540.7 459.3a1.8 1.8 0 1 0 3.6 0a1.8 1.8 0 1 0-3.6 0M540.8 450.4a1.8 1.8 0 1 0 3.6 0a1.8 1.8 0 1 0-3.6 0M540.8 464.1a1.8 1.8 0 1 0 3.6 0a1.8 1.8 0 1 0-3.6 0M540.9 464.1a1.8 1.8 0 1 0 3.6 0a1.8 1.8 0 1 0-3.6 0M540.9 467.3a1.8 1.8 0 1 0 3.6 0a1.8 1.8 0 1 0-3.6 0M541.2 467.3a1.8 1.8 0 1 0 3.6 0a1.8 1.8 0 1 0-3.6 0M541.3 437.5a1.8 1.8 0 1 0 3.6 0a1.8 1.8 0 1 0-3.6 0M541.3 445.8a1.8 1.8 0 1 0 3.6 0a1.8 1.8 0 1 0-3.6 0M541.3 449.4a1.8 1.8 0 1 0 3.6 0a1.8 1.8 0 1 0-3.6 0M541.4 457.4a1.8 1.8 0 1 0 3.6 0a1.8 1.8 0 1 0-3.6 0M541.4 461.5a1.8 1.8 0 1 0 3.6 0a1.8 1.8 0 1 0-3.6 0M541.4 467.3a1.8 1.8 0 1 0 3.6 0a1.8 1.8 0 1 0-3.6 0M541.5 461.5a1.8 1.8 0 1 0 3.6 0a1.8 1.8 0 1 0-3.6 0M541.7 447.5a1.8 1.8 0 1 0 3.6 0a1.8 1.8 0 1 0-3.6 0M541.7 448.4a1.8 1.8 0 1 0 3.6 0a1.8 1.8 0 1 0-3.6 0M541.7 457.4a1.8 1.8 0 1 0 3.6 0a1.8 1.8 0 1 0-3.6 0M541.8 461.5a1.8 1.8 0 1 0 3.6 0a1.8 1.8 0 1 0-3.6 0M541.8 467.3a1.8 1.8 0 1 0 3.6 0a1.8 1.8 0 1 0-3.6 0M541.9 440.5a1.8 1.8 0 1 0 3.6 0a1.8 1.8 0 1 0-3.6 0M541.9 464.1a1.8 1.8 0 1 0 3.6 0a1.8 1.8 0 1 0-3.6 0M542.0 461.5a1.8 1.8 0 1 0 3.6 0a1.8 1.8 0 1 0-3.6 0M542.1 467.3a1.8 1.8 0 1 0 3.6 0a1.8 1.8 0 1 0-3.6 0M542.2 467.3a1.8 1.8 0 1 0 3.6 0a1.8 1.8 0 1 0-3.6 0M542.3 434.9a1.8 1.8 0 1 0 3.6 0a1.8 1.8 0 1 0-3.6 0M542.3 446.6a1.8 1.8 0 1 0 3.6 0a1.8 1.8 0 1 0-3.6 0M542.4 461.5a1.8 1.8 0 1 0 3.6 0a1.8 1.8 0 1 0-3.6 0M542.5 452.8a1.8 1.8 0 1 0 3.6 0a1.8 1.8 0 1 0-3.6 0M542.5 464.1a1.8 1.8 0 1 0 3.6 0a1.8 1.8 0 1 0-3.6 0M542.6 455.7a1.8 1.8 0 1 0 3.6 0a1.8 1.8 0 1 0-3.6 0M542.6 467.3a1.8 1.8 0 1 0 3.6 0a1.8 1.8 0 1 0-3.6 0M542.7 440.5a1.8 1.8 0 1 0 3.6 0a1.8 1.8 0 1 0-3.6 0M542.8 445.8a1.8 1.8 0 1 0 3.6 0a1.8 1.8 0 1 0-3.6 0M542.8 450.4a1.8 1.8 0 1 0 3.6 0a1.8 1.8 0 1 0-3.6 0M542.8 455.7a1.8 1.8 0 1 0 3.6 0a1.8 1.8 0 1 0-3.6 0M542.9 457.4a1.8 1.8 0 1 0 3.6 0a1.8 1.8 0 1 0-3.6 0M542.9 464.1a1.8 1.8 0 1 0 3.6 0a1.8 1.8 0 1 0-3.6 0M543.1 467.3a1.8 1.8 0 1 0 3.6 0a1.8 1.8 0 1 0-3.6 0M543.2 467.3a1.8 1.8 0 1 0 3.6 0a1.8 1.8 0 1 0-3.6 0M543.3 449.4a1.8 1.8 0 1 0 3.6 0a1.8 1.8 0 1 0-3.6 0M543.3 464.1a1.8 1.8 0 1 0 3.6 0a1.8 1.8 0 1 0-3.6 0M543.4 410.2a1.8 1.8 0 1 0 3.6 0a1.8 1.8 0 1 0-3.6 0M543.4 459.3a1.8 1.8 0 1 0 3.6 0a1.8 1.8 0 1 0-3.6 0M543.4 464.1a1.8 1.8 0 1 0 3.6 0a1.8 1.8 0 1 0-3.6 0M543.5 461.5a1.8 1.8 0 1 0 3.6 0a1.8 1.8 0 1 0-3.6 0M543.5 464.1a1.8 1.8 0 1 0 3.6 0a1.8 1.8 0 1 0-3.6 0M543.5 467.3a1.8 1.8 0 1 0 3.6 0a1.8 1.8 0 1 0-3.6 0M543.6 451.6a1.8 1.8 0 1 0 3.6 0a1.8 1.8 0 1 0-3.6 0M543.6 457.4a1.8 1.8 0 1 0 3.6 0a1.8 1.8 0 1 0-3.6 0M543.6 467.3a1.8 1.8 0 1 0 3.6 0a1.8 1.8 0 1 0-3.6 0M543.7 442.3a1.8 1.8 0 1 0 3.6 0a1.8 1.8 0 1 0-3.6 0M543.7 464.1a1.8 1.8 0 1 0 3.6 0a1.8 1.8 0 1 0-3.6 0M543.7 467.3a1.8 1.8 0 1 0 3.6 0a1.8 1.8 0 1 0-3.6 0M543.8 464.1a1.8 1.8 0 1 0 3.6 0a1.8 1.8 0 1 0-3.6 0M543.9 461.5a1.8 1.8 0 1 0 3.6 0a1.8 1.8 0 1 0-3.6 0M543.9 464.1a1.8 1.8 0 1 0 3.6 0a1.8 1.8 0 1 0-3.6 0M544.0 467.3a1.8 1.8 0 1 0 3.6 0a1.8 1.8 0 1 0-3.6 0M544.2 425.2a1.8 1.8 0 1 0 3.6 0a1.8 1.8 0 1 0-3.6 0M544.2 467.3a1.8 1.8 0 1 0 3.6 0a1.8 1.8 0 1 0-3.6 0M544.3 455.7a1.8 1.8 0 1 0 3.6 0a1.8 1.8 0 1 0-3.6 0M544.4 457.4a1.8 1.8 0 1 0 3.6 0a1.8 1.8 0 1 0-3.6 0M544.5 461.5a1.8 1.8 0 1 0 3.6 0a1.8 1.8 0 1 0-3.6 0M544.5 464.1a1.8 1.8 0 1 0 3.6 0a1.8 1.8 0 1 0-3.6 0M544.5 467.3a1.8 1.8 0 1 0 3.6 0a1.8 1.8 0 1 0-3.6 0M544.6 461.5a1.8 1.8 0 1 0 3.6 0a1.8 1.8 0 1 0-3.6 0M544.6 464.1a1.8 1.8 0 1 0 3.6 0a1.8 1.8 0 1 0-3.6 0M544.7 444.3a1.8 1.8 0 1 0 3.6 0a1.8 1.8 0 1 0-3.6 0M544.8 459.3a1.8 1.8 0 1 0 3.6 0a1.8 1.8 0 1 0-3.6 0M544.8 467.3a1.8 1.8 0 1 0 3.6 0a1.8 1.8 0 1 0-3.6 0M544.9 461.5a1.8 1.8 0 1 0 3.6 0a1.8 1.8 0 1 0-3.6 0M545.0 459.3a1.8 1.8 0 1 0 3.6 0a1.8 1.8 0 1 0-3.6 0M545.0 467.3a1.8 1.8 0 1 0 3.6 0a1.8 1.8 0 1 0-3.6 0M545.1 457.4a1.8 1.8 0 1 0 3.6 0a1.8 1.8 0 1 0-3.6 0M545.3 459.3a1.8 1.8 0 1 0 3.6 0a1.8 1.8 0 1 0-3.6 0M545.3 464.1a1.8 1.8 0 1 0 3.6 0a1.8 1.8 0 1 0-3.6 0M545.4 467.3a1.8 1.8 0 1 0 3.6 0a1.8 1.8 0 1 0-3.6 0M545.5 455.7a1.8 1.8 0 1 0 3.6 0a1.8 1.8 0 1 0-3.6 0M545.5 467.3a1.8 1.8 0 1 0 3.6 0a1.8 1.8 0 1 0-3.6 0M545.7 451.6a1.8 1.8 0 1 0 3.6 0a1.8 1.8 0 1 0-3.6 0M545.7 464.1a1.8 1.8 0 1 0 3.6 0a1.8 1.8 0 1 0-3.6 0M545.8 464.1a1.8 1.8 0 1 0 3.6 0a1.8 1.8 0 1 0-3.6 0M545.9 447.5a1.8 1.8 0 1 0 3.6 0a1.8 1.8 0 1 0-3.6 0M545.9 450.4a1.8 1.8 0 1 0 3.6 0a1.8 1.8 0 1 0-3.6 0M545.9 457.4a1.8 1.8 0 1 0 3.6 0a1.8 1.8 0 1 0-3.6 0M545.9 467.3a1.8 1.8 0 1 0 3.6 0a1.8 1.8 0 1 0-3.6 0M546.0 447.5a1.8 1.8 0 1 0 3.6 0a1.8 1.8 0 1 0-3.6 0M546.0 452.8a1.8 1.8 0 1 0 3.6 0a1.8 1.8 0 1 0-3.6 0M546.0 467.3a1.8 1.8 0 1 0 3.6 0a1.8 1.8 0 1 0-3.6 0M546.2 461.5a1.8 1.8 0 1 0 3.6 0a1.8 1.8 0 1 0-3.6 0M546.2 464.1a1.8 1.8 0 1 0 3.6 0a1.8 1.8 0 1 0-3.6 0M546.3 444.3a1.8 1.8 0 1 0 3.6 0a1.8 1.8 0 1 0-3.6 0M546.3 464.1a1.8 1.8 0 1 0 3.6 0a1.8 1.8 0 1 0-3.6 0M546.4 418.8a1.8 1.8 0 1 0 3.6 0a1.8 1.8 0 1 0-3.6 0M546.7 464.1a1.8 1.8 0 1 0 3.6 0a1.8 1.8 0 1 0-3.6 0M546.8 461.5a1.8 1.8 0 1 0 3.6 0a1.8 1.8 0 1 0-3.6 0M546.8 467.3a1.8 1.8 0 1 0 3.6 0a1.8 1.8 0 1 0-3.6 0M547.1 467.3a1.8 1.8 0 1 0 3.6 0a1.8 1.8 0 1 0-3.6 0M547.2 436.0a1.8 1.8 0 1 0 3.6 0a1.8 1.8 0 1 0-3.6 0M547.2 448.4a1.8 1.8 0 1 0 3.6 0a1.8 1.8 0 1 0-3.6 0M547.2 457.4a1.8 1.8 0 1 0 3.6 0a1.8 1.8 0 1 0-3.6 0M547.2 461.5a1.8 1.8 0 1 0 3.6 0a1.8 1.8 0 1 0-3.6 0M547.3 449.4a1.8 1.8 0 1 0 3.6 0a1.8 1.8 0 1 0-3.6 0M547.3 467.3a1.8 1.8 0 1 0 3.6 0a1.8 1.8 0 1 0-3.6 0M547.4 464.1a1.8 1.8 0 1 0 3.6 0a1.8 1.8 0 1 0-3.6 0M547.5 436.7a1.8 1.8 0 1 0 3.6 0a1.8 1.8 0 1 0-3.6 0M547.5 446.6a1.8 1.8 0 1 0 3.6 0a1.8 1.8 0 1 0-3.6 0M547.5 455.7a1.8 1.8 0 1 0 3.6 0a1.8 1.8 0 1 0-3.6 0M547.6 459.3a1.8 1.8 0 1 0 3.6 0a1.8 1.8 0 1 0-3.6 0M547.6 461.5a1.8 1.8 0 1 0 3.6 0a1.8 1.8 0 1 0-3.6 0M547.7 455.7a1.8 1.8 0 1 0 3.6 0a1.8 1.8 0 1 0-3.6 0M548.0 447.5a1.8 1.8 0 1 0 3.6 0a1.8 1.8 0 1 0-3.6 0M548.0 461.5a1.8 1.8 0 1 0 3.6 0a1.8 1.8 0 1 0-3.6 0M548.1 459.3a1.8 1.8 0 1 0 3.6 0a1.8 1.8 0 1 0-3.6 0M548.1 461.5a1.8 1.8 0 1 0 3.6 0a1.8 1.8 0 1 0-3.6 0M548.1 467.3a1.8 1.8 0 1 0 3.6 0a1.8 1.8 0 1 0-3.6 0M548.2 464.1a1.8 1.8 0 1 0 3.6 0a1.8 1.8 0 1 0-3.6 0M548.2 467.3a1.8 1.8 0 1 0 3.6 0a1.8 1.8 0 1 0-3.6 0M548.7 413.6a1.8 1.8 0 1 0 3.6 0a1.8 1.8 0 1 0-3.6 0M548.7 467.3a1.8 1.8 0 1 0 3.6 0a1.8 1.8 0 1 0-3.6 0M548.9 454.2a1.8 1.8 0 1 0 3.6 0a1.8 1.8 0 1 0-3.6 0M548.9 467.3a1.8 1.8 0 1 0 3.6 0a1.8 1.8 0 1 0-3.6 0M549.1 457.4a1.8 1.8 0 1 0 3.6 0a1.8 1.8 0 1 0-3.6 0M549.1 459.3a1.8 1.8 0 1 0 3.6 0a1.8 1.8 0 1 0-3.6 0M549.1 461.5a1.8 1.8 0 1 0 3.6 0a1.8 1.8 0 1 0-3.6 0M549.2 461.5a1.8 1.8 0 1 0 3.6 0a1.8 1.8 0 1 0-3.6 0M549.2 464.1a1.8 1.8 0 1 0 3.6 0a1.8 1.8 0 1 0-3.6 0M549.3 444.3a1.8 1.8 0 1 0 3.6 0a1.8 1.8 0 1 0-3.6 0M549.3 445.0a1.8 1.8 0 1 0 3.6 0a1.8 1.8 0 1 0-3.6 0M549.3 461.5a1.8 1.8 0 1 0 3.6 0a1.8 1.8 0 1 0-3.6 0M549.4 467.3a1.8 1.8 0 1 0 3.6 0a1.8 1.8 0 1 0-3.6 0M549.5 464.1a1.8 1.8 0 1 0 3.6 0a1.8 1.8 0 1 0-3.6 0M549.6 467.3a1.8 1.8 0 1 0 3.6 0a1.8 1.8 0 1 0-3.6 0M549.7 467.3a1.8 1.8 0 1 0 3.6 0a1.8 1.8 0 1 0-3.6 0M549.8 449.4a1.8 1.8 0 1 0 3.6 0a1.8 1.8 0 1 0-3.6 0M549.8 454.2a1.8 1.8 0 1 0 3.6 0a1.8 1.8 0 1 0-3.6 0M549.8 461.5a1.8 1.8 0 1 0 3.6 0a1.8 1.8 0 1 0-3.6 0M549.9 459.3a1.8 1.8 0 1 0 3.6 0a1.8 1.8 0 1 0-3.6 0M549.9 461.5a1.8 1.8 0 1 0 3.6 0a1.8 1.8 0 1 0-3.6 0M549.9 467.3a1.8 1.8 0 1 0 3.6 0a1.8 1.8 0 1 0-3.6 0M550.0 467.3a1.8 1.8 0 1 0 3.6 0a1.8 1.8 0 1 0-3.6 0M550.1 467.3a1.8 1.8 0 1 0 3.6 0a1.8 1.8 0 1 0-3.6 0M550.2 455.7a1.8 1.8 0 1 0 3.6 0a1.8 1.8 0 1 0-3.6 0M550.2 464.1a1.8 1.8 0 1 0 3.6 0a1.8 1.8 0 1 0-3.6 0M550.2 467.3a1.8 1.8 0 1 0 3.6 0a1.8 1.8 0 1 0-3.6 0M550.7 454.2a1.8 1.8 0 1 0 3.6 0a1.8 1.8 0 1 0-3.6 0M550.7 455.7a1.8 1.8 0 1 0 3.6 0a1.8 1.8 0 1 0-3.6 0M550.8 467.3a1.8 1.8 0 1 0 3.6 0a1.8 1.8 0 1 0-3.6 0M551.1 467.3a1.8 1.8 0 1 0 3.6 0a1.8 1.8 0 1 0-3.6 0M551.2 457.4a1.8 1.8 0 1 0 3.6 0a1.8 1.8 0 1 0-3.6 0M551.3 457.4a1.8 1.8 0 1 0 3.6 0a1.8 1.8 0 1 0-3.6 0M551.4 467.3a1.8 1.8 0 1 0 3.6 0a1.8 1.8 0 1 0-3.6 0M551.7 467.3a1.8 1.8 0 1 0 3.6 0a1.8 1.8 0 1 0-3.6 0M551.9 467.3a1.8 1.8 0 1 0 3.6 0a1.8 1.8 0 1 0-3.6 0M552.0 464.1a1.8 1.8 0 1 0 3.6 0a1.8 1.8 0 1 0-3.6 0M552.1 461.5a1.8 1.8 0 1 0 3.6 0a1.8 1.8 0 1 0-3.6 0M552.3 461.5a1.8 1.8 0 1 0 3.6 0a1.8 1.8 0 1 0-3.6 0M552.3 467.3a1.8 1.8 0 1 0 3.6 0a1.8 1.8 0 1 0-3.6 0M552.5 457.4a1.8 1.8 0 1 0 3.6 0a1.8 1.8 0 1 0-3.6 0M552.6 467.3a1.8 1.8 0 1 0 3.6 0a1.8 1.8 0 1 0-3.6 0M552.8 459.3a1.8 1.8 0 1 0 3.6 0a1.8 1.8 0 1 0-3.6 0M553.0 467.3a1.8 1.8 0 1 0 3.6 0a1.8 1.8 0 1 0-3.6 0M553.1 467.3a1.8 1.8 0 1 0 3.6 0a1.8 1.8 0 1 0-3.6 0M553.2 461.5a1.8 1.8 0 1 0 3.6 0a1.8 1.8 0 1 0-3.6 0M553.4 455.7a1.8 1.8 0 1 0 3.6 0a1.8 1.8 0 1 0-3.6 0M553.4 467.3a1.8 1.8 0 1 0 3.6 0a1.8 1.8 0 1 0-3.6 0M553.8 445.8a1.8 1.8 0 1 0 3.6 0a1.8 1.8 0 1 0-3.6 0M554.0 467.3a1.8 1.8 0 1 0 3.6 0a1.8 1.8 0 1 0-3.6 0M554.4 467.3a1.8 1.8 0 1 0 3.6 0a1.8 1.8 0 1 0-3.6 0M554.5 459.3a1.8 1.8 0 1 0 3.6 0a1.8 1.8 0 1 0-3.6 0M554.5 467.3a1.8 1.8 0 1 0 3.6 0a1.8 1.8 0 1 0-3.6 0M554.7 467.3a1.8 1.8 0 1 0 3.6 0a1.8 1.8 0 1 0-3.6 0M554.9 464.1a1.8 1.8 0 1 0 3.6 0a1.8 1.8 0 1 0-3.6 0M555.0 459.3a1.8 1.8 0 1 0 3.6 0a1.8 1.8 0 1 0-3.6 0M555.1 461.5a1.8 1.8 0 1 0 3.6 0a1.8 1.8 0 1 0-3.6 0M555.2 467.3a1.8 1.8 0 1 0 3.6 0a1.8 1.8 0 1 0-3.6 0M555.3 447.5a1.8 1.8 0 1 0 3.6 0a1.8 1.8 0 1 0-3.6 0M555.4 459.3a1.8 1.8 0 1 0 3.6 0a1.8 1.8 0 1 0-3.6 0M555.4 467.3a1.8 1.8 0 1 0 3.6 0a1.8 1.8 0 1 0-3.6 0M555.5 467.3a1.8 1.8 0 1 0 3.6 0a1.8 1.8 0 1 0-3.6 0M555.6 454.2a1.8 1.8 0 1 0 3.6 0a1.8 1.8 0 1 0-3.6 0M555.7 439.4a1.8 1.8 0 1 0 3.6 0a1.8 1.8 0 1 0-3.6 0M555.8 454.2a1.8 1.8 0 1 0 3.6 0a1.8 1.8 0 1 0-3.6 0M555.8 464.1a1.8 1.8 0 1 0 3.6 0a1.8 1.8 0 1 0-3.6 0M555.8 467.3a1.8 1.8 0 1 0 3.6 0a1.8 1.8 0 1 0-3.6 0M556.0 461.5a1.8 1.8 0 1 0 3.6 0a1.8 1.8 0 1 0-3.6 0M556.0 467.3a1.8 1.8 0 1 0 3.6 0a1.8 1.8 0 1 0-3.6 0M556.1 455.7a1.8 1.8 0 1 0 3.6 0a1.8 1.8 0 1 0-3.6 0M556.3 461.5a1.8 1.8 0 1 0 3.6 0a1.8 1.8 0 1 0-3.6 0M556.5 467.3a1.8 1.8 0 1 0 3.6 0a1.8 1.8 0 1 0-3.6 0M556.7 464.1a1.8 1.8 0 1 0 3.6 0a1.8 1.8 0 1 0-3.6 0M556.7 467.3a1.8 1.8 0 1 0 3.6 0a1.8 1.8 0 1 0-3.6 0M556.8 436.7a1.8 1.8 0 1 0 3.6 0a1.8 1.8 0 1 0-3.6 0M556.9 454.2a1.8 1.8 0 1 0 3.6 0a1.8 1.8 0 1 0-3.6 0M557.0 461.5a1.8 1.8 0 1 0 3.6 0a1.8 1.8 0 1 0-3.6 0M557.0 467.3a1.8 1.8 0 1 0 3.6 0a1.8 1.8 0 1 0-3.6 0M557.2 457.4a1.8 1.8 0 1 0 3.6 0a1.8 1.8 0 1 0-3.6 0M557.3 467.3a1.8 1.8 0 1 0 3.6 0a1.8 1.8 0 1 0-3.6 0M557.6 464.1a1.8 1.8 0 1 0 3.6 0a1.8 1.8 0 1 0-3.6 0M557.7 464.1a1.8 1.8 0 1 0 3.6 0a1.8 1.8 0 1 0-3.6 0M557.8 461.5a1.8 1.8 0 1 0 3.6 0a1.8 1.8 0 1 0-3.6 0M558.0 451.6a1.8 1.8 0 1 0 3.6 0a1.8 1.8 0 1 0-3.6 0M558.1 461.5a1.8 1.8 0 1 0 3.6 0a1.8 1.8 0 1 0-3.6 0M558.1 467.3a1.8 1.8 0 1 0 3.6 0a1.8 1.8 0 1 0-3.6 0M558.4 464.1a1.8 1.8 0 1 0 3.6 0a1.8 1.8 0 1 0-3.6 0M558.6 464.1a1.8 1.8 0 1 0 3.6 0a1.8 1.8 0 1 0-3.6 0M558.6 467.3a1.8 1.8 0 1 0 3.6 0a1.8 1.8 0 1 0-3.6 0M558.7 437.9a1.8 1.8 0 1 0 3.6 0a1.8 1.8 0 1 0-3.6 0M558.7 467.3a1.8 1.8 0 1 0 3.6 0a1.8 1.8 0 1 0-3.6 0M558.8 464.1a1.8 1.8 0 1 0 3.6 0a1.8 1.8 0 1 0-3.6 0M559.0 455.7a1.8 1.8 0 1 0 3.6 0a1.8 1.8 0 1 0-3.6 0M559.0 467.3a1.8 1.8 0 1 0 3.6 0a1.8 1.8 0 1 0-3.6 0M559.2 464.1a1.8 1.8 0 1 0 3.6 0a1.8 1.8 0 1 0-3.6 0M559.4 464.1a1.8 1.8 0 1 0 3.6 0a1.8 1.8 0 1 0-3.6 0M559.4 467.3a1.8 1.8 0 1 0 3.6 0a1.8 1.8 0 1 0-3.6 0M559.5 427.8a1.8 1.8 0 1 0 3.6 0a1.8 1.8 0 1 0-3.6 0M559.6 464.1a1.8 1.8 0 1 0 3.6 0a1.8 1.8 0 1 0-3.6 0M559.6 467.3a1.8 1.8 0 1 0 3.6 0a1.8 1.8 0 1 0-3.6 0M559.7 464.1a1.8 1.8 0 1 0 3.6 0a1.8 1.8 0 1 0-3.6 0M559.8 445.8a1.8 1.8 0 1 0 3.6 0a1.8 1.8 0 1 0-3.6 0M559.8 467.3a1.8 1.8 0 1 0 3.6 0a1.8 1.8 0 1 0-3.6 0M560.0 459.3a1.8 1.8 0 1 0 3.6 0a1.8 1.8 0 1 0-3.6 0M560.0 467.3a1.8 1.8 0 1 0 3.6 0a1.8 1.8 0 1 0-3.6 0M560.2 467.3a1.8 1.8 0 1 0 3.6 0a1.8 1.8 0 1 0-3.6 0M560.8 438.0a1.8 1.8 0 1 0 3.6 0a1.8 1.8 0 1 0-3.6 0M561.1 442.3a1.8 1.8 0 1 0 3.6 0a1.8 1.8 0 1 0-3.6 0M561.5 461.5a1.8 1.8 0 1 0 3.6 0a1.8 1.8 0 1 0-3.6 0M561.6 457.4a1.8 1.8 0 1 0 3.6 0a1.8 1.8 0 1 0-3.6 0M561.9 449.4a1.8 1.8 0 1 0 3.6 0a1.8 1.8 0 1 0-3.6 0M561.9 467.3a1.8 1.8 0 1 0 3.6 0a1.8 1.8 0 1 0-3.6 0M562.0 467.3a1.8 1.8 0 1 0 3.6 0a1.8 1.8 0 1 0-3.6 0M562.1 464.1a1.8 1.8 0 1 0 3.6 0a1.8 1.8 0 1 0-3.6 0M562.3 467.3a1.8 1.8 0 1 0 3.6 0a1.8 1.8 0 1 0-3.6 0M562.5 439.8a1.8 1.8 0 1 0 3.6 0a1.8 1.8 0 1 0-3.6 0M562.5 464.1a1.8 1.8 0 1 0 3.6 0a1.8 1.8 0 1 0-3.6 0M562.8 464.1a1.8 1.8 0 1 0 3.6 0a1.8 1.8 0 1 0-3.6 0M563.0 467.3a1.8 1.8 0 1 0 3.6 0a1.8 1.8 0 1 0-3.6 0M563.2 448.4a1.8 1.8 0 1 0 3.6 0a1.8 1.8 0 1 0-3.6 0M563.2 467.3a1.8 1.8 0 1 0 3.6 0a1.8 1.8 0 1 0-3.6 0M563.5 457.4a1.8 1.8 0 1 0 3.6 0a1.8 1.8 0 1 0-3.6 0M563.5 467.3a1.8 1.8 0 1 0 3.6 0a1.8 1.8 0 1 0-3.6 0M563.6 467.3a1.8 1.8 0 1 0 3.6 0a1.8 1.8 0 1 0-3.6 0M564.2 444.3a1.8 1.8 0 1 0 3.6 0a1.8 1.8 0 1 0-3.6 0M564.2 459.3a1.8 1.8 0 1 0 3.6 0a1.8 1.8 0 1 0-3.6 0M564.2 467.3a1.8 1.8 0 1 0 3.6 0a1.8 1.8 0 1 0-3.6 0M564.3 464.1a1.8 1.8 0 1 0 3.6 0a1.8 1.8 0 1 0-3.6 0M564.4 452.8a1.8 1.8 0 1 0 3.6 0a1.8 1.8 0 1 0-3.6 0M564.4 467.3a1.8 1.8 0 1 0 3.6 0a1.8 1.8 0 1 0-3.6 0M564.6 461.5a1.8 1.8 0 1 0 3.6 0a1.8 1.8 0 1 0-3.6 0M564.6 464.1a1.8 1.8 0 1 0 3.6 0a1.8 1.8 0 1 0-3.6 0M564.7 457.4a1.8 1.8 0 1 0 3.6 0a1.8 1.8 0 1 0-3.6 0M564.7 464.1a1.8 1.8 0 1 0 3.6 0a1.8 1.8 0 1 0-3.6 0M564.9 457.4a1.8 1.8 0 1 0 3.6 0a1.8 1.8 0 1 0-3.6 0M565.3 461.5a1.8 1.8 0 1 0 3.6 0a1.8 1.8 0 1 0-3.6 0M565.4 467.3a1.8 1.8 0 1 0 3.6 0a1.8 1.8 0 1 0-3.6 0M565.9 467.3a1.8 1.8 0 1 0 3.6 0a1.8 1.8 0 1 0-3.6 0M566.4 459.3a1.8 1.8 0 1 0 3.6 0a1.8 1.8 0 1 0-3.6 0M566.4 464.1a1.8 1.8 0 1 0 3.6 0a1.8 1.8 0 1 0-3.6 0M566.7 459.3a1.8 1.8 0 1 0 3.6 0a1.8 1.8 0 1 0-3.6 0M566.7 464.1a1.8 1.8 0 1 0 3.6 0a1.8 1.8 0 1 0-3.6 0M567.1 449.4a1.8 1.8 0 1 0 3.6 0a1.8 1.8 0 1 0-3.6 0M567.3 461.5a1.8 1.8 0 1 0 3.6 0a1.8 1.8 0 1 0-3.6 0M567.5 464.1a1.8 1.8 0 1 0 3.6 0a1.8 1.8 0 1 0-3.6 0M567.7 464.1a1.8 1.8 0 1 0 3.6 0a1.8 1.8 0 1 0-3.6 0M568.8 451.6a1.8 1.8 0 1 0 3.6 0a1.8 1.8 0 1 0-3.6 0M568.9 467.3a1.8 1.8 0 1 0 3.6 0a1.8 1.8 0 1 0-3.6 0M569.0 441.1a1.8 1.8 0 1 0 3.6 0a1.8 1.8 0 1 0-3.6 0M569.3 467.3a1.8 1.8 0 1 0 3.6 0a1.8 1.8 0 1 0-3.6 0M569.4 450.4a1.8 1.8 0 1 0 3.6 0a1.8 1.8 0 1 0-3.6 0M569.4 464.1a1.8 1.8 0 1 0 3.6 0a1.8 1.8 0 1 0-3.6 0M569.6 397.9a1.8 1.8 0 1 0 3.6 0a1.8 1.8 0 1 0-3.6 0M569.6 464.1a1.8 1.8 0 1 0 3.6 0a1.8 1.8 0 1 0-3.6 0M569.9 464.1a1.8 1.8 0 1 0 3.6 0a1.8 1.8 0 1 0-3.6 0M570.1 467.3a1.8 1.8 0 1 0 3.6 0a1.8 1.8 0 1 0-3.6 0M570.2 467.3a1.8 1.8 0 1 0 3.6 0a1.8 1.8 0 1 0-3.6 0M570.3 442.4a1.8 1.8 0 1 0 3.6 0a1.8 1.8 0 1 0-3.6 0M570.4 467.3a1.8 1.8 0 1 0 3.6 0a1.8 1.8 0 1 0-3.6 0M571.0 464.1a1.8 1.8 0 1 0 3.6 0a1.8 1.8 0 1 0-3.6 0M571.3 459.3a1.8 1.8 0 1 0 3.6 0a1.8 1.8 0 1 0-3.6 0M571.4 444.3a1.8 1.8 0 1 0 3.6 0a1.8 1.8 0 1 0-3.6 0M571.5 467.3a1.8 1.8 0 1 0 3.6 0a1.8 1.8 0 1 0-3.6 0M571.7 464.1a1.8 1.8 0 1 0 3.6 0a1.8 1.8 0 1 0-3.6 0M571.8 467.3a1.8 1.8 0 1 0 3.6 0a1.8 1.8 0 1 0-3.6 0M572.0 448.4a1.8 1.8 0 1 0 3.6 0a1.8 1.8 0 1 0-3.6 0M572.9 452.8a1.8 1.8 0 1 0 3.6 0a1.8 1.8 0 1 0-3.6 0M573.3 459.3a1.8 1.8 0 1 0 3.6 0a1.8 1.8 0 1 0-3.6 0M573.5 457.4a1.8 1.8 0 1 0 3.6 0a1.8 1.8 0 1 0-3.6 0M573.8 461.5a1.8 1.8 0 1 0 3.6 0a1.8 1.8 0 1 0-3.6 0M574.1 467.3a1.8 1.8 0 1 0 3.6 0a1.8 1.8 0 1 0-3.6 0M574.2 461.5a1.8 1.8 0 1 0 3.6 0a1.8 1.8 0 1 0-3.6 0M574.7 459.3a1.8 1.8 0 1 0 3.6 0a1.8 1.8 0 1 0-3.6 0M575.1 457.4a1.8 1.8 0 1 0 3.6 0a1.8 1.8 0 1 0-3.6 0M575.6 464.1a1.8 1.8 0 1 0 3.6 0a1.8 1.8 0 1 0-3.6 0M576.5 450.4a1.8 1.8 0 1 0 3.6 0a1.8 1.8 0 1 0-3.6 0M576.5 467.3a1.8 1.8 0 1 0 3.6 0a1.8 1.8 0 1 0-3.6 0M576.8 471.4a1.8 1.8 0 1 0 3.6 0a1.8 1.8 0 1 0-3.6 0M577.0 471.4a1.8 1.8 0 1 0 3.6 0a1.8 1.8 0 1 0-3.6 0M577.5 464.1a1.8 1.8 0 1 0 3.6 0a1.8 1.8 0 1 0-3.6 0M577.6 461.5a1.8 1.8 0 1 0 3.6 0a1.8 1.8 0 1 0-3.6 0M578.0 467.3a1.8 1.8 0 1 0 3.6 0a1.8 1.8 0 1 0-3.6 0M578.2 429.7a1.8 1.8 0 1 0 3.6 0a1.8 1.8 0 1 0-3.6 0M578.3 471.4a1.8 1.8 0 1 0 3.6 0a1.8 1.8 0 1 0-3.6 0M578.8 464.1a1.8 1.8 0 1 0 3.6 0a1.8 1.8 0 1 0-3.6 0M578.9 464.1a1.8 1.8 0 1 0 3.6 0a1.8 1.8 0 1 0-3.6 0M579.0 454.2a1.8 1.8 0 1 0 3.6 0a1.8 1.8 0 1 0-3.6 0M579.2 471.4a1.8 1.8 0 1 0 3.6 0a1.8 1.8 0 1 0-3.6 0M579.6 467.3a1.8 1.8 0 1 0 3.6 0a1.8 1.8 0 1 0-3.6 0M579.8 457.4a1.8 1.8 0 1 0 3.6 0a1.8 1.8 0 1 0-3.6 0M580.2 467.3a1.8 1.8 0 1 0 3.6 0a1.8 1.8 0 1 0-3.6 0M580.4 461.5a1.8 1.8 0 1 0 3.6 0a1.8 1.8 0 1 0-3.6 0M580.5 471.4a1.8 1.8 0 1 0 3.6 0a1.8 1.8 0 1 0-3.6 0M580.8 471.4a1.8 1.8 0 1 0 3.6 0a1.8 1.8 0 1 0-3.6 0M581.1 457.4a1.8 1.8 0 1 0 3.6 0a1.8 1.8 0 1 0-3.6 0M581.1 471.4a1.8 1.8 0 1 0 3.6 0a1.8 1.8 0 1 0-3.6 0M581.4 487.2a1.8 1.8 0 1 0 3.6 0a1.8 1.8 0 1 0-3.6 0M582.6 461.5a1.8 1.8 0 1 0 3.6 0a1.8 1.8 0 1 0-3.6 0M583.1 487.2a1.8 1.8 0 1 0 3.6 0a1.8 1.8 0 1 0-3.6 0M583.3 471.4a1.8 1.8 0 1 0 3.6 0a1.8 1.8 0 1 0-3.6 0M583.4 464.1a1.8 1.8 0 1 0 3.6 0a1.8 1.8 0 1 0-3.6 0M583.5 471.4a1.8 1.8 0 1 0 3.6 0a1.8 1.8 0 1 0-3.6 0M584.2 487.2a1.8 1.8 0 1 0 3.6 0a1.8 1.8 0 1 0-3.6 0M584.3 471.4a1.8 1.8 0 1 0 3.6 0a1.8 1.8 0 1 0-3.6 0M584.4 487.2a1.8 1.8 0 1 0 3.6 0a1.8 1.8 0 1 0-3.6 0M585.8 487.2a1.8 1.8 0 1 0 3.6 0a1.8 1.8 0 1 0-3.6 0M586.4 459.3a1.8 1.8 0 1 0 3.6 0a1.8 1.8 0 1 0-3.6 0M586.4 464.1a1.8 1.8 0 1 0 3.6 0a1.8 1.8 0 1 0-3.6 0M587.0 467.3a1.8 1.8 0 1 0 3.6 0a1.8 1.8 0 1 0-3.6 0M587.9 487.2a1.8 1.8 0 1 0 3.6 0a1.8 1.8 0 1 0-3.6 0M588.0 467.3a1.8 1.8 0 1 0 3.6 0a1.8 1.8 0 1 0-3.6 0M588.7 487.2a1.8 1.8 0 1 0 3.6 0a1.8 1.8 0 1 0-3.6 0M589.0 487.2a1.8 1.8 0 1 0 3.6 0a1.8 1.8 0 1 0-3.6 0M589.5 471.4a1.8 1.8 0 1 0 3.6 0a1.8 1.8 0 1 0-3.6 0M590.3 487.2a1.8 1.8 0 1 0 3.6 0a1.8 1.8 0 1 0-3.6 0M590.6 487.2a1.8 1.8 0 1 0 3.6 0a1.8 1.8 0 1 0-3.6 0M594.0 487.2a1.8 1.8 0 1 0 3.6 0a1.8 1.8 0 1 0-3.6 0M594.2 471.4a1.8 1.8 0 1 0 3.6 0a1.8 1.8 0 1 0-3.6 0M596.2 487.2a1.8 1.8 0 1 0 3.6 0a1.8 1.8 0 1 0-3.6 0M596.7 477.2a1.8 1.8 0 1 0 3.6 0a1.8 1.8 0 1 0-3.6 0M597.8 477.2a1.8 1.8 0 1 0 3.6 0a1.8 1.8 0 1 0-3.6 0M598.1 477.2a1.8 1.8 0 1 0 3.6 0a1.8 1.8 0 1 0-3.6 0M599.3 477.2a1.8 1.8 0 1 0 3.6 0a1.8 1.8 0 1 0-3.6 0M600.3 471.4a1.8 1.8 0 1 0 3.6 0a1.8 1.8 0 1 0-3.6 0M600.7 477.2a1.8 1.8 0 1 0 3.6 0a1.8 1.8 0 1 0-3.6 0M600.8 477.2a1.8 1.8 0 1 0 3.6 0a1.8 1.8 0 1 0-3.6 0M601.9 477.2a1.8 1.8 0 1 0 3.6 0a1.8 1.8 0 1 0-3.6 0M603.0 487.2a1.8 1.8 0 1 0 3.6 0a1.8 1.8 0 1 0-3.6 0M603.0 497.1a1.8 1.8 0 1 0 3.6 0a1.8 1.8 0 1 0-3.6 0M603.9 497.1a1.8 1.8 0 1 0 3.6 0a1.8 1.8 0 1 0-3.6 0M604.4 477.2a1.8 1.8 0 1 0 3.6 0a1.8 1.8 0 1 0-3.6 0M605.1 497.1a1.8 1.8 0 1 0 3.6 0a1.8 1.8 0 1 0-3.6 0M605.2 497.1a1.8 1.8 0 1 0 3.6 0a1.8 1.8 0 1 0-3.6 0M605.8 445.0a1.8 1.8 0 1 0 3.6 0a1.8 1.8 0 1 0-3.6 0M605.8 497.1a1.8 1.8 0 1 0 3.6 0a1.8 1.8 0 1 0-3.6 0M606.0 446.5a1.8 1.8 0 1 0 3.6 0a1.8 1.8 0 1 0-3.6 0M606.2 477.2a1.8 1.8 0 1 0 3.6 0a1.8 1.8 0 1 0-3.6 0M607.9 497.1a1.8 1.8 0 1 0 3.6 0a1.8 1.8 0 1 0-3.6 0M608.2 497.1a1.8 1.8 0 1 0 3.6 0a1.8 1.8 0 1 0-3.6 0M608.5 497.1a1.8 1.8 0 1 0 3.6 0a1.8 1.8 0 1 0-3.6 0M609.8 452.7a1.8 1.8 0 1 0 3.6 0a1.8 1.8 0 1 0-3.6 0M610.9 497.1a1.8 1.8 0 1 0 3.6 0a1.8 1.8 0 1 0-3.6 0M613.0 497.1a1.8 1.8 0 1 0 3.6 0a1.8 1.8 0 1 0-3.6 0M613.2 497.1a1.8 1.8 0 1 0 3.6 0a1.8 1.8 0 1 0-3.6 0M615.3 497.1a1.8 1.8 0 1 0 3.6 0a1.8 1.8 0 1 0-3.6 0M615.4 459.3a1.8 1.8 0 1 0 3.6 0a1.8 1.8 0 1 0-3.6 0M615.9 451.6a1.8 1.8 0 1 0 3.6 0a1.8 1.8 0 1 0-3.6 0M619.8 497.1a1.8 1.8 0 1 0 3.6 0a1.8 1.8 0 1 0-3.6 0M621.6 497.1a1.8 1.8 0 1 0 3.6 0a1.8 1.8 0 1 0-3.6 0M640.2 467.7a1.8 1.8 0 1 0 3.6 0a1.8 1.8 0 1 0-3.6 0M642.7 477.4a1.8 1.8 0 1 0 3.6 0a1.8 1.8 0 1 0-3.6 0" fill="none" stroke="#000" stroke-width="0.9"/><rect x="522.5" y="190.2" width="81.0" height="4.4" fill="#000"/><rect x="515.0" y="180.2" width="85.9" height="4.4" fill="#000"/><rect x="516.5" y="170.2" width="98.4" height="4.4" fill="#000"/><rect x="517.0" y="164.3" width="83.7" height="4.4" fill="#000"/><rect x="504.0" y="494.9" width="109.1" height="4.4" fill="#000"/><rect x="499.5" y="485.0" width="91.2" height="4.4" fill="#000"/><rect x="492.8" y="475.0" width="114.7" height="4.4" fill="#000"/><rect x="499.5" y="469.2" width="87.4" height="4.4" fill="#000"/>
<line x1="79" y1="191.3" x2="336.8" y2="144.3" stroke="#e62a2a" stroke-width="0.8"/><line x1="429.7" y1="153.5" x2="684.3" y2="181.5" stroke="#e62a2a" stroke-width="0.8"/><line x1="78.6" y1="505.5" x2="336.4" y2="457.0" stroke="#e62a2a" stroke-width="0.8"/><line x1="428.7" y1="463.3" x2="684.4" y2="501.5" stroke="#e62a2a" stroke-width="0.8"/>
</svg>
</body></html>
